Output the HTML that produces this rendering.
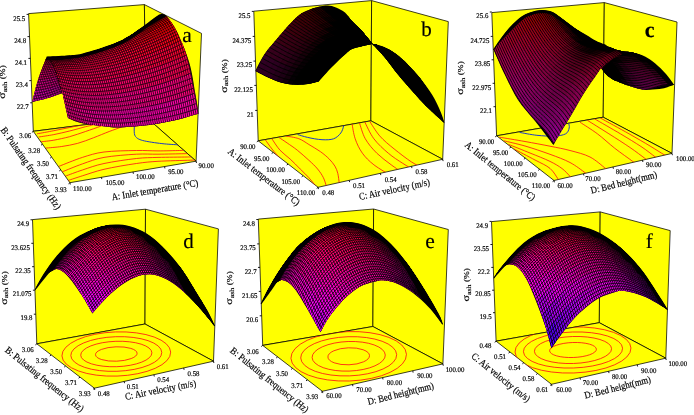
<!DOCTYPE html>
<html><head><meta charset="utf-8"><title>fig</title>
<style>
html,body{margin:0;padding:0;background:#fff}
svg{display:block;will-change:transform}
text{font-family:"Liberation Serif",serif;fill:#000;text-rendering:geometricPrecision;stroke:#000;stroke-width:.18}
.w{fill:#ffff00;stroke:#000;stroke-width:0.75;stroke-linejoin:round}
.t{stroke:#000;stroke-width:0.9}
.c{fill:none;stroke:#ff0a14;stroke-width:0.8}
.cb{fill:none;stroke:#1e3cc0;stroke-width:1}
.k{fill:#000}
</style></head><body>
<svg width="694" height="415" viewBox="0 0 694 415">
<rect width="694" height="415" fill="#fff"/>
<defs><pattern id="h1" patternUnits="userSpaceOnUse" width="2.30" height="8" patternTransform="rotate(-8.0)"><rect x="0" y="0" width="0.42" height="8" fill="#000"/></pattern><pattern id="h2" patternUnits="userSpaceOnUse" width="1.70" height="8" patternTransform="rotate(82.0)"><rect x="0" y="0" width="0.27" height="8" fill="#000"/></pattern></defs>
<polygon points="28.6,13.6 144.4,4.6 146.0,117.0 33.3,131.3" class="w"/>
<polygon points="144.4,4.6 201.5,33.4 196.1,161.2 146.0,117.0" class="w"/>
<polygon points="33.3,131.3 146.0,117.0 196.1,161.2 69.9,182.7" class="w"/>
<clipPath id="fa"><polygon points="33.3,131.3 146.0,117.0 196.1,161.2 69.9,182.7"/></clipPath><g clip-path="url(#fa)">
<path d="M37.1 133.8C39.9 133.3 48.4 131.8 53.8 130.7C59.2 129.6 64.8 128.5 69.6 127.5C74.3 126.5 78.1 125.8 82.3 124.7C86.5 123.6 92.9 121.6 95.0 121.0" class="c"/>
<path d="M38.7 137.0C41.2 136.6 48.6 135.6 53.8 134.6C58.9 133.6 64.3 132.3 69.6 131.0C74.9 129.7 81.5 127.8 85.5 126.7C89.5 125.7 90.2 125.8 93.4 124.7C96.7 123.6 103.1 120.8 105.0 120.0" class="c"/>
<path d="M41.1 141.8C43.2 141.5 49.0 141.0 53.8 140.2C58.5 139.3 64.3 138.1 69.6 136.7C74.9 135.2 80.2 133.3 85.5 131.5C90.8 129.7 96.9 127.7 101.3 125.9C105.7 124.2 110.2 121.8 112.0 121.0" class="c"/>
<path d="M45.8 148.1C48.4 147.8 56.4 147.3 61.7 146.5C67.0 145.7 72.2 144.8 77.5 143.4C82.8 142.0 88.1 139.8 93.4 137.8C98.7 135.8 104.5 133.3 109.2 131.5C114.0 129.7 118.1 128.4 121.9 126.7C125.7 125.0 130.3 122.0 132.0 121.0" class="c"/>
<path d="M59.0 166.3C62.9 164.8 74.9 159.8 82.4 157.4C89.9 155.0 95.0 153.2 104.0 152.0C113.0 150.8 127.4 150.7 136.4 150.5C145.4 150.3 150.8 150.9 158.0 150.9C165.2 150.9 175.4 150.6 179.7 150.5C184.0 150.4 183.3 150.3 184.0 150.3" class="c"/>
<path d="M62.3 171.8C65.7 170.5 75.5 166.3 82.4 163.9C89.4 161.5 95.0 159.0 104.0 157.4C113.0 155.8 127.4 154.7 136.4 154.2C145.4 153.7 150.1 154.3 158.0 154.2C165.9 154.1 179.0 153.8 184.0 153.7C189.0 153.6 187.3 153.5 188.0 153.5" class="c"/>
<path d="M65.5 176.1C68.3 175.1 76.0 172.1 82.4 170.0C88.8 167.9 95.0 165.4 104.0 163.5C113.0 161.6 127.4 159.5 136.4 158.5C145.4 157.5 149.5 157.7 158.0 157.4C166.5 157.2 181.5 157.1 187.2 157.0C192.9 156.9 191.2 156.8 192.0 156.8" class="c"/>
<path d="M68.3 180.4C70.7 179.6 76.5 177.7 82.4 175.8C88.4 174.0 95.0 171.4 104.0 169.3C113.0 167.2 127.4 164.8 136.4 163.5C145.4 162.2 149.0 161.9 158.0 161.3C167.0 160.8 184.2 160.4 190.5 160.2C196.8 160.0 195.1 160.0 196.0 160.0" class="c"/>
<path d="M135.0 122.0C134.9 123.3 134.1 127.6 134.2 130.0C134.3 132.4 134.1 134.8 135.5 136.5C136.9 138.2 138.3 139.3 142.7 140.5C147.1 141.7 156.0 142.9 161.9 143.6C167.8 144.3 175.3 144.6 178.0 144.8" class="cb"/>
</g>
<line x1="33.3" y1="131.3" x2="31.9" y2="132.4" class="t"/>
<line x1="42.5" y1="144.2" x2="41.0" y2="145.2" class="t"/>
<line x1="51.6" y1="157.0" x2="50.2" y2="158.1" class="t"/>
<line x1="60.8" y1="169.8" x2="59.3" y2="170.9" class="t"/>
<line x1="69.9" y1="182.7" x2="68.5" y2="183.8" class="t"/>
<line x1="69.9" y1="182.7" x2="70.3" y2="184.5" class="t"/>
<line x1="101.5" y1="177.3" x2="101.8" y2="179.1" class="t"/>
<line x1="133.0" y1="171.9" x2="133.4" y2="173.8" class="t"/>
<line x1="164.6" y1="166.6" x2="164.9" y2="168.4" class="t"/>
<line x1="196.1" y1="161.2" x2="196.5" y2="163.0" class="t"/>
<line x1="28.6" y1="14.4" x2="26.6" y2="14.4" class="t"/>
<line x1="29.5" y1="36.6" x2="27.5" y2="36.6" class="t"/>
<line x1="30.4" y1="58.4" x2="28.4" y2="58.4" class="t"/>
<line x1="31.3" y1="80.6" x2="29.3" y2="80.6" class="t"/>
<line x1="32.2" y1="102.8" x2="30.2" y2="102.8" class="t"/>
<clipPath id="csa"><path d="M32.3 102.0C33.2 98.3 35.6 87.5 38.0 80.0C40.4 72.5 45.2 60.8 46.6 57.0C50.0 56.8 61.0 56.3 67.0 55.8C73.0 55.3 74.9 55.9 82.7 53.9C90.5 51.9 106.2 46.9 114.0 43.9C121.8 40.9 124.5 39.1 129.7 36.0C134.9 32.9 140.7 28.4 145.4 25.0C150.1 21.6 155.9 17.2 158.0 15.7C158.8 15.5 161.4 14.2 163.0 14.5C164.6 14.8 165.0 14.4 167.3 17.2C169.6 20.0 173.0 23.7 176.7 31.3C180.4 38.9 186.2 52.2 189.3 62.7C192.4 73.2 194.0 86.5 195.4 94.0C196.8 101.5 197.3 104.7 197.8 108.0C198.3 111.3 198.4 112.8 198.5 113.8C197.3 114.1 194.7 114.8 191.3 115.8C188.0 116.8 183.8 118.3 178.4 119.6C173.0 120.9 165.4 122.4 158.9 123.5C152.4 124.6 146.0 125.4 139.5 126.1C133.0 126.8 125.0 127.3 120.0 127.4C115.0 127.5 113.6 127.3 109.2 126.9C104.8 126.5 98.7 125.9 93.4 125.1C88.1 124.3 81.7 123.2 77.5 122.0C73.3 120.8 69.6 118.7 68.0 118.0C67.4 115.2 65.1 105.2 64.2 101.0C63.3 96.8 62.8 94.3 62.5 93.0C60.1 93.8 53.0 96.5 48.0 98.0C43.0 99.5 34.9 101.3 32.3 102.0Z"/></clipPath>
<path d="M32.3 102.0C33.2 98.3 35.6 87.5 38.0 80.0C40.4 72.5 45.2 60.8 46.6 57.0C50.0 56.8 61.0 56.3 67.0 55.8C73.0 55.3 74.9 55.9 82.7 53.9C90.5 51.9 106.2 46.9 114.0 43.9C121.8 40.9 124.5 39.1 129.7 36.0C134.9 32.9 140.7 28.4 145.4 25.0C150.1 21.6 155.9 17.2 158.0 15.7C158.8 15.5 161.4 14.2 163.0 14.5C164.6 14.8 165.0 14.4 167.3 17.2C169.6 20.0 173.0 23.7 176.7 31.3C180.4 38.9 186.2 52.2 189.3 62.7C192.4 73.2 194.0 86.5 195.4 94.0C196.8 101.5 197.3 104.7 197.8 108.0C198.3 111.3 198.4 112.8 198.5 113.8C197.3 114.1 194.7 114.8 191.3 115.8C188.0 116.8 183.8 118.3 178.4 119.6C173.0 120.9 165.4 122.4 158.9 123.5C152.4 124.6 146.0 125.4 139.5 126.1C133.0 126.8 125.0 127.3 120.0 127.4C115.0 127.5 113.6 127.3 109.2 126.9C104.8 126.5 98.7 125.9 93.4 125.1C88.1 124.3 81.7 123.2 77.5 122.0C73.3 120.8 69.6 118.7 68.0 118.0C67.4 115.2 65.1 105.2 64.2 101.0C63.3 96.8 62.8 94.3 62.5 93.0C60.1 93.8 53.0 96.5 48.0 98.0C43.0 99.5 34.9 101.3 32.3 102.0Z" fill="#000"/>
<g clip-path="url(#csa)">
<path d="M137.8 43.8l4.3-8.1 7.3-5.6-4.5 7.9z" fill="#ff0049" stroke="#ff0049" stroke-width=".7"/>
<path d="M130.7 49.3l4.2-8.2 7.2-5.4-4.3 8.1z" fill="#ff0056" stroke="#ff0056" stroke-width=".7"/>
<path d="M123.6 54.7l4.1-8.5 7.2-5.1-4.2 8.2z" fill="#ff0063" stroke="#ff0063" stroke-width=".7"/>
<path d="M116.6 59.8l3.9-8.6 7.2-5-4.1 8.5z" fill="#ff006f" stroke="#ff006f" stroke-width=".7"/>
<path d="M109.5 64.8l3.8-8.9 7.2-4.7-3.9 8.6z" fill="#ff007b" stroke="#ff007b" stroke-width=".7"/>
<path d="M102.5 69.5l3.6-9 7.2-4.6-3.8 8.9z" fill="#ff0086" stroke="#ff0086" stroke-width=".7"/>
<path d="M95.4 74.1l3.6-9.2 7.1-4.4-3.6 9z" fill="#ff0091" stroke="#ff0091" stroke-width=".7"/>
<path d="M88.4 78.5l3.4-9.4 7.2-4.2-3.6 9.2z" fill="#ff009a" stroke="#ff009a" stroke-width=".7"/>
<path d="M81.4 82.7l3.3-9.6 7.1-4-3.4 9.4z" fill="#ff00a4" stroke="#ff00a4" stroke-width=".7"/>
<path d="M74.4 86.6l3.1-9.8 7.2-3.7-3.3 9.6z" fill="#ff00ac" stroke="#ff00ac" stroke-width=".7"/>
<path d="M67.3 90.2l3.1-10 7.1-3.4-3.1 9.8z" fill="#ff00b4" stroke="#ff00b4" stroke-width=".7"/>
<path d="M60.3 93.5l3-10.3 7.1-3-3.1 10z" fill="#ff00bb" stroke="#ff00bb" stroke-width=".7"/>
<path d="M53.3 96.4l2.8-10.5 7.2-2.7-3 10.3z" fill="#ff00c1" stroke="#ff00c1" stroke-width=".7"/>
<path d="M46.3 98.8l2.7-10.8 7.1-2.1-2.8 10.5z" fill="#ff00c5" stroke="#ff00c5" stroke-width=".7"/>
<path d="M142.1 35.7l4.5-7.4 7.4-5.4-4.6 7.2z" fill="#ff002c" stroke="#ff002c" stroke-width=".7"/>
<path d="M134.9 41.1l4.3-7.6 7.4-5.2-4.5 7.4z" fill="#ff0039" stroke="#ff0039" stroke-width=".7"/>
<path d="M39.2 100.6l2.6-11 7.2-1.6-2.7 10.8z" fill="#ff00c9" stroke="#ff00c9" stroke-width=".7"/>
<path d="M127.7 46.2l4.2-7.8 7.3-4.9-4.3 7.6z" fill="#ff0045" stroke="#ff0045" stroke-width=".7"/>
<path d="M120.5 51.2l4-8 7.4-4.8-4.2 7.8z" fill="#ff0051" stroke="#ff0051" stroke-width=".7"/>
<path d="M113.3 55.9l3.9-8.2 7.3-4.5-4 8z" fill="#ff005c" stroke="#ff005c" stroke-width=".7"/>
<path d="M32.1 101.8l2.5-11.3 7.2-.9-2.6 11z" fill="#ff00ca" stroke="#ff00ca" stroke-width=".7"/>
<path d="M106.1 60.5l3.8-8.4 7.3-4.4-3.9 8.2z" fill="#ff0066" stroke="#ff0066" stroke-width=".7"/>
<path d="M99 64.9l3.6-8.7 7.3-4.1-3.8 8.4z" fill="#ff0070" stroke="#ff0070" stroke-width=".7"/>
<path d="M91.8 69.1l3.5-8.9 7.3-4-3.6 8.7z" fill="#ff0079" stroke="#ff0079" stroke-width=".7"/>
<path d="M84.7 73.1l3.4-9.2 7.2-3.7-3.5 8.9z" fill="#ff0082" stroke="#ff0082" stroke-width=".7"/>
<path d="M77.5 76.8l3.3-9.4 7.3-3.5-3.4 9.2z" fill="#ff0089" stroke="#ff0089" stroke-width=".7"/>
<path d="M70.4 80.2l3.1-9.6 7.3-3.2-3.3 9.4z" fill="#ff0091" stroke="#ff0091" stroke-width=".7"/>
<path d="M63.3 83.2l3-9.8 7.2-2.8-3.1 9.6z" fill="#ff0097" stroke="#ff0097" stroke-width=".7"/>
<path d="M56.1 85.9l2.9-10.1 7.3-2.4-3 9.8z" fill="#ff009c" stroke="#ff009c" stroke-width=".7"/>
<path d="M146.6 28.3l4.5-5.7 7.6-5.2-4.7 5.5z" fill="#000000" stroke="#000000" stroke-width=".7"/>
<path d="M139.2 33.5l4.4-5.9 7.5-5-4.5 5.7z" fill="#000000" stroke="#000000" stroke-width=".7"/>
<path d="M49 88l2.7-10.3 7.3-1.9-2.9 10.1z" fill="#ff00a0" stroke="#ff00a0" stroke-width=".7"/>
<path d="M131.9 38.4l4.3-6.1 7.4-4.7-4.4 5.9z" fill="#000000" stroke="#000000" stroke-width=".7"/>
<path d="M124.5 43.2l4.2-6.4 7.5-4.5-4.3 6.1z" fill="#ff0036" stroke="#ff0036" stroke-width=".7"/>
<path d="M117.2 47.7l4-6.5 7.5-4.4-4.2 6.4z" fill="#ff0040" stroke="#ff0040" stroke-width=".7"/>
<path d="M41.8 89.6l2.6-10.6 7.3-1.3-2.7 10.3z" fill="#ff00a2" stroke="#ff00a2" stroke-width=".7"/>
<path d="M109.9 52.1l3.9-6.8 7.4-4.1-4 6.5z" fill="#ff004a" stroke="#ff004a" stroke-width=".7"/>
<path d="M102.6 56.2l3.8-7 7.4-3.9-3.9 6.8z" fill="#ff0053" stroke="#ff0053" stroke-width=".7"/>
<path d="M34.6 90.5l2.5-10.9 7.3-.6-2.6 10.6z" fill="#ff00a3" stroke="#ff00a3" stroke-width=".7"/>
<path d="M95.3 60.2l3.7-7.3 7.4-3.7-3.8 7z" fill="#ff005b" stroke="#ff005b" stroke-width=".7"/>
<path d="M88.1 63.9l3.5-7.5 7.4-3.5-3.7 7.3z" fill="#ff0063" stroke="#ff0063" stroke-width=".7"/>
<path d="M80.8 67.4l3.4-7.8 7.4-3.2-3.5 7.5z" fill="#ff006a" stroke="#ff006a" stroke-width=".7"/>
<path d="M73.5 70.6l3.3-8.1 7.4-2.9-3.4 7.8z" fill="#ff0070" stroke="#ff0070" stroke-width=".7"/>
<path d="M66.3 73.4l3.1-8.3 7.4-2.6-3.3 8.1z" fill="#ff0076" stroke="#ff0076" stroke-width=".7"/>
<path d="M151.1 22.6l4.7-3 7.6-5-4.7 2.8z" fill="#000000" stroke="#000000" stroke-width=".7"/>
<path d="M143.6 27.6l4.5-3.2 7.7-4.8-4.7 3z" fill="#000000" stroke="#000000" stroke-width=".7"/>
<path d="M59 75.8l3-8.6 7.4-2.1-3.1 8.3z" fill="#ff007a" stroke="#ff007a" stroke-width=".7"/>
<path d="M136.2 32.3l4.3-3.5 7.6-4.4-4.5 3.2z" fill="#000000" stroke="#000000" stroke-width=".7"/>
<path d="M128.7 36.8l4.2-3.7 7.6-4.3-4.3 3.5z" fill="#000000" stroke="#000000" stroke-width=".7"/>
<path d="M51.7 77.7l2.9-8.9 7.4-1.6-3 8.6z" fill="#ff007d" stroke="#ff007d" stroke-width=".7"/>
<path d="M121.2 41.2l4.1-4 7.6-4.1-4.2 3.7z" fill="#000000" stroke="#000000" stroke-width=".7"/>
<path d="M113.8 45.3l4-4.3 7.5-3.8-4.1 4z" fill="#000000" stroke="#000000" stroke-width=".7"/>
<path d="M44.4 79l2.8-9.1 7.4-1.1-2.9 8.9z" fill="#ff007f" stroke="#ff007f" stroke-width=".7"/>
<path d="M106.4 49.2l3.8-4.5 7.6-3.7-4 4.3z" fill="#000000" stroke="#000000" stroke-width=".7"/>
<path d="M99 52.9l3.7-4.7 7.5-3.5-3.8 4.5z" fill="#000000" stroke="#000000" stroke-width=".7"/>
<path d="M37.1 79.6l2.6-9.4 7.5-.3-2.8 9.1z" fill="#ff007f" stroke="#ff007f" stroke-width=".7"/>
<path d="M91.6 56.4l3.6-5 7.5-3.2-3.7 4.7z" fill="#ff004a" stroke="#ff004a" stroke-width=".7"/>
<path d="M84.2 59.6l3.4-5.3 7.6-2.9-3.6 5z" fill="#ff0051" stroke="#ff0051" stroke-width=".7"/>
<path d="M155.8 19.6l4.6 .3 7.8-4.7-4.8-.6z" fill="#000000" stroke="#000000" stroke-width=".7"/>
<path d="M76.8 62.5l3.3-5.5 7.5-2.7-3.4 5.3z" fill="#ff0056" stroke="#ff0056" stroke-width=".7"/>
<path d="M148.1 24.4l4.6 0 7.7-4.5-4.6-.3z" fill="#000000" stroke="#000000" stroke-width=".7"/>
<path d="M140.5 28.8l4.4-.2 7.8-4.2-4.6 0z" fill="#000000" stroke="#000000" stroke-width=".7"/>
<path d="M69.4 65.1l3.2-5.9 7.5-2.2-3.3 5.5z" fill="#ff005b" stroke="#ff005b" stroke-width=".7"/>
<path d="M132.9 33.1l4.3-.5 7.7-4-4.4 .2z" fill="#000000" stroke="#000000" stroke-width=".7"/>
<path d="M125.3 37.2l4.2-.8 7.7-3.8-4.3 .5z" fill="#000000" stroke="#000000" stroke-width=".7"/>
<path d="M62 67.2l3.1-6.1 7.5-1.9-3.2 5.9z" fill="#ff005f" stroke="#ff005f" stroke-width=".7"/>
<path d="M117.8 41l4-1 7.7-3.6-4.2 .8z" fill="#000000" stroke="#000000" stroke-width=".7"/>
<path d="M54.6 68.8l2.9-6.4 7.6-1.3-3.1 6.1z" fill="#ff0061" stroke="#ff0061" stroke-width=".7"/>
<path d="M110.2 44.7l3.9-1.3 7.7-3.4-4 1z" fill="#000000" stroke="#000000" stroke-width=".7"/>
<path d="M102.7 48.2l3.8-1.6 7.6-3.2-3.9 1.3z" fill="#000000" stroke="#000000" stroke-width=".7"/>
<path d="M47.2 69.9l2.8-6.8 7.5-.7-2.9 6.4z" fill="#ff0062" stroke="#ff0062" stroke-width=".7"/>
<path d="M160.4 19.9l4.6 4 7.9-4.5-4.7-4.2z" fill="#f10000" stroke="#f10000" stroke-width=".7"/>
<path d="M95.2 51.4l3.6-1.8 7.7-3-3.8 1.6z" fill="#000000" stroke="#000000" stroke-width=".7"/>
<path d="M152.7 24.4l4.5 3.7 7.8-4.2-4.6-4z" fill="#ff0000" stroke="#ff0000" stroke-width=".7"/>
<path d="M87.6 54.3l3.6-2.1 7.6-2.6-3.6 1.8z" fill="#000000" stroke="#000000" stroke-width=".7"/>
<path d="M39.7 70.2l2.7-7 7.6-.1-2.8 6.8z" fill="#ff0061" stroke="#ff0061" stroke-width=".7"/>
<path d="M144.9 28.6l4.4 3.5 7.9-4-4.5-3.7z" fill="#ff0009" stroke="#ff0009" stroke-width=".7"/>
<path d="M137.2 32.6l4.3 3.2 7.8-3.7-4.4-3.5z" fill="#ff0012" stroke="#ff0012" stroke-width=".7"/>
<path d="M80.1 57l3.5-2.4 7.6-2.4-3.6 2.1z" fill="#000000" stroke="#000000" stroke-width=".7"/>
<path d="M129.5 36.4l4.2 2.9 7.8-3.5-4.3-3.2z" fill="#ff0019" stroke="#ff0019" stroke-width=".7"/>
<path d="M72.6 59.2l3.3-2.7 7.7-1.9-3.5 2.4z" fill="#000000" stroke="#000000" stroke-width=".7"/>
<path d="M121.8 40l4.1 2.7 7.8-3.4-4.2-2.9z" fill="#ff0020" stroke="#ff0020" stroke-width=".7"/>
<path d="M114.1 43.4l4 2.4 7.8-3.1-4.1-2.7z" fill="#ff0027" stroke="#ff0027" stroke-width=".7"/>
<path d="M65.1 61.1l3.2-3 7.6-1.6-3.3 2.7z" fill="#000000" stroke="#000000" stroke-width=".7"/>
<path d="M165 23.9l4.6 7.9 8-4.2-4.7-8.2z" fill="#ff0000" stroke="#ff0000" stroke-width=".7"/>
<path d="M106.5 46.6l3.9 2.1 7.7-2.9-4-2.4z" fill="#ff002d" stroke="#ff002d" stroke-width=".7"/>
<path d="M157.2 28.1l4.4 7.6 8-3.9-4.6-7.9z" fill="#ff0009" stroke="#ff0009" stroke-width=".7"/>
<path d="M57.5 62.4l3.1-3.3 7.7-1-3.2 3z" fill="#000000" stroke="#000000" stroke-width=".7"/>
<path d="M149.3 32.1l4.4 7.3 7.9-3.7-4.4-7.6z" fill="#ff0011" stroke="#ff0011" stroke-width=".7"/>
<path d="M98.8 49.6l3.8 1.7 7.8-2.6-3.9-2.1z" fill="#ff0032" stroke="#ff0032" stroke-width=".7"/>
<path d="M141.5 35.8l4.3 7.1 7.9-3.5-4.4-7.3z" fill="#ff0018" stroke="#ff0018" stroke-width=".7"/>
<path d="M50 63.1l3-3.6 7.6-.4-3.1 3.3z" fill="#ff004c" stroke="#ff004c" stroke-width=".7"/>
<path d="M91.2 52.2l3.6 1.5 7.8-2.4-3.8-1.7z" fill="#000000" stroke="#000000" stroke-width=".7"/>
<path d="M133.7 39.3l4.2 6.8 7.9-3.2-4.3-7.1z" fill="#ff001f" stroke="#ff001f" stroke-width=".7"/>
<path d="M169.6 31.8l4.4 11.7 8.1-3.9-4.5-12z" fill="#ff0013" stroke="#ff0013" stroke-width=".7"/>
<path d="M83.6 54.6l3.5 1.1 7.7-2-3.6-1.5z" fill="#000000" stroke="#000000" stroke-width=".7"/>
<path d="M125.9 42.7l4.1 6.4 7.9-3-4.2-6.8z" fill="#ff0025" stroke="#ff0025" stroke-width=".7"/>
<path d="M42.4 63.2l2.9-4 7.7 .3-3 3.6z" fill="#ff004b" stroke="#ff004b" stroke-width=".7"/>
<path d="M161.6 35.7l4.4 11.5 8-3.7-4.4-11.7z" fill="#ff001b" stroke="#ff001b" stroke-width=".7"/>
<path d="M118.1 45.8l4 6.1 7.9-2.8-4.1-6.4z" fill="#ff002b" stroke="#ff002b" stroke-width=".7"/>
<path d="M75.9 56.5l3.5 .9 7.7-1.7-3.5-1.1z" fill="#000000" stroke="#000000" stroke-width=".7"/>
<path d="M153.7 39.4l4.3 11.1 8-3.3-4.4-11.5z" fill="#ff0022" stroke="#ff0022" stroke-width=".7"/>
<path d="M110.4 48.7l3.8 5.8 7.9-2.6-4-6.1z" fill="#ff0030" stroke="#ff0030" stroke-width=".7"/>
<path d="M145.8 42.9l4.2 10.8 8-3.2-4.3-11.1z" fill="#ff0029" stroke="#ff0029" stroke-width=".7"/>
<path d="M68.3 58.1l3.3 .5 7.8-1.2-3.5-.9z" fill="#000000" stroke="#000000" stroke-width=".7"/>
<path d="M174 43.5l4.3 15.2 8.1-3.7-4.3-15.4z" fill="#ff002f" stroke="#ff002f" stroke-width=".7"/>
<path d="M102.6 51.3l3.8 5.5 7.8-2.3-3.8-5.8z" fill="#ff0034" stroke="#ff0034" stroke-width=".7"/>
<path d="M137.9 46.1l4.1 10.5 8-2.9-4.2-10.8z" fill="#ff002e" stroke="#ff002e" stroke-width=".7"/>
<path d="M166 47.2l4.2 14.8 8.1-3.3-4.3-15.2z" fill="#ff0036" stroke="#ff0036" stroke-width=".7"/>
<path d="M60.6 59.1l3.2 .1 7.8-.6-3.3-.5z" fill="#000000" stroke="#000000" stroke-width=".7"/>
<path d="M130 49.1l4 10.2 8-2.7-4.1-10.5z" fill="#ff0034" stroke="#ff0034" stroke-width=".7"/>
<path d="M94.8 53.7l3.8 5.2 7.8-2.1-3.8-5.5z" fill="#ff0038" stroke="#ff0038" stroke-width=".7"/>
<path d="M158 50.5l4.1 14.5 8.1-3-4.2-14.8z" fill="#ff003c" stroke="#ff003c" stroke-width=".7"/>
<path d="M178.3 58.7l4 17.9 8.2-3.3-4.1-18.3z" fill="#ff0053" stroke="#ff0053" stroke-width=".7"/>
<path d="M122.1 51.9l4 9.9 7.9-2.5-4-10.2z" fill="#ff0038" stroke="#ff0038" stroke-width=".7"/>
<path d="M150 53.7l4.1 14.1 8-2.8-4.1-14.5z" fill="#ff0042" stroke="#ff0042" stroke-width=".7"/>
<path d="M87.1 55.7l3.6 4.9 7.9-1.7-3.8-5.2z" fill="#ff003b" stroke="#ff003b" stroke-width=".7"/>
<path d="M53 59.5l3-.2 7.8-.1-3.2-.1z" fill="#000000" stroke="#000000" stroke-width=".7"/>
<path d="M170.2 62l4 17.5 8.1-2.9-4-17.9z" fill="#ff0058" stroke="#ff0058" stroke-width=".7"/>
<path d="M114.2 54.5l3.9 9.5 8-2.2-4-9.9z" fill="#ff003c" stroke="#ff003c" stroke-width=".7"/>
<path d="M182.3 76.6l3.9 19.6 8.2-2.9-3.9-20z" fill="#ff007b" stroke="#ff007b" stroke-width=".7"/>
<path d="M142 56.6l4 13.8 8.1-2.6-4.1-14.1z" fill="#ff0046" stroke="#ff0046" stroke-width=".7"/>
<path d="M162.1 65l4 17.3 8.1-2.8-4-17.5z" fill="#ff005d" stroke="#ff005d" stroke-width=".7"/>
<path d="M79.4 57.4l3.5 4.5 7.8-1.3-3.6-4.9z" fill="#ff003d" stroke="#ff003d" stroke-width=".7"/>
<path d="M45.3 59.2l2.9-.5 7.8 .6-3 .2z" fill="#000000" stroke="#000000" stroke-width=".7"/>
<path d="M174.2 79.5l3.9 19.4 8.1-2.7-3.9-19.6z" fill="#ff0080" stroke="#ff0080" stroke-width=".7"/>
<path d="M134 59.3l4 13.5 8-2.4-4-13.8z" fill="#ff004b" stroke="#ff004b" stroke-width=".7"/>
<path d="M106.4 56.8l3.8 9.2 7.9-2-3.9-9.5z" fill="#ff0040" stroke="#ff0040" stroke-width=".7"/>
<path d="M154.1 67.8l3.9 16.9 8.1-2.4-4-17.3z" fill="#ff0062" stroke="#ff0062" stroke-width=".7"/>
<path d="M186.2 96.2l3.7 20.2 8.2-2.6-3.7-20.5z" fill="#ff00a5" stroke="#ff00a5" stroke-width=".7"/>
<path d="M71.6 58.6l3.4 4.2 7.9-.9-3.5-4.5z" fill="#ff003e" stroke="#ff003e" stroke-width=".7"/>
<path d="M166.1 82.3l3.9 18.9 8.1-2.3-3.9-19.4z" fill="#ff0083" stroke="#ff0083" stroke-width=".7"/>
<path d="M126.1 61.8l3.9 13.2 8-2.2-4-13.5z" fill="#ff004e" stroke="#ff004e" stroke-width=".7"/>
<path d="M98.6 58.9l3.7 8.8 7.9-1.7-3.8-9.2z" fill="#ff0042" stroke="#ff0042" stroke-width=".7"/>
<path d="M146 70.4l4 16.6 8-2.3-3.9-16.9z" fill="#ff0065" stroke="#ff0065" stroke-width=".7"/>
<path d="M178.1 98.9l3.7 19.7 8.1-2.2-3.7-20.2z" fill="#ff00a9" stroke="#ff00a9" stroke-width=".7"/>
<path d="M63.8 59.2l3.3 3.9 7.9-.3-3.4-4.2z" fill="#ff003e" stroke="#ff003e" stroke-width=".7"/>
<path d="M158 84.7l3.9 18.6 8.1-2.1-3.9-18.9z" fill="#ff0087" stroke="#ff0087" stroke-width=".7"/>
<path d="M118.1 64l3.9 12.9 8-1.9-3.9-13.2z" fill="#ff0051" stroke="#ff0051" stroke-width=".7"/>
<path d="M90.7 60.6l3.7 8.5 7.9-1.4-3.7-8.8z" fill="#ff0044" stroke="#ff0044" stroke-width=".7"/>
<path d="M138 72.8l3.9 16.2 8.1-2-4-16.6z" fill="#ff0069" stroke="#ff0069" stroke-width=".7"/>
<path d="M170 101.2l3.7 19.4 8.1-2-3.7-19.7z" fill="#ff00ac" stroke="#ff00ac" stroke-width=".7"/>
<path d="M150 87l3.8 18.2 8.1-1.9-3.9-18.6z" fill="#ff0089" stroke="#ff0089" stroke-width=".7"/>
<path d="M110.2 66l3.8 12.5 8-1.6-3.9-12.9z" fill="#ff0054" stroke="#ff0054" stroke-width=".7"/>
<path d="M56 59.3l3.2 3.5 7.9 .3-3.3-3.9z" fill="#ff003c" stroke="#ff003c" stroke-width=".7"/>
<path d="M130 75l3.9 15.8 8-1.8-3.9-16.2z" fill="#ff006b" stroke="#ff006b" stroke-width=".7"/>
<path d="M82.9 61.9l3.5 8.2 8-1-3.7-8.5z" fill="#ff0045" stroke="#ff0045" stroke-width=".7"/>
<path d="M161.9 103.3l3.7 19 8.1-1.7-3.7-19.4z" fill="#ff00ae" stroke="#ff00ae" stroke-width=".7"/>
<path d="M141.9 89l3.8 17.8 8.1-1.6-3.8-18.2z" fill="#ff008b" stroke="#ff008b" stroke-width=".7"/>
<path d="M102.3 67.7l3.7 12.2 8-1.4-3.8-12.5z" fill="#ff0055" stroke="#ff0055" stroke-width=".7"/>
<path d="M122 76.9l3.8 15.4 8.1-1.5-3.9-15.8z" fill="#ff006d" stroke="#ff006d" stroke-width=".7"/>
<path d="M153.8 105.2l3.7 18.5 8.1-1.4-3.7-19z" fill="#ff00af" stroke="#ff00af" stroke-width=".7"/>
<path d="M75 62.8l3.5 7.8 7.9-.5-3.5-8.2z" fill="#ff0045" stroke="#ff0045" stroke-width=".7"/>
<path d="M48.2 58.7l3.1 3.1 7.9 1-3.2-3.5z" fill="#ff0039" stroke="#ff0039" stroke-width=".7"/>
<path d="M133.9 90.8l3.7 17.4 8.1-1.4-3.8-17.8z" fill="#ff008d" stroke="#ff008d" stroke-width=".7"/>
<path d="M94.4 69.1l3.6 11.8 8-1-3.7-12.2z" fill="#ff0056" stroke="#ff0056" stroke-width=".7"/>
<path d="M114 78.5l3.8 15.1 8-1.3-3.8-15.4z" fill="#ff006e" stroke="#ff006e" stroke-width=".7"/>
<path d="M145.7 106.8l3.7 18.2 8.1-1.3-3.7-18.5z" fill="#ff00b0" stroke="#ff00b0" stroke-width=".7"/>
<path d="M67.1 63.1l3.4 7.5 8 0-3.5-7.8z" fill="#ff0044" stroke="#ff0044" stroke-width=".7"/>
<path d="M125.8 92.3l3.8 17 8-1.1-3.7-17.4z" fill="#ff008e" stroke="#ff008e" stroke-width=".7"/>
<path d="M86.4 70.1l3.6 11.4 8-.6-3.6-11.8z" fill="#ff0056" stroke="#ff0056" stroke-width=".7"/>
<path d="M106 79.9l3.8 14.6 8-.9-3.8-15.1z" fill="#ff006f" stroke="#ff006f" stroke-width=".7"/>
<path d="M137.6 108.2l3.7 17.7 8.1-.9-3.7-18.2z" fill="#ff00b0" stroke="#ff00b0" stroke-width=".7"/>
<path d="M59.2 62.8l3.4 7.1 7.9 .7-3.4-7.5z" fill="#ff0042" stroke="#ff0042" stroke-width=".7"/>
<path d="M117.8 93.6l3.7 16.6 8.1-.9-3.8-17z" fill="#ff008e" stroke="#ff008e" stroke-width=".7"/>
<path d="M78.5 70.6l3.5 11 8-.1-3.6-11.4z" fill="#ff0055" stroke="#ff0055" stroke-width=".7"/>
<path d="M98 80.9l3.7 14.3 8.1-.7-3.8-14.6z" fill="#ff006f" stroke="#ff006f" stroke-width=".7"/>
<path d="M129.6 109.3l3.7 17.4 8-.8-3.7-17.7z" fill="#ff00b0" stroke="#ff00b0" stroke-width=".7"/>
<path d="M109.8 94.5l3.6 16.3 8.1-.6-3.7-16.6z" fill="#ff008d" stroke="#ff008d" stroke-width=".7"/>
<path d="M51.3 61.8l3.2 6.7 8.1 1.4-3.4-7.1z" fill="#ff003d" stroke="#ff003d" stroke-width=".7"/>
<path d="M90 81.5l3.7 13.9 8-.2-3.7-14.3z" fill="#ff006e" stroke="#ff006e" stroke-width=".7"/>
<path d="M70.5 70.6l3.5 10.6 8 .4-3.5-11z" fill="#ff0053" stroke="#ff0053" stroke-width=".7"/>
<path d="M121.5 110.2l3.7 16.9 8.1-.4-3.7-17.4z" fill="#ff00af" stroke="#ff00af" stroke-width=".7"/>
<path d="M101.7 95.2l3.7 15.8 8-.2-3.6-16.3z" fill="#ff008c" stroke="#ff008c" stroke-width=".7"/>
<path d="M82 81.6l3.6 13.5 8.1 .3-3.7-13.9z" fill="#ff006c" stroke="#ff006c" stroke-width=".7"/>
<path d="M62.6 69.9l3.3 10.2 8.1 1.1-3.5-10.6z" fill="#ff004f" stroke="#ff004f" stroke-width=".7"/>
<path d="M113.4 110.8l3.7 16.5 8.1-.2-3.7-16.9z" fill="#ff00ad" stroke="#ff00ad" stroke-width=".7"/>
<path d="M93.7 95.4l3.6 15.4 8.1 .2-3.7-15.8z" fill="#ff008a" stroke="#ff008a" stroke-width=".7"/>
<path d="M74 81.2l3.5 13.1 8.1 .8-3.6-13.5z" fill="#ff0068" stroke="#ff0068" stroke-width=".7"/>
<path d="M105.4 111l3.6 16 8.1 .3-3.7-16.5z" fill="#ff00ab" stroke="#ff00ab" stroke-width=".7"/>
<path d="M54.5 68.5l3.3 9.8 8.1 1.8-3.3-10.2z" fill="#ff004a" stroke="#ff004a" stroke-width=".7"/>
<path d="M85.6 95.1l3.6 15 8.1 .7-3.6-15.4z" fill="#ff0087" stroke="#ff0087" stroke-width=".7"/>
<path d="M65.9 80.1l3.5 12.7 8.1 1.5-3.5-13.1z" fill="#ff0064" stroke="#ff0064" stroke-width=".7"/>
<path d="M97.3 110.8l3.5 15.6 8.2 .6-3.6-16z" fill="#ff00a8" stroke="#ff00a8" stroke-width=".7"/>
<path d="M77.5 94.3l3.5 14.6 8.2 1.2-3.6-15z" fill="#ff0082" stroke="#ff0082" stroke-width=".7"/>
<path d="M89.2 110.1l3.5 15.1 8.1 1.2-3.5-15.6z" fill="#ff00a3" stroke="#ff00a3" stroke-width=".7"/>
<path d="M57.8 78.3l3.4 12.3 8.2 2.2-3.5-12.7z" fill="#ff005d" stroke="#ff005d" stroke-width=".7"/>
<path d="M69.4 92.8l3.4 14.1 8.2 2-3.5-14.6z" fill="#ff007c" stroke="#ff007c" stroke-width=".7"/>
<path d="M81 108.9l3.5 14.6 8.2 1.7-3.5-15.1z" fill="#ff009d" stroke="#ff009d" stroke-width=".7"/>
<path d="M61.2 90.6l3.4 13.7 8.2 2.6-3.4-14.1z" fill="#ff0075" stroke="#ff0075" stroke-width=".7"/>
<path d="M72.8 106.9l3.5 14.2 8.2 2.4-3.5-14.6z" fill="#ff0096" stroke="#ff0096" stroke-width=".7"/>
<path d="M64.6 104.3l3.4 13.7 8.3 3.1-3.5-14.2z" fill="#ff008e" stroke="#ff008e" stroke-width=".7"/>
<path d="M32.1 101.8l1.8-.2 1.8-.3 1.7-.3 1.8-.4 1.8-.4 1.7-.4 1.8-.5 1.8-.5 1.7-.6 1.8-.6 1.7-.6 1.8-.6 1.8-.7 1.7-.7 1.8-.7 1.7-.8 1.8-.8M32.7 99l1.8-.2 1.8-.3 1.8-.3 1.7-.3 1.8-.4 1.8-.4 1.8-.5 1.7-.5 1.8-.5 1.8-.6 1.7-.6 1.8-.6 1.8-.7 1.7-.7 1.8-.7 1.8-.7M33.4 96.2l1.7-.2 1.8-.2 1.8-.3 1.8-.3 1.8-.4 1.8-.4 1.7-.5 1.8-.5 1.8-.5 1.8-.5 1.7-.6 1.8-.6 1.8-.7 1.7-.7 1.8-.7 1.8-.7M34 93.4l1.8-.2 1.8-.2 1.8-.3 1.7-.3 1.8-.4 1.8-.4 1.8-.4 1.8-.5 1.8-.5 1.7-.5 1.8-.6 1.8-.6 1.8-.6 1.8-.7 1.7-.7M34.6 90.5l1.8-.1 1.8-.2 1.8-.3 1.8-.3 1.8-.3 1.8-.4 1.8-.4 1.8-.5 1.8-.4 1.7-.6 1.8-.5 1.8-.6 1.8-.6 1.8-.7M35.2 87.7l1.8-.1 1.8-.2 1.8-.2 1.8-.3 1.8-.3 1.8-.4 1.8-.4 1.8-.4 1.8-.5 1.8-.5 1.8-.5 1.8-.6 1.8-.6M35.8 85l1.9-.1 1.8-.2 1.8-.2 1.8-.3 1.8-.3 1.8-.4 1.8-.3 1.8-.5 1.8-.4 1.8-.5 1.9-.5 1.8-.6 1.8-.6M36.5 82.3l1.8-.1 1.8-.2 1.8-.2 1.9-.2 1.8-.3 1.8-.4 1.8-.3 1.8-.4 1.8-.5 1.9-.4 1.8-.5 1.8-.6M37.1 79.6l1.8 0 1.9-.2 1.8-.2 1.8-.2 1.9-.3 1.8-.3 1.8-.3 1.8-.4 1.8-.4 1.9-.5 1.8-.5M37.8 77.1l1.8-.1 1.8-.1 1.9-.1 1.8-.3 1.8-.2 1.9-.3 1.8-.3 1.8-.4 1.9-.4 1.8-.5M38.4 74.7l1.8-.1 1.9-.1 1.8-.1 1.9-.2 1.8-.2 1.9-.3 1.8-.3 1.8-.4 1.9-.4 1.8-.4M39.1 72.4l1.8-.1 1.9 0 1.8-.2 1.9-.1 1.8-.3 1.9-.2 1.8-.3 1.9-.3 1.8-.4M39.7 70.2l1.9 0 1.8-.1 1.9-.1 1.9-.1 1.8-.2 1.9-.3 1.8-.2 1.9-.4M153 21.4l1.9-1.3 1.9-1.3 1.9-1.4M40.4 68.2l1.9 0 1.8 0 1.9-.1 1.9-.2 1.8-.2 1.9-.2 1.9-.2M139.1 30l1.9-1.1M142.9 27.7l1.9-1.2 1.8-1.2 1.9-1.2 1.9-1.2 1.9-1.3 1.9-1.2 1.9-1.3 1.9-1.3 1.9-1.4M41.1 66.3l1.8 .1 1.9-.1 1.9 0 1.9-.2 1.8-.1 1.9-.2 1.9-.3M125.2 37.8l1.8-1.1 1.9-1 1.9-1.1 1.9-1.1 1.9-1.1 1.8-1.1 1.9-1.1 1.9-1.1 1.9-1.2 1.9-1.1 1.9-1.2 1.9-1.2 1.9-1.2 1.9-1.2 1.8-1.2 1.9-1.3 1.9-1.3 1.9-1.2 1.9-1.4M41.7 64.7l1.9 0 1.9 0 1.9-.1 1.9-.1 1.9-.1 1.8-.2M113 43.7l1.9-.9M116.8 41.8l1.9-.9 1.8-1 1.9-1 1.9-1 1.9-1 1.9-1.1 1.9-1 1.9-1 1.8-1.1 1.9-1.1 1.9-1.1 1.9-1.1 1.9-1.1 1.9-1.1 1.9-1.2 1.9-1.1 1.9-1.2 1.9-1.2 1.9-1.2 1.9-1.2 1.9-1.2 1.9-1.3 1.9-1.3 1.9-1.3M42.4 63.2l1.9 0 1.9 0 1.9 0 1.9-.1 1.9-.1M108.3 45.6l1.9-.9 1.9-.9 1.9-.9 1.9-.9 1.9-1 1.9-.9 1.9-1 1.8-.9 1.9-1 1.9-1 1.9-1 1.9-1.1 1.9-1 1.9-1 1.9-1.1 1.9-1.1 1.9-1.1 1.9-1.1 1.9-1.1 1.9-1.1 1.9-1.1 1.9-1.2 1.9-1.2 2-1.2 1.9-1.2 1.9-1.2 1.9-1.2 1.9-1.3 1.9-1.3M43.1 61.9l1.9 0 1.9 .1 1.9 0 1.9-.1 1.9-.1M90.4 52.8l1.9-.7 1.9-.7 1.9-.8 1.9-.7 1.8-.8 1.9-.8 1.9-.8 1.9-.9 1.9-.8 1.9-.9 1.9-.8 1.9-.9 1.9-.9 1.9-.9 1.9-.9 1.9-1 1.9-.9 1.9-1 1.9-.9 1.9-1 1.9-1 1.9-1 1.9-1 1.9-1.1 1.9-1 1.9-1.1 1.9-1 1.9-1.1 1.9-1.1 1.9-1.1 2-1.2 1.9-1.1 1.9-1.2 1.9-1.1 1.9-1.2 2-1.2 1.9-1.3 1.9-1.2 1.9-1.3M43.8 60.8l1.9 .1 1.9 0 2 0 1.9 0M78 56.5l1.9-.6M83.7 54.8l1.9-.7 1.9-.6 1.9-.6 1.9-.7 1.9-.7 1.9-.7 1.9-.8 1.9-.7 1.9-.8 1.9-.7 1.9-.8 1.9-.8 1.9-.9 1.9-.8 1.9-.9 1.9-.8 1.9-.9 1.9-.9 1.9-.9 1.9-.9 1.9-.9 1.9-1 1.9-.9 1.9-1 1.9-1 1.9-1 2-1 1.9-1 1.9-1 1.9-1.1 1.9-1 1.9-1.1 2-1.1 1.9-1.1 1.9-1.1 1.9-1.1 1.9-1.1 2-1.2 1.9-1.2 1.9-1.2 2-1.2 1.9-1.2 1.9-1.3M44.5 59.9l2 .1 1.9 .1 1.9 0M69.4 58.1l1.9-.4M73.2 57.3l1.9-.4 1.9-.5 1.9-.5 1.9-.5 1.9-.6 1.9-.5 1.9-.6 1.9-.6 1.9-.7 1.9-.6 1.9-.7 1.9-.7 1.9-.7 1.9-.7 1.9-.8 1.9-.7 1.9-.8 1.9-.8 1.9-.8 2-.8 1.9-.9 1.9-.8 1.9-.9 1.9-.9 1.9-.8 1.9-.9 1.9-1 1.9-.9 2-.9 1.9-1 1.9-.9 1.9-1 1.9-1 1.9-1 2-1 1.9-1 1.9-1.1 1.9-1 2-1.1 1.9-1.1 1.9-1.1 2-1.1 1.9-1.1 1.9-1.1 2-1.2 1.9-1.2 1.9-1.2 2-1.2 1.9-1.2M45.3 59.2l1.9 .1 1.9 .1M60.6 59.1l1.9-.2 2-.3 1.9-.2 1.9-.3 1.9-.4 1.9-.4 1.9-.3 1.9-.5 1.9-.4 1.9-.5 2-.5 1.9-.5 1.9-.6 1.9-.6 1.9-.6 1.9-.6 1.9-.6 1.9-.7 1.9-.7 1.9-.6 2-.8 1.9-.7 1.9-.7 1.9-.8 1.9-.8 1.9-.7 1.9-.9 1.9-.8 2-.8 1.9-.8 1.9-.9 1.9-.9 1.9-.9 2-.8 1.9-1 1.9-.9 1.9-.9 1.9-1 2-.9 1.9-1 1.9-1 2-1 1.9-1 1.9-1 2-1 1.9-1.1 1.9-1 2-1.1 1.9-1.1 1.9-1.1 2-1.1 1.9-1.2 2-1.2 1.9-1.1 2-1.2 1.9-1.2M46 58.7l1.9 .2 2 .1M51.8 59.1l1.9 0 1.9 0 2-.1 1.9-.1 1.9-.1 1.9-.2 2-.2 1.9-.3 1.9-.3 1.9-.3 1.9-.3 2-.4 1.9-.4 1.9-.4 1.9-.5 1.9-.5 1.9-.5 2-.5 1.9-.6 1.9-.6 1.9-.6 1.9-.6 1.9-.6 2-.7 1.9-.7 1.9-.6 1.9-.8 1.9-.7 1.9-.7 2-.8 1.9-.7 1.9-.8 1.9-.8 2-.8 1.9-.9 1.9-.8 1.9-.9 2-.8 1.9-.9 1.9-.9 1.9-.9 2-.9 1.9-.9 1.9-1 2-.9 1.9-1 1.9-1 2-1 1.9-1 2-1 1.9-1 1.9-1.1 2-1 1.9-1.1 2-1.1 1.9-1.1 2-1.2 1.9-1.1 2-1.2 1.9-1.1 2-1.2M46.7 58.5l2 .2 1.9 .1 1.9 .1 2 0 1.9 0 2 0 1.9-.1 1.9-.1 1.9-.2 2-.2 1.9-.2 1.9-.3 2-.2 1.9-.4 1.9-.3 1.9-.4 2-.4 1.9-.5 1.9-.4 1.9-.5 1.9-.5 2-.6 1.9-.5 1.9-.6 1.9-.6 2-.6 1.9-.7 1.9-.6 1.9-.7 2-.7 1.9-.7 1.9-.7 1.9-.8 2-.7 1.9-.8 1.9-.8 2-.8 1.9-.8 1.9-.8 2-.8 1.9-.9 1.9-.8 2-.9 1.9-.9 1.9-.9 2-.9 1.9-.9 1.9-1 2-.9 1.9-1 2-.9 1.9-1 2-1 1.9-1 2-1.1 1.9-1 2-1.1 1.9-1.1 2-1.1 1.9-1.1 2-1.1 2-1.1 1.9-1.2 2-1.2M47.5 58.5l1.9 .2 2 .1 1.9 .1 2 .1 1.9 0 1.9 0 2 0 1.9-.1 2-.2 1.9-.2 1.9-.2 2-.2 1.9-.3 1.9-.3 2-.3 1.9-.4 1.9-.4 1.9-.4 2-.5 1.9-.4 1.9-.5 2-.5 1.9-.6 1.9-.5 2-.6 1.9-.6 1.9-.6 2-.7 1.9-.6 1.9-.7 1.9-.7 2-.7 1.9-.7 2-.8 1.9-.7 1.9-.8 2-.7 1.9-.8 1.9-.8 2-.8 1.9-.9 2-.8 1.9-.9 1.9-.8 2-.9 1.9-.9 2-.9 1.9-.9 2-1 1.9-.9 2-1 1.9-.9 2-1 1.9-1 2-1 1.9-1.1 2-1 2-1.1 1.9-1.1 2-1.1 2-1.1 1.9-1.1 2-1.1 2-1.2M48.2 58.7l2 .2 1.9 .2 2 .1 1.9 .1 2 .1 1.9 0 2-.1 1.9-.1 2-.1 1.9-.1 2-.2 1.9-.2 1.9-.3 2-.3 1.9-.3 2-.3 1.9-.4 1.9-.4 2-.4 1.9-.5 1.9-.5 2-.5 1.9-.5 1.9-.5 2-.6 1.9-.6 2-.6 1.9-.6 1.9-.6 2-.7 1.9-.6 2-.7 1.9-.7 1.9-.7 2-.8 1.9-.7 2-.8 1.9-.7 2-.8 1.9-.8 1.9-.8 2-.9 1.9-.8 2-.9 1.9-.8 2-.9 1.9-.9 2-.9 2-.9 1.9-.9 2-1 1.9-.9 2-1 1.9-1 2-1 2-1 1.9-1 2-1 2-1.1 1.9-1.1 2-1.1 2-1.1 2-1.1 1.9-1.2M49 59.1l2 .3 1.9 .2 2 .1 1.9 .1 2 .1 1.9 0 2 0 1.9 0 2-.1 1.9-.2 2-.1 1.9-.2 2-.3 1.9-.2 2-.3 1.9-.4 2-.3 1.9-.4 2-.4 1.9-.4 1.9-.5 2-.5 1.9-.5 2-.5 1.9-.5 2-.6 1.9-.6 1.9-.6 2-.6 1.9-.6 2-.7 1.9-.6 2-.7 1.9-.7 2-.7 1.9-.7 2-.8 1.9-.7 2-.8 1.9-.8 2-.8 1.9-.8 2-.8 1.9-.8 2-.9 1.9-.8 2-.9 2-.9 1.9-.9 2-.9 2-.9 1.9-.9 2-1 2-1 1.9-.9 2-1 2-1 1.9-1.1 2-1 2-1.1 2-1.1 1.9-1.1 2-1.1 2-1.1M49.8 59.8l1.9 .3 2 .2 2 .2 1.9 .1 2 .1 2 0 1.9 .1 2-.1 1.9-.1 2-.1 1.9-.1 2-.2 1.9-.2 2-.2 1.9-.3 2-.3 1.9-.4 2-.3 1.9-.4 2-.4 1.9-.5 2-.4 1.9-.5 2-.5 1.9-.5 2-.6 1.9-.5 2-.6 1.9-.6 2-.6 1.9-.6 2-.7 2-.6 1.9-.7 2-.7 1.9-.7 2-.7 1.9-.8 2-.7 1.9-.8 2-.8 2-.7 1.9-.8 2-.9 1.9-.8 2-.8 2-.9 1.9-.8 2-.9 2-.9 1.9-.9 2-.9 2-1 2-.9 1.9-1 2-1 2-.9 2-1.1 1.9-1 2-1 2-1.1 2-1.1 2-1.1 2-1.1M50.5 60.7l2 .3 2 .2 2 .2 1.9 .2 2 .1 2 .1 1.9 0 2 0 2-.1 1.9 0 2-.2 1.9-.1 2-.2 2-.2 1.9-.3 2-.3 1.9-.3 2-.3 1.9-.4 2-.4 2-.4 1.9-.4 2-.5 1.9-.5 2-.5 1.9-.5 2-.5 1.9-.6 2-.6 2-.6 1.9-.6 2-.6 1.9-.6 2-.7 1.9-.7 2-.7 2-.7 1.9-.7 2-.7 2-.7 1.9-.8 2-.8 2-.8 1.9-.7 2-.9 2-.8 1.9-.8 2-.9 2-.8 1.9-.9 2-.9 2-.9 2-.9 2-.9 1.9-1 2-.9 2-1 2-1 2-1 2-1 2-1.1 1.9-1 2-1.1 2-1.1M51.3 61.8l2 .3 2 .3 2 .2 1.9 .2 2 .2 2 .1 2 0 1.9 0 2 0 2-.1 1.9-.1 2-.1 2-.2 1.9-.2 2-.2 2-.3 1.9-.3 2-.3 1.9-.3 2-.4 2-.4 1.9-.4 2-.5 2-.4 1.9-.5 2-.5 1.9-.5 2-.6 2-.5 1.9-.6 2-.6 1.9-.6 2-.6 2-.6 1.9-.7 2-.7 2-.7 1.9-.6 2-.8 2-.7 1.9-.7 2-.8 2-.7 2-.8 1.9-.8 2-.8 2-.8 2-.8 1.9-.9 2-.8 2-.9 2-.9 2-.9 2-.9 1.9-.9 2-1 2-.9 2-1 2-1 2-1 2-1 2-1.1 2-1 2-1.1M52.1 63.2l2 .3 2 .3 2 .3 2 .2 1.9 .1 2 .1 2 .1 2 .1 2-.1 1.9 0 2-.1 2-.1 1.9-.1 2-.2 2-.2 1.9-.3 2-.2 2-.3 2-.4 1.9-.3 2-.4 2-.4 1.9-.4 2-.4 1.9-.5 2-.5 2-.5 2-.5 1.9-.5 2-.6 2-.6 1.9-.5 2-.6 2-.7 1.9-.6 2-.6 2-.7 1.9-.7 2-.7 2-.7 2-.7 1.9-.7 2-.8 2-.7 2-.8 2-.8 1.9-.8 2-.8 2-.8 2-.8 2-.9 2-.8 2-.9 1.9-.9 2-.9 2-.9 2-1 2-.9 2-1 2-1 2-1 2-1 2-1.1 2-1.1M52.9 64.7l2 .4 2 .3 2 .3 2 .2 2 .2 2 .2 1.9 .1 2 0 2 0 2 0 2-.1 1.9 0 2-.2 2-.1 2-.2 1.9-.2 2-.3 2-.3 2-.3 1.9-.3 2-.3 2-.4 1.9-.4 2-.4 2-.5 2-.4 1.9-.5 2-.5 2-.5 2-.6 1.9-.5 2-.6 2-.5 1.9-.6 2-.7 2-.6 2-.6 2-.7 1.9-.7 2-.6 2-.7 2-.7 2-.8 1.9-.7 2-.8 2-.7 2-.8 2-.8 2-.8 2-.8 1.9-.8 2-.9 2-.8 2-.9 2-.9 2-.9 2-.9 2-1 2-.9 2-1 2-1 2-1 2-1 2-1.1M53.7 66.5l2 .4 2 .4 2 .3 2 .2 2 .2 2 .2 2 .1 2 .1 2 0 1.9 0 2 0 2-.1 2-.1 2-.1 2-.2 1.9-.2 2-.2 2-.3 2-.2 1.9-.3 2-.4 2-.3 2-.4 2-.4 1.9-.4 2-.5 2-.4 2-.5 1.9-.5 2-.5 2-.5 2-.6 2-.5 1.9-.6 2-.6 2-.6 2-.6 2-.7 1.9-.6 2-.7 2-.7 2-.6 2-.7 2-.8 2-.7 1.9-.7 2-.8 2-.8 2-.7 2-.8 2-.9 2-.8 2-.8 2-.9 2-.8 2-.9 2-.9 2-1 2-.9 2-.9 2-1 2-1 2.1-1 2-1M54.5 68.5l2 .4 2 .4 2.1 .3 2 .3 2 .2 1.9 .2 2 .2 2 .1 2 0 2 0 2 0 2 0 2-.1 2-.1 1.9-.1 2-.2 2-.2 2-.3 2-.2 2-.3 1.9-.3 2-.3 2-.4 2-.4 2-.4 2-.4 1.9-.4 2-.5 2-.4 2-.5 2-.5 1.9-.6 2-.5 2-.6 2-.5 2-.6 2-.6 2-.6 1.9-.7 2-.6 2-.7 2-.6 2-.7 2-.7 2-.7 2-.7 2-.8 2-.7 2-.8 2-.8 2-.8 2-.8 2-.8 2-.8 2-.9 2-.8 2-.9 2-.9 2-.9 2-1 2-.9 2-1 2.1-1 2-1M55.4 70.7l2 .4 2 .4 2 .4 2 .3 2 .2 2 .3 2 .1 2 .1 2 .1 2 .1 2 0 2 0 2-.1 2-.1 1.9-.1 2-.2 2-.1 2-.2 2-.3 2-.2 2-.3 2-.3 1.9-.4 2-.3 2-.4 2-.4 2-.4 2-.4 2-.5 1.9-.5 2-.4 2-.5 2-.6 2-.5 2-.5 2-.6 2-.6 1.9-.6 2-.6 2-.6 2-.7 2-.6 2-.7 2-.6 2-.7 2-.7 2-.7 2-.8 2-.7 2-.8 2-.8 2-.7 2-.8 2-.9 2-.8 2-.8 2-.9 2.1-.9 2-.9 2-.9 2-.9 2-1 2-1 2.1-.9M56.2 73.1l2 .4 2 .5 2 .3 2 .4 2 .2 2.1 .3 2 .2 2 .1 2 .1 2 .1 2 0 2 0 2 0 1.9-.1 2-.1 2-.1 2-.1 2-.2 2-.2 2-.3 2-.2 2-.3 2-.3 2-.4 2-.3 1.9-.4 2-.4 2-.4 2-.4 2-.5 2-.4 2-.5 2-.5 2-.5 2-.6 2-.5 1.9-.6 2-.5 2-.6 2-.6 2-.6 2-.7 2-.6 2-.7 2-.6 2-.7 2-.7 2-.7 2-.8 2-.7 2-.7 2-.8 2.1-.8 2-.8 2-.8 2-.8 2-.9 2-.8 2-.9 2.1-.9 2-.9 2-.9 2-1 2-1M57 75.6l2 .5 2.1 .5 2 .4 2 .3 2 .3 2 .3 2 .2 2 .2 2 .1 2 .1 2 .1 2 0 2 0 2-.1 2 0 2-.1 2-.2 2-.1 2-.2 2-.2 2-.3 2-.2 2-.3 2-.3 2-.4 2-.3 2-.4 2-.4 2-.4 2-.4 2-.5 1.9-.4 2-.5 2-.5 2-.5 2-.5 2-.6 2-.5 2-.6 2-.6 2-.5 2-.7 2-.6 2-.6 2-.7 2-.6 2-.7 2-.7 2.1-.7 2-.7 2-.7 2-.8 2-.7 2-.8 2-.8 2-.8 2.1-.8 2-.9 2-.8 2-.9 2-.9 2.1-.9 2-1 2-.9M57.8 78.3l2.1 .6 2 .4 2 .5 2 .3 2.1 .4 2 .3 2 .2 2 .2 2 .2 2 .1 2 .1 2 0 2 0 2 0 2 0 2-.1 2-.1 2-.2 2-.1 2-.2 2-.2 2-.3 2-.3 2-.2 2-.3 2-.4 2-.3 2-.4 2-.4 2-.4 2-.4 2-.4 2-.5 2-.5 2-.4 2-.5 2-.6 2-.5 2-.5 2-.6 2-.6 2-.6 2-.6 2-.6 2-.6 2-.6 2.1-.7 2-.7 2-.6 2-.7 2-.7 2-.8 2-.7 2-.8 2.1-.7 2-.8 2-.8 2-.8 2-.9 2.1-.8 2-.9 2-.9 2-.9 2.1-1M58.7 81.2l2 .6 2 .5 2.1 .4 2 .4 2 .4 2 .3 2.1 .2 2 .3 2 .2 2 .1 2 .1 2 .1 2 0 2 0 2 0 2-.1 2.1 0 2-.2 2-.1 2-.2 2-.2 2-.2 2-.2 2-.3 2-.3 2-.3 2-.3 2-.3 2-.4 2-.4 2-.4 2-.4 2-.4 2-.5 2-.4 2-.5 2-.5 2-.5 2-.5 2-.6 2-.5 2-.6 2-.6 2-.6 2-.6 2-.6 2.1-.6 2-.7 2-.6 2-.7 2-.7 2-.7 2-.7 2.1-.7 2-.8 2-.8 2-.7 2-.8 2.1-.9 2-.8 2-.8 2.1-.9 2-.9 2-.9M59.5 84.2l2.1 .6 2 .5 2 .5 2.1 .4 2 .4 2 .3 2 .3 2 .3 2.1 .2 2 .2 2 .1 2 .1 2 .1 2 0 2 0 2.1 0 2-.1 2-.1 2-.1 2-.1 2-.2 2-.2 2-.2 2-.3 2-.2 2-.3 2-.3 2-.3 2-.4 2-.3 2-.4 2-.4 2-.4 2-.4 2-.5 2-.4 2.1-.5 2-.5 2-.5 2-.5 2-.5 2-.6 2-.5 2-.6 2-.6 2-.6 2-.6 2.1-.6 2-.6 2-.7 2-.7 2-.6 2-.7 2.1-.8 2-.7 2-.7 2-.8 2.1-.8 2-.8 2-.8 2-.8 2.1-.9 2-.8 2.1-.9M60.4 87.4l2 .6 2 .5 2.1 .5 2 .5 2 .4 2.1 .3 2 .4 2 .2 2 .3 2.1 .2 2 .1 2 .2 2 0 2 .1 2 0 2.1 0 2 0 2-.1 2-.1 2-.1 2-.1 2-.2 2-.2 2-.2 2-.3 2-.2 2-.3 2.1-.3 2-.3 2-.3 2-.4 2-.4 2-.3 2-.4 2-.5 2-.4 2-.4 2-.5 2-.5 2-.5 2.1-.5 2-.5 2-.5 2-.6 2-.5 2-.6 2-.6 2.1-.6 2-.6 2-.7 2-.6 2-.7 2-.6 2.1-.7 2-.7 2-.8 2-.7 2.1-.8 2-.7 2-.8 2.1-.8 2-.9 2-.8 2.1-.9M61.2 90.6l2.1 .6 2 .6 2 .5 2.1 .5 2 .5 2 .3 2.1 .4 2 .3 2 .3 2.1 .2 2 .2 2 .1 2 .1 2 .1 2 .1 2.1 0 2 0 2-.1 2 0 2-.1 2-.2 2-.1 2-.2 2.1-.2 2-.2 2-.2 2-.3 2-.2 2-.3 2-.3 2-.4 2-.3 2-.4 2-.3 2.1-.4 2-.4 2-.5 2-.4 2-.5 2-.4 2-.5 2-.5 2.1-.5 2-.5 2-.6 2-.5 2-.6 2-.6 2-.6 2.1-.6 2-.6 2-.6 2-.7 2.1-.7 2-.7 2-.7 2-.7 2.1-.7 2-.8 2-.7 2.1-.8 2-.8 2-.9 2.1-.8M62.1 93.9l2 .7 2.1 .6 2 .6 2 .5 2.1 .4 2 .4 2.1 .4 2 .3 2 .3 2 .3 2.1 .2 2 .2 2 .1 2 .1 2 .1 2.1 0 2 .1 2-.1 2 0 2-.1 2-.1 2.1-.1 2-.1 2-.2 2-.2 2-.2 2-.2 2-.3 2-.2 2.1-.3 2-.3 2-.3 2-.4 2-.3 2-.4 2-.4 2-.4 2-.4 2.1-.4 2-.5 2-.4 2-.5 2-.5 2-.5 2-.5 2.1-.5 2-.6 2-.5 2-.6 2-.6 2.1-.6 2-.6 2-.7 2-.6 2.1-.7 2-.6 2-.7 2.1-.8 2-.7 2-.7 2.1-.8 2-.8 2-.8 2.1-.8M62.9 97.3l2.1 .7 2 .7 2.1 .6 2 .5 2.1 .5 2 .4 2 .4 2.1 .4 2 .3 2 .3 2.1 .2 2 .2 2 .2 2 .1 2 .1 2.1 .1 2 0 2 0 2 0 2 0 2.1-.1 2-.1 2-.1 2-.2 2-.1 2-.2 2-.2 2.1-.2 2-.3 2-.2 2-.3 2-.3 2-.3 2-.3 2.1-.4 2-.4 2-.3 2-.4 2-.4 2-.5 2-.4 2.1-.4 2-.5 2-.5 2-.5 2-.5 2-.5 2.1-.5 2-.6 2-.5 2-.6 2.1-.6 2-.6 2-.6 2-.7 2.1-.6 2-.7 2-.7 2.1-.7 2-.8 2-.7 2.1-.8 2-.8 2-.8M63.8 100.8l2 .7 2.1 .7 2 .6 2.1 .6 2 .5 2.1 .4 2 .5 2 .3 2.1 .4 2 .3 2 .3 2.1 .2 2 .2 2 .1 2 .2 2.1 .1 2 0 2 .1 2 0 2.1 0 2-.1 2 0 2-.1 2-.2 2-.1 2.1-.1 2-.2 2-.2 2-.2 2-.3 2-.2 2-.3 2.1-.3 2-.3 2-.3 2-.4 2-.3 2-.4 2.1-.4 2-.4 2-.4 2-.4 2-.4 2-.5 2.1-.4 2-.5 2-.5 2-.5 2-.6 2.1-.5 2-.6 2-.5 2-.6 2.1-.6 2-.6 2-.7 2.1-.6 2-.7 2-.7 2.1-.7 2-.7 2-.8 2.1-.7 2-.8M64.6 104.3l2.1 .7 2 .7 2.1 .7 2 .5 2.1 .6 2 .5 2.1 .4 2 .5 2.1 .3 2 .4 2 .3 2.1 .2 2 .2 2 .2 2 .2 2.1 .1 2 .1 2 .1 2 0 2.1 0 2 0 2-.1 2 0 2-.1 2.1-.1 2-.2 2-.1 2-.2 2-.2 2-.2 2.1-.2 2-.3 2-.2 2-.3 2-.3 2-.3 2.1-.3 2-.4 2-.3 2-.4 2-.4 2.1-.4 2-.4 2-.4 2-.5 2-.4 2.1-.5 2-.5 2-.5 2-.5 2-.5 2.1-.6 2-.6 2-.5 2.1-.6 2-.6 2-.7 2-.6 2.1-.7 2-.7 2-.7 2.1-.7 2-.7 2.1-.8M65.5 107.8l2 .7 2.1 .8 2 .6 2.1 .6 2.1 .6 2 .5 2 .5 2.1 .5 2 .4 2.1 .3 2 .4 2 .2 2.1 .3 2 .2 2 .2 2.1 .1 2 .2 2 0 2 .1 2.1 0 2 .1 2-.1 2 0 2.1-.1 2 0 2-.1 2-.2 2-.1 2.1-.2 2-.2 2-.2 2-.2 2-.2 2-.3 2.1-.3 2-.2 2-.3 2-.4 2-.3 2.1-.3 2-.4 2-.4 2-.4 2-.4 2-.4 2.1-.4 2-.5 2-.4 2-.5 2.1-.5 2-.5 2-.5 2-.6 2.1-.5 2-.6 2-.6 2.1-.6 2-.6 2-.6 2.1-.7 2-.7 2-.7 2.1-.7 2-.8M66.3 111.2l2.1 .8 2 .8 2.1 .7 2.1 .6 2 .6 2.1 .6 2 .5 2.1 .5 2 .4 2.1 .4 2 .3 2 .4 2.1 .2 2 .3 2 .2 2.1 .2 2 .1 2 .1 2 .1 2.1 .1 2 0 2 0 2 0 2.1 0 2-.1 2 0 2-.1 2-.2 2.1-.1 2-.2 2-.1 2-.2 2-.2 2.1-.3 2-.2 2-.3 2-.3 2-.2 2.1-.4 2-.3 2-.3 2-.4 2-.3 2.1-.4 2-.4 2-.4 2-.4 2.1-.5 2-.4 2-.5 2-.5 2.1-.5 2-.5 2-.5 2-.6 2.1-.5 2-.6 2-.6 2.1-.6 2-.6 2-.7 2.1-.7 2-.7 2.1-.7M67.2 114.6l2 .9 2.1 .8 2.1 .7 2 .7 2.1 .6 2 .6 2.1 .5 2 .5 2.1 .5 2 .4 2.1 .4 2 .3 2 .3 2.1 .3 2 .2 2.1 .3 2 .1 2 .2 2 .1 2.1 .1 2 .1 2 0 2 0 2.1 0 2 0 2-.1 2-.1 2.1 0 2-.2 2-.1 2-.1 2-.2 2.1-.2 2-.2 2-.2 2-.2 2-.3 2.1-.3 2-.2 2-.3 2-.3 2-.4 2.1-.3 2-.4 2-.3 2-.4 2.1-.4 2-.4 2-.4 2-.5 2.1-.4 2-.5 2-.5 2-.5 2.1-.5 2-.6 2-.5 2.1-.6 2-.6 2-.6 2.1-.6 2-.7 2-.7 2.1-.7M68 118l2.1 .9 2 .8 2.1 .7 2.1 .7 2 .7 2.1 .6 2.1 .6 2 .5 2.1 .5 2 .5 2 .4 2.1 .3 2 .4 2.1 .3 2 .2 2 .3 2.1 .2 2 .2 2 .1 2.1 .1 2 .1 2 .1 2 0 2.1 .1 2 0 2-.1 2 0 2.1-.1 2-.1 2-.1 2-.1 2.1-.1 2-.2 2-.2 2-.2 2-.2 2.1-.2 2-.2 2-.3 2-.2 2-.3 2.1-.3 2-.3 2-.4 2-.3 2.1-.4 2-.3 2-.4 2-.4 2.1-.4 2-.5 2-.4 2-.5 2.1-.5 2-.5 2-.5 2-.5 2.1-.5 2-.6 2-.6 2.1-.6 2-.6 2.1-.7 2-.7M32.1 101.8l.6-2.8 .7-2.8 .6-2.8 .6-2.9 .6-2.8 .6-2.7 .7-2.7 .6-2.7 .7-2.5 .6-2.4 .7-2.3 .6-2.2 .7-2 .7-1.9 .6-1.6 .7-1.5 .7-1.3 .7-1.1 .7-.9 .8-.7 .7-.5 .7-.2 .8 0 .7 .2 .8 .4 .8 .7 .7 .9 .8 1.1 .8 1.4 .8 1.5 .8 1.8 .8 2 .9 2.2 .8 2.4 .8 2.5 .8 2.7 .9 2.9 .8 3 .9 3.2 .8 3.2 .9 3.3 .8 3.4 .9 3.5 .8 3.5 .9 3.5 .8 3.4 .9 3.4 .8 3.4M33.9 101.6l.6-2.8 .6-2.8 .7-2.8 .6-2.8 .6-2.8 .7-2.7 .6-2.7 .6-2.6 .7-2.6 .6-2.4 .7-2.3 .7-2.1 .7-2 .6-1.8 .7-1.7 .7-1.5 .7-1.3 .7-1 .8-.9 .7-.7 .7-.4 .8-.2 .7 0 .8 .2 .8 .5 .7 .7 .8 .9 .8 1.1 .8 1.4 .8 1.6 .8 1.8 .8 2 .9 2.2 .8 2.4 .8 2.6 .9 2.8 .8 2.9 .9 3 .8 3.2 .9 3.2 .8 3.4 .9 3.4 .8 3.5 .9 3.5 .8 3.5 .9 3.5 .8 3.5 .9 3.4M35.7 101.3l.6-2.8 .6-2.7 .7-2.8 .6-2.8 .6-2.8 .7-2.7 .6-2.7 .7-2.6 .6-2.5 .7-2.4 .7-2.2 .6-2.2 .7-1.9 .7-1.9 .7-1.6 .7-1.5 .7-1.2 .7-1.1 .8-.8 .7-.7 .8-.4 .7-.2 .8 0 .7 .3 .8 .5 .8 .7 .8 .9 .8 1.2 .8 1.4 .8 1.6 .8 1.9 .8 2 .9 2.2 .8 2.5 .9 2.6 .8 2.7 .8 3 .9 3 .8 3.2 .9 3.3 .9 3.4 .8 3.5 .9 3.5 .8 3.5 .9 3.6 .8 3.5 .9 3.5 .8 3.4M37.4 101l.7-2.8 .6-2.7 .7-2.8 .6-2.8 .6-2.7 .7-2.7 .6-2.7 .7-2.6 .7-2.4 .6-2.4 .7-2.3 .7-2.1 .7-1.9 .7-1.8 .7-1.7 .7-1.4 .7-1.2 .8-1.1 .7-.8M51.8 59.1l.7-.2 .8 0 .8 .3 .8 .5 .8 .8 .8 .9 .8 1.2 .8 1.5 .8 1.6 .8 1.9 .9 2 .8 2.3 .8 2.4 .9 2.7 .8 2.8 .9 2.9 .8 3.1 .9 3.2 .8 3.3 .9 3.5 .9 3.5 .8 3.5 .9 3.6 .8 3.5 .9 3.6 .9 3.5 .8 3.4M39.2 100.6l.6-2.7 .7-2.7 .6-2.8 .7-2.8 .6-2.7 .7-2.7 .7-2.6 .6-2.6 .7-2.5 .7-2.3 .7-2.2 .7-2.1 .7-2 .7-1.8 .7-1.6 .7-1.4 .7-1.2 .8-1M53.7 59.1l.8-.2 .8 .1 .7 .3 .8 .5 .8 .8 .8 1 .8 1.2 .9 1.5 .8 1.6 .8 1.9 .9 2.1 .8 2.3 .8 2.5 .9 2.6 .8 2.8 .9 3 .9 3.1 .8 3.3 .9 3.3 .8 3.5 .9 3.5 .9 3.6 .8 3.5 .9 3.6 .9 3.6 .8 3.6 .9 3.4M41 100.2l.6-2.7 .7-2.7 .6-2.8 .7-2.7 .6-2.7 .7-2.7 .7-2.6 .7-2.6 .6-2.4 .7-2.3 .7-2.3 .7-2 .7-2 .7-1.7 .8-1.6 .7-1.4M54.9 59.4l.7-.3 .8-.2 .8 .1 .8 .4 .8 .5 .8 .8 .8 1 .8 1.3 .8 1.4 .9 1.7 .8 1.9 .9 2.1 .8 2.3 .8 2.5 .9 2.7 .9 2.9 .8 3 .9 3.1 .8 3.3 .9 3.4 .9 3.4 .9 3.6 .8 3.6 .9 3.6 .9 3.6 .8 3.6 .9 3.6 .8 3.5M42.7 99.8l.7-2.7 .7-2.7 .6-2.8 .7-2.7 .6-2.7 .7-2.7 .7-2.6 .7-2.5 .7-2.4 .7-2.3 .7-2.2 .7-2.1 .7-1.9 .7-1.7 .7-1.6M56.8 59.3l.8-.3 .8-.1 .7 .1 .8 .4 .8 .5 .9 .8 .8 1.1 .8 1.3 .8 1.4 .9 1.8 .8 1.9 .8 2.1 .9 2.4 .9 2.5 .8 2.7 .9 2.9 .8 3 .9 3.1 .9 3.3 .8 3.4 .9 3.5 .9 3.6 .9 3.6 .8 3.7 .9 3.6 .9 3.7 .8 3.6 .9 3.5M44.5 99.3l.7-2.7 .6-2.7 .7-2.7 .7-2.7 .6-2.7 .7-2.6 .7-2.6 .7-2.5 .7-2.4 .7-2.3 .7-2.2 .7-2 .8-1.9 .7-1.8M59.5 58.9l.8-.1 .8 .2 .8 .3 .8 .6 .8 .9 .8 1 .9 1.3 .8 1.5 .8 1.8 .9 1.9 .8 2.2 .9 2.3 .9 2.6 .8 2.7 .9 2.9 .9 3 .8 3.2 .9 3.4 .9 3.4 .9 3.5 .8 3.6 .9 3.7 .9 3.6 .8 3.7 .9 3.7 .9 3.6 .9 3.6M46.3 98.8l.6-2.7 .7-2.7 .7-2.7 .7-2.7 .6-2.6 .7-2.7 .7-2.5 .7-2.5 .7-2.4 .7-2.3 .8-2.1 .7-2.1M60.6 59.1l.8-.3 .8-.1 .8 .2 .8 .3 .8 .7 .9 .8 .8 1.1 .8 1.3 .9 1.6 .8 1.7 .9 2 .8 2.2 .9 2.3 .9 2.6 .8 2.8 .9 2.9 .9 3.1 .8 3.2 .9 3.3 .9 3.5 .9 3.5 .9 3.7 .8 3.6 .9 3.8 .9 3.7 .9 3.7 .8 3.6 .9 3.6M48 98.2l.7-2.6 .7-2.7 .7-2.7 .7-2.6 .6-2.7 .7-2.6 .7-2.6 .7-2.4 .8-2.4 .7-2.3 .7-2.1M62.5 58.9l.8-.3 .8-.1 .9 .2 .8 .4 .8 .7 .8 .8 .9 1.1 .8 1.4 .9 1.5 .8 1.8 .9 2 .8 2.2 .9 2.4 .9 2.6 .8 2.8 .9 3 .9 3.1 .9 3.2 .8 3.4 .9 3.5 .9 3.5 .9 3.7 .9 3.7 .9 3.7 .8 3.8 .9 3.7 .9 3.7 .9 3.6M49.8 97.6l.7-2.6 .7-2.6 .6-2.7 .7-2.7 .7-2.6 .7-2.6 .8-2.5 .7-2.5 .7-2.4 .7-2.2M64.5 58.6l.8-.2 .8-.1 .8 .2 .8 .5 .8 .6 .9 .9 .8 1.2 .9 1.3 .8 1.6 .9 1.8 .8 2 .9 2.2 .9 2.5 .9 2.6 .8 2.8 .9 3 .9 3.1 .9 3.3 .9 3.4 .9 3.5 .8 3.6 .9 3.7 .9 3.7 .9 3.8 .9 3.7 .9 3.8 .8 3.7 .9 3.7M51.5 97l.7-2.6 .7-2.6 .7-2.7 .7-2.6 .7-2.6 .8-2.6 .7-2.5 .7-2.5M66.4 58.4l.8-.3 .8 0 .8 .2 .9 .5 .8 .7 .8 .9 .9 1.1 .8 1.4 .9 1.6 .9 1.8 .8 2.1 .9 2.2 .9 2.5 .9 2.6 .8 2.9 .9 3 .9 3.1 .9 3.3 .9 3.4 .9 3.6 .9 3.6 .9 3.7 .8 3.8 .9 3.8 .9 3.8 .9 3.7 .9 3.8 .8 3.7M53.3 96.4l.7-2.6 .7-2.6 .7-2.7 .7-2.6 .7-2.6 .8-2.6 .7-2.5M68.3 58.1l.8-.3 .8 0 .9 .3 .8 .5 .8 .7 .9 .9 .8 1.2 .9 1.4 .9 1.6 .8 1.9 .9 2 .9 2.3 .9 2.5 .9 2.6 .8 2.9 .9 3 .9 3.2 .9 3.3 .9 3.5 .9 3.5 .9 3.7 .9 3.7 .9 3.8 .9 3.8 .8 3.8 .9 3.9 .9 3.7 .9 3.7M55.1 95.7l.7-2.6 .7-2.6 .7-2.6 .7-2.6 .7-2.6 .8-2.6M69.4 58.1l.8-.4 .8-.2 .9 .1 .8 .2 .8 .5 .9 .7 .8 1 .9 1.2 .9 1.4 .8 1.7 .9 1.8 .9 2.1 .9 2.3 .9 2.5 .9 2.7 .8 2.9 .9 3 .9 3.2 .9 3.4 .9 3.4 .9 3.6 .9 3.7 .9 3.8 .9 3.8 .9 3.8 .9 3.9 .9 3.8 .8 3.8 .9 3.8M56.8 95l.7-2.6 .7-2.6 .8-2.6 .7-2.6M71.3 57.7l.8-.4 .8-.1 .9 0 .8 .3 .9 .5 .8 .8 .9 1 .9 1.2 .8 1.4 .9 1.7 .9 1.9 .9 2.1 .9 2.3 .9 2.5 .8 2.7 .9 2.9 .9 3.1 .9 3.2 .9 3.4 .9 3.5 .9 3.6 .9 3.7 .9 3.8 .9 3.8 .9 3.9 .9 3.9 .9 3.9 .9 3.8 .9 3.8M58.6 94.3l.7-2.6 .7-2.6 .7-2.6M73.2 57.3l.8-.3 .9-.2 .8 .1 .9 .3 .8 .5 .9 .8 .8 1 .9 1.2 .9 1.5 .9 1.7 .9 1.9 .9 2.1 .8 2.4 .9 2.5 .9 2.7 .9 3 .9 3.1 .9 3.2 .9 3.4 .9 3.5 .9 3.7 .9 3.7 .9 3.8 .9 3.9 .9 3.9 .9 3.9 .9 3.9 .9 3.8 .9 3.8M60.3 93.5l.8-2.5M75.1 56.9l.8-.4 .9-.1 .8 .1 .9 .3 .9 .6 .8 .7 .9 1.1 .9 1.2 .9 1.5 .8 1.7 .9 2 .9 2.1 .9 2.4 .9 2.5 .9 2.8 .9 3 .9 3.1 .9 3.2 1 3.5 .9 3.5 .9 3.7 .9 3.7 .9 3.9 .9 3.9 .9 3.9 .9 3.9 .9 4 .9 3.9 .8 3.8M76.1 57l.9-.6 .8-.3 .9-.1 .9 .1 .8 .3 .9 .6 .9 .8 .8 1 .9 1.3 .9 1.5 .9 1.8 .9 1.9 .9 2.2 .9 2.4 .9 2.6 .9 2.8 .9 2.9 .9 3.2 1 3.3 .9 3.4 .9 3.6 .9 3.7 .9 3.8 .9 3.8 .9 3.9 .9 4 .9 4 .9 3.9 .9 3.9 .9 3.9M78 56.5l.9-.6 .8-.3 .9-.1 .9 .1 .8 .4 .9 .6 .9 .8 .9 1.1 .9 1.3 .9 1.5 .9 1.8 .9 1.9 .9 2.2 .9 2.4 .9 2.7 .9 2.8 .9 3 .9 3.1 1 3.3 .9 3.5 .9 3.6 .9 3.7 .9 3.8 .9 3.9 .9 4 .9 4 .9 3.9 .9 4 .9 4 .9 3.9M79.9 55.9l.9-.5 .9-.3 .8-.1 .9 .2 .9 .3 .9 .7 .9 .8 .8 1.1 .9 1.3 .9 1.6 1 1.7 .9 2 .9 2.3 .9 2.4 .9 2.6 .9 2.9 .9 3 .9 3.2 1 3.3 .9 3.5 .9 3.6 .9 3.8 .9 3.8 .9 3.9 .9 4 .9 4 .9 4 .9 4 .9 4 .9 3.9M81.8 55.3l.9-.5 .9-.2 .8-.1 .9 .2 .9 .4 .9 .6 .9 .9 .9 1.1 .9 1.3 .9 1.6 .9 1.8 .9 2 .9 2.3 1 2.4 .9 2.7 .9 2.8 .9 3.1 .9 3.2 1 3.3 .9 3.6 .9 3.6 .9 3.8 .9 3.8 .9 4 1 4 .9 4 .9 4 .9 4.1 .9 4 .9 3.9M83.7 54.8l.9-.5 .9-.3 .9 0 .8 .2 .9 .4 .9 .6 .9 .9 .9 1.1 1 1.4 .9 1.6 .9 1.8 .9 2.1 .9 2.2 .9 2.5 1 2.7 .9 2.9 .9 3 .9 3.3 1 3.3 .9 3.6 .9 3.7 .9 3.7 .9 3.9 1 4 .9 4 .9 4.1 .9 4.1 .9 4 .9 4.1 .9 3.9M84.7 54.8l.9-.7 .9-.4 .9-.3 .9 0 .9 .2 .9 .5 .9 .6 .9 .9 .9 1.2 .9 1.4 .9 1.6 1 1.8 .9 2.1 .9 2.3 .9 2.5 1 2.7 .9 2.9 .9 3.1 .9 3.2 1 3.4 .9 3.6 .9 3.7 .9 3.8 1 3.9 .9 4 .9 4.1 .9 4 .9 4.1 .9 4.1 .9 4.1 .9 4M87.5 53.5l.9-.4 .9-.3 .9 0 .9 .3 .9 .4 .9 .7 .9 .9 .9 1.2 1 1.4 .9 1.6 .9 1.9 .9 2.1 1 2.3 .9 2.5 .9 2.7 1 3 .9 3.1 .9 3.2 1 3.5 .9 3.6 .9 3.7 .9 3.8 1 4 .9 4 .9 4.1 .9 4.1 .9 4.1 .9 4.1 .9 4.1 .9 4M88.5 53.5l.9-.6 .9-.5 .9-.2 .9 0 .9 .3 .9 .5 .9 .7 1 .9 .9 1.2 .9 1.4 1 1.7 .9 1.9 .9 2.1 1 2.3 .9 2.5 .9 2.8 1 2.9 .9 3.2 .9 3.3 1 3.4 .9 3.6 .9 3.8 1 3.8 .9 4 .9 4 .9 4.1 .9 4.2 1 4.1 .9 4.2 .9 4.1 .9 4.1M90.4 52.8l.9-.6 .9-.4 .9-.2 .9 0 .9 .3 1 .5 .9 .7 .9 1 .9 1.2 1 1.4 .9 1.7 .9 1.9 1 2.1 .9 2.4 1 2.5 .9 2.8 1 3 .9 3.1 .9 3.4 1 3.4 .9 3.7 .9 3.7 1 3.9 .9 4 .9 4.1 .9 4.1 1 4.2 .9 4.2 .9 4.1 .9 4.2 .9 4.1M92.3 52.1l.9-.6 .9-.4 .9-.2 .9 .1 1 .3 .9 .5 .9 .7 1 1 .9 1.2 .9 1.5 1 1.7 .9 1.9 1 2.2 .9 2.3 1 2.6 .9 2.8 .9 3 1 3.2 .9 3.3 1 3.5 .9 3.7 .9 3.8 1 3.9 .9 4 .9 4.1 1 4.2 .9 4.1 .9 4.3 .9 4.2 .9 4.1 .9 4.1M94.2 51.4l.9-.6 .9-.4 .9-.2 1 .1 .9 .3 .9 .6 1 .7 .9 1 .9 1.3 1 1.5 .9 1.7 1 1.9 .9 2.2 1 2.4 .9 2.6 1 2.8 .9 3 1 3.2 .9 3.4 1 3.5 .9 3.7 .9 3.8 1 3.9 .9 4.1 .9 4.1 1 4.2 .9 4.2 .9 4.2 .9 4.3 .9 4.1 .9 4.2M96.1 50.6l.9-.6 .9-.3 .9-.1 1 0 .9 .4 1 .5 .9 .8 .9 1 1 1.3 .9 1.5 1 1.7 1 2 .9 2.2 1 2.4 .9 2.6 1 2.9 .9 3 1 3.2 .9 3.4 1 3.6 .9 3.7 1 3.8 .9 4 .9 4 1 4.2 .9 4.2 .9 4.2 .9 4.3 .9 4.2 1 4.3 .9 4.1M97 50.6l1-.7 .9-.6 .9-.3 1-.2 .9 .2 .9 .3 1 .6 .9 .8 1 1 .9 1.3 1 1.5 1 1.8 .9 2 1 2.2 .9 2.4 1 2.7 1 2.8 .9 3.1 1 3.2 .9 3.4 1 3.6 .9 3.7 1 3.9 .9 4 .9 4.1 1 4.1 .9 4.3 .9 4.2 1 4.3 .9 4.3 .9 4.2 .9 4.2M98.9 49.8l.9-.7 1-.6 .9-.3 1-.1 .9 .1 1 .4 .9 .6 1 .8 .9 1.1 1 1.3 1 1.5 .9 1.8 1 2 1 2.2 .9 2.5 1 2.7 .9 2.8 1 3.1 1 3.3 .9 3.4 1 3.6 .9 3.8 1 3.9 .9 4 1 4.1 .9 4.2 .9 4.2 .9 4.3 1 4.3 .9 4.3 .9 4.3 .9 4.2M100.8 49l.9-.7 1-.5 .9-.3 1-.1 .9 .1 1 .4 .9 .6 1 .9 1 1 .9 1.4 1 1.5 1 1.8 1 2 .9 2.3 1 2.5 1 2.7 .9 2.9 1 3.1 1 3.2 .9 3.5 1 3.6 .9 3.8 1 3.9 .9 4 1 4.2 .9 4.2 .9 4.3 1 4.3 .9 4.3 .9 4.4 .9 4.3 .9 4.2M102.7 48.2l.9-.7 1-.5 .9-.3 1-.1 .9 .2 1 .4 1 .6 1 .9 .9 1.1 1 1.3 1 1.6 .9 1.8 1 2.1 1 2.2 1 2.5 .9 2.7 1 3 1 3.1 .9 3.3 1 3.5 1 3.6 .9 3.8 1 3.9 .9 4.1 1 4.2 .9 4.2 .9 4.3 1 4.3 .9 4.4 .9 4.4 .9 4.3 1 4.3M104.6 47.3l.9-.7 1-.4 .9-.3 1-.1 1 .2 .9 .4 1 .7 1 .9 1 1.1 1 1.4 .9 1.6 1 1.8 1 2.1 1 2.3 1 2.5 .9 2.7 1 2.9 1 3.2 .9 3.3 1 3.5 1 3.7 .9 3.8 1 4 .9 4 1 4.2 .9 4.3 1 4.3 .9 4.4 .9 4.4 .9 4.4 1 4.3 .9 4.3M106.5 46.5l.9-.7 1-.5 .9-.2 1 0 1 .2 1 .4 1 .6 .9 1 1 1.1 1 1.4 1 1.6 1 1.9 1 2 .9 2.4 1 2.5 1 2.7 1 3 1 3.2 .9 3.3 1 3.5 1 3.7 .9 3.9 1 4 .9 4.1 1 4.2 .9 4.3 1 4.3 .9 4.4 .9 4.4 1 4.4 .9 4.4 .9 4.3M108.3 45.6l1-.7 1-.4 1-.2 .9-.1 1 .3 1 .4 1 .7 1 .9 1 1.2 1 1.4 .9 1.6 1 1.9 1 2.1 1 2.3 1 2.6 1 2.8 1 3 1 3.1 .9 3.4 1 3.6 1 3.7 .9 3.8 1 4 1 4.2 .9 4.2 1 4.3 .9 4.4 .9 4.4 1 4.4 .9 4.5 .9 4.4 .9 4.3M109.3 45.6l.9-.9 1-.6 1-.5 1-.2 .9 0 1 .3 1 .4 1 .7 1 1 1 1.2 1 1.4 1 1.6 1 1.9 1 2.2 1 2.3 1 2.6 1 2.8 1 3 1 3.2 .9 3.4 1 3.6 1 3.7 .9 3.9 1 4 1 4.2 .9 4.2 1 4.3 .9 4.4 .9 4.5 1 4.5 .9 4.4 .9 4.5 .9 4.3M111.1 44.6l1-.8 1-.6 1-.4 1-.2 1 0 1 .3 1 .4 1 .8 1 .9 1 1.2 1 1.5 1 1.6 1 1.9 1 2.2 1 2.4 1 2.6 1 2.8 1 3 .9 3.2 1 3.4 1 3.6 1 3.8 1 3.9 .9 4.1 1 4.1 .9 4.3 1 4.4 .9 4.4 1 4.5 .9 4.5 .9 4.4 .9 4.5 1 4.4M114 42.9l1-.6 1-.4 1-.2 1 .1 1 .2 1 .5 1 .8 1 1 1 1.2 1 1.4 1 1.7 1 2 1 2.1 1.1 2.4 1 2.6 1 2.9 .9 3 1 3.3 1 3.4 1 3.6 1 3.8 1 3.9 .9 4.1 1 4.2 .9 4.3 1 4.4 .9 4.4 1 4.5 .9 4.5 .9 4.6 1 4.4 .9 4.5M114.9 42.8l1-.8 1-.6 1-.4 1-.2 1 .1 1 .3 1 .5 1 .8 1.1 1 1 1.2 1 1.5 1 1.7 1 1.9 1 2.2 1 2.4 1 2.7 1 2.8 1 3.1 1 3.3 1 3.4 1 3.7 1 3.8 1 3.9 .9 4.1 1 4.2 1 4.4 .9 4.4 1 4.4 .9 4.6 .9 4.5 1 4.5 .9 4.6 .9 4.4M116.8 41.8l1-.8 1-.5 1-.4 1-.1 1 0 1 .3 1.1 .6 1 .8 1 1 1 1.2 1 1.5 1.1 1.8 1 1.9 1 2.2 1 2.5 1 2.6 1 2.9 1 3.1 1 3.3 1 3.4 1 3.7 1 3.8 1 4 .9 4.1 1 4.3 1 4.3 .9 4.4 1 4.5 .9 4.6 1 4.6 .9 4.5 .9 4.6 .9 4.5M118.7 40.9l1-.8 1-.6 1-.3 1-.1 1 0 1.1 .4 1 .5 1 .8 1 1.1 1.1 1.2 1 1.5 1 1.8 1 2 1.1 2.2 1 2.5 1 2.6 1 2.9 1 3.1 1 3.4 1 3.5 1 3.6 1 3.9 1 4 1 4.1 .9 4.3 1 4.4 .9 4.4 1 4.5 .9 4.6 1 4.6 .9 4.6 .9 4.6 .9 4.5M120.5 39.9l1.1-.8 1-.5 1-.3 1-.2 1.1 .2 1 .3 1 .6 1.1 .8 1 1 1 1.3 1.1 1.6 1 1.7 1 2 1 2.3 1.1 2.5 1 2.7 1 2.9 1 3.1 1 3.3 1 3.5 1 3.7 1 3.9 1 4 1 4.2 .9 4.3 1 4.4 1 4.5 .9 4.5 1 4.6 .9 4.6 .9 4.6 .9 4.6 1 4.6M122.4 38.9l1-.7 1.1-.6 1-.3 1-.1 1.1 .1 1 .4 1.1 .6 1 .8 1 1.1 1.1 1.3 1 1.6 1.1 1.7 1 2.1 1 2.2 1.1 2.5 1 2.8 1 2.9 1 3.1 1 3.4 1 3.5 1 3.7 1 3.9 1 4.1 1 4.2 1 4.3 .9 4.4 1 4.5 .9 4.6 1 4.6 .9 4.6 .9 4.7 1 4.6 .9 4.6M124.3 37.9l1-.7 1.1-.5 1-.3 1.1-.1 1 .1 1 .4 1.1 .6 1 .9 1.1 1 1 1.4 1.1 1.5 1 1.9 1.1 2 1 2.3 1 2.5 1.1 2.7 1 3 1 3.2 1 3.3 1 3.6 1 3.7 1 3.9 1 4.1 1 4.2 1 4.4 .9 4.4 1 4.5 .9 4.6 1 4.7 .9 4.6 1 4.7 .9 4.6 .9 4.6M125.2 37.8l1-.9 1-.7 1.1-.5 1-.3 1.1-.1 1 .2 1.1 .4 1 .6 1.1 .9 1 1.1 1.1 1.3 1 1.6 1.1 1.8 1 2.1 1.1 2.3 1 2.5 1.1 2.8 1 3 1 3.2 1 3.4 1 3.5 1 3.8 1 3.9 1 4.1 1 4.3 1 4.3 .9 4.5 1 4.5 1 4.7 .9 4.6 .9 4.7 1 4.7 .9 4.7 .9 4.6M128.1 35.8l1-.6 1.1-.5 1-.3 1.1 0 1 .1 1.1 .5 1.1 .6 1 .9 1.1 1.1 1 1.4 1.1 1.6 1.1 1.8 1 2.1 1.1 2.3 1 2.6 1 2.8 1.1 3 1 3.2 1 3.4 1 3.6 1 3.8 1 3.9 1 4.1 1 4.3 1 4.4 1 4.5 .9 4.5 1 4.7 .9 4.7 1 4.7 .9 4.7 .9 4.7 1 4.6M128.9 35.7l1.1-.9 1-.7 1.1-.4 1-.3 1.1 0 1.1 .2 1 .4 1.1 .7 1.1 .9 1 1.1 1.1 1.4 1.1 1.6 1 1.9 1.1 2.1 1 2.3 1.1 2.6 1 2.8 1.1 3 1 3.3 1 3.4 1 3.6 1.1 3.8 1 4 .9 4.1 1 4.3 1 4.4 1 4.5 .9 4.6 1 4.7 1 4.7 .9 4.7 .9 4.8 1 4.7 .9 4.7M130.8 34.6l1.1-.8 1-.7 1.1-.4 1.1-.3 1 0 1.1 .2 1.1 .5 1 .6 1.1 1 1.1 1.1 1.1 1.4 1 1.7 1.1 1.8 1.1 2.2 1 2.3 1.1 2.6 1 2.8 1.1 3.1 1 3.2 1 3.5 1 3.6 1.1 3.8 1 4 1 4.2 1 4.3 .9 4.4 1 4.6 1 4.6 .9 4.7 1 4.7 .9 4.8 1 4.7 .9 4.8 .9 4.7M132.7 33.5l1-.8 1.1-.6 1.1-.5 1.1-.2 1 0 1.1 .2 1.1 .5 1.1 .7 1.1 .9 1.1 1.2 1 1.4 1.1 1.7 1.1 1.9 1 2.1 1.1 2.4 1.1 2.6 1 2.9 1.1 3 1 3.3 1 3.4 1.1 3.7 1 3.9 1 4 1 4.2 1 4.3 .9 4.4 1 4.6 1 4.6 .9 4.7 1 4.8 .9 4.8 1 4.8 .9 4.8 .9 4.7M134.6 32.4l1-.8 1.1-.6 1.1-.4 1.1-.2 1.1 0 1.1 .2 1 .5 1.1 .7 1.1 1 1.1 1.2 1.1 1.4 1.1 1.7 1 1.9 1.1 2.2 1.1 2.4 1.1 2.6 1 2.9 1.1 3 1 3.3 1 3.5 1.1 3.7 1 3.9 1 4 1 4.2 1 4.3 1 4.5 .9 4.6 1 4.7 1 4.7 .9 4.8 1 4.8 .9 4.8 .9 4.8 1 4.8M136.4 31.3l1.1-.8 1.1-.6 1.1-.4 1.1-.2 1.1 .1 1.1 .2 1.1 .5 1.1 .8 1.1 .9 1.1 1.2 1.1 1.5 1 1.7 1.1 1.9 1.1 2.2 1.1 2.4 1 2.7 1.1 2.8 1.1 3.1 1 3.3 1 3.6 1.1 3.7 1 3.9 1 4 1 4.2 1 4.4 1 4.5 1 4.6 .9 4.7 1 4.7 .9 4.9 1 4.8 .9 4.8 1 4.9 .9 4.7M137.2 31.2l1.1-1 1.1-.8 1.1-.6 1.1-.3 1.1-.2 1.1 0 1.1 .3 1.1 .5 1.1 .8 1.1 1 1.1 1.2 1.1 1.5 1.1 1.7 1.1 1.9 1.1 2.2 1.1 2.5 1 2.6 1.1 2.9 1.1 3.1 1 3.4 1 3.5 1.1 3.7 1 3.9 1 4.1 1 4.3 1 4.3 1 4.6 1 4.6 1 4.7 .9 4.8 1 4.8 .9 4.9 1 4.8 .9 4.9 .9 4.8M139.1 30l1.1-.9 1.1-.8 1.1-.6 1.1-.3 1.1-.2 1.1 .1 1.2 .3 1.1 .5 1.1 .8 1.1 1 1.1 1.2 1.1 1.5 1.1 1.7 1.1 2 1.1 2.2 1.1 2.5 1 2.7 1.1 2.9 1.1 3.1 1 3.4 1.1 3.5 1 3.8 1 3.9 1 4.1 1 4.3 1 4.4 1 4.5 1 4.6 1 4.8 .9 4.8 1 4.8 .9 4.9 1 4.9 .9 4.9 .9 4.8M141 28.9l1.1-1 1.1-.7 1.1-.6 1.1-.3 1.2-.2 1.1 .1 1.1 .3 1.1 .6 1.1 .8 1.1 1 1.1 1.2 1.2 1.5 1.1 1.8 1.1 2 1.1 2.2 1 2.5 1.1 2.7 1.1 2.9 1.1 3.2 1 3.3 1.1 3.6 1 3.8 1 3.9 1.1 4.2 1 4.2 1 4.5 1 4.5 .9 4.7 1 4.8 1 4.8 .9 4.9 1 4.9 .9 4.9 .9 4.9 1 4.8M142.9 27.7l1.1-.9 1.1-.8 1.1-.5 1.1-.3 1.2-.2 1.1 .1 1.1 .4 1.1 .5 1.2 .8 1.1 1.1 1.1 1.2 1.1 1.6 1.1 1.7 1.1 2 1.1 2.3 1.1 2.5 1.1 2.7 1.1 3 1.1 3.1 1 3.4 1.1 3.6 1 3.8 1.1 4 1 4.1 1 4.3 1 4.5 1 4.5 1 4.7 .9 4.8 1 4.9 1 4.9 .9 4.9 .9 4.9 1 5 .9 4.8M144.8 26.5l1.1-.9 1.1-.7 1.1-.5 1.2-.4 1.1-.1 1.1 .1 1.2 .4 1.1 .6 1.1 .8 1.1 1 1.2 1.3 1.1 1.6 1.1 1.7 1.1 2.1 1.1 2.2 1.1 2.6 1.1 2.7 1.1 3 1.1 3.2 1 3.4 1.1 3.6 1 3.8 1.1 4 1 4.1 1 4.4 1 4.4 1 4.6 1 4.8 1 4.8 .9 4.8 1 5 .9 4.9 1 5 .9 4.9 .9 4.9M146.6 25.3l1.2-.9 1.1-.7 1.1-.5 1.2-.3 1.1-.1 1.2 .1 1.1 .4 1.1 .6 1.2 .8 1.1 1.1 1.1 1.3 1.2 1.6 1.1 1.8 1.1 2 1.1 2.3 1.1 2.5 1.1 2.8 1.1 3 1.1 3.2 1 3.4 1.1 3.6 1.1 3.9 1 4 1 4.2 1 4.3 1 4.5 1 4.6 1 4.8 1 4.8 1 4.9 .9 4.9 1 5 .9 5 .9 5 .9 4.9M147.4 25.2l1.1-1.1 1.2-.9 1.1-.7 1.1-.5 1.2-.3 1.1 0 1.2 .1 1.1 .4 1.2 .6 1.1 .8 1.2 1.1 1.1 1.4 1.1 1.5 1.2 1.8 1.1 2.1 1.1 2.3 1.1 2.6 1.1 2.7 1.1 3 1.1 3.3 1.1 3.4 1 3.7 1.1 3.8 1 4.1 1 4.2 1.1 4.3 1 4.5 1 4.7 1 4.7 .9 4.9 1 4.9 .9 5 1 5 .9 5 1 5 .9 5M149.3 23.9l1.1-1 1.2-.9 1.1-.7 1.2-.5 1.1-.2 1.2-.1 1.1 .2 1.2 .4 1.1 .6 1.2 .8 1.1 1.1 1.2 1.4 1.1 1.6 1.1 1.8 1.2 2.1 1.1 2.3 1.1 2.6 1.1 2.8 1.1 3 1.1 3.3 1.1 3.4 1 3.7 1.1 3.9 1 4 1.1 4.2 1 4.4 1 4.6 1 4.6 1 4.8 1 4.9 .9 4.9 1 5 .9 5.1 1 5 .9 5 .9 5M151.1 22.6l1.2-1 1.1-.8 1.2-.7 1.2-.5 1.1-.2 1.2-.1 1.2 .2 1.1 .4 1.2 .6 1.1 .9 1.2 1.1 1.1 1.4 1.2 1.6 1.1 1.9 1.2 2.1 1.1 2.3 1.1 2.6 1.1 2.8 1.1 3.1 1.1 3.2 1.1 3.5 1.1 3.7 1 3.9 1.1 4.1 1 4.2 1 4.4 1 4.6 1 4.7 1 4.8 1 4.8 1 5 .9 5 1 5.1 .9 5.1 .9 5 .9 5M153 21.4l1.2-1 1.1-.9 1.2-.6 1.2-.5 1.2-.2 1.1-.1 1.2 .2 1.2 .4 1.1 .7 1.2 .9 1.2 1.1 1.1 1.4 1.2 1.6 1.1 1.9 1.2 2.1 1.1 2.4 1.1 2.6 1.1 2.8 1.1 3.1 1.1 3.3 1.1 3.5 1.1 3.7 1 3.9 1.1 4.1 1 4.3 1 4.4 1.1 4.6 1 4.7 1 4.8 .9 4.9 1 5 .9 5 1 5.1 .9 5.1 1 5.1 .9 5M154.9 20.1l1.2-1 1.1-.9 1.2-.6 1.2-.4 1.2-.3 1.2 0 1.1 .2 1.2 .5 1.2 .6 1.2 1 1.1 1.1 1.2 1.4 1.1 1.6 1.2 1.9 1.1 2.2 1.2 2.3 1.1 2.7 1.1 2.8 1.1 3.1 1.1 3.3 1.1 3.5 1.1 3.8 1.1 3.9 1 4.1 1.1 4.3 1 4.4 1 4.6 1 4.8 1 4.8 1 4.9 .9 5 1 5.1 .9 5.1 1 5.1 .9 5.1 .9 5.1M155.6 19.9l1.2-1.1 1.2-1 1.1-.8 1.2-.7 1.2-.4 1.2-.2 1.2 0 1.2 .2 1.2 .5 1.1 .7 1.2 .9 1.2 1.2 1.2 1.4 1.1 1.6 1.2 1.9 1.1 2.2 1.2 2.4 1.1 2.6 1.1 2.9 1.2 3.1 1.1 3.3 1 3.5 1.1 3.8 1.1 3.9 1 4.2 1.1 4.3 1 4.5 1 4.6 1 4.7 1 4.9 1 4.9 1 5.1 .9 5.1 1 5.1 .9 5.1 .9 5.1 1 5.1M157.5 18.6l1.2-1.2 1.2-1 1.1-.8 1.2-.6 1.2-.4 1.2-.2 1.2 0 1.2 .3 1.2 .5 1.2 .7 1.2 .9 1.2 1.2 1.1 1.4 1.2 1.7 1.2 1.9 1.1 2.2 1.2 2.4 1.1 2.6 1.1 2.9 1.2 3.2 1.1 3.3 1.1 3.6 1 3.7 1.1 4 1.1 4.1 1 4.4 1.1 4.5 1 4.6 1 4.8 1 4.9 .9 4.9 1 5.1 1 5.1 .9 5.1 1 5.2 .9 5.1 .9 5.1" fill="none" stroke="#000" stroke-width="0.72" stroke-linejoin="round"/>
</g>
<path d="M46.6 56.6C50.0 56.4 61.0 55.9 67.0 55.4C73.0 54.9 74.8 55.5 82.6 53.5C90.4 51.5 106.0 46.5 113.9 43.5C121.7 40.6 124.3 38.8 129.5 35.7C134.7 32.5 140.4 28.1 145.2 24.7C149.9 21.3 154.8 17.1 157.8 15.4C160.8 13.6 162.1 14.3 162.9 14.1L163.2 15.3C162.5 15.7 161.8 15.6 159.1 17.6C156.5 19.6 151.8 23.9 147.1 27.4C142.5 31.0 136.7 35.5 131.4 38.7C126.0 42.0 123.1 43.9 115.1 46.9C107.1 49.9 91.4 54.8 83.4 56.6C75.4 58.5 73.3 57.8 67.2 58.0C61.1 58.2 50.1 57.7 46.6 57.6Z" fill="#000"/>
<text transform="translate(25.2 20.6) rotate(0.0) scale(0.96 1)" font-size="7.1" text-anchor="end">25.5</text>
<text transform="translate(26.1 42.8) rotate(0.0) scale(0.96 1)" font-size="7.1" text-anchor="end">24.8</text>
<text transform="translate(27.0 64.6) rotate(0.0) scale(0.96 1)" font-size="7.1" text-anchor="end">24.1</text>
<text transform="translate(27.8 86.8) rotate(0.0) scale(0.96 1)" font-size="7.1" text-anchor="end">23.4</text>
<text transform="translate(28.7 109.0) rotate(0.0) scale(0.96 1)" font-size="7.1" text-anchor="end">22.7</text>
<text transform="translate(5.3 82.0) rotate(-90) scale(1 .8)" font-size="9.4" text-anchor="middle"><tspan font-size="12">σ</tspan><tspan font-size="8" dy="2.2">ash</tspan><tspan dy="-2.2"> (%)</tspan></text>
<text transform="translate(25.3 138.0) rotate(0.0) scale(0.96 1)" font-size="7.1" text-anchor="middle">3.06</text>
<text transform="translate(34.2 152.5) rotate(0.0) scale(0.96 1)" font-size="7.1" text-anchor="middle">3.28</text>
<text transform="translate(43.0 165.5) rotate(0.0) scale(0.96 1)" font-size="7.1" text-anchor="middle">3.50</text>
<text transform="translate(51.9 178.7) rotate(0.0) scale(0.96 1)" font-size="7.1" text-anchor="middle">3.71</text>
<text transform="translate(60.8 191.5) rotate(0.0) scale(0.96 1)" font-size="7.1" text-anchor="middle">3.93</text>
<text transform="translate(82.3 190.8) rotate(0.0) scale(0.96 1)" font-size="7.1" text-anchor="middle">110.00</text>
<text transform="translate(115.0 185.0) rotate(0.0) scale(0.96 1)" font-size="7.1" text-anchor="middle">105.00</text>
<text transform="translate(145.4 178.9) rotate(0.0) scale(0.96 1)" font-size="7.1" text-anchor="middle">100.00</text>
<text transform="translate(175.8 173.9) rotate(0.0) scale(0.96 1)" font-size="7.1" text-anchor="middle">95.00</text>
<text transform="translate(206.2 168.1) rotate(0.0) scale(0.96 1)" font-size="7.1" text-anchor="middle">90.00</text>
<text transform="translate(28.3 170.0) rotate(55.0) scale(0.88 1)" font-size="9.9" text-anchor="middle">B: Pulsating frequency (Hz)</text>
<text transform="translate(155.4 193.1) rotate(-9.4) scale(0.88 1)" font-size="9.9" text-anchor="middle">A: Inlet temperature (°C)</text>
<text transform="translate(187.0 41.8) rotate(0.0) scale(1.00 1)" font-size="21.5" text-anchor="middle">a</text>
<polygon points="253.8,11.2 371.6,0.6 370.9,120.8 258.2,140.8" class="w"/>
<polygon points="371.6,0.6 448.3,21.6 442.7,159.3 370.9,120.8" class="w"/>
<polygon points="258.2,140.8 370.9,120.8 442.7,159.3 318.1,187.3" class="w"/>
<clipPath id="fb"><polygon points="258.2,140.8 370.9,120.8 442.7,159.3 318.1,187.3"/></clipPath><g clip-path="url(#fb)">
<path d="M265.3 139.8C266.4 141.3 269.6 146.0 272.0 149.0C274.4 152.0 276.2 154.2 280.0 158.0C283.8 161.8 290.7 168.7 294.5 171.9C298.3 175.2 301.6 176.6 303.0 177.5" class="c"/>
<path d="M271.8 138.7C273.2 140.6 276.9 146.8 280.0 150.2C283.1 153.6 286.7 155.9 290.1 159.0C293.5 162.1 297.1 165.9 300.2 169.0C303.3 172.1 306.4 174.9 308.9 177.7C311.4 180.5 314.0 183.9 315.4 185.6C316.8 187.3 316.7 187.6 317.0 188.0" class="c"/>
<path d="M279.1 137.6C280.5 138.5 284.2 140.9 287.2 143.0C290.2 145.1 293.7 147.3 297.3 150.2C300.9 153.1 305.5 157.2 308.9 160.3C312.3 163.4 315.2 166.1 317.6 169.0C320.0 171.9 322.0 174.9 323.4 177.7C324.8 180.5 325.7 184.0 326.2 185.6C326.7 187.2 326.4 186.8 326.5 187.0" class="c"/>
<path d="M285.8 136.0C288.0 136.4 295.0 137.3 298.8 138.7C302.6 140.1 305.3 142.3 308.9 144.5C312.5 146.7 317.1 149.3 320.5 151.7C323.9 154.1 326.7 156.5 329.1 158.9C331.5 161.3 333.4 163.7 334.9 166.1C336.3 168.5 337.1 170.6 337.8 173.4C338.5 176.2 338.9 180.9 339.2 182.7C339.5 184.5 339.4 183.8 339.4 184.0" class="c"/>
<path d="M297.6 134.5C299.3 135.0 303.5 136.5 307.6 137.4C311.7 138.3 317.7 139.5 322.0 139.7C326.3 139.9 330.5 139.9 333.6 138.8C336.7 137.7 339.1 135.2 340.8 133.0C342.5 130.8 343.2 127.6 343.7 125.9C344.2 124.2 343.9 123.5 344.0 123.0" class="cb"/>
<path d="M352.0 123.5C352.5 126.0 353.5 133.9 355.2 138.8C356.9 143.8 359.3 148.9 362.4 153.2C365.5 157.5 368.9 160.9 373.9 164.8C378.9 168.7 389.4 174.6 392.5 176.5" class="c"/>
<path d="M359.3 122.4C360.3 125.1 362.4 133.7 365.3 138.8C368.2 143.9 372.5 148.9 376.8 153.2C381.1 157.5 386.7 161.4 391.2 164.8C395.7 168.2 401.9 172.1 404.0 173.5" class="c"/>
<path d="M364.5 121.5C366.1 124.4 369.9 133.5 373.9 138.8C377.9 144.1 383.5 149.1 388.3 153.2C393.1 157.3 398.2 160.4 402.7 163.3C407.1 166.2 412.9 169.3 415.0 170.5" class="c"/>
<path d="M369.3 120.7C371.0 123.2 375.6 131.2 379.7 135.9C383.8 140.6 388.8 144.6 394.1 148.9C399.4 153.2 406.6 158.7 411.4 161.9C416.2 165.1 421.1 167.0 423.0 168.0" class="c"/>
</g>
<line x1="258.2" y1="140.8" x2="256.8" y2="141.9" class="t"/>
<line x1="273.2" y1="152.4" x2="271.7" y2="153.5" class="t"/>
<line x1="288.1" y1="164.1" x2="286.7" y2="165.1" class="t"/>
<line x1="303.1" y1="175.7" x2="301.7" y2="176.8" class="t"/>
<line x1="318.1" y1="187.3" x2="316.7" y2="188.4" class="t"/>
<line x1="318.1" y1="187.3" x2="318.5" y2="189.1" class="t"/>
<line x1="349.2" y1="180.3" x2="349.6" y2="182.1" class="t"/>
<line x1="380.4" y1="173.3" x2="380.8" y2="175.1" class="t"/>
<line x1="411.6" y1="166.3" x2="411.9" y2="168.1" class="t"/>
<line x1="442.7" y1="159.3" x2="443.1" y2="161.1" class="t"/>
<line x1="253.8" y1="11.4" x2="251.8" y2="11.4" class="t"/>
<line x1="254.7" y1="36.4" x2="252.7" y2="36.4" class="t"/>
<line x1="255.5" y1="61.1" x2="253.5" y2="61.1" class="t"/>
<line x1="256.3" y1="85.4" x2="254.3" y2="85.4" class="t"/>
<line x1="257.2" y1="110.4" x2="255.2" y2="110.4" class="t"/>
<clipPath id="csb"><path d="M255.4 70.9C256.8 68.2 260.6 60.1 264.0 55.0C267.4 49.9 270.3 46.7 275.6 40.5C280.9 34.3 290.3 22.9 296.0 17.7C301.7 12.5 305.8 11.4 310.0 9.5C314.2 7.6 318.0 7.0 321.0 6.3C324.0 5.6 325.5 5.4 328.0 5.6C330.5 5.8 333.2 6.3 336.0 7.5C338.8 8.7 342.5 10.5 345.0 12.6C347.5 14.7 348.5 17.2 351.2 20.2C353.9 23.1 357.8 26.4 361.3 30.3C364.8 34.2 370.5 41.5 372.3 43.8C374.3 44.3 380.1 45.2 384.1 46.9C388.1 48.6 392.1 51.1 396.1 54.1C400.1 57.1 404.2 60.9 408.2 64.9C412.2 68.9 416.2 73.2 420.2 78.2C424.2 83.2 428.9 89.5 432.3 95.1C435.7 100.7 438.7 107.2 440.7 111.9C442.7 116.6 443.9 121.2 444.5 123.0C442.5 121.2 436.4 115.8 432.3 111.9C428.2 108.1 424.2 104.1 420.2 99.9C416.2 95.7 412.2 91.2 408.2 86.6C404.2 82.0 400.1 77.2 396.1 72.2C392.1 67.2 388.1 61.2 384.1 56.5C380.1 51.8 374.3 45.9 372.3 43.8C370.5 44.2 364.7 45.6 361.3 46.5C357.9 47.4 354.7 47.7 352.0 49.0C349.3 50.3 348.3 51.4 345.0 54.4C341.7 57.4 336.4 62.5 332.0 67.0C327.6 71.5 320.9 79.1 318.7 81.5C316.9 81.9 311.8 83.5 308.0 84.0C304.2 84.5 300.2 85.0 296.0 84.8C291.8 84.6 287.2 84.0 283.0 83.0C278.8 82.0 275.2 80.5 270.6 78.5C266.0 76.5 257.9 72.2 255.4 70.9Z"/></clipPath>
<path d="M255.4 70.9C256.8 68.2 260.6 60.1 264.0 55.0C267.4 49.9 270.3 46.7 275.6 40.5C280.9 34.3 290.3 22.9 296.0 17.7C301.7 12.5 305.8 11.4 310.0 9.5C314.2 7.6 318.0 7.0 321.0 6.3C324.0 5.6 325.5 5.4 328.0 5.6C330.5 5.8 333.2 6.3 336.0 7.5C338.8 8.7 342.5 10.5 345.0 12.6C347.5 14.7 348.5 17.2 351.2 20.2C353.9 23.1 357.8 26.4 361.3 30.3C364.8 34.2 370.5 41.5 372.3 43.8C374.3 44.3 380.1 45.2 384.1 46.9C388.1 48.6 392.1 51.1 396.1 54.1C400.1 57.1 404.2 60.9 408.2 64.9C412.2 68.9 416.2 73.2 420.2 78.2C424.2 83.2 428.9 89.5 432.3 95.1C435.7 100.7 438.7 107.2 440.7 111.9C442.7 116.6 443.9 121.2 444.5 123.0C442.5 121.2 436.4 115.8 432.3 111.9C428.2 108.1 424.2 104.1 420.2 99.9C416.2 95.7 412.2 91.2 408.2 86.6C404.2 82.0 400.1 77.2 396.1 72.2C392.1 67.2 388.1 61.2 384.1 56.5C380.1 51.8 374.3 45.9 372.3 43.8C370.5 44.2 364.7 45.6 361.3 46.5C357.9 47.4 354.7 47.7 352.0 49.0C349.3 50.3 348.3 51.4 345.0 54.4C341.7 57.4 336.4 62.5 332.0 67.0C327.6 71.5 320.9 79.1 318.7 81.5C316.9 81.9 311.8 83.5 308.0 84.0C304.2 84.5 300.2 85.0 296.0 84.8C291.8 84.6 287.2 84.0 283.0 83.0C278.8 82.0 275.2 80.5 270.6 78.5C266.0 76.5 257.9 72.2 255.4 70.9Z" fill="#000"/>
<g clip-path="url(#csb)">
<path d="M366.7 36l6.2 7.2 4.7 7.1-6.2-7.6z" fill="#000000" stroke="#000000" stroke-width=".7"/>
<path d="M372.9 43.2l6.2 7.4 4.6 7.3-6.1-7.6z" fill="#000000" stroke="#000000" stroke-width=".7"/>
<path d="M357.4 24.7l6.2 6.8 9.3 11.7-6.2-7.2z" fill="#000000" stroke="#000000" stroke-width=".7"/>
<path d="M379.1 50.6l6.1 7.3 4.7 7.6-6.2-7.6z" fill="#000000" stroke="#000000" stroke-width=".7"/>
<path d="M363.6 31.5l6.2 6.8 9.3 12.3-6.2-7.4z" fill="#000000" stroke="#000000" stroke-width=".7"/>
<path d="M348.1 16.4l6.1 6.2 9.4 8.9-6.2-6.8z" fill="#000000" stroke="#000000" stroke-width=".7"/>
<path d="M385.2 57.9l6.1 7.1 4.7 7.9-6.1-7.4z" fill="#000000" stroke="#000000" stroke-width=".7"/>
<path d="M369.8 38.3l6.1 6.7 9.3 12.9-6.1-7.3z" fill="#000000" stroke="#000000" stroke-width=".7"/>
<path d="M354.2 22.6l6.1 6.3 9.5 9.4-6.2-6.8z" fill="#000000" stroke="#000000" stroke-width=".7"/>
<path d="M338.7 10.7l6.1 5.8 9.4 6.1-6.1-6.2z" fill="#000000" stroke="#000000" stroke-width=".7"/>
<path d="M391.3 65l6.1 6.9 4.6 8.3-6-7.3z" fill="#000000" stroke="#000000" stroke-width=".7"/>
<path d="M375.9 45l6.1 6.6 9.3 13.4-6.1-7.1z" fill="#000000" stroke="#000000" stroke-width=".7"/>
<path d="M360.3 28.9l6.1 6.2 9.5 9.9-6.1-6.7z" fill="#000000" stroke="#000000" stroke-width=".7"/>
<path d="M329.2 7.7l6.1 5.3 9.5 3.5-6.1-5.8z" fill="#000000" stroke="#000000" stroke-width=".7"/>
<path d="M344.8 16.5l6 5.8 9.5 6.6-6.1-6.3z" fill="#000000" stroke="#000000" stroke-width=".7"/>
<path d="M397.4 71.9l6.1 6.7 4.6 8.5-6.1-6.9z" fill="#000000" stroke="#000000" stroke-width=".7"/>
<path d="M382 51.6l6.1 6.3 9.3 14-6.1-6.9z" fill="#000000" stroke="#000000" stroke-width=".7"/>
<path d="M319.8 7.1l6 4.9 9.5 1-6.1-5.3z" fill="#000000" stroke="#000000" stroke-width=".7"/>
<path d="M366.4 35.1l6.1 6 9.5 10.5-6.1-6.6z" fill="#000000" stroke="#000000" stroke-width=".7"/>
<path d="M335.3 13l6 5.4 9.5 3.9-6-5.8z" fill="#000000" stroke="#000000" stroke-width=".7"/>
<path d="M350.8 22.3l6.1 5.7 9.5 7.1-6.1-6.2z" fill="#000000" stroke="#000000" stroke-width=".7"/>
<path d="M310.4 8.9l5.9 4.6 9.5-1.5-6-4.9z" fill="#220000" stroke="#220000" stroke-width=".7"/>
<path d="M403.5 78.6l6 6.3 4.6 8.9-6-6.7z" fill="#000000" stroke="#000000" stroke-width=".7"/>
<path d="M388.1 57.9l6 6 9.4 14.7-6.1-6.7z" fill="#000000" stroke="#000000" stroke-width=".7"/>
<path d="M325.8 12l5.9 4.9 9.6 1.5-6-5.4z" fill="#000000" stroke="#000000" stroke-width=".7"/>
<path d="M372.5 41.1l6.1 5.8 9.5 11-6.1-6.3z" fill="#000000" stroke="#000000" stroke-width=".7"/>
<path d="M301 13.2l5.9 4.1 9.4-3.8-5.9-4.6z" fill="#370002" stroke="#370002" stroke-width=".7"/>
<path d="M341.3 18.4l6 5.2 9.6 4.4-6.1-5.7z" fill="#000000" stroke="#000000" stroke-width=".7"/>
<path d="M356.9 28l6 5.5 9.6 7.6-6.1-6z" fill="#000000" stroke="#000000" stroke-width=".7"/>
<path d="M291.8 19.8l5.7 3.8 9.4-6.3-5.9-4.1z" fill="#3f0006" stroke="#3f0006" stroke-width=".7"/>
<path d="M316.3 13.5l5.9 4.5 9.5-1.1-5.9-4.9z" fill="#190001" stroke="#190001" stroke-width=".7"/>
<path d="M409.5 84.9l6.1 6.1 4.6 9.1-6.1-6.3z" fill="#000000" stroke="#000000" stroke-width=".7"/>
<path d="M394.1 63.9l6.1 5.8 9.3 15.2-6-6.3z" fill="#000000" stroke="#000000" stroke-width=".7"/>
<path d="M282.6 28.8l5.6 3.5 9.3-8.7-5.7-3.8z" fill="#40000d" stroke="#40000d" stroke-width=".7"/>
<path d="M331.7 16.9l6 4.8 9.6 1.9-6-5.2z" fill="#000000" stroke="#000000" stroke-width=".7"/>
<path d="M273.5 40.3l5.5 3.2 9.2-11.2-5.6-3.5z" fill="#3d0014" stroke="#3d0014" stroke-width=".7"/>
<path d="M255.8 71.2l5.3 2.7 8.8-16.6-5.3-3z" fill="#300023" stroke="#300023" stroke-width=".7"/>
<path d="M378.6 46.9l6 5.5 9.5 11.5-6-6z" fill="#000000" stroke="#000000" stroke-width=".7"/>
<path d="M264.6 54.3l5.3 3 9.1-13.8-5.5-3.2z" fill="#38001c" stroke="#38001c" stroke-width=".7"/>
<path d="M306.9 17.3l5.8 4.2 9.5-3.5-5.9-4.5z" fill="#320003" stroke="#320003" stroke-width=".7"/>
<path d="M347.3 23.6l6 5 9.6 4.9-6-5.5z" fill="#000000" stroke="#000000" stroke-width=".7"/>
<path d="M362.9 33.5l6.1 5.3 9.6 8.1-6.1-5.8z" fill="#000000" stroke="#000000" stroke-width=".7"/>
<path d="M297.5 23.6l5.7 3.8 9.5-5.9-5.8-4.2z" fill="#3c0007" stroke="#3c0007" stroke-width=".7"/>
<path d="M322.2 18l5.9 4.4 9.6-.7-6-4.8z" fill="#0b0001" stroke="#0b0001" stroke-width=".7"/>
<path d="M415.6 91l6 5.7 4.6 9.5-6-6.1z" fill="#000000" stroke="#000000" stroke-width=".7"/>
<path d="M400.2 69.7l6 5.3 9.4 16-6.1-6.1z" fill="#000000" stroke="#000000" stroke-width=".7"/>
<path d="M288.2 32.3l5.6 3.4 9.4-8.3-5.7-3.8z" fill="#3e000d" stroke="#3e000d" stroke-width=".7"/>
<path d="M337.7 21.7l5.9 4.6 9.7 2.3-6-5z" fill="#000000" stroke="#000000" stroke-width=".7"/>
<path d="M384.6 52.4l6 5.1 9.6 12.2-6.1-5.8z" fill="#000000" stroke="#000000" stroke-width=".7"/>
<path d="M279 43.5l5.5 3.1 9.3-10.9-5.6-3.4z" fill="#3b0014" stroke="#3b0014" stroke-width=".7"/>
<path d="M353.3 28.6l6 4.8 9.7 5.4-6.1-5.3z" fill="#000000" stroke="#000000" stroke-width=".7"/>
<path d="M369 38.8l6 4.9 9.6 8.7-6-5.5z" fill="#000000" stroke="#000000" stroke-width=".7"/>
<path d="M261.1 73.9l5.2 2.6 9-16.3-5.4-2.9z" fill="#2f0022" stroke="#2f0022" stroke-width=".7"/>
<path d="M312.7 21.5l5.8 4 9.6-3.1-5.9-4.4z" fill="#290004" stroke="#290004" stroke-width=".7"/>
<path d="M269.9 57.3l5.4 2.9 9.2-13.6-5.5-3.1z" fill="#36001c" stroke="#36001c" stroke-width=".7"/>
<path d="M303.2 27.4l5.7 3.6 9.6-5.5-5.8-4z" fill="#350008" stroke="#350008" stroke-width=".7"/>
<path d="M328.1 22.4l5.8 4.1 9.7-.2-5.9-4.6z" fill="#000000" stroke="#000000" stroke-width=".7"/>
<path d="M421.6 96.7l6 5.4 4.6 9.9-6-5.8z" fill="#000000" stroke="#000000" stroke-width=".7"/>
<path d="M406.2 75l6 5.1 9.4 16.6-6-5.7z" fill="#000000" stroke="#000000" stroke-width=".7"/>
<path d="M293.8 35.7l5.6 3.3 9.5-8-5.7-3.6z" fill="#39000d" stroke="#39000d" stroke-width=".7"/>
<path d="M343.6 26.3l5.9 4.3 9.8 2.8-6-4.8z" fill="#000000" stroke="#000000" stroke-width=".7"/>
<path d="M390.6 57.5l6 4.8 9.6 12.7-6-5.3z" fill="#000000" stroke="#000000" stroke-width=".7"/>
<path d="M359.3 33.4l5.9 4.4 9.8 5.9-6-4.9z" fill="#000000" stroke="#000000" stroke-width=".7"/>
<path d="M375 43.7l6 4.6 9.6 9.2-6-5.1z" fill="#000000" stroke="#000000" stroke-width=".7"/>
<path d="M284.5 46.6l5.5 3 9.4-10.6-5.6-3.3z" fill="#370013" stroke="#370013" stroke-width=".7"/>
<path d="M318.5 25.5l5.7 3.7 9.7-2.7-5.8-4.1z" fill="#1a0003" stroke="#1a0003" stroke-width=".7"/>
<path d="M275.3 60.2l5.4 2.7 9.3-13.3-5.5-3z" fill="#32001a" stroke="#32001a" stroke-width=".7"/>
<path d="M266.3 76.5l5.2 2.4 9.2-16-5.4-2.7z" fill="#2b001f" stroke="#2b001f" stroke-width=".7"/>
<path d="M427.6 102.1l6 5.2 4.6 10.3-6-5.6z" fill="#000000" stroke="#000000" stroke-width=".7"/>
<path d="M333.9 26.5l5.9 3.9 9.7 .2-5.9-4.3z" fill="#000000" stroke="#000000" stroke-width=".7"/>
<path d="M308.9 31l5.7 3.4 9.6-5.2-5.7-3.7z" fill="#2b0007" stroke="#2b0007" stroke-width=".7"/>
<path d="M412.2 80.1l6 4.8 9.4 17.2-6-5.4z" fill="#000000" stroke="#000000" stroke-width=".7"/>
<path d="M349.5 30.6l5.9 3.9 9.8 3.3-5.9-4.4z" fill="#000000" stroke="#000000" stroke-width=".7"/>
<path d="M299.4 39l5.6 3 9.6-7.6-5.7-3.4z" fill="#30000c" stroke="#30000c" stroke-width=".7"/>
<path d="M396.6 62.3l6 4.4 9.6 13.4-6-5.1z" fill="#000000" stroke="#000000" stroke-width=".7"/>
<path d="M365.2 37.8l6 4 9.8 6.5-6-4.6z" fill="#000000" stroke="#000000" stroke-width=".7"/>
<path d="M381 48.3l5.9 4.2 9.7 9.8-6-4.8z" fill="#000000" stroke="#000000" stroke-width=".7"/>
<path d="M324.2 29.2l5.8 3.4 9.8-2.2-5.9-3.9z" fill="#050001" stroke="#050001" stroke-width=".7"/>
<path d="M290 49.6l5.4 2.7 9.6-10.3-5.6-3z" fill="#300011" stroke="#300011" stroke-width=".7"/>
<path d="M280.7 62.9l5.3 2.3 9.4-12.9-5.4-2.7z" fill="#2c0016" stroke="#2c0016" stroke-width=".7"/>
<path d="M271.5 78.9l5.2 2.1 9.3-15.8-5.3-2.3z" fill="#25001a" stroke="#25001a" stroke-width=".7"/>
<path d="M433.6 107.3l6 5.1 4.6 10.6-6-5.4z" fill="#000000" stroke="#000000" stroke-width=".7"/>
<path d="M339.8 30.4l5.8 3.4 9.8 .7-5.9-3.9z" fill="#000000" stroke="#000000" stroke-width=".7"/>
<path d="M314.6 34.4l5.7 3 9.7-4.8-5.8-3.4z" fill="#1c0005" stroke="#1c0005" stroke-width=".7"/>
<path d="M418.2 84.9l6 4.5 9.4 17.9-6-5.2z" fill="#000000" stroke="#000000" stroke-width=".7"/>
<path d="M355.4 34.5l5.9 3.6 9.9 3.7-6-4z" fill="#000000" stroke="#000000" stroke-width=".7"/>
<path d="M402.6 66.7l6.1 4.2 9.5 14-6-4.8z" fill="#000000" stroke="#000000" stroke-width=".7"/>
<path d="M305 42l5.6 2.7 9.7-7.3-5.7-3z" fill="#250009" stroke="#250009" stroke-width=".7"/>
<path d="M371.2 41.8l5.9 3.7 9.8 7-5.9-4.2z" fill="#000000" stroke="#000000" stroke-width=".7"/>
<path d="M386.9 52.5l6 3.8 9.7 10.4-6-4.4z" fill="#000000" stroke="#000000" stroke-width=".7"/>
<path d="M330 32.6l5.8 3.1 9.8-1.9-5.8-3.4z" fill="#000000" stroke="#000000" stroke-width=".7"/>
<path d="M295.4 52.3l5.5 2.3 9.7-9.9-5.6-2.7z" fill="#26000e" stroke="#26000e" stroke-width=".7"/>
<path d="M286 65.2l5.4 2 9.5-12.6-5.5-2.3z" fill="#230012" stroke="#230012" stroke-width=".7"/>
<path d="M276.7 81l5.2 1.7 9.5-15.5-5.4-2z" fill="#1d0014" stroke="#1d0014" stroke-width=".7"/>
<path d="M345.6 33.8l5.9 3.1 9.8 1.2-5.9-3.6z" fill="#000000" stroke="#000000" stroke-width=".7"/>
<path d="M424.2 89.4l6 4.4 9.4 18.6-6-5.1z" fill="#000000" stroke="#000000" stroke-width=".7"/>
<path d="M320.3 37.4l5.6 2.6 9.9-4.3-5.8-3.1z" fill="#070001" stroke="#070001" stroke-width=".7"/>
<path d="M361.3 38.1l5.9 3.1 9.9 4.3-5.9-3.7z" fill="#000000" stroke="#000000" stroke-width=".7"/>
<path d="M408.7 70.9l6 3.9 9.5 14.6-6-4.5z" fill="#000000" stroke="#000000" stroke-width=".7"/>
<path d="M310.6 44.7l5.5 2.2 9.8-6.9-5.6-2.6z" fill="#140005" stroke="#140005" stroke-width=".7"/>
<path d="M377.1 45.5l6 3.3 9.8 7.5-6-3.8z" fill="#000000" stroke="#000000" stroke-width=".7"/>
<path d="M392.9 56.3l6 3.6 9.8 11-6.1-4.2z" fill="#000000" stroke="#000000" stroke-width=".7"/>
<path d="M335.8 35.7l5.7 2.6 10-1.4-5.9-3.1z" fill="#000000" stroke="#000000" stroke-width=".7"/>
<path d="M300.9 54.6l5.5 1.9 9.7-9.6-5.5-2.2z" fill="#180009" stroke="#180009" stroke-width=".7"/>
<path d="M291.4 67.2l5.3 1.6 9.7-12.3-5.5-1.9z" fill="#17000b" stroke="#17000b" stroke-width=".7"/>
<path d="M281.9 82.7l5.2 1.3 9.6-15.2-5.3-1.6z" fill="#13000c" stroke="#13000c" stroke-width=".7"/>
<path d="M351.5 36.9l5.8 2.7 9.9 1.6-5.9-3.1z" fill="#000000" stroke="#000000" stroke-width=".7"/>
<path d="M325.9 40l5.7 2.2 9.9-3.9-5.7-2.6z" fill="#000000" stroke="#000000" stroke-width=".7"/>
<path d="M367.2 41.2l5.9 2.8 10 4.8-6-3.3z" fill="#000000" stroke="#000000" stroke-width=".7"/>
<path d="M414.7 74.8l6 3.7 9.5 15.3-6-4.4z" fill="#000000" stroke="#000000" stroke-width=".7"/>
<path d="M383.1 48.8l5.9 3 9.9 8.1-6-3.6z" fill="#000000" stroke="#000000" stroke-width=".7"/>
<path d="M398.9 59.9l6 3.2 9.8 11.7-6-3.9z" fill="#000000" stroke="#000000" stroke-width=".7"/>
<path d="M316.1 46.9l5.6 1.8 9.9-6.5-5.7-2.2z" fill="#000000" stroke="#000000" stroke-width=".7"/>
<path d="M341.5 38.3l5.8 2.2 10-.9-5.8-2.7z" fill="#000000" stroke="#000000" stroke-width=".7"/>
<path d="M306.4 56.5l5.5 1.4 9.8-9.2-5.6-1.8z" fill="#070002" stroke="#070002" stroke-width=".7"/>
<path d="M296.7 68.8l5.4 1.1 9.8-12-5.5-1.4z" fill="#080004" stroke="#080004" stroke-width=".7"/>
<path d="M357.3 39.6l5.8 2.2 10 2.2-5.9-2.8z" fill="#000000" stroke="#000000" stroke-width=".7"/>
<path d="M287.1 84l5.2 .7 9.8-14.8-5.4-1.1z" fill="#050004" stroke="#050004" stroke-width=".7"/>
<path d="M331.6 42.2l5.7 1.8 10-3.5-5.8-2.2z" fill="#000000" stroke="#000000" stroke-width=".7"/>
<path d="M373.1 44l5.9 2.4 10 5.4-5.9-3z" fill="#000000" stroke="#000000" stroke-width=".7"/>
<path d="M404.9 63.1l6 3.2 9.8 12.2-6-3.7z" fill="#000000" stroke="#000000" stroke-width=".7"/>
<path d="M389 51.8l6 2.6 9.9 8.7-6-3.2z" fill="#000000" stroke="#000000" stroke-width=".7"/>
<path d="M321.7 48.7l5.6 1.4 10-6.1-5.7-1.8z" fill="#000000" stroke="#000000" stroke-width=".7"/>
<path d="M347.3 40.5l5.8 1.8 10-.5-5.8-2.2z" fill="#000000" stroke="#000000" stroke-width=".7"/>
<path d="M311.9 57.9l5.4 1 10-8.8-5.6-1.4z" fill="#000000" stroke="#000000" stroke-width=".7"/>
<path d="M363.1 41.8l5.9 1.9 10 2.7-5.9-2.4z" fill="#000000" stroke="#000000" stroke-width=".7"/>
<path d="M302.1 69.9l5.3 .5 9.9-11.5-5.4-1z" fill="#000000" stroke="#000000" stroke-width=".7"/>
<path d="M292.3 84.7l5.3 .3 9.8-14.6-5.3-.5z" fill="#000000" stroke="#000000" stroke-width=".7"/>
<path d="M337.3 44l5.7 1.3 10.1-3-5.8-1.8z" fill="#000000" stroke="#000000" stroke-width=".7"/>
<path d="M379 46.4l6 2.1 10 5.9-6-2.6z" fill="#000000" stroke="#000000" stroke-width=".7"/>
<path d="M395 54.4l5.9 2.5 10 9.4-6-3.2z" fill="#000000" stroke="#000000" stroke-width=".7"/>
<path d="M327.3 50.1l5.6 .9 10.1-5.7-5.7-1.3z" fill="#000000" stroke="#000000" stroke-width=".7"/>
<path d="M353.1 42.3l5.7 1.3 10.2 .1-5.9-1.9z" fill="#000000" stroke="#000000" stroke-width=".7"/>
<path d="M317.3 58.9l5.5 .4 10.1-8.3-5.6-.9z" fill="#000000" stroke="#000000" stroke-width=".7"/>
<path d="M369 43.7l5.8 1.6 10.2 3.2-6-2.1z" fill="#000000" stroke="#000000" stroke-width=".7"/>
<path d="M307.4 70.4l5.4 .1 10-11.2-5.5-.4z" fill="#000000" stroke="#000000" stroke-width=".7"/>
<path d="M343 45.3l5.7 .9 10.1-2.6-5.7-1.3z" fill="#000000" stroke="#000000" stroke-width=".7"/>
<path d="M297.6 85l5.2-.3 10-14.2-5.4-.1z" fill="#000000" stroke="#000000" stroke-width=".7"/>
<path d="M385 48.5l5.9 1.9 10 6.5-5.9-2.5z" fill="#000000" stroke="#000000" stroke-width=".7"/>
<path d="M332.9 51l5.6 .4 10.2-5.2-5.7-.9z" fill="#000000" stroke="#000000" stroke-width=".7"/>
<path d="M358.8 43.6l5.8 1.1 10.2 .6-5.8-1.6z" fill="#000000" stroke="#000000" stroke-width=".7"/>
<path d="M322.8 59.3l5.5 .1 10.2-8-5.6-.4z" fill="#000000" stroke="#000000" stroke-width=".7"/>
<path d="M374.8 45.3l5.9 1.4 10.2 3.7-5.9-1.9z" fill="#000000" stroke="#000000" stroke-width=".7"/>
<path d="M312.8 70.5l5.4-.3 10.1-10.8-5.5-.1z" fill="#000000" stroke="#000000" stroke-width=".7"/>
<path d="M348.7 46.2l5.7 .6 10.2-2.1-5.8-1.1z" fill="#000000" stroke="#000000" stroke-width=".7"/>
<path d="M302.8 84.7l5.3-.7 10.1-13.8-5.4 .3z" fill="#000000" stroke="#000000" stroke-width=".7"/>
<path d="M338.5 51.4l5.6 .2 10.3-4.8-5.7-.6z" fill="#000000" stroke="#000000" stroke-width=".7"/>
<path d="M364.6 44.7l5.8 .9 10.3 1.1-5.9-1.4z" fill="#000000" stroke="#000000" stroke-width=".7"/>
<path d="M328.3 59.4l5.6-.3 10.2-7.5-5.6-.2z" fill="#000000" stroke="#000000" stroke-width=".7"/>
<path d="M354.4 46.8l5.7 .3 10.3-1.5-5.8-.9z" fill="#000000" stroke="#000000" stroke-width=".7"/>
<path d="M318.2 70.2l5.4-.7 10.3-10.4-5.6 .3z" fill="#000000" stroke="#000000" stroke-width=".7"/>
<path d="M308.1 84l5.3-1.1 10.2-13.4-5.4 .7z" fill="#000000" stroke="#000000" stroke-width=".7"/>
<path d="M344.1 51.6l5.7-.2 10.3-4.3-5.7-.3z" fill="#000000" stroke="#000000" stroke-width=".7"/>
<path d="M333.9 59.1l5.5-.6 10.4-7.1-5.7 .2z" fill="#000000" stroke="#000000" stroke-width=".7"/>
<path d="M323.6 69.5l5.4-1 10.4-10-5.5 .6z" fill="#000000" stroke="#000000" stroke-width=".7"/>
<path d="M313.4 82.9l5.3-1.4 10.3-13-5.4 1z" fill="#000000" stroke="#000000" stroke-width=".7"/>
<path d="M255.8 71.2l1.3 .6 1.3 .7 1.3 .7 1.4 .7 1.3 .7 1.3 .6 1.3 .7 1.3 .6 1.3 .7 1.3 .6 1.3 .6 1.3 .5 1.3 .6 1.3 .5 1.3 .5 1.3 .5 1.3 .5 1.3 .4 1.3 .5 1.3 .3 1.3 .4 1.3 .3 1.3 .3 1.3 .3 1.3 .2 1.3 .2 1.3 .2 1.3 .1 1.3 .1 1.4 .1 1.3 .1 1.3 0 1.3 0 1.3-.1 1.3-.1 1.3-.1 1.3-.1 1.4-.2 1.3-.2 1.3-.2 1.3-.2 1.3-.3 1.4-.3 1.3-.3 1.3-.3 1.3-.4 1.4-.3 1.3-.4M258 66.7l1.3 .7 1.3 .7 1.3 .7 1.4 .7 1.3 .7 1.3 .6 1.3 .7 1.3 .7 1.3 .6 1.3 .6 1.3 .7 1.4 .5 1.3 .6 1.3 .6 1.3 .5 1.3 .5 1.3 .5 1.3 .4 1.3 .5 1.4 .4 1.3 .4 1.3 .3 1.3 .3 1.3 .3 1.3 .3 1.3 .2 1.3 .2 1.4 .1 1.3 .2 1.3 .1 1.3 0 1.3 0 1.3 .1 1.4-.1 1.3 0 1.3-.1 1.3-.1 1.4-.2 1.3-.1 1.3-.2 1.3-.3 1.4-.2 1.3-.3 1.3-.2 1.4-.4 1.3-.3 1.3-.3 1.4-.4M260.2 62.4l1.3 .7 1.3 .7 1.4 .7 1.3 .7 1.3 .7 1.3 .7 1.3 .7 1.4 .7 1.3 .7 1.3 .6 1.3 .6 1.3 .6 1.4 .6 1.3 .6 1.3 .5 1.3 .6 1.4 .5 1.3 .4 1.3 .5 1.3 .4 1.3 .4 1.4 .4 1.3 .3 1.3 .3 1.3 .3 1.3 .2 1.4 .2 1.3 .2 1.3 .2 1.3 .1 1.4 .1 1.3 0 1.3 0 1.3 0 1.4 0 1.3-.1 1.3-.1 1.4-.1 1.3-.1 1.3-.2 1.4-.2 1.3-.2 1.3-.2 1.4-.3 1.3-.3 1.4-.3 1.3-.3 1.4-.3M262.4 58.3l1.3 .7 1.3 .7 1.4 .8 1.3 .7 1.3 .7 1.4 .7 1.3 .7 1.3 .7 1.4 .7 1.3 .6 1.3 .7 1.3 .6 1.4 .6 1.3 .6 1.3 .6 1.4 .5 1.3 .5 1.3 .5 1.3 .5 1.4 .4 1.3 .4 1.3 .4 1.4 .4 1.3 .3 1.3 .3 1.4 .3 1.3 .2 1.3 .2 1.3 .2 1.4 .1 1.3 .1 1.3 .1 1.4 0 1.3 0 1.4 0 1.3 0 1.3-.1 1.4-.1 1.3-.1 1.4-.1 1.3-.2 1.3-.2 1.4-.2 1.3-.3 1.4-.2 1.3-.3 1.4-.3 1.3-.3M264.6 54.3l1.3 .8 1.4 .7 1.3 .8 1.3 .7 1.4 .7 1.3 .8 1.4 .7 1.3 .7 1.3 .7 1.4 .7 1.3 .6 1.4 .7 1.3 .6 1.3 .6 1.4 .6 1.3 .5 1.3 .6 1.4 .5 1.3 .5 1.4 .4 1.3 .5 1.3 .4 1.4 .3 1.3 .4 1.3 .3 1.4 .3 1.3 .2 1.4 .3 1.3 .1 1.3 .2 1.4 .1 1.3 .1 1.4 .1 1.3 0 1.3 .1 1.4-.1 1.3 0 1.4-.1 1.3-.1 1.4-.1 1.3-.2 1.4-.1 1.3-.2 1.4-.2 1.4-.3 1.3-.2 1.4-.3 1.3-.2M266.8 50.6l1.4 .7 1.3 .8 1.3 .7 1.4 .8 1.3 .7 1.4 .8 1.3 .7 1.4 .7 1.3 .8 1.4 .6 1.3 .7 1.4 .7 1.3 .6 1.4 .7 1.3 .6 1.4 .5 1.3 .6 1.3 .5 1.4 .5 1.3 .5 1.4 .5 1.3 .4 1.4 .4 1.3 .3 1.4 .4 1.3 .3 1.3 .3 1.4 .2 1.3 .2 1.4 .2 1.3 .1 1.4 .2 1.3 .1 1.4 0 1.3 .1 1.4 0 1.3-.1 1.4 0 1.4-.1 1.3-.1 1.4-.1 1.3-.2 1.4-.1 1.4-.2 1.3-.2 1.4-.2 1.4-.3 1.3-.2M269 47l1.4 .7 1.3 .8 1.4 .8 1.4 .8 1.3 .7 1.4 .8 1.3 .7 1.4 .8 1.3 .7 1.4 .7 1.3 .7 1.4 .7 1.4 .7 1.3 .6 1.4 .6 1.3 .6 1.4 .6 1.3 .5 1.4 .6 1.3 .5 1.4 .4 1.3 .5 1.4 .4 1.3 .4 1.4 .3 1.3 .4 1.4 .3 1.3 .2 1.4 .3 1.4 .2 1.3 .1 1.4 .2 1.3 .1 1.4 .1 1.3 0 1.4 .1 1.4 0 1.3-.1 1.4 0 1.4-.1 1.3-.1 1.4-.1 1.4-.1 1.3-.2 1.4-.2 1.4-.2 1.3-.2 1.4-.2M271.3 43.5l1.3 .8 1.4 .8 1.4 .8 1.3 .8 1.4 .8 1.4 .7 1.3 .8 1.4 .8 1.3 .7 1.4 .8 1.4 .7 1.3 .7 1.4 .6 1.4 .7 1.3 .6 1.4 .7 1.3 .6 1.4 .5 1.4 .6 1.3 .5 1.4 .5 1.3 .5 1.4 .4 1.4 .4 1.3 .4 1.4 .3 1.3 .3 1.4 .3 1.4 .3 1.3 .2 1.4 .2 1.3 .2 1.4 .1 1.4 .1 1.3 .1 1.4 .1 1.4 0 1.3 0 1.4 0 1.4-.1 1.4-.1 1.3-.1 1.4-.1 1.4-.1 1.4-.2 1.3-.1 1.4-.2 1.4-.2M273.5 40.3l1.4 .8 1.4 .8 1.3 .8 1.4 .8 1.4 .8 1.3 .8 1.4 .8 1.4 .7 1.4 .8 1.3 .8 1.4 .7 1.4 .7 1.3 .7 1.4 .7 1.4 .7 1.3 .6 1.4 .6 1.4 .6 1.3 .6 1.4 .5 1.4 .5 1.3 .5 1.4 .5 1.4 .4 1.3 .4 1.4 .4 1.4 .3 1.4 .3 1.3 .3 1.4 .2 1.4 .3 1.3 .2 1.4 .1 1.4 .1 1.4 .2 1.3 0 1.4 .1 1.4 0 1.4 0 1.3 0 1.4-.1 1.4 0 1.4-.1 1.4-.1 1.3-.1 1.4-.2 1.4-.1 1.4-.2M275.8 37.1l1.3 .9 1.4 .8 1.4 .8 1.4 .8 1.4 .9 1.3 .8 1.4 .8 1.4 .8 1.4 .8 1.4 .7 1.3 .8 1.4 .7 1.4 .7 1.4 .7 1.3 .7 1.4 .7 1.4 .6 1.4 .6 1.3 .6 1.4 .6 1.4 .5 1.4 .5 1.3 .5 1.4 .4 1.4 .5 1.4 .4 1.3 .3 1.4 .4 1.4 .3 1.4 .2 1.3 .3 1.4 .2 1.4 .2 1.4 .1 1.4 .2 1.3 .1 1.4 .1 1.4 0 1.4 0 1.4 0 1.4 0 1.3 0 1.4-.1 1.4-.1 1.4-.1 1.4-.1 1.4-.1 1.4-.1M278 34.2l1.4 .8 1.4 .9 1.4 .8 1.4 .9 1.4 .8 1.4 .8 1.3 .9 1.4 .8 1.4 .8 1.4 .8 1.4 .7 1.4 .8 1.3 .7 1.4 .8 1.4 .7 1.4 .6 1.4 .7 1.4 .6 1.3 .6 1.4 .6 1.4 .6 1.4 .5 1.4 .5 1.4 .5 1.3 .4 1.4 .4 1.4 .4 1.4 .4 1.4 .3 1.3 .3 1.4 .3 1.4 .2 1.4 .2 1.4 .2 1.4 .2 1.4 .1 1.3 .1 1.4 .1 1.4 0 1.4 .1 1.4 0 1.4-.1 1.4 0 1.4 0 1.4-.1 1.4-.1 1.4-.1 1.4-.1M280.3 31.4l1.4 .9 1.4 .8 1.4 .9 1.4 .8 1.4 .9 1.4 .8 1.4 .9 1.4 .8 1.3 .8 1.4 .9 1.4 .7 1.4 .8 1.4 .8 1.4 .7 1.4 .8 1.4 .7 1.4 .6 1.4 .7 1.4 .6 1.3 .6 1.4 .6 1.4 .6 1.4 .5 1.4 .5 1.4 .4 1.4 .5 1.4 .4 1.3 .4 1.4 .3 1.4 .4 1.4 .2 1.4 .3 1.4 .2 1.4 .3 1.4 .1 1.4 .2 1.4 .1 1.4 .1 1.4 .1 1.4 .1 1.4 0 1.4 0 1.4 0 1.4 0 1.4-.1 1.4 0 1.4-.1 1.4-.1M282.6 28.8l1.4 .8 1.4 .9 1.4 .9 1.4 .9 1.4 .9 1.4 .8 1.4 .9 1.4 .8 1.4 .9 1.4 .8 1.4 .8 1.4 .8 1.4 .8 1.4 .8 1.4 .7 1.4 .7 1.4 .7 1.4 .7 1.4 .7 1.4 .6 1.4 .6 1.3 .6 1.4 .5 1.4 .5 1.4 .5 1.4 .5 1.4 .4 1.4 .4 1.4 .4 1.4 .4 1.4 .3 1.4 .3 1.4 .2 1.4 .3 1.4 .2 1.4 .2 1.4 .1 1.4 .1 1.4 .1 1.4 .1 1.4 .1 1.4 0 1.4 .1 1.4 0 1.4-.1 1.4 0 1.5 0 1.4-.1M284.9 26.3l1.4 .9 1.4 .9 1.4 .9 1.4 .9 1.4 .9 1.4 .9 1.4 .8 1.4 .9 1.4 .9 1.4 .8 1.5 .9 1.4 .8 1.4 .8 1.4 .8 1.4 .7 1.4 .8 1.4 .7 1.4 .7 1.4 .7 1.4 .6 1.4 .7 1.4 .6 1.4 .5 1.4 .6 1.4 .5 1.4 .5 1.4 .4 1.4 .5 1.4 .4 1.4 .3 1.4 .4 1.4 .3 1.4 .3 1.4 .2 1.4 .3 1.4 .2 1.4 .2 1.4 .1 1.4 .2 1.4 .1 1.5 .1 1.4 0 1.4 .1 1.4 0 1.4 0 1.4 0 1.4 0 1.5 0M287.2 24l1.4 .9 1.4 .9 1.4 .9 1.4 .9 1.4 .9 1.5 1 1.4 .9 1.4 .8 1.4 .9 1.4 .9 1.4 .9 1.4 .8 1.4 .8 1.5 .8 1.4 .8 1.4 .8 1.4 .7 1.4 .8 1.4 .6 1.4 .7 1.4 .7 1.4 .6 1.4 .6 1.4 .6 1.4 .5 1.4 .5 1.5 .5 1.4 .5 1.4 .4 1.4 .4 1.4 .3 1.4 .4 1.4 .3 1.4 .3 1.4 .3 1.4 .2 1.5 .2 1.4 .2 1.4 .1 1.4 .2 1.4 .1 1.4 .1 1.4 .1 1.5 0 1.4 .1 1.4 0 1.4 0 1.4 0M289.5 21.8l1.4 .9 1.4 1 1.4 .9 1.4 .9 1.5 1 1.4 .9 1.4 .9 1.4 .9 1.5 .9 1.4 .9 1.4 .9 1.4 .9 1.4 .8 1.4 .8 1.5 .9 1.4 .7 1.4 .8 1.4 .8 1.4 .7 1.4 .7 1.4 .7 1.5 .6 1.4 .6 1.4 .6 1.4 .6 1.4 .5 1.4 .5 1.4 .5 1.5 .5 1.4 .4 1.4 .4 1.4 .3 1.4 .4 1.4 .3 1.4 .3 1.5 .3 1.4 .2 1.4 .2 1.4 .2 1.4 .2 1.5 .1 1.4 .1 1.4 .1 1.4 .1 1.5 .1 1.4 .1 1.4 0 1.4 .1M291.8 19.8l1.4 .9 1.4 1 1.5 .9 1.4 1 1.4 .9 1.4 1 1.5 .9 1.4 1 1.4 .9 1.4 .9 1.5 .9 1.4 .9 1.4 .9 1.4 .8 1.5 .9 1.4 .8 1.4 .8 1.4 .7 1.4 .8 1.5 .7 1.4 .7 1.4 .7 1.4 .6 1.4 .6 1.5 .6 1.4 .6 1.4 .5 1.4 .5 1.4 .5 1.5 .5 1.4 .4 1.4 .4 1.4 .3 1.4 .4 1.5 .3 1.4 .3 1.4 .3 1.4 .2 1.5 .2 1.4 .2 1.4 .2 1.4 .1 1.5 .2 1.4 .1 1.4 .1 1.5 .1 1.4 .1 1.4 0M294.1 17.9l1.4 1 1.4 .9 1.5 1 1.4 1 1.5 1 1.4 .9 1.4 1 1.5 1 1.4 .9 1.4 1 1.4 .9 1.5 .9 1.4 .9 1.4 .9 1.5 .8 1.4 .8 1.4 .9 1.4 .8 1.5 .7 1.4 .8 1.4 .7 1.4 .7 1.5 .7 1.4 .6 1.4 .6 1.4 .6 1.5 .6 1.4 .5 1.4 .5 1.4 .5 1.5 .4 1.4 .5 1.4 .4 1.5 .3 1.4 .4 1.4 .3 1.4 .3 1.5 .2 1.4 .3 1.4 .2 1.5 .2 1.4 .2 1.4 .2 1.5 .1 1.4 .2 1.4 .1 1.5 .1 1.4 .1M296.4 16.2l1.4 1 1.5 1 1.4 1 1.5 1 1.4 1 1.4 1 1.5 .9 1.4 1 1.5 1 1.4 .9 1.4 1 1.5 .9 1.4 .9 1.4 .9 1.5 .9 1.4 .9 1.4 .8 1.5 .8 1.4 .8 1.4 .8 1.5 .7 1.4 .8 1.4 .7 1.5 .6 1.4 .7 1.4 .6 1.4 .6 1.5 .5 1.4 .6 1.4 .5 1.5 .5 1.4 .4 1.4 .4 1.5 .4 1.4 .4 1.4 .3 1.5 .4 1.4 .3 1.4 .2 1.5 .3 1.4 .2 1.4 .2 1.5 .2 1.4 .2 1.5 .2 1.4 .1 1.4 .2 1.5 .1M298.7 14.6l1.5 1 1.4 1 1.5 1 1.4 1.1 1.5 1 1.4 1 1.4 1 1.5 1 1.4 1 1.5 1 1.4 1 1.5 .9 1.4 1 1.4 .9 1.5 .9 1.4 .9 1.5 .8 1.4 .9 1.4 .8 1.5 .8 1.4 .8 1.4 .7 1.5 .7 1.4 .7 1.5 .7 1.4 .6 1.4 .6 1.5 .6 1.4 .6 1.4 .5 1.5 .5 1.4 .5 1.4 .5 1.5 .4 1.4 .4 1.5 .4 1.4 .3 1.4 .3 1.5 .4 1.4 .2 1.5 .3 1.4 .2 1.4 .3 1.5 .2 1.4 .2 1.5 .2 1.4 .1 1.5 .2M301 13.2l1.5 1 1.4 1 1.5 1.1 1.5 1 1.4 1.1 1.5 1 1.4 1 1.5 1.1 1.4 1 1.5 1 1.4 1 1.5 1 1.4 .9 1.5 1 1.4 .9 1.4 .9 1.5 .9 1.4 .9 1.5 .8 1.4 .8 1.5 .8 1.4 .8 1.4 .7 1.5 .8 1.4 .7 1.5 .6 1.4 .7 1.4 .6 1.5 .6 1.4 .5 1.5 .6 1.4 .5 1.4 .5 1.5 .4 1.4 .4 1.5 .5 1.4 .3 1.5 .4 1.4 .3 1.4 .3 1.5 .3 1.4 .3 1.5 .3 1.4 .2 1.5 .2 1.4 .3 1.5 .2 1.4 .2M303.4 11.9l1.4 1 1.5 1.1 1.5 1.1 1.4 1 1.5 1.1 1.4 1.1 1.5 1 1.4 1.1 1.5 1 1.5 1 1.4 1.1 1.5 1 1.4 .9 1.5 1 1.4 1 1.5 .9 1.4 .9 1.5 .9 1.4 .9 1.5 .8 1.4 .9 1.4 .8 1.5 .7 1.4 .8 1.5 .7 1.4 .7 1.5 .7 1.4 .6 1.5 .6 1.4 .6 1.5 .6 1.4 .5 1.4 .5 1.5 .5 1.4 .5 1.5 .4 1.4 .4 1.5 .4 1.4 .4 1.5 .3 1.4 .3 1.5 .3 1.4 .3 1.5 .3 1.4 .3 1.5 .2 1.5 .3 1.4 .2M305.7 10.8l1.5 1 1.4 1.1 1.5 1.1 1.5 1.1 1.4 1.1 1.5 1.1 1.5 1.1 1.4 1 1.5 1.1 1.4 1 1.5 1.1 1.5 1 1.4 1 1.5 1 1.4 1 1.5 1 1.4 .9 1.5 .9 1.4 .9 1.5 .9 1.4 .8 1.5 .9 1.4 .8 1.5 .7 1.5 .8 1.4 .7 1.5 .7 1.4 .7 1.5 .6 1.4 .6 1.5 .6 1.4 .6 1.5 .5 1.4 .6 1.5 .4 1.4 .5 1.5 .5 1.4 .4 1.5 .4 1.4 .3 1.5 .4 1.4 .3 1.5 .4 1.4 .3 1.5 .3 1.5 .2 1.4 .3 1.5 .3M308 9.8l1.5 1.1 1.5 1.1 1.5 1.1 1.4 1.1 1.5 1.1 1.5 1.1 1.4 1.1 1.5 1.1 1.5 1.1 1.4 1.1 1.5 1.1 1.5 1 1.4 1.1 1.5 1 1.4 1 1.5 1 1.5 .9 1.4 1 1.5 .9 1.4 .9 1.5 .9 1.4 .8 1.5 .9 1.5 .8 1.4 .7 1.5 .8 1.4 .7 1.5 .7 1.4 .7 1.5 .6 1.4 .7 1.5 .6 1.5 .5 1.4 .6 1.5 .5 1.4 .5 1.5 .5 1.4 .4 1.5 .4 1.5 .4 1.4 .4 1.5 .4 1.4 .4 1.5 .3 1.4 .3 1.5 .3 1.5 .3 1.4 .3M310.4 8.9l1.5 1.2 1.4 1.1 1.5 1.1 1.5 1.2 1.5 1.1 1.4 1.1 1.5 1.2 1.5 1.1 1.5 1.1 1.4 1.1 1.5 1.1 1.5 1.1 1.4 1 1.5 1.1 1.5 1 1.4 1 1.5 1 1.5 1 1.4 .9 1.5 1 1.4 .9 1.5 .8 1.5 .9 1.4 .8 1.5 .8 1.4 .8 1.5 .8 1.5 .7 1.4 .7 1.5 .7 1.4 .6 1.5 .7 1.5 .6 1.4 .5 1.5 .6 1.4 .5 1.5 .5 1.5 .5 1.4 .5 1.5 .4 1.4 .4 1.5 .4 1.5 .4 1.4 .4 1.5 .3 1.5 .4 1.4 .3 1.5 .4M312.7 8.3l1.5 1.1 1.5 1.2 1.5 1.1 1.5 1.2 1.4 1.2 1.5 1.1 1.5 1.2 1.5 1.1 1.5 1.1 1.4 1.2 1.5 1.1 1.5 1.1 1.4 1.1 1.5 1 1.5 1.1 1.5 1 1.4 1.1 1.5 1 1.5 .9 1.4 1 1.5 .9 1.5 .9 1.4 .9 1.5 .9 1.4 .8 1.5 .8 1.5 .8 1.4 .8 1.5 .7 1.5 .7 1.4 .7 1.5 .6 1.4 .7 1.5 .6 1.5 .6 1.4 .5 1.5 .6 1.5 .5 1.4 .5 1.5 .4 1.5 .5 1.4 .4 1.5 .4 1.5 .4 1.4 .4 1.5 .4 1.5 .4 1.4 .4M315.1 7.7l1.5 1.2 1.5 1.2 1.4 1.2 1.5 1.2 1.5 1.1 1.5 1.2 1.5 1.2 1.5 1.2 1.4 1.1 1.5 1.2 1.5 1.1 1.5 1.1 1.5 1.2 1.4 1.1 1.5 1 1.5 1.1 1.5 1.1 1.4 1 1.5 1 1.5 1 1.4 .9 1.5 1 1.5 .9 1.4 .9 1.5 .8 1.5 .9 1.4 .8 1.5 .8 1.5 .7 1.4 .8 1.5 .7 1.5 .7 1.4 .6 1.5 .7 1.5 .6 1.4 .6 1.5 .5 1.5 .6 1.5 .5 1.4 .5 1.5 .5 1.5 .5 1.4 .4 1.5 .5 1.5 .4 1.4 .4 1.5 .4 1.5 .4M317.4 7.3l1.5 1.2 1.5 1.2 1.5 1.3 1.5 1.2 1.5 1.2 1.5 1.2 1.5 1.2 1.5 1.2 1.4 1.2 1.5 1.1 1.5 1.2 1.5 1.2 1.5 1.1 1.4 1.1 1.5 1.1 1.5 1.1 1.5 1.1 1.5 1.1 1.4 1 1.5 1 1.5 1 1.4 1 1.5 .9 1.5 .9 1.5 .9 1.4 .9 1.5 .8 1.5 .8 1.5 .8 1.4 .8 1.5 .8 1.5 .7 1.4 .7 1.5 .6 1.5 .7 1.4 .6 1.5 .6 1.5 .6 1.5 .5 1.4 .6 1.5 .5 1.5 .5 1.5 .5 1.4 .5 1.5 .4 1.5 .5 1.5 .4 1.4 .4M319.8 7.1l1.5 1.2 1.5 1.3 1.5 1.2 1.5 1.2 1.5 1.3 1.5 1.2 1.5 1.2 1.4 1.2 1.5 1.3 1.5 1.2 1.5 1.2 1.5 1.1 1.5 1.2 1.5 1.2 1.4 1.1 1.5 1.1 1.5 1.1 1.5 1.1 1.5 1.1 1.4 1 1.5 1 1.5 1 1.5 1 1.4 .9 1.5 1 1.5 .9 1.5 .8 1.4 .9 1.5 .8 1.5 .8 1.5 .8 1.4 .7 1.5 .8 1.5 .7 1.5 .6 1.4 .7 1.5 .6 1.5 .6 1.5 .6 1.4 .6 1.5 .5 1.5 .6 1.5 .5 1.5 .5 1.4 .5 1.5 .5 1.5 .5 1.5 .4M322.1 7l1.5 1.3 1.6 1.2 1.5 1.3 1.5 1.2 1.4 1.3 1.5 1.3 1.5 1.2 1.5 1.3 1.5 1.2 1.5 1.2 1.5 1.3 1.5 1.2 1.5 1.2 1.5 1.1 1.5 1.2 1.4 1.2 1.5 1.1 1.5 1.1 1.5 1.1 1.5 1.1 1.5 1 1.4 1 1.5 1 1.5 1 1.5 1 1.5 .9 1.4 .9 1.5 .9 1.5 .8 1.5 .9 1.4 .8 1.5 .7 1.5 .8 1.5 .7 1.5 .8 1.4 .6 1.5 .7 1.5 .7 1.5 .6 1.5 .6 1.4 .6 1.5 .5 1.5 .6 1.5 .5 1.5 .6 1.4 .5 1.5 .5 1.5 .5M324.5 7.1l1.5 1.3 1.5 1.2 1.5 1.3 1.5 1.3 1.5 1.3 1.5 1.3 1.5 1.3 1.5 1.2 1.5 1.3 1.5 1.3 1.5 1.2 1.5 1.2 1.5 1.3 1.5 1.2 1.5 1.2 1.5 1.2 1.5 1.1 1.4 1.1 1.5 1.2 1.5 1.1 1.5 1 1.5 1.1 1.5 1 1.4 1 1.5 1 1.5 1 1.5 .9 1.5 .9 1.5 .9 1.4 .9 1.5 .8 1.5 .8 1.5 .8 1.5 .8 1.4 .7 1.5 .8 1.5 .7 1.5 .6 1.5 .7 1.5 .6 1.4 .7 1.5 .6 1.5 .6 1.5 .5 1.5 .6 1.5 .6 1.4 .5 1.5 .5M326.9 7.3l1.5 1.3 1.5 1.3 1.5 1.3 1.5 1.3 1.5 1.4 1.5 1.3 1.5 1.3 1.5 1.3 1.5 1.3 1.5 1.3 1.5 1.2 1.5 1.3 1.5 1.2 1.5 1.3 1.5 1.2 1.5 1.2 1.5 1.2 1.5 1.2 1.5 1.1 1.4 1.1 1.5 1.2 1.5 1 1.5 1.1 1.5 1 1.5 1.1 1.5 .9 1.5 1 1.4 1 1.5 .9 1.5 .9 1.5 .8 1.5 .9 1.5 .8 1.4 .8 1.5 .8 1.5 .7 1.5 .8 1.5 .7 1.5 .7 1.4 .7 1.5 .6 1.5 .7 1.5 .6 1.5 .6 1.5 .6 1.5 .6 1.4 .6 1.5 .6M329.2 7.7l1.5 1.3 1.6 1.3 1.5 1.4 1.5 1.3 1.5 1.4 1.5 1.3 1.5 1.3 1.5 1.4 1.5 1.3 1.5 1.3 1.5 1.3 1.5 1.3 1.5 1.3 1.5 1.2 1.5 1.3 1.5 1.2 1.5 1.2 1.5 1.2 1.5 1.2 1.5 1.2 1.5 1.1 1.5 1.1 1.4 1.1 1.5 1.1 1.5 1 1.5 1.1 1.5 1 1.5 .9 1.5 1 1.5 .9 1.5 .9 1.4 .9 1.5 .9 1.5 .8 1.5 .8 1.5 .8 1.5 .8 1.5 .7 1.4 .7 1.5 .8 1.5 .6 1.5 .7 1.5 .7 1.5 .6 1.5 .7 1.5 .6 1.5 .6 1.4 .6M331.6 8.2l1.5 1.4 1.5 1.3 1.5 1.4 1.5 1.4 1.6 1.3 1.5 1.4 1.5 1.3 1.5 1.4 1.5 1.4 1.5 1.3 1.5 1.3 1.5 1.4 1.5 1.3 1.5 1.3 1.5 1.2 1.5 1.3 1.5 1.3 1.5 1.2 1.5 1.2 1.5 1.2 1.5 1.1 1.5 1.2 1.5 1.1 1.5 1.1 1.5 1.1 1.5 1.1 1.4 1 1.5 1 1.5 1 1.5 .9 1.5 1 1.5 .9 1.5 .9 1.5 .9 1.5 .8 1.5 .8 1.4 .8 1.5 .8 1.5 .8 1.5 .7 1.5 .8 1.5 .7 1.5 .7 1.5 .7 1.5 .6 1.5 .7 1.4 .7 1.5 .6M333.9 8.9l1.6 1.4 1.5 1.4 1.5 1.4 1.5 1.3 1.5 1.4 1.6 1.4 1.5 1.4 1.5 1.4 1.5 1.4 1.5 1.4 1.5 1.3 1.5 1.4 1.5 1.3 1.5 1.3 1.5 1.4 1.5 1.2 1.5 1.3 1.5 1.3 1.5 1.2 1.5 1.2 1.5 1.2 1.5 1.2 1.5 1.2 1.5 1.1 1.5 1.1 1.5 1.1 1.5 1.1 1.5 1 1.5 1 1.5 1 1.5 1 1.5 1 1.4 .9 1.5 .9 1.5 .9 1.5 .8 1.5 .9 1.5 .8 1.5 .8 1.5 .8 1.5 .7 1.5 .8 1.5 .7 1.5 .7 1.4 .8 1.5 .7 1.5 .6 1.5 .7M336.3 9.7l1.5 1.4 1.6 1.5 1.5 1.4 1.5 1.4 1.5 1.4 1.5 1.4 1.5 1.5 1.6 1.4 1.5 1.4 1.5 1.4 1.5 1.4 1.5 1.4 1.5 1.3 1.5 1.4 1.5 1.3 1.5 1.4 1.5 1.3 1.5 1.3 1.5 1.2 1.5 1.3 1.5 1.2 1.5 1.2 1.5 1.2 1.5 1.2 1.5 1.1 1.5 1.1 1.5 1.1 1.5 1.1 1.5 1.1 1.5 1 1.5 1 1.5 1 1.5 .9 1.5 1 1.5 .9 1.5 .9 1.5 .9 1.5 .8 1.5 .9 1.5 .8 1.4 .8 1.5 .8 1.5 .7 1.5 .8 1.5 .8 1.5 .7 1.5 .7 1.5 .8M338.7 10.7l1.5 1.5 1.5 1.4 1.5 1.5 1.6 1.4 1.5 1.5 1.5 1.4 1.5 1.5 1.5 1.4 1.6 1.4 1.5 1.5 1.5 1.4 1.5 1.4 1.5 1.4 1.5 1.4 1.5 1.4 1.5 1.3 1.5 1.4 1.6 1.3 1.5 1.3 1.5 1.3 1.5 1.2 1.5 1.3 1.5 1.2 1.5 1.2 1.5 1.2 1.5 1.1 1.5 1.2 1.5 1.1 1.5 1.1 1.5 1 1.4 1.1 1.5 1 1.5 1 1.5 1 1.5 .9 1.5 .9 1.5 1 1.5 .8 1.5 .9 1.5 .9 1.5 .8 1.5 .8 1.5 .8 1.5 .8 1.5 .8 1.5 .8 1.5 .8 1.5 .8M341 11.9l1.5 1.5 1.6 1.4 1.5 1.5 1.5 1.5 1.6 1.5 1.5 1.5 1.5 1.4 1.5 1.5 1.5 1.5 1.6 1.4 1.5 1.5 1.5 1.4 1.5 1.5 1.5 1.4 1.5 1.4 1.5 1.4 1.6 1.3 1.5 1.4 1.5 1.3 1.5 1.3 1.5 1.3 1.5 1.3 1.5 1.3 1.5 1.2 1.5 1.2 1.5 1.2 1.5 1.2 1.5 1.1 1.5 1.1 1.5 1.1 1.5 1.1 1.5 1.1 1.5 1 1.5 1 1.5 1 1.5 1 1.5 .9 1.5 .9 1.5 1 1.5 .8 1.5 .9 1.5 .9 1.5 .8 1.5 .9 1.4 .8 1.5 .8 1.5 .8 1.5 .8M343.4 13.2l1.5 1.5 1.5 1.5 1.6 1.5 1.5 1.5 1.5 1.5 1.6 1.6 1.5 1.5 1.5 1.5 1.5 1.5 1.5 1.5 1.6 1.4 1.5 1.5 1.5 1.5 1.5 1.4 1.5 1.5 1.5 1.4 1.5 1.4 1.6 1.4 1.5 1.3 1.5 1.4 1.5 1.3 1.5 1.3 1.5 1.3 1.5 1.3 1.5 1.2 1.5 1.3 1.5 1.2 1.5 1.1 1.5 1.2 1.5 1.1 1.5 1.1 1.5 1.1 1.5 1.1 1.5 1 1.5 1.1 1.5 1 1.5 1 1.5 .9 1.5 1 1.5 .9 1.5 .9 1.5 .9 1.5 .9 1.5 .9 1.5 .8 1.5 .9 1.5 .9 1.5 .8M345.7 14.7l1.6 1.5 1.5 1.6 1.5 1.5 1.6 1.5 1.5 1.6 1.5 1.5 1.6 1.6 1.5 1.5 1.5 1.5 1.5 1.6 1.5 1.5 1.6 1.5 1.5 1.5 1.5 1.4 1.5 1.5 1.5 1.5 1.5 1.4 1.6 1.4 1.5 1.4 1.5 1.4 1.5 1.4 1.5 1.3 1.5 1.3 1.5 1.3 1.5 1.3 1.5 1.3 1.5 1.2 1.5 1.2 1.5 1.2 1.5 1.2 1.5 1.1 1.5 1.2 1.5 1.1 1.5 1.1 1.5 1 1.5 1.1 1.5 1 1.5 1 1.5 1 1.5 .9 1.5 1 1.5 .9 1.5 1 1.5 .9 1.5 .9 1.5 .9 1.5 .9 1.5 .9M348.1 16.4l1.5 1.5 1.6 1.6 1.5 1.6 1.5 1.5 1.6 1.6 1.5 1.6 1.5 1.5 1.5 1.6 1.6 1.6 1.5 1.5 1.5 1.6 1.5 1.5 1.6 1.5 1.5 1.5 1.5 1.5 1.5 1.5 1.5 1.5 1.5 1.4 1.6 1.5 1.5 1.4 1.5 1.4 1.5 1.4 1.5 1.3 1.5 1.4 1.5 1.3 1.5 1.3 1.5 1.3 1.5 1.2 1.5 1.2 1.5 1.2 1.5 1.2 1.5 1.2 1.5 1.1 1.5 1.1 1.5 1.1 1.5 1.1 1.5 1.1 1.5 1 1.5 1.1 1.6 1 1.5 1 1.5 .9 1.5 1 1.5 1 1.5 .9 1.5 .9 1.5 1 1.5 .9M350.4 18.2l1.6 1.6 1.5 1.6 1.5 1.6 1.6 1.6 1.5 1.6 1.6 1.6 1.5 1.6 1.5 1.6 1.5 1.6 1.6 1.6 1.5 1.5 1.5 1.6 1.5 1.6 1.6 1.5 1.5 1.5 1.5 1.6 1.5 1.5 1.5 1.5 1.5 1.4 1.5 1.5 1.6 1.4 1.5 1.4 1.5 1.4 1.5 1.4 1.5 1.3 1.5 1.4 1.5 1.3 1.5 1.3 1.5 1.2 1.5 1.3 1.5 1.2 1.5 1.2 1.5 1.2 1.5 1.1 1.5 1.2 1.6 1.1 1.5 1.1 1.5 1.1 1.5 1 1.5 1.1 1.5 1 1.5 1 1.5 1 1.5 1 1.5 1 1.5 1 1.5 1 1.5 .9M352.8 20.2l1.5 1.6 1.6 1.6 1.5 1.7 1.5 1.6 1.6 1.6 1.5 1.7 1.5 1.6 1.6 1.6 1.5 1.7 1.5 1.6 1.6 1.6 1.5 1.6 1.5 1.6 1.5 1.6 1.5 1.5 1.6 1.6 1.5 1.5 1.5 1.5 1.5 1.5 1.5 1.5 1.5 1.5 1.6 1.4 1.5 1.5 1.5 1.4 1.5 1.4 1.5 1.3 1.5 1.4 1.5 1.3 1.5 1.3 1.5 1.3 1.5 1.2 1.5 1.3 1.5 1.2 1.5 1.2 1.5 1.2 1.5 1.1 1.6 1.2 1.5 1.1 1.5 1.1 1.5 1.1 1.5 1 1.5 1.1 1.5 1.1 1.5 1 1.5 1 1.5 1 1.5 1.1 1.5 1M355.1 22.4l1.6 1.6 1.5 1.7 1.5 1.6 1.6 1.7 1.5 1.7 1.6 1.6 1.5 1.7 1.5 1.7 1.6 1.6 1.5 1.7 1.5 1.6 1.5 1.6 1.6 1.7 1.5 1.6 1.5 1.6 1.5 1.6 1.6 1.6 1.5 1.5 1.5 1.5 1.5 1.6 1.5 1.5 1.5 1.5 1.5 1.4 1.5 1.5 1.6 1.4 1.5 1.4 1.5 1.4 1.5 1.3 1.5 1.4 1.5 1.3 1.5 1.3 1.5 1.3 1.5 1.2 1.5 1.3 1.5 1.2 1.5 1.2 1.5 1.1 1.5 1.2 1.5 1.1 1.5 1.2 1.6 1.1 1.5 1.1 1.5 1.1 1.5 1.1 1.5 1 1.5 1.1 1.5 1 1.5 1.1M357.4 24.7l1.6 1.7 1.5 1.7 1.6 1.7 1.5 1.7 1.6 1.7 1.5 1.7 1.5 1.7 1.6 1.7 1.5 1.7 1.5 1.6 1.6 1.7 1.5 1.7 1.5 1.7 1.5 1.6 1.6 1.6 1.5 1.7 1.5 1.6 1.5 1.6 1.5 1.5 1.6 1.6 1.5 1.5 1.5 1.6 1.5 1.5 1.5 1.4 1.5 1.5 1.5 1.4 1.5 1.5 1.6 1.4 1.5 1.3 1.5 1.4 1.5 1.3 1.5 1.3 1.5 1.3 1.5 1.3 1.5 1.3 1.5 1.2 1.5 1.2 1.5 1.2 1.5 1.2 1.5 1.2 1.5 1.1 1.5 1.2 1.5 1.1 1.5 1.1 1.5 1.1 1.5 1.1 1.5 1.1 1.5 1.1M359.8 27.3l1.5 1.7 1.6 1.7 1.5 1.7 1.6 1.7 1.5 1.8 1.5 1.7 1.6 1.7 1.5 1.8 1.6 1.7M376.7 46.2l1.5 1.7 1.6 1.7 1.5 1.7 1.5 1.7 1.5 1.6 1.6 1.7 1.5 1.6 1.5 1.6 1.5 1.6 1.5 1.6 1.5 1.5 1.6 1.6 1.5 1.5 1.5 1.5 1.5 1.5 1.5 1.4 1.5 1.5 1.5 1.4 1.5 1.4 1.5 1.4 1.5 1.3 1.6 1.4 1.5 1.3 1.5 1.3 1.5 1.2 1.5 1.3 1.5 1.2 1.5 1.3 1.5 1.2 1.5 1.2 1.5 1.1 1.5 1.2 1.5 1.2 1.5 1.1 1.5 1.2 1.5 1.1 1.5 1.2M362.1 30l1.6 1.7 1.5 1.8 1.6 1.7 1.5 1.8 1.5 1.8M376 45.8l1.5 1.8 1.6 1.7 1.5 1.7 1.5 1.8 1.5 1.7 1.6 1.7 1.5 1.7 1.5 1.7 1.5 1.6 1.5 1.7 1.6 1.6 1.5 1.6 1.5 1.6 1.5 1.6 1.5 1.6 1.5 1.5 1.5 1.5 1.6 1.5 1.5 1.5 1.5 1.4 1.5 1.5 1.5 1.4 1.5 1.4 1.5 1.4 1.5 1.3 1.5 1.4 1.5 1.3 1.5 1.3 1.5 1.3 1.5 1.2 1.5 1.3 1.5 1.2 1.5 1.2 1.5 1.2 1.5 1.3 1.5 1.1 1.5 1.2 1.5 1.2 1.5 1.2M375.2 45.4l1.6 1.8 1.5 1.8 1.6 1.8 1.5 1.8 1.5 1.8 1.5 1.7 1.6 1.8 1.5 1.7 1.5 1.8 1.5 1.7 1.6 1.7 1.5 1.7 1.5 1.6 1.5 1.7 1.5 1.6 1.5 1.6 1.6 1.6 1.5 1.6 1.5 1.6 1.5 1.5 1.5 1.5 1.5 1.5 1.5 1.5 1.5 1.4 1.5 1.5 1.5 1.4 1.5 1.4 1.5 1.4 1.6 1.3 1.5 1.4 1.5 1.3 1.5 1.3 1.5 1.3 1.5 1.3 1.5 1.2 1.5 1.3 1.5 1.2 1.5 1.3 1.5 1.2 1.5 1.2 1.5 1.3M374.5 45.1l1.5 1.8 1.6 1.8 1.5 1.9 1.5 1.8 1.6 1.8 1.5 1.9 1.5 1.8 1.6 1.8 1.5 1.8 1.5 1.7 1.5 1.8 1.6 1.8 1.5 1.7 1.5 1.7 1.5 1.7 1.5 1.7 1.6 1.7 1.5 1.7 1.5 1.6 1.5 1.6 1.5 1.6 1.5 1.6 1.5 1.5 1.5 1.6 1.5 1.5 1.5 1.5 1.6 1.5 1.5 1.4 1.5 1.4 1.5 1.5 1.5 1.4 1.5 1.3 1.5 1.4 1.5 1.4 1.5 1.3 1.5 1.3 1.5 1.3 1.5 1.3 1.5 1.3 1.5 1.3 1.5 1.3 1.5 1.3 1.5 1.2M373.7 44.8l1.6 1.9 1.5 1.8 1.5 1.9 1.6 1.9 1.5 1.8 1.6 1.9 1.5 1.9 1.5 1.8 1.5 1.9 1.6 1.8 1.5 1.8 1.5 1.9 1.6 1.8 1.5 1.8 1.5 1.7 1.5 1.8 1.5 1.7 1.5 1.8 1.6 1.7 1.5 1.7 1.5 1.7 1.5 1.6 1.5 1.6 1.5 1.7 1.5 1.6 1.5 1.5 1.6 1.6 1.5 1.5 1.5 1.5 1.5 1.5 1.5 1.5 1.5 1.5 1.5 1.4 1.5 1.4 1.5 1.5 1.5 1.4 1.5 1.3 1.5 1.4 1.5 1.4 1.5 1.3 1.5 1.3 1.5 1.4 1.5 1.3 1.5 1.3 1.5 1.3M372.9 44.6l1.6 1.9 1.5 1.9 1.6 1.9 1.5 1.9 1.5 1.9 1.6 1.9 1.5 1.9 1.6 1.9 1.5 1.9 1.5 1.9 1.6 1.9 1.5 1.9 1.5 1.8 1.5 1.9 1.6 1.8 1.5 1.9 1.5 1.8 1.5 1.8 1.5 1.8 1.6 1.7 1.5 1.8 1.5 1.7 1.5 1.7 1.5 1.7 1.5 1.7 1.5 1.7 1.5 1.6 1.5 1.6 1.5 1.6 1.6 1.6 1.5 1.5 1.5 1.6 1.5 1.5 1.5 1.5 1.5 1.5 1.5 1.5 1.5 1.4 1.5 1.5 1.5 1.4 1.5 1.4 1.5 1.4 1.5 1.4 1.5 1.4 1.5 1.3 1.5 1.4 1.5 1.4 1.5 1.3" fill="none" stroke="#000" stroke-width="0.9" stroke-linejoin="round"/>
</g>
<text transform="translate(250.4 17.6) rotate(0.0) scale(0.96 1)" font-size="7.1" text-anchor="end">25.5</text>
<text transform="translate(251.2 42.6) rotate(0.0) scale(0.96 1)" font-size="7.1" text-anchor="end">24.375</text>
<text transform="translate(252.1 67.3) rotate(0.0) scale(0.96 1)" font-size="7.1" text-anchor="end">23.25</text>
<text transform="translate(252.9 91.6) rotate(0.0) scale(0.96 1)" font-size="7.1" text-anchor="end">22.125</text>
<text transform="translate(253.7 116.6) rotate(0.0) scale(0.96 1)" font-size="7.1" text-anchor="end">21</text>
<text transform="translate(226.7 76.0) rotate(-90) scale(1 .8)" font-size="9.4" text-anchor="middle"><tspan font-size="12">σ</tspan><tspan font-size="8" dy="2.2">ash</tspan><tspan dy="-2.2"> (%)</tspan></text>
<text transform="translate(247.8 149.1) rotate(0.0) scale(0.96 1)" font-size="7.1" text-anchor="middle">90.00</text>
<text transform="translate(261.7 160.5) rotate(0.0) scale(0.96 1)" font-size="7.1" text-anchor="middle">95.00</text>
<text transform="translate(275.6 171.9) rotate(0.0) scale(0.96 1)" font-size="7.1" text-anchor="middle">100.00</text>
<text transform="translate(290.8 184.0) rotate(0.0) scale(0.96 1)" font-size="7.1" text-anchor="middle">105.00</text>
<text transform="translate(306.0 195.1) rotate(0.0) scale(0.96 1)" font-size="7.1" text-anchor="middle">110.00</text>
<text transform="translate(328.3 194.6) rotate(0.0) scale(0.96 1)" font-size="7.1" text-anchor="middle">0.48</text>
<text transform="translate(359.0 188.3) rotate(0.0) scale(0.96 1)" font-size="7.1" text-anchor="middle">0.51</text>
<text transform="translate(390.6 181.5) rotate(0.0) scale(0.96 1)" font-size="7.1" text-anchor="middle">0.54</text>
<text transform="translate(421.5 174.4) rotate(0.0) scale(0.96 1)" font-size="7.1" text-anchor="middle">0.58</text>
<text transform="translate(452.7 167.3) rotate(0.0) scale(0.96 1)" font-size="7.1" text-anchor="middle">0.61</text>
<text transform="translate(262.0 179.3) rotate(37.4) scale(0.88 1)" font-size="9.9" text-anchor="middle">A: Inlet temperature (°C)</text>
<text transform="translate(395.0 192.5) rotate(-12.0) scale(0.88 1)" font-size="9.9" text-anchor="middle">C: Air velocity (m/s)</text>
<text transform="translate(426.5 36.1) rotate(0.0) scale(1.00 1)" font-size="21" text-anchor="middle">b</text>
<polygon points="491.8,12.6 604.3,2.6 603.2,117.2 496.6,135.8" class="w"/>
<polygon points="604.3,2.6 677.0,22.0 672.0,153.4 603.2,117.2" class="w"/>
<polygon points="496.6,135.8 603.2,117.2 672.0,153.4 554.0,180.5" class="w"/>
<clipPath id="fc"><polygon points="496.6,135.8 603.2,117.2 672.0,153.4 554.0,180.5"/></clipPath><g clip-path="url(#fc)">
<path d="M600.3 118.0C605.1 120.6 620.7 129.1 629.0 133.8C637.3 138.5 644.2 142.5 650.0 146.0C655.8 149.5 661.0 152.9 664.0 154.7C667.0 156.5 667.3 156.6 668.0 157.0" class="c"/>
<path d="M594.5 118.8C598.8 121.3 612.6 129.2 620.4 133.8C628.1 138.4 635.2 142.7 641.0 146.5C646.8 150.3 652.1 154.6 654.9 156.7C657.7 158.8 657.5 158.6 658.0 159.0" class="c"/>
<path d="M587.3 120.3C590.9 122.5 601.8 129.3 608.9 133.8C616.0 138.3 624.0 143.4 630.0 147.5C636.0 151.6 641.8 156.1 644.8 158.3C647.8 160.6 647.5 160.6 648.0 161.0" class="c"/>
<path d="M580.1 122.3C583.0 124.2 591.6 129.5 597.4 133.8C603.2 138.1 608.8 143.6 614.7 148.2C620.6 152.8 629.2 158.8 632.7 161.4C636.2 164.0 635.5 163.6 636.0 164.0" class="c"/>
<path d="M499.4 137.2C503.7 137.9 516.6 140.0 525.0 141.5C533.4 143.0 542.5 144.7 550.0 146.2C557.5 147.7 563.3 148.7 570.0 150.5C576.7 152.3 584.1 154.0 590.0 157.0C595.9 160.0 602.5 166.2 605.5 168.4C608.5 170.7 607.6 170.2 608.0 170.5" class="c"/>
<path d="M503.9 140.8C507.4 141.7 517.3 143.8 525.0 146.0C532.7 148.2 542.5 151.6 550.0 154.3C557.5 157.1 564.1 159.4 570.0 162.5C575.9 165.6 582.4 170.8 585.3 172.9C588.2 175.0 587.1 174.7 587.5 175.0" class="c"/>
<path d="M508.5 144.4C512.1 145.8 523.1 150.2 530.0 153.0C536.9 155.8 544.7 158.8 550.0 161.4C555.3 164.0 558.6 166.0 562.0 168.5C565.4 171.0 568.5 174.8 570.2 176.5C571.9 178.2 571.7 178.2 572.0 178.5" class="c"/>
<path d="M513.9 148.9C517.4 150.8 529.0 156.8 535.0 160.0C541.0 163.2 546.2 165.2 550.0 168.4C553.8 171.6 556.5 176.9 558.0 178.9C559.5 180.9 558.8 180.2 559.0 180.5" class="c"/>
<path d="M519.6 132.4C522.5 132.9 531.1 134.7 536.9 135.3C542.7 135.9 549.4 136.3 554.2 136.1C559.0 135.8 563.2 135.2 565.7 133.8C568.2 132.5 568.7 129.8 569.2 128.0C569.7 126.2 568.7 123.8 568.6 123.0" class="cb"/>
</g>
<line x1="496.6" y1="135.8" x2="495.2" y2="136.9" class="t"/>
<line x1="511.0" y1="147.0" x2="509.5" y2="148.1" class="t"/>
<line x1="525.3" y1="158.2" x2="523.9" y2="159.2" class="t"/>
<line x1="539.6" y1="169.3" x2="538.2" y2="170.4" class="t"/>
<line x1="554.0" y1="180.5" x2="552.6" y2="181.6" class="t"/>
<line x1="554.0" y1="180.5" x2="554.4" y2="182.3" class="t"/>
<line x1="583.5" y1="173.7" x2="583.9" y2="175.5" class="t"/>
<line x1="613.0" y1="166.9" x2="613.4" y2="168.8" class="t"/>
<line x1="642.5" y1="160.2" x2="642.9" y2="162.0" class="t"/>
<line x1="672.0" y1="153.4" x2="672.4" y2="155.2" class="t"/>
<line x1="491.8" y1="12.0" x2="489.8" y2="12.0" class="t"/>
<line x1="492.7" y1="36.4" x2="490.7" y2="36.4" class="t"/>
<line x1="493.6" y1="59.8" x2="491.6" y2="59.8" class="t"/>
<line x1="494.6" y1="83.3" x2="492.6" y2="83.3" class="t"/>
<line x1="495.5" y1="106.7" x2="493.5" y2="106.7" class="t"/>
<clipPath id="csc"><path d="M493.5 49.6C494.8 47.7 498.6 41.9 501.2 38.4C503.8 34.9 506.6 31.3 509.3 28.3C512.0 25.3 514.7 22.5 517.4 20.2C520.1 17.9 522.5 16.1 525.5 14.6C528.5 13.1 532.6 11.8 535.6 11.1C538.6 10.4 541.0 10.3 543.7 10.5C546.4 10.7 549.1 11.0 551.8 12.1C554.5 13.2 557.2 15.3 559.9 17.2C562.6 19.1 565.2 21.3 567.9 23.3C570.6 25.3 573.0 27.3 576.0 29.3C579.0 31.3 582.8 33.4 586.2 35.4C589.6 37.4 592.9 39.8 596.3 41.5C599.7 43.2 604.7 44.8 606.4 45.5C608.5 46.4 614.4 49.4 618.9 50.6C623.4 51.8 629.0 51.7 633.4 52.7C637.8 53.7 641.4 54.7 645.0 56.5C648.6 58.3 651.5 60.4 655.0 63.3C658.5 66.2 662.8 70.4 666.0 74.0C669.2 77.6 672.7 83.0 674.0 84.8C672.1 85.4 666.6 87.8 662.6 88.6C658.6 89.4 653.8 89.7 650.0 89.8C646.2 89.9 645.1 90.2 640.0 89.0C634.9 87.8 624.8 84.4 619.6 82.4C614.4 80.4 612.1 79.5 609.0 77.1C605.9 74.7 602.2 69.4 600.9 67.9C599.6 69.9 596.1 75.2 593.0 79.8C589.9 84.4 585.9 90.0 582.4 95.7C578.9 101.5 575.3 108.3 571.8 114.3C568.3 120.3 564.2 126.4 561.2 131.5C558.2 136.6 554.8 142.8 553.5 145.0C550.4 141.0 540.9 128.5 535.0 121.0C529.1 113.5 523.0 107.7 518.0 100.0C513.0 92.3 509.1 83.4 505.0 75.0C500.9 66.6 495.4 53.7 493.5 49.4Z"/></clipPath>
<path d="M493.5 49.6C494.8 47.7 498.6 41.9 501.2 38.4C503.8 34.9 506.6 31.3 509.3 28.3C512.0 25.3 514.7 22.5 517.4 20.2C520.1 17.9 522.5 16.1 525.5 14.6C528.5 13.1 532.6 11.8 535.6 11.1C538.6 10.4 541.0 10.3 543.7 10.5C546.4 10.7 549.1 11.0 551.8 12.1C554.5 13.2 557.2 15.3 559.9 17.2C562.6 19.1 565.2 21.3 567.9 23.3C570.6 25.3 573.0 27.3 576.0 29.3C579.0 31.3 582.8 33.4 586.2 35.4C589.6 37.4 592.9 39.8 596.3 41.5C599.7 43.2 604.7 44.8 606.4 45.5C608.5 46.4 614.4 49.4 618.9 50.6C623.4 51.8 629.0 51.7 633.4 52.7C637.8 53.7 641.4 54.7 645.0 56.5C648.6 58.3 651.5 60.4 655.0 63.3C658.5 66.2 662.8 70.4 666.0 74.0C669.2 77.6 672.7 83.0 674.0 84.8C672.1 85.4 666.6 87.8 662.6 88.6C658.6 89.4 653.8 89.7 650.0 89.8C646.2 89.9 645.1 90.2 640.0 89.0C634.9 87.8 624.8 84.4 619.6 82.4C614.4 80.4 612.1 79.5 609.0 77.1C605.9 74.7 602.2 69.4 600.9 67.9C599.6 69.9 596.1 75.2 593.0 79.8C589.9 84.4 585.9 90.0 582.4 95.7C578.9 101.5 575.3 108.3 571.8 114.3C568.3 120.3 564.2 126.4 561.2 131.5C558.2 136.6 554.8 142.8 553.5 145.0C550.4 141.0 540.9 128.5 535.0 121.0C529.1 113.5 523.0 107.7 518.0 100.0C513.0 92.3 509.1 83.4 505.0 75.0C500.9 66.6 495.4 53.7 493.5 49.4Z" fill="#000"/>
<g clip-path="url(#csc)">
<path d="M596.9 60.2l5.8 5.5 6.8 11.3-5.9-5.2z" fill="#000000" stroke="#000000" stroke-width=".7"/>
<path d="M602.7 65.7l5.8 5 6.8 11-5.8-4.7z" fill="#000000" stroke="#000000" stroke-width=".7"/>
<path d="M590.1 48.7l5.8 5.8 6.8 11.2-5.8-5.5z" fill="#000000" stroke="#000000" stroke-width=".7"/>
<path d="M608.5 70.7l5.8 4.1 6.8 10.7-5.8-3.8z" fill="#000000" stroke="#000000" stroke-width=".7"/>
<path d="M595.9 54.5l5.8 5.3 6.8 10.9-5.8-5z" fill="#000000" stroke="#000000" stroke-width=".7"/>
<path d="M583.2 38l5.8 6.1 6.9 10.4-5.8-5.8z" fill="#000000" stroke="#000000" stroke-width=".7"/>
<path d="M601.7 59.8l5.7 4.5 6.9 10.5-5.8-4.1z" fill="#000000" stroke="#000000" stroke-width=".7"/>
<path d="M614.3 74.8l5.8 3.2 6.9 10.3-5.9-2.8z" fill="#000000" stroke="#000000" stroke-width=".7"/>
<path d="M589 44.1l5.7 5.6 7 10.1-5.8-5.3z" fill="#000000" stroke="#000000" stroke-width=".7"/>
<path d="M576.2 28.4l5.8 6.5 7 9.2-5.8-6.1z" fill="#000000" stroke="#000000" stroke-width=".7"/>
<path d="M594.7 49.7l5.8 4.9 6.9 9.7-5.7-4.5z" fill="#000000" stroke="#000000" stroke-width=".7"/>
<path d="M582 34.9l5.7 6 7 8.8-5.7-5.6z" fill="#000000" stroke="#000000" stroke-width=".7"/>
<path d="M569.2 20.6l5.8 6.8 7 7.5-5.8-6.5z" fill="#000000" stroke="#000000" stroke-width=".7"/>
<path d="M607.4 64.3l5.8 3.5 6.9 10.2-5.8-3.2z" fill="#000000" stroke="#000000" stroke-width=".7"/>
<path d="M620.1 78l5.8 1.9 6.9 10-5.8-1.6z" fill="#140011" stroke="#140011" stroke-width=".7"/>
<path d="M562.2 14.6l5.7 7.2 7.1 5.6-5.8-6.8z" fill="#000000" stroke="#000000" stroke-width=".7"/>
<path d="M575 27.4l5.6 6.3 7.1 7.2-5.7-6z" fill="#000000" stroke="#000000" stroke-width=".7"/>
<path d="M587.7 40.9l5.7 5.2 7.1 8.5-5.8-4.9z" fill="#000000" stroke="#000000" stroke-width=".7"/>
<path d="M600.5 54.6l5.7 3.7 7 9.5-5.8-3.5z" fill="#000000" stroke="#000000" stroke-width=".7"/>
<path d="M613.2 67.8l5.8 2.2 6.9 9.9-5.8-1.9z" fill="#050003" stroke="#050003" stroke-width=".7"/>
<path d="M625.9 79.9l5.9 .8 6.9 9.7-5.9-.5z" fill="#310028" stroke="#310028" stroke-width=".7"/>
<path d="M555.1 10.7l5.7 7.7 7.1 3.4-5.7-7.2z" fill="#000000" stroke="#000000" stroke-width=".7"/>
<path d="M567.9 21.8l5.6 6.7 7.1 5.2-5.6-6.3z" fill="#000000" stroke="#000000" stroke-width=".7"/>
<path d="M580.6 33.7l5.7 5.6 7.1 6.8-5.7-5.2z" fill="#000000" stroke="#000000" stroke-width=".7"/>
<path d="M593.4 46.1l5.7 4.1 7.1 8.1-5.7-3.7z" fill="#000000" stroke="#000000" stroke-width=".7"/>
<path d="M606.2 58.3l5.7 2.6 7.1 9.1-5.8-2.2z" fill="#000000" stroke="#000000" stroke-width=".7"/>
<path d="M548.1 9.1l5.6 8 7.1 1.3-5.7-7.7z" fill="#410000" stroke="#410000" stroke-width=".7"/>
<path d="M619 70l5.8 1.1 7 9.6-5.9-.8z" fill="#250019" stroke="#250019" stroke-width=".7"/>
<path d="M560.8 18.4l5.6 7.1 7.1 3-5.6-6.7z" fill="#000000" stroke="#000000" stroke-width=".7"/>
<path d="M631.8 80.7l5.9-.3 6.9 9.4-5.9 .6z" fill="#460037" stroke="#460037" stroke-width=".7"/>
<path d="M573.5 28.5l5.7 5.9 7.1 4.9-5.7-5.6z" fill="#000000" stroke="#000000" stroke-width=".7"/>
<path d="M541 9.6l5.6 8.5 7.1-1-5.6-8z" fill="#740000" stroke="#740000" stroke-width=".7"/>
<path d="M586.3 39.3l5.7 4.4 7.1 6.5-5.7-4.1z" fill="#000000" stroke="#000000" stroke-width=".7"/>
<path d="M599.1 50.2l5.7 2.9 7.1 7.8-5.7-2.6z" fill="#000000" stroke="#000000" stroke-width=".7"/>
<path d="M553.7 17.1l5.6 7.6 7.1 .8-5.6-7.1z" fill="#460004" stroke="#460004" stroke-width=".7"/>
<path d="M534.1 12.2l5.5 9 7-3.1-5.6-8.5z" fill="#8c0000" stroke="#8c0000" stroke-width=".7"/>
<path d="M611.9 60.9l5.8 1.4 7.1 8.8-5.8-1.1z" fill="#0e0008" stroke="#0e0008" stroke-width=".7"/>
<path d="M566.4 25.5l5.6 6.3 7.2 2.6-5.7-5.9z" fill="#000000" stroke="#000000" stroke-width=".7"/>
<path d="M527.1 16.5l5.5 9.5 7-4.8-5.5-9z" fill="#960005" stroke="#960005" stroke-width=".7"/>
<path d="M624.8 71.1l5.8 .1 7.1 9.2-5.9 .3z" fill="#3c0028" stroke="#3c0028" stroke-width=".7"/>
<path d="M546.6 18.1l5.6 8 7.1-1.4-5.6-7.6z" fill="#780007" stroke="#780007" stroke-width=".7"/>
<path d="M579.2 34.4l5.6 4.9 7.2 4.4-5.7-4.4z" fill="#000000" stroke="#000000" stroke-width=".7"/>
<path d="M520.3 22.3l5.4 9.9 6.9-6.2-5.5-9.5z" fill="#9a000e" stroke="#9a000e" stroke-width=".7"/>
<path d="M637.7 80.4l5.9-1 7 9.1-6 1.3z" fill="#53003f" stroke="#53003f" stroke-width=".7"/>
<path d="M592 43.7l5.6 3.3 7.2 6.1-5.7-2.9z" fill="#000000" stroke="#000000" stroke-width=".7"/>
<path d="M513.4 28.9l5.4 10.5 6.9-7.2-5.4-9.9z" fill="#9c0019" stroke="#9c0019" stroke-width=".7"/>
<path d="M559.3 24.7l5.5 6.7 7.2 .4-5.6-6.3z" fill="#400008" stroke="#400008" stroke-width=".7"/>
<path d="M539.6 21.2l5.5 8.4 7.1-3.5-5.6-8z" fill="#8c000a" stroke="#8c000a" stroke-width=".7"/>
<path d="M506.7 35.9l5.3 11 6.8-7.5-5.4-10.5z" fill="#9e0025" stroke="#9e0025" stroke-width=".7"/>
<path d="M604.8 53.1l5.7 1.8 7.2 7.4-5.8-1.4z" fill="#000000" stroke="#000000" stroke-width=".7"/>
<path d="M532.6 26l5.5 9 7-5.4-5.5-8.4z" fill="#940011" stroke="#940011" stroke-width=".7"/>
<path d="M499.9 42.4l5.4 11.5 6.7-7-5.3-11z" fill="#9f0032" stroke="#9f0032" stroke-width=".7"/>
<path d="M572 31.8l5.6 5.2 7.2 2.3-5.6-4.9z" fill="#000000" stroke="#000000" stroke-width=".7"/>
<path d="M617.7 62.3l5.8 .4 7.1 8.5-5.8-.1z" fill="#2b0017" stroke="#2b0017" stroke-width=".7"/>
<path d="M552.2 26.1l5.5 7.2 7.1-1.9-5.5-6.7z" fill="#74000e" stroke="#74000e" stroke-width=".7"/>
<path d="M493.2 47.6l5.3 12 6.8-5.7-5.4-11.5z" fill="#a1003d" stroke="#a1003d" stroke-width=".7"/>
<path d="M525.7 32.2l5.4 9.5 7-6.7-5.5-9z" fill="#98001b" stroke="#98001b" stroke-width=".7"/>
<path d="M584.8 39.3l5.6 3.6 7.2 4.1-5.6-3.3z" fill="#000000" stroke="#000000" stroke-width=".7"/>
<path d="M518.8 39.4l5.4 10 6.9-7.7-5.4-9.5z" fill="#9a0027" stroke="#9a0027" stroke-width=".7"/>
<path d="M630.6 71.2l5.9-.7 7.1 8.9-5.9 1z" fill="#4b002f" stroke="#4b002f" stroke-width=".7"/>
<path d="M545.1 29.6l5.4 7.7 7.2-4-5.5-7.2z" fill="#880013" stroke="#880013" stroke-width=".7"/>
<path d="M512 46.9l5.3 10.5 6.9-8-5.4-10z" fill="#9b0034" stroke="#9b0034" stroke-width=".7"/>
<path d="M564.8 31.4l5.5 5.7 7.3-.1-5.6-5.2z" fill="#320008" stroke="#320008" stroke-width=".7"/>
<path d="M597.6 47l5.7 2.1 7.2 5.8-5.7-1.8z" fill="#000000" stroke="#000000" stroke-width=".7"/>
<path d="M505.3 53.9l5.2 11 6.8-7.5-5.3-10.5z" fill="#9d0041" stroke="#9d0041" stroke-width=".7"/>
<path d="M643.6 79.4l5.9-1.4 7.1 8.8-6 1.7z" fill="#58003f" stroke="#58003f" stroke-width=".7"/>
<path d="M538.1 35l5.4 8.1 7-5.8-5.4-7.7z" fill="#90001b" stroke="#90001b" stroke-width=".7"/>
<path d="M498.5 59.6l5.2 11.4 6.8-6.1-5.2-11z" fill="#9f004d" stroke="#9f004d" stroke-width=".7"/>
<path d="M577.6 37l5.5 4.1 7.3 1.8-5.6-3.6z" fill="#000000" stroke="#000000" stroke-width=".7"/>
<path d="M531.1 41.7l5.4 8.7 7-7.3-5.4-8.1z" fill="#930025" stroke="#930025" stroke-width=".7"/>
<path d="M610.5 54.9l5.7 .7 7.3 7.1-5.8-.4z" fill="#0b0005" stroke="#0b0005" stroke-width=".7"/>
<path d="M557.7 33.3l5.4 6.1 7.2-2.3-5.5-5.7z" fill="#6a0012" stroke="#6a0012" stroke-width=".7"/>
<path d="M524.2 49.4l5.3 9.1 7-8.1-5.4-8.7z" fill="#950032" stroke="#950032" stroke-width=".7"/>
<path d="M517.3 57.4l5.3 9.6 6.9-8.5-5.3-9.1z" fill="#970040" stroke="#970040" stroke-width=".7"/>
<path d="M623.5 62.7l5.8-.3 7.2 8.1-5.9 .7z" fill="#3c001f" stroke="#3c001f" stroke-width=".7"/>
<path d="M550.5 37.3l5.4 6.6 7.2-4.5-5.4-6.1z" fill="#800019" stroke="#800019" stroke-width=".7"/>
<path d="M590.4 42.9l5.6 2.6 7.3 3.6-5.7-2.1z" fill="#000000" stroke="#000000" stroke-width=".7"/>
<path d="M510.5 64.9l5.2 10.1 6.9-8-5.3-9.6z" fill="#99004d" stroke="#99004d" stroke-width=".7"/>
<path d="M570.3 37.1l5.5 4.5 7.3-.5-5.5-4.1z" fill="#1a0005" stroke="#1a0005" stroke-width=".7"/>
<path d="M503.7 71l5.2 10.7 6.8-6.7-5.2-10.1z" fill="#9c005a" stroke="#9c005a" stroke-width=".7"/>
<path d="M543.5 43.1l5.3 7.1 7.1-6.3-5.4-6.6z" fill="#890022" stroke="#890022" stroke-width=".7"/>
<path d="M636.5 70.5l5.8-1.1 7.2 8.6-5.9 1.4z" fill="#50002f" stroke="#50002f" stroke-width=".7"/>
<path d="M603.3 49.1l5.6 1.1 7.3 5.4-5.7-.7z" fill="#000000" stroke="#000000" stroke-width=".7"/>
<path d="M536.5 50.4l5.3 7.5 7-7.7-5.3-7.1z" fill="#8d002d" stroke="#8d002d" stroke-width=".7"/>
<path d="M563.1 39.4l5.5 5 7.2-2.8-5.5-4.5z" fill="#5b0013" stroke="#5b0013" stroke-width=".7"/>
<path d="M529.5 58.5l5.2 8.1 7.1-8.7-5.3-7.5z" fill="#8f003a" stroke="#8f003a" stroke-width=".7"/>
<path d="M649.5 78l6-1.2 7.1 8.4-6 1.6z" fill="#540038" stroke="#540038" stroke-width=".7"/>
<path d="M583.1 41.1l5.6 2.9 7.3 1.5-5.6-2.6z" fill="#000000" stroke="#000000" stroke-width=".7"/>
<path d="M522.6 67l5.2 8.6 6.9-9-5.2-8.1z" fill="#910048" stroke="#910048" stroke-width=".7"/>
<path d="M616.2 55.6l5.8 0 7.3 6.8-5.8 .3z" fill="#21000d" stroke="#21000d" stroke-width=".7"/>
<path d="M515.7 75l5.2 9.1 6.9-8.5-5.2-8.6z" fill="#940056" stroke="#940056" stroke-width=".7"/>
<path d="M555.9 43.9l5.4 5.4 7.3-4.9-5.5-5z" fill="#74001c" stroke="#74001c" stroke-width=".7"/>
<path d="M508.9 81.7l5.1 9.6 6.9-7.2-5.2-9.1z" fill="#970063" stroke="#970063" stroke-width=".7"/>
<path d="M596 45.5l5.6 1.4 7.3 3.3-5.6-1.1z" fill="#000000" stroke="#000000" stroke-width=".7"/>
<path d="M629.3 62.4l5.8-.8 7.2 7.8-5.8 1.1z" fill="#42001f" stroke="#42001f" stroke-width=".7"/>
<path d="M575.8 41.6l5.5 3.4 7.4-1-5.6-2.9z" fill="#010000" stroke="#010000" stroke-width=".7"/>
<path d="M548.8 50.2l5.3 5.9 7.2-6.8-5.4-5.4z" fill="#7f0025" stroke="#7f0025" stroke-width=".7"/>
<path d="M541.8 57.9l5.2 6.5 7.1-8.3-5.3-5.9z" fill="#840031" stroke="#840031" stroke-width=".7"/>
<path d="M534.7 66.6l5.2 7 7.1-9.2-5.2-6.5z" fill="#87003e" stroke="#87003e" stroke-width=".7"/>
<path d="M642.3 69.4l5.9-.9 7.3 8.3-6 1.2z" fill="#4b0029" stroke="#4b0029" stroke-width=".7"/>
<path d="M608.9 50.2l5.7 .4 7.4 5-5.8 0z" fill="#000000" stroke="#000000" stroke-width=".7"/>
<path d="M527.8 75.6l5.1 7.5 7-9.5-5.2-7z" fill="#8a004c" stroke="#8a004c" stroke-width=".7"/>
<path d="M568.6 44.4l5.4 3.8 7.3-3.2-5.5-3.4z" fill="#470010" stroke="#470010" stroke-width=".7"/>
<path d="M520.9 84.1l5.1 8 6.9-9-5.1-7.5z" fill="#8c005b" stroke="#8c005b" stroke-width=".7"/>
<path d="M588.7 44l5.5 1.9 7.4 1-5.6-1.4z" fill="#000000" stroke="#000000" stroke-width=".7"/>
<path d="M514 91.3l5 8.4 7-7.6-5.1-8z" fill="#900068" stroke="#900068" stroke-width=".7"/>
<path d="M655.5 76.8l5.9-.4 7.2 8.1-6 .7z" fill="#3f0027" stroke="#3f0027" stroke-width=".7"/>
<path d="M561.3 49.3l5.4 4.3 7.3-5.4-5.4-3.8z" fill="#66001b" stroke="#66001b" stroke-width=".7"/>
<path d="M622 55.6l5.7-.4 7.4 6.4-5.8 .8z" fill="#28000f" stroke="#28000f" stroke-width=".7"/>
<path d="M554.1 56.1l5.3 4.7 7.3-7.2-5.4-4.3z" fill="#730025" stroke="#730025" stroke-width=".7"/>
<path d="M581.3 45l5.5 2.3 7.4-1.4-5.5-1.9z" fill="#000000" stroke="#000000" stroke-width=".7"/>
<path d="M601.6 46.9l5.6 .8 7.4 2.9-5.7-.4z" fill="#000000" stroke="#000000" stroke-width=".7"/>
<path d="M547 64.4l5.2 5.2 7.2-8.8-5.3-4.7z" fill="#790031" stroke="#790031" stroke-width=".7"/>
<path d="M635.1 61.6l5.8-.5 7.3 7.4-5.9 .9z" fill="#3b001a" stroke="#3b001a" stroke-width=".7"/>
<path d="M539.9 73.6l5.2 5.7 7.1-9.7-5.2-5.2z" fill="#7d003e" stroke="#7d003e" stroke-width=".7"/>
<path d="M532.9 83.1l5.1 6.2 7.1-10-5.2-5.7z" fill="#81004d" stroke="#81004d" stroke-width=".7"/>
<path d="M526 92.1l5 6.7 7-9.5-5.1-6.2z" fill="#84005b" stroke="#84005b" stroke-width=".7"/>
<path d="M574 48.2l5.4 2.7 7.4-3.6-5.5-2.3z" fill="#30000b" stroke="#30000b" stroke-width=".7"/>
<path d="M519 99.7l5 7.2 7-8.1-5-6.7z" fill="#870069" stroke="#870069" stroke-width=".7"/>
<path d="M648.2 68.5l5.9 0 7.3 7.9-5.9 .4z" fill="#33001a" stroke="#33001a" stroke-width=".7"/>
<path d="M614.6 50.6l5.7-.1 7.4 4.7-5.7 .4z" fill="#000000" stroke="#000000" stroke-width=".7"/>
<path d="M594.2 45.9l5.6 1.1 7.4 .7-5.6-.8z" fill="#000000" stroke="#000000" stroke-width=".7"/>
<path d="M566.7 53.6l5.3 3.2 7.4-5.9-5.4-2.7z" fill="#550018" stroke="#550018" stroke-width=".7"/>
<path d="M661.4 76.4l5.9 1.4 7.3 7.7-6-1z" fill="#040002" stroke="#040002" stroke-width=".7"/>
<path d="M559.4 60.8l5.3 3.7 7.3-7.7-5.3-3.2z" fill="#660023" stroke="#660023" stroke-width=".7"/>
<path d="M627.7 55.2l5.8-.2 7.4 6.1-5.8 .5z" fill="#1c000a" stroke="#1c000a" stroke-width=".7"/>
<path d="M552.2 69.6l5.2 4.2 7.3-9.3-5.3-3.7z" fill="#6e002f" stroke="#6e002f" stroke-width=".7"/>
<path d="M586.8 47.3l5.5 1.5 7.5-1.8-5.6-1.1z" fill="#000000" stroke="#000000" stroke-width=".7"/>
<path d="M545.1 79.3l5.1 4.7 7.2-10.2-5.2-4.2z" fill="#73003c" stroke="#73003c" stroke-width=".7"/>
<path d="M607.2 47.7l5.6 .3 7.5 2.5-5.7 .1z" fill="#000000" stroke="#000000" stroke-width=".7"/>
<path d="M538 89.3l5.1 5.2 7.1-10.5-5.1-4.7z" fill="#77004b" stroke="#77004b" stroke-width=".7"/>
<path d="M531 98.8l5 5.7 7.1-10-5.1-5.2z" fill="#7b0059" stroke="#7b0059" stroke-width=".7"/>
<path d="M640.9 61.1l5.8 .3 7.4 7.1-5.9 0z" fill="#1b000b" stroke="#1b000b" stroke-width=".7"/>
<path d="M524 106.9l4.9 6.2 7.1-8.6-5-5.7z" fill="#7f0067" stroke="#7f0067" stroke-width=".7"/>
<path d="M579.4 50.9l5.4 2 7.5-4.1-5.5-1.5z" fill="#1c0007" stroke="#1c0007" stroke-width=".7"/>
<path d="M654.1 68.5l5.8 1.7 7.4 7.6-5.9-1.4z" fill="#000000" stroke="#000000" stroke-width=".7"/>
<path d="M620.3 50.5l5.7 .2 7.5 4.3-5.8 .2z" fill="#000000" stroke="#000000" stroke-width=".7"/>
<path d="M599.8 47l5.5 .8 7.5 .2-5.6-.3z" fill="#000000" stroke="#000000" stroke-width=".7"/>
<path d="M572 56.8l5.4 2.4 7.4-6.3-5.4-2z" fill="#470014" stroke="#470014" stroke-width=".7"/>
<path d="M564.7 64.5l5.3 3 7.4-8.3-5.4-2.4z" fill="#5b0020" stroke="#5b0020" stroke-width=".7"/>
<path d="M557.4 73.8l5.2 3.4 7.4-9.7-5.3-3z" fill="#65002c" stroke="#65002c" stroke-width=".7"/>
<path d="M633.5 55l5.8 .7 7.4 5.7-5.8-.3z" fill="#000000" stroke="#000000" stroke-width=".7"/>
<path d="M550.2 84l5.2 3.9 7.2-10.7-5.2-3.4z" fill="#6b0039" stroke="#6b0039" stroke-width=".7"/>
<path d="M592.3 48.8l5.5 1.2 7.5-2.2-5.5-.8z" fill="#000000" stroke="#000000" stroke-width=".7"/>
<path d="M543.1 94.5l5 4.4 7.3-11-5.2-3.9z" fill="#6f0048" stroke="#6f0048" stroke-width=".7"/>
<path d="M536 104.5l5 4.9 7.1-10.5-5-4.4z" fill="#730056" stroke="#730056" stroke-width=".7"/>
<path d="M612.8 48l5.7 .6 7.5 2.1-5.7-.2z" fill="#000000" stroke="#000000" stroke-width=".7"/>
<path d="M528.9 113.1l4.9 5.4 7.2-9.1-5-4.9z" fill="#770065" stroke="#770065" stroke-width=".7"/>
<path d="M646.7 61.4l5.8 2 7.4 6.8-5.8-1.7z" fill="#000000" stroke="#000000" stroke-width=".7"/>
<path d="M584.8 52.9l5.4 1.7 7.6-4.6-5.5-1.2z" fill="#160005" stroke="#160005" stroke-width=".7"/>
<path d="M626 50.7l5.7 1 7.6 4-5.8-.7z" fill="#000000" stroke="#000000" stroke-width=".7"/>
<path d="M577.4 59.2l5.3 2.2 7.5-6.8-5.4-1.7z" fill="#420012" stroke="#420012" stroke-width=".7"/>
<path d="M605.3 47.8l5.6 .9 7.6-.1-5.7-.6z" fill="#000000" stroke="#000000" stroke-width=".7"/>
<path d="M570 67.5l5.2 2.6 7.5-8.7-5.3-2.2z" fill="#56001e" stroke="#56001e" stroke-width=".7"/>
<path d="M562.6 77.2l5.2 3.1 7.4-10.2-5.2-2.6z" fill="#60002b" stroke="#60002b" stroke-width=".7"/>
<path d="M555.4 87.9l5.1 3.6 7.3-11.2-5.2-3.1z" fill="#670038" stroke="#670038" stroke-width=".7"/>
<path d="M639.3 55.7l5.7 2.4 7.5 5.3-5.8-2z" fill="#000000" stroke="#000000" stroke-width=".7"/>
<path d="M548.1 98.9l5.1 4.1 7.3-11.5-5.1-3.6z" fill="#6b0047" stroke="#6b0047" stroke-width=".7"/>
<path d="M541 109.4l4.9 4.6 7.3-11-5.1-4.1z" fill="#700055" stroke="#700055" stroke-width=".7"/>
<path d="M597.8 50l5.5 1.4 7.6-2.7-5.6-.9z" fill="#000000" stroke="#000000" stroke-width=".7"/>
<path d="M533.8 118.5l4.9 5 7.2-9.5-4.9-4.6z" fill="#740064" stroke="#740064" stroke-width=".7"/>
<path d="M618.5 48.6l5.6 1.4 7.6 1.7-5.7-1z" fill="#000000" stroke="#000000" stroke-width=".7"/>
<path d="M590.2 54.6l5.4 1.8 7.7-5-5.5-1.4z" fill="#260008" stroke="#260008" stroke-width=".7"/>
<path d="M631.7 51.7l5.7 2.8 7.6 3.6-5.7-2.4z" fill="#000000" stroke="#000000" stroke-width=".7"/>
<path d="M582.7 61.4l5.3 2.3 7.6-7.3-5.4-1.8z" fill="#4a0014" stroke="#4a0014" stroke-width=".7"/>
<path d="M610.9 48.7l5.5 1.9 7.7-.6-5.6-1.4z" fill="#000000" stroke="#000000" stroke-width=".7"/>
<path d="M575.2 70.1l5.3 2.8 7.5-9.2-5.3-2.3z" fill="#5b0020" stroke="#5b0020" stroke-width=".7"/>
<path d="M567.8 80.3l5.2 3.3 7.5-10.7-5.3-2.8z" fill="#64002c" stroke="#64002c" stroke-width=".7"/>
<path d="M560.5 91.5l5.1 3.8 7.4-11.7-5.2-3.3z" fill="#6a003a" stroke="#6a003a" stroke-width=".7"/>
<path d="M553.2 103l5 4.3 7.4-12-5.1-3.8z" fill="#6e0049" stroke="#6e0049" stroke-width=".7"/>
<path d="M545.9 114l5 4.8 7.3-11.5-5-4.3z" fill="#720059" stroke="#720059" stroke-width=".7"/>
<path d="M538.7 123.5l4.9 5.3 7.3-10-5-4.8z" fill="#760068" stroke="#760068" stroke-width=".7"/>
<path d="M603.3 51.4l5.5 2.3 7.6-3.1-5.5-1.9z" fill="#100003" stroke="#100003" stroke-width=".7"/>
<path d="M624.1 50l5.6 3.2 7.7 1.3-5.7-2.8z" fill="#000000" stroke="#000000" stroke-width=".7"/>
<path d="M595.6 56.4l5.5 2.7 7.7-5.4-5.5-2.3z" fill="#47000f" stroke="#47000f" stroke-width=".7"/>
<path d="M588 63.7l5.4 3.2 7.7-7.8-5.5-2.7z" fill="#5f001a" stroke="#5f001a" stroke-width=".7"/>
<path d="M616.4 50.6l5.6 3.6 7.7-1-5.6-3.2z" fill="#0f0003" stroke="#0f0003" stroke-width=".7"/>
<path d="M580.5 72.9l5.3 3.7 7.6-9.7-5.4-3.2z" fill="#6a0025" stroke="#6a0025" stroke-width=".7"/>
<path d="M573 83.6l5.2 4.2 7.6-11.2-5.3-3.7z" fill="#700033" stroke="#700033" stroke-width=".7"/>
<path d="M565.6 95.3l5.1 4.8 7.5-12.3-5.2-4.2z" fill="#740042" stroke="#740042" stroke-width=".7"/>
<path d="M558.2 107.3l5.1 5.3 7.4-12.5-5.1-4.8z" fill="#770052" stroke="#770052" stroke-width=".7"/>
<path d="M550.9 118.8l5 5.8 7.4-12-5.1-5.3z" fill="#7a0062" stroke="#7a0062" stroke-width=".7"/>
<path d="M543.6 128.8l5 6.2 7.3-10.4-5-5.8z" fill="#7f0073" stroke="#7f0073" stroke-width=".7"/>
<path d="M608.8 53.7l5.4 4 7.8-3.5-5.6-3.6z" fill="#520010" stroke="#520010" stroke-width=".7"/>
<path d="M601.1 59.1l5.4 4.6 7.7-6-5.4-4z" fill="#6d0019" stroke="#6d0019" stroke-width=".7"/>
<path d="M593.4 66.9l5.3 5 7.8-8.2-5.4-4.6z" fill="#780023" stroke="#780023" stroke-width=".7"/>
<path d="M585.8 76.6l5.2 5.5 7.7-10.2-5.3-5z" fill="#7e002f" stroke="#7e002f" stroke-width=".7"/>
<path d="M578.2 87.8l5.2 6.1 7.6-11.8-5.2-5.5z" fill="#80003d" stroke="#80003d" stroke-width=".7"/>
<path d="M563.3 112.6l5 7.1 7.5-13.1-5.1-6.5z" fill="#85005f" stroke="#85005f" stroke-width=".7"/>
<path d="M570.7 100.1l5.1 6.5 7.6-12.7-5.2-6.1z" fill="#83004e" stroke="#83004e" stroke-width=".7"/>
<path d="M555.9 124.6l5 7.6 7.4-12.5-5-7.1z" fill="#880072" stroke="#880072" stroke-width=".7"/>
<path d="M548.6 135l4.9 8.1 7.4-10.9-5-7.6z" fill="#8c0084" stroke="#8c0084" stroke-width=".7"/>
<path d="M493.2 47.6l1.3 3 1.3 3 1.3 3 1.4 3 1.3 2.9 1.3 2.9 1.3 2.8 1.3 2.8 1.3 2.8 1.3 2.7 1.3 2.6 1.3 2.6 1.2 2.5 1.3 2.4 1.3 2.4 1.3 2.3 1.2 2.2 1.3 2.1 1.2 2.1 1.3 2 1.2 1.9 1.3 1.8 1.2 1.8 1.3 1.7 1.2 1.6 1.3 1.6 1.2 1.5 1.2 1.5 1.3 1.4 1.2 1.3 1.2 1.4 1.2 1.3 1.3 1.2 1.2 1.3 1.2 1.3 1.2 1.2 1.3 1.3 1.2 1.3 1.2 1.3 1.2 1.4 1.3 1.4 1.2 1.5 1.2 1.6 1.3 1.7 1.2 1.8 1.2 2 1.2 2.1 1.3 2.2M494.9 46.5l1.3 2.9 1.3 3 1.3 3 1.4 2.9 1.3 2.9 1.3 2.9 1.3 2.8 1.3 2.8 1.3 2.7 1.3 2.7 1.3 2.6 1.3 2.5 1.3 2.5 1.2 2.4 1.3 2.3 1.3 2.3 1.3 2.2 1.2 2.1 1.3 2 1.2 2 1.3 1.8 1.2 1.8 1.3 1.8 1.2 1.7 1.3 1.6 1.2 1.5 1.3 1.5 1.2 1.4 1.2 1.4 1.3 1.3 1.2 1.3 1.2 1.3 1.3 1.2 1.2 1.3 1.2 1.2 1.2 1.2 1.3 1.3 1.2 1.3 1.2 1.3 1.3 1.3 1.2 1.4 1.2 1.5 1.3 1.6 1.2 1.6 1.2 1.8 1.2 1.9 1.3 2.1 1.2 2.2M496.6 45.2l1.3 3 1.3 2.9 1.3 2.9 1.4 2.9 1.3 2.9 1.3 2.8 1.3 2.8 1.3 2.8 1.3 2.7 1.3 2.6 1.3 2.6 1.3 2.5 1.3 2.4 1.3 2.4 1.2 2.3 1.3 2.2 1.3 2.2 1.3 2.1 1.2 2 1.3 1.9 1.2 1.9 1.3 1.7 1.2 1.7 1.3 1.7 1.2 1.6 1.3 1.5 1.2 1.4 1.3 1.4 1.2 1.4 1.2 1.3 1.3 1.3 1.2 1.2 1.2 1.2 1.3 1.2 1.2 1.2 1.2 1.2 1.3 1.2 1.2 1.3 1.2 1.2 1.3 1.4 1.2 1.3 1.2 1.5 1.3 1.5 1.2 1.7 1.2 1.7 1.3 1.9 1.2 2 1.3 2.2M498.2 43.8l1.4 3 1.3 2.9 1.3 2.9 1.4 2.9 1.3 2.8 1.3 2.8 1.3 2.8 1.3 2.7 1.3 2.6 1.3 2.6 1.3 2.6 1.3 2.5 1.3 2.4 1.3 2.3 1.3 2.3 1.2 2.2 1.3 2.1 1.3 2.1 1.3 1.9 1.2 1.9 1.3 1.9 1.2 1.7 1.3 1.7 1.2 1.6 1.3 1.5 1.2 1.5 1.3 1.4 1.2 1.4 1.3 1.3 1.2 1.3 1.3 1.3 1.2 1.2 1.2 1.2 1.3 1.1 1.2 1.2 1.2 1.2 1.3 1.2 1.2 1.2 1.3 1.2 1.2 1.3 1.2 1.3 1.3 1.5 1.2 1.5 1.2 1.6 1.3 1.7 1.2 1.8 1.3 2 1.2 2.2M499.9 42.4l1.4 2.9 1.3 2.9 1.3 2.8 1.4 2.9 1.3 2.8 1.3 2.8 1.3 2.7 1.3 2.7 1.3 2.6 1.3 2.6 1.3 2.5 1.3 2.4 1.3 2.4 1.3 2.3 1.3 2.3 1.3 2.1 1.2 2.1 1.3 2.1 1.3 1.9 1.3 1.9 1.2 1.8 1.3 1.7 1.2 1.6 1.3 1.6 1.3 1.5 1.2 1.5 1.3 1.4 1.2 1.3 1.3 1.3 1.2 1.2 1.2 1.3 1.3 1.1 1.2 1.2 1.3 1.1 1.2 1.2 1.2 1.1 1.3 1.2 1.2 1.2 1.3 1.2 1.2 1.2 1.3 1.3 1.2 1.4 1.2 1.5 1.3 1.6 1.2 1.7 1.3 1.8 1.2 1.9 1.3 2.2M501.6 40.8l1.4 2.9 1.3 2.9 1.3 2.8 1.3 2.8 1.4 2.8 1.3 2.7 1.3 2.7 1.3 2.7 1.3 2.6 1.3 2.5 1.3 2.5 1.3 2.4 1.3 2.4 1.3 2.3 1.3 2.2 1.3 2.1 1.3 2.1 1.3 2 1.2 1.9 1.3 1.8 1.3 1.8 1.2 1.7 1.3 1.6 1.3 1.5 1.2 1.5 1.3 1.4 1.2 1.4 1.3 1.3 1.2 1.3 1.3 1.2 1.2 1.2 1.3 1.1 1.2 1.1 1.3 1.2 1.2 1.1 1.3 1.1 1.2 1.1 1.2 1.1 1.3 1.2 1.2 1.3 1.3 1.2 1.2 1.4 1.3 1.4 1.2 1.6 1.3 1.6 1.2 1.8 1.3 2 1.2 2.1M503.3 39.2l1.3 2.9 1.4 2.8 1.3 2.8 1.3 2.8 1.4 2.7 1.3 2.7 1.3 2.7 1.3 2.6 1.3 2.6 1.4 2.5 1.3 2.5 1.3 2.3 1.3 2.4 1.3 2.2 1.2 2.2 1.3 2.1 1.3 2 1.3 2 1.3 1.9 1.2 1.8 1.3 1.7 1.3 1.7 1.2 1.5 1.3 1.6 1.3 1.4 1.2 1.4 1.3 1.3 1.2 1.3 1.3 1.3 1.3 1.1 1.2 1.2 1.3 1.1 1.2 1.1 1.3 1.1 1.2 1.1 1.3 1.1 1.2 1 1.3 1.2 1.2 1.1 1.3 1.2 1.2 1.3 1.3 1.3 1.2 1.4 1.3 1.5 1.2 1.6 1.3 1.8 1.2 1.9 1.3 2.1M505 37.6l1.3 2.8 1.4 2.8 1.3 2.7 1.3 2.8 1.4 2.7 1.3 2.7 1.3 2.6 1.3 2.6 1.4 2.5 1.3 2.5 1.3 2.4 1.3 2.4 1.3 2.3 1.3 2.2 1.3 2.2 1.3 2 1.2 2 1.3 2 1.3 1.8 1.3 1.8 1.3 1.7 1.2 1.6 1.3 1.6 1.3 1.5 1.2 1.4 1.3 1.3 1.3 1.3 1.2 1.3 1.3 1.2 1.2 1.1 1.3 1.2 1.3 1.1 1.2 1 1.3 1.1 1.2 1 1.3 1.1 1.2 1 1.3 1.1 1.2 1.1 1.3 1.2 1.2 1.2 1.3 1.3 1.2 1.4 1.3 1.5 1.3 1.6 1.2 1.7 1.3 1.9 1.2 2M506.7 35.9l1.3 2.7 1.4 2.8 1.3 2.7 1.3 2.8 1.4 2.6 1.3 2.7 1.3 2.6 1.3 2.6 1.4 2.5 1.3 2.4 1.3 2.4 1.3 2.3 1.3 2.3 1.3 2.2 1.3 2.1 1.3 2 1.3 2 1.3 1.9 1.3 1.8 1.2 1.8 1.3 1.6 1.3 1.6 1.3 1.5 1.2 1.5 1.3 1.4 1.3 1.3 1.2 1.3 1.3 1.2 1.3 1.2 1.2 1.1 1.3 1.1 1.2 1 1.3 1.1 1.3 1 1.2 1 1.3 1 1.2 1.1 1.3 1 1.3 1.1 1.2 1.1 1.3 1.2 1.2 1.3 1.3 1.4 1.3 1.4 1.2 1.6 1.3 1.7 1.2 1.8 1.3 2M508.4 34.1l1.3 2.8 1.4 2.7 1.3 2.7 1.3 2.7 1.4 2.7 1.3 2.6 1.3 2.5 1.4 2.6 1.3 2.4 1.3 2.5 1.3 2.3 1.3 2.3 1.3 2.2 1.3 2.2 1.3 2.1 1.3 2 1.3 1.9 1.3 1.9 1.3 1.8 1.3 1.7 1.3 1.6 1.2 1.6 1.3 1.5 1.3 1.4 1.3 1.4 1.2 1.3 1.3 1.2 1.3 1.2 1.2 1.1 1.3 1.1 1.3 1.1 1.2 1 1.3 1 1.3 1 1.2 1 1.3 1 1.3 1 1.2 1 1.3 1.1 1.2 1.1 1.3 1.1 1.3 1.3 1.2 1.3 1.3 1.4 1.3 1.5 1.2 1.7 1.3 1.8 1.3 1.9M510.1 32.4l1.3 2.7 1.4 2.7 1.3 2.7 1.3 2.6 1.4 2.7 1.3 2.5 1.3 2.6 1.4 2.5 1.3 2.4 1.3 2.4 1.3 2.3 1.3 2.3 1.4 2.2 1.3 2.1 1.3 2.1 1.3 1.9 1.3 1.9 1.3 1.9 1.2 1.7 1.3 1.7 1.3 1.6 1.3 1.6 1.3 1.4 1.3 1.4 1.2 1.3 1.3 1.3 1.3 1.2 1.3 1.2 1.2 1.1 1.3 1 1.3 1.1 1.2 1 1.3 .9 1.3 1 1.2 .9 1.3 1 1.3 1 1.3 1 1.2 1 1.3 1.1 1.3 1.1 1.2 1.2 1.3 1.3 1.3 1.4 1.2 1.5 1.3 1.6 1.3 1.7 1.2 2M511.8 30.7l1.3 2.6 1.4 2.7 1.3 2.6 1.3 2.7 1.4 2.5 1.3 2.6 1.4 2.5 1.3 2.5 1.3 2.4 1.3 2.3 1.4 2.3 1.3 2.3 1.3 2.1 1.3 2.1 1.3 2 1.3 2 1.3 1.9 1.3 1.8 1.3 1.7 1.3 1.6 1.3 1.6 1.3 1.5 1.2 1.4 1.3 1.4 1.3 1.3 1.3 1.2 1.3 1.2 1.2 1.1 1.3 1.1 1.3 1 1.3 1 1.2 1 1.3 .9 1.3 1 1.3 .9 1.2 .9 1.3 .9 1.3 1 1.3 1 1.2 1 1.3 1.1 1.3 1.2 1.2 1.3 1.3 1.3 1.3 1.5 1.3 1.6 1.2 1.7 1.3 1.9M513.4 28.9l1.4 2.7 1.4 2.6 1.3 2.6 1.3 2.6 1.4 2.5 1.3 2.6 1.4 2.4 1.3 2.5 1.3 2.4 1.4 2.3 1.3 2.2 1.3 2.2 1.3 2.2 1.3 2 1.3 2 1.3 1.9 1.3 1.9 1.3 1.7 1.3 1.7 1.3 1.7 1.3 1.5 1.3 1.5 1.3 1.4 1.3 1.3 1.3 1.3 1.3 1.2 1.3 1.1 1.2 1.1 1.3 1 1.3 1 1.3 1 1.3 .9 1.2 1 1.3 .8 1.3 .9 1.3 .9 1.2 .9 1.3 1 1.3 .9 1.3 1 1.3 1.1 1.2 1.1 1.3 1.3 1.3 1.3 1.3 1.4 1.2 1.6 1.3 1.7 1.3 1.8M515.1 27.2l1.4 2.6 1.4 2.6 1.3 2.6 1.4 2.5 1.3 2.6 1.3 2.5 1.4 2.4 1.3 2.4 1.4 2.4 1.3 2.2 1.3 2.3 1.3 2.1 1.4 2.1 1.3 2.1 1.3 1.9 1.3 1.9 1.3 1.8 1.3 1.8 1.3 1.6 1.3 1.6 1.3 1.5 1.3 1.4 1.3 1.4 1.3 1.3 1.3 1.2 1.3 1.2 1.2 1.1 1.3 1.1 1.3 1 1.3 1 1.3 .9 1.3 .9 1.3 .9 1.2 .9 1.3 .8 1.3 .9 1.3 .8 1.3 .9 1.2 1 1.3 .9 1.3 1.1 1.3 1.1 1.3 1.2 1.3 1.3 1.2 1.4 1.3 1.5 1.3 1.7 1.3 1.8M516.8 25.5l1.4 2.6 1.4 2.6 1.3 2.5 1.4 2.5 1.3 2.5 1.4 2.5 1.3 2.4 1.3 2.4 1.4 2.3 1.3 2.2 1.3 2.2 1.4 2.2 1.3 2 1.3 2 1.3 2 1.3 1.8 1.4 1.8 1.3 1.7 1.3 1.6 1.3 1.6 1.3 1.5 1.3 1.4 1.3 1.3 1.3 1.3 1.3 1.2 1.3 1.1 1.2 1.1 1.3 1 1.3 1 1.3 .9 1.3 .9 1.3 .9 1.3 .9 1.3 .8 1.2 .8 1.3 .8 1.3 .9 1.3 .8 1.3 .9 1.3 1 1.3 1 1.3 1.1 1.2 1.1 1.3 1.3 1.3 1.3 1.3 1.5 1.3 1.7 1.3 1.8M518.6 23.9l1.3 2.5 1.4 2.5 1.3 2.6 1.4 2.5 1.3 2.4 1.4 2.4 1.3 2.4 1.4 2.4 1.3 2.2 1.3 2.3 1.4 2.1 1.3 2.1 1.3 2.1 1.4 1.9 1.3 1.9 1.3 1.8 1.3 1.8 1.3 1.7 1.3 1.6 1.3 1.5 1.3 1.4 1.3 1.4 1.3 1.3 1.3 1.3 1.3 1.1 1.3 1.1 1.3 1.1 1.3 1 1.3 .9 1.3 .9 1.3 .9 1.3 .8 1.3 .9 1.3 .8 1.3 .8 1.3 .8 1.3 .8 1.3 .8 1.2 .9 1.3 .9 1.3 .9 1.3 1.1 1.3 1.1 1.3 1.2 1.3 1.4 1.3 1.4 1.3 1.6 1.3 1.8M520.3 22.3l1.3 2.5 1.4 2.5 1.3 2.5 1.4 2.4 1.4 2.5 1.3 2.3 1.4 2.4 1.3 2.3 1.3 2.3 1.4 2.1 1.3 2.2 1.4 2.1 1.3 2 1.3 1.9 1.3 1.9 1.4 1.7 1.3 1.8 1.3 1.6 1.3 1.6 1.3 1.5 1.3 1.4 1.3 1.3 1.3 1.3 1.3 1.2 1.3 1.1 1.3 1.1 1.3 1 1.3 1 1.3 .9 1.3 .9 1.3 .8 1.3 .8 1.3 .8 1.3 .8 1.3 .8 1.3 .7 1.3 .8 1.3 .8 1.3 .8 1.3 .9 1.3 1 1.3 1 1.3 1.1 1.3 1.1 1.3 1.4 1.3 1.4 1.3 1.6 1.3 1.7M522 20.7l1.3 2.5 1.4 2.5 1.4 2.4 1.3 2.5 1.4 2.4 1.3 2.3 1.4 2.3 1.3 2.3 1.4 2.2 1.3 2.2 1.4 2.1 1.3 2 1.3 2 1.4 1.9 1.3 1.8 1.3 1.8 1.3 1.7 1.4 1.6 1.3 1.5 1.3 1.5 1.3 1.4 1.3 1.3 1.3 1.2 1.3 1.2 1.3 1.1 1.3 1 1.3 1 1.4 1 1.3 .9 1.3 .8 1.3 .8 1.3 .8 1.3 .7 1.3 .8 1.3 .7 1.3 .7 1.3 .8 1.3 .8 1.3 .8 1.3 .8 1.3 .9 1.3 1 1.3 1.1 1.3 1.1 1.3 1.3 1.3 1.4 1.3 1.5 1.3 1.7M523.7 19.2l1.4 2.5 1.3 2.4 1.4 2.5 1.4 2.4 1.3 2.3 1.4 2.4 1.3 2.2 1.4 2.3 1.3 2.2 1.4 2.1 1.3 2.1 1.3 2 1.4 1.9 1.3 1.9 1.3 1.8 1.4 1.7 1.3 1.7 1.3 1.5 1.3 1.5 1.4 1.5 1.3 1.3 1.3 1.3 1.3 1.2 1.3 1.2 1.3 1 1.3 1.1 1.4 .9 1.3 .9 1.3 .9 1.3 .8 1.3 .8 1.3 .7 1.3 .7 1.3 .7 1.3 .7 1.3 .7 1.3 .8 1.3 .7 1.3 .8 1.3 .8 1.3 .9 1.4 .9 1.3 1 1.3 1.2 1.3 1.2 1.3 1.4 1.3 1.5 1.3 1.6M525.4 17.8l1.4 2.5 1.4 2.4 1.3 2.4 1.4 2.3 1.3 2.4 1.4 2.3 1.4 2.2 1.3 2.2 1.4 2.2 1.3 2.1 1.4 2 1.3 2 1.3 1.9 1.4 1.8 1.3 1.8 1.3 1.7 1.4 1.6 1.3 1.6 1.3 1.4 1.4 1.4 1.3 1.4 1.3 1.2 1.3 1.2 1.3 1.1 1.3 1.1 1.4 .9 1.3 1 1.3 .8 1.3 .9 1.3 .7 1.3 .8 1.3 .7 1.3 .7 1.4 .7 1.3 .6 1.3 .7 1.3 .7 1.3 .7 1.3 .7 1.3 .8 1.3 .9 1.3 .9 1.3 1 1.4 1.1 1.3 1.2 1.3 1.3 1.3 1.5 1.3 1.6M527.1 16.5l1.4 2.4 1.4 2.4 1.3 2.3 1.4 2.4 1.4 2.3 1.3 2.3 1.4 2.2 1.4 2.2 1.3 2.1 1.4 2 1.3 2.1 1.4 1.9 1.3 1.9 1.3 1.8 1.4 1.7 1.3 1.7 1.4 1.6 1.3 1.5 1.3 1.4 1.3 1.4 1.4 1.3 1.3 1.2 1.3 1.2 1.3 1 1.4 1.1 1.3 .9 1.3 .9 1.3 .8 1.3 .8 1.3 .8 1.4 .7 1.3 .7 1.3 .6 1.3 .7 1.3 .6 1.3 .7 1.3 .6 1.4 .7 1.3 .7 1.3 .8 1.3 .8 1.3 .9 1.3 .9 1.4 1.1 1.3 1.2 1.3 1.3 1.3 1.4 1.3 1.6M528.9 15.3l1.3 2.3 1.4 2.4 1.4 2.3 1.4 2.3 1.3 2.3 1.4 2.2 1.4 2.2 1.3 2.2 1.4 2.1 1.3 2 1.4 2 1.3 1.9 1.4 1.8 1.3 1.8 1.4 1.7 1.3 1.7 1.3 1.5 1.4 1.5 1.3 1.4 1.3 1.3 1.4 1.3 1.3 1.2 1.3 1.1 1.3 1.1 1.4 .9 1.3 1 1.3 .8 1.3 .8 1.4 .8 1.3 .7 1.3 .7 1.3 .7 1.3 .6 1.4 .6 1.3 .6 1.3 .6 1.3 .7 1.3 .6 1.4 .7 1.3 .7 1.3 .8 1.3 .8 1.3 1 1.4 1 1.3 1.2 1.3 1.2 1.3 1.4 1.3 1.6M530.6 14.1l1.4 2.4 1.3 2.3 1.4 2.3 1.4 2.3 1.4 2.2 1.3 2.2 1.4 2.2 1.4 2.1 1.3 2.1 1.4 2 1.3 1.9 1.4 1.9 1.3 1.8 1.4 1.7 1.3 1.7 1.4 1.6 1.3 1.6 1.4 1.4 1.3 1.4 1.3 1.3 1.4 1.2 1.3 1.2 1.3 1.1 1.4 1 1.3 .9 1.3 .9 1.3 .9 1.4 .8 1.3 .7 1.3 .7 1.3 .6 1.4 .7 1.3 .6 1.3 .5 1.3 .6 1.4 .6 1.3 .6 1.3 .6 1.3 .7 1.4 .6 1.3 .8 1.3 .8 1.3 .9 1.4 1 1.3 1.1 1.3 1.3 1.3 1.4 1.4 1.5M532.3 13.1l1.4 2.3 1.4 2.3 1.4 2.3 1.3 2.2 1.4 2.2 1.4 2.2 1.4 2.1 1.3 2.1 1.4 2 1.3 2 1.4 1.9 1.4 1.9 1.3 1.8 1.4 1.7 1.3 1.6 1.4 1.6 1.3 1.5 1.3 1.4 1.4 1.4 1.3 1.2 1.4 1.2 1.3 1.2 1.3 1 1.4 1 1.3 .9 1.3 .9 1.4 .8 1.3 .8 1.3 .7 1.4 .6 1.3 .6 1.3 .6 1.3 .6 1.4 .6 1.3 .5 1.3 .6 1.4 .5 1.3 .6 1.3 .6 1.4 .7 1.3 .7 1.3 .8 1.3 .9 1.4 .9 1.3 1.1 1.3 1.2 1.4 1.4 1.3 1.5M534.1 12.2l1.3 2.2 1.4 2.3 1.4 2.2 1.4 2.3 1.4 2.1 1.3 2.2 1.4 2.1 1.4 2 1.3 2 1.4 2 1.4 1.9 1.3 1.8 1.4 1.7 1.3 1.7 1.4 1.6 1.3 1.6 1.4 1.5 1.3 1.3 1.4 1.4 1.3 1.2 1.4 1.2 1.3 1.1 1.3 1 1.4 1 1.3 .9 1.4 .8 1.3 .8 1.3 .7 1.4 .7 1.3 .6 1.3 .6 1.4 .5 1.3 .6 1.3 .5 1.4 .5 1.3 .6 1.3 .5 1.4 .5 1.3 .6 1.3 .7 1.4 .7 1.3 .7 1.4 .9 1.3 .9 1.3 1 1.4 1.2 1.3 1.3 1.3 1.5M535.8 11.4l1.4 2.2 1.4 2.2 1.4 2.2 1.3 2.2 1.4 2.2 1.4 2.1 1.4 2.1 1.3 2 1.4 2 1.4 1.9 1.3 1.8 1.4 1.8 1.4 1.7 1.3 1.7 1.4 1.6 1.3 1.5 1.4 1.4 1.3 1.4 1.4 1.3 1.3 1.2 1.4 1.1 1.3 1.1 1.4 1 1.3 .9 1.3 .9 1.4 .8 1.3 .7 1.4 .7 1.3 .7 1.3 .6 1.4 .5 1.3 .6 1.4 .5 1.3 .5 1.3 .5 1.4 .5 1.3 .5 1.4 .5 1.3 .5 1.3 .6 1.4 .7 1.3 .7 1.4 .8 1.3 1 1.3 1 1.4 1.1 1.3 1.3 1.3 1.5M537.5 10.7l1.4 2.2 1.4 2.2 1.4 2.1 1.4 2.2 1.4 2.1 1.4 2.1 1.3 2 1.4 2 1.4 2 1.4 1.9 1.3 1.8 1.4 1.8 1.4 1.7 1.3 1.6 1.4 1.5 1.3 1.5 1.4 1.4 1.3 1.4 1.4 1.2 1.3 1.2 1.4 1.1 1.3 1.1 1.4 .9 1.3 .9 1.4 .9 1.3 .7 1.4 .7 1.3 .7 1.4 .6 1.3 .6 1.3 .5 1.4 .5 1.3 .5 1.4 .5 1.3 .4 1.4 .5 1.3 .5 1.4 .5 1.3 .5 1.3 .6 1.4 .6 1.3 .7 1.4 .8 1.3 .9 1.4 .9 1.3 1.2 1.3 1.2 1.4 1.4M539.3 10.1l1.4 2.2 1.4 2.1 1.4 2.2 1.4 2.1 1.3 2.1 1.4 2 1.4 2.1 1.4 1.9 1.4 1.9 1.3 1.9 1.4 1.8 1.4 1.7 1.3 1.7 1.4 1.6 1.4 1.5 1.3 1.5 1.4 1.3 1.3 1.3 1.4 1.3 1.3 1.1 1.4 1.1 1.4 1 1.3 1 1.4 .8 1.3 .8 1.4 .8 1.3 .7 1.4 .6 1.3 .6 1.4 .5 1.3 .5 1.3 .5 1.4 .5 1.3 .4 1.4 .4 1.3 .5 1.4 .4 1.3 .5 1.4 .5 1.3 .5 1.4 .6 1.3 .7 1.4 .7 1.3 .9 1.4 .9 1.3 1.1 1.4 1.3 1.3 1.3M541 9.6l1.4 2.2 1.4 2.1 1.4 2.1 1.4 2.1 1.4 2.1 1.4 2 1.4 2 1.4 1.9 1.3 1.9 1.4 1.8 1.4 1.8 1.4 1.7 1.3 1.7 1.4 1.5 1.4 1.5 1.3 1.4 1.4 1.4 1.3 1.3 1.4 1.2 1.4 1.1 1.3 1 1.4 1 1.3 .9 1.4 .9 1.3 .8 1.4 .7 1.3 .6 1.4 .6 1.4 .6 1.3 .5 1.4 .5 1.3 .4 1.4 .5 1.3 .4 1.4 .4 1.3 .4 1.4 .4 1.3 .4 1.4 .5 1.3 .5 1.4 .6 1.4 .6 1.3 .7 1.4 .8 1.3 1 1.4 1 1.3 1.2 1.4 1.4M542.8 9.3l1.4 2.1 1.4 2.1 1.4 2.1 1.4 2.1 1.4 2 1.4 2 1.3 2 1.4 1.9 1.4 1.8 1.4 1.8 1.4 1.8 1.3 1.6 1.4 1.6 1.4 1.6 1.4 1.5 1.3 1.4 1.4 1.3 1.4 1.2 1.3 1.2 1.4 1.1 1.3 1 1.4 1 1.4 .9 1.3 .8 1.4 .7 1.3 .7 1.4 .6 1.3 .6 1.4 .5 1.4 .5 1.3 .5 1.4 .4 1.3 .4 1.4 .4 1.4 .3 1.3 .4 1.4 .4 1.3 .4 1.4 .4 1.3 .5 1.4 .6 1.4 .6 1.3 .7 1.4 .8 1.3 .9 1.4 1 1.3 1.2 1.4 1.3M544.6 9.1l1.4 2.1 1.4 2.1 1.4 2 1.3 2.1 1.4 2 1.4 1.9 1.4 2 1.4 1.8 1.4 1.9 1.4 1.7 1.4 1.8 1.3 1.6 1.4 1.6 1.4 1.5 1.4 1.4 1.3 1.4 1.4 1.3 1.4 1.2 1.3 1.2 1.4 1 1.4 1 1.3 .9 1.4 .9 1.3 .8 1.4 .7 1.4 .7 1.3 .6 1.4 .5 1.4 .5 1.3 .5 1.4 .4 1.3 .4 1.4 .3 1.4 .4 1.3 .3 1.4 .4 1.4 .3 1.3 .4 1.4 .4 1.4 .5 1.3 .5 1.4 .6 1.3 .7 1.4 .7 1.4 .9 1.3 1 1.4 1.1 1.3 1.3M546.3 9l1.4 2.1 1.4 2 1.4 2.1 1.4 2 1.4 2 1.4 1.9 1.4 1.9 1.4 1.9 1.4 1.8 1.4 1.7 1.3 1.7 1.4 1.6 1.4 1.6 1.4 1.4 1.4 1.4 1.3 1.4 1.4 1.2 1.4 1.2 1.3 1.2 1.4 1 1.4 1 1.3 .9 1.4 .8 1.4 .7 1.3 .7 1.4 .7 1.4 .5 1.3 .6 1.4 .4 1.4 .5 1.3 .4 1.4 .3 1.4 .4 1.3 .3 1.4 .3 1.4 .3 1.4 .3 1.3 .4 1.4 .4 1.4 .4 1.3 .5 1.4 .5 1.4 .7 1.3 .7 1.4 .9 1.4 .9 1.3 1.1 1.4 1.3M548.1 9.1l1.4 2 1.4 2.1 1.4 2 1.4 1.9 1.4 2 1.4 1.9 1.4 1.9 1.4 1.8 1.4 1.8 1.3 1.7 1.4 1.6 1.4 1.6 1.4 1.6 1.4 1.4 1.4 1.4 1.3 1.3 1.4 1.2 1.4 1.2 1.4 1.1 1.3 1 1.4 1 1.4 .8 1.3 .8 1.4 .8 1.4 .6 1.4 .6 1.3 .6 1.4 .5 1.4 .4 1.3 .4 1.4 .4 1.4 .3 1.4 .3 1.3 .3 1.4 .3 1.4 .3 1.3 .3 1.4 .3 1.4 .4 1.4 .4 1.3 .4 1.4 .6 1.4 .6 1.4 .7 1.3 .8 1.4 .9 1.4 1.1 1.3 1.2M549.8 9.3l1.4 2 1.5 2 1.4 2 1.4 1.9 1.4 2 1.4 1.9 1.4 1.8 1.3 1.8 1.4 1.7 1.4 1.7 1.4 1.6 1.4 1.6 1.4 1.5 1.4 1.4 1.4 1.4 1.3 1.3 1.4 1.2 1.4 1.1 1.4 1.1 1.3 1 1.4 .9 1.4 .8 1.4 .8 1.4 .7 1.3 .6 1.4 .6 1.4 .5 1.3 .5 1.4 .4 1.4 .4 1.4 .3 1.4 .3 1.3 .3 1.4 .3 1.4 .3 1.4 .2 1.3 .3 1.4 .3 1.4 .3 1.4 .4 1.3 .4 1.4 .5 1.4 .6 1.4 .7 1.3 .8 1.4 .9 1.4 1 1.4 1.2M551.6 9.6l1.4 2 1.4 2 1.4 2 1.4 1.9 1.4 1.9 1.4 1.8 1.4 1.9 1.4 1.7 1.4 1.7 1.4 1.7 1.4 1.6 1.4 1.5 1.4 1.5 1.4 1.4 1.4 1.3 1.3 1.3 1.4 1.2 1.4 1.1 1.4 1 1.4 1 1.3 .9 1.4 .8 1.4 .7 1.4 .7 1.4 .6 1.3 .6 1.4 .5 1.4 .4 1.4 .4 1.4 .3 1.3 .3 1.4 .3 1.4 .3 1.4 .2 1.4 .3 1.3 .2 1.4 .2 1.4 .3 1.4 .3 1.4 .4 1.4 .4 1.3 .4 1.4 .6 1.4 .6 1.4 .8 1.4 .9 1.3 1 1.4 1.2M553.4 10.1l1.4 2 1.4 1.9 1.4 2 1.4 1.9 1.4 1.8 1.4 1.9 1.4 1.7 1.4 1.8 1.4 1.7 1.4 1.6 1.4 1.6 1.4 1.5 1.4 1.4 1.4 1.4 1.4 1.3 1.4 1.2 1.3 1.2 1.4 1.1 1.4 1 1.4 .9 1.4 .9 1.4 .8 1.3 .7 1.4 .6 1.4 .6 1.4 .6 1.4 .4 1.4 .4 1.3 .4 1.4 .3 1.4 .3 1.4 .3 1.4 .2 1.4 .2 1.3 .2 1.4 .2 1.4 .2 1.4 .3 1.4 .3 1.4 .3 1.4 .4 1.4 .4 1.3 .5 1.4 .6 1.4 .8 1.4 .8 1.4 1 1.3 1.2M555.1 10.7l1.4 2 1.5 1.9 1.4 1.9 1.4 1.9 1.4 1.8 1.4 1.8 1.4 1.8 1.4 1.7 1.4 1.7 1.4 1.6 1.4 1.5 1.4 1.5 1.4 1.4 1.4 1.4 1.4 1.2 1.4 1.2 1.3 1.2 1.4 1 1.4 1 1.4 .9 1.4 .9 1.4 .7 1.4 .7 1.4 .6 1.3 .6 1.4 .5 1.4 .4 1.4 .4 1.4 .4 1.4 .3 1.4 .2 1.4 .2 1.3 .2 1.4 .2 1.4 .2 1.4 .2 1.4 .2 1.4 .2 1.4 .3 1.4 .2 1.4 .4 1.4 .4 1.4 .5 1.3 .6 1.4 .7 1.4 .8 1.4 1 1.4 1.1M556.9 11.5l1.4 1.9 1.4 1.9 1.4 1.9 1.5 1.8 1.4 1.8 1.4 1.8 1.4 1.8 1.4 1.6 1.4 1.7 1.4 1.6 1.4 1.5 1.4 1.4 1.4 1.4 1.4 1.4 1.4 1.2 1.4 1.2 1.4 1.1 1.3 1 1.4 1 1.4 .9 1.4 .8 1.4 .7 1.4 .7 1.4 .6 1.4 .5 1.4 .5 1.4 .4 1.4 .4 1.3 .3 1.4 .2 1.4 .3 1.4 .2 1.4 .1 1.4 .2 1.4 .2 1.4 .1 1.4 .2 1.4 .2 1.4 .2 1.4 .3 1.4 .3 1.4 .4 1.4 .5 1.4 .5 1.4 .7 1.3 .8 1.4 .9 1.4 1.1M558.7 12.4l1.4 1.9 1.4 1.8 1.4 1.9 1.4 1.8 1.4 1.8 1.5 1.8 1.4 1.7 1.4 1.6 1.4 1.7 1.4 1.5 1.4 1.5 1.4 1.4 1.4 1.4 1.4 1.3 1.4 1.2 1.4 1.2 1.4 1.1 1.4 1 1.4 .9 1.3 .8 1.4 .8 1.4 .7 1.4 .7 1.4 .6 1.4 .5 1.4 .4 1.4 .4 1.4 .3 1.4 .3 1.4 .3 1.4 .2 1.4 .2 1.4 .1 1.4 .1 1.4 .2 1.4 .1 1.4 .1 1.4 .2 1.4 .2 1.4 .2 1.4 .3 1.4 .4 1.4 .5 1.4 .5 1.4 .6 1.4 .8 1.4 .9 1.3 1.1M560.4 13.4l1.4 1.9 1.5 1.8 1.4 1.8 1.4 1.8 1.4 1.8 1.4 1.7 1.4 1.7 1.4 1.7 1.5 1.6 1.4 1.5 1.4 1.5 1.4 1.4 1.4 1.3 1.4 1.3 1.4 1.2 1.4 1.1 1.4 1.1 1.4 .9 1.4 .9 1.4 .9 1.4 .7 1.4 .7 1.4 .6 1.4 .6 1.4 .5 1.4 .4 1.3 .4 1.4 .3 1.4 .2 1.4 .2 1.5 .2 1.4 .2 1.4 .1 1.4 .1 1.4 .1 1.4 .1 1.4 .2 1.4 .1 1.4 .2 1.4 .2 1.4 .2 1.4 .4 1.4 .4 1.4 .5 1.4 .6 1.4 .8 1.4 .9 1.4 1M562.2 14.6l1.4 1.8 1.4 1.8 1.5 1.8 1.4 1.8 1.4 1.8 1.4 1.7 1.4 1.6 1.4 1.6 1.4 1.6 1.4 1.5 1.5 1.4 1.4 1.4 1.4 1.3 1.4 1.3 1.4 1.2 1.4 1.1 1.4 1 1.4 1 1.4 .8 1.4 .8 1.4 .8 1.4 .6 1.4 .6 1.4 .6 1.4 .4 1.4 .4 1.4 .4 1.4 .2 1.4 .3M604.4 47.4l1.4 .1 1.4 .2 1.4 .1 1.4 0 1.4 .1 1.4 .1 1.5 .1 1.4 .1 1.4 .2 1.4 .2 1.4 .2 1.4 .3 1.4 .4 1.4 .5 1.4 .6 1.4 .7 1.4 .9 1.4 1M564 15.9l1.4 1.8 1.4 1.8 1.4 1.8 1.4 1.7 1.5 1.7 1.4 1.7 1.4 1.7 1.4 1.5 1.4 1.6 1.4 1.5 1.4 1.4 1.5 1.3 1.4 1.3 1.4 1.3 1.4 1.1 1.4 1.1 1.4 1 1.4 .9 1.4 .9 1.4 .8 1.4 .7 1.4 .6 1.4 .6 1.4 .5 1.4 .4M614.7 48.4l1.4 .1M617.5 48.6l1.5 .1 1.4 .2 1.4 .2 1.4 .3 1.4 .4 1.4 .4 1.4 .6 1.4 .7 1.4 .8 1.4 1M565.7 17.3l1.4 1.8 1.5 1.8 1.4 1.7 1.4 1.7 1.4 1.7 1.5 1.7 1.4 1.6 1.4 1.6 1.4 1.5 1.4 1.4 1.4 1.4 1.4 1.4 1.5 1.2 1.4 1.2 1.4 1.2 1.4 1 1.4 1 1.4 .9 1.4 .8 1.4 .8 1.4 .7 1.4 .6M622.3 49.3l1.4 .2 1.4 .3 1.4 .3 1.4 .5 1.4 .5 1.4 .7 1.4 .8 1.5 1M567.5 18.9l1.4 1.7 1.4 1.8 1.5 1.7 1.4 1.7 1.4 1.7 1.4 1.6 1.4 1.6 1.5 1.5 1.4 1.5 1.4 1.5 1.4 1.3 1.4 1.4 1.4 1.2 1.5 1.2 1.4 1.1 1.4 1 1.4 1 1.4 .8 1.4 .9 1.4 .7M625.6 50.1l1.4 .3 1.4 .3 1.4 .4 1.4 .5 1.5 .7 1.4 .7 1.4 1M569.2 20.6l1.5 1.7 1.4 1.7 1.4 1.7 1.5 1.7 1.4 1.6 1.4 1.7 1.4 1.5 1.4 1.5 1.5 1.5 1.4 1.4 1.4 1.4 1.4 1.3 1.4 1.2 1.4 1.1 1.5 1.1 1.4 1 1.4 .9M627.5 50.9l1.4 .2 1.4 .3 1.4 .3 1.4 .5 1.5 .7 1.4 .7 1.4 .9M571 22.4l1.4 1.7 1.5 1.7 1.4 1.7 1.4 1.6 1.4 1.6 1.5 1.6 1.4 1.6 1.4 1.5 1.4 1.4 1.5 1.4 1.4 1.3 1.4 1.3 1.4 1.2 1.4 1.1 1.4 1.1M632.2 52.2l1.4 .3 1.4 .5 1.5 .6 1.4 .7 1.4 .9M572.7 24.3l1.5 1.7 1.4 1.6 1.4 1.7 1.5 1.6 1.4 1.6 1.4 1.6 1.5 1.5 1.4 1.5 1.4 1.4 1.4 1.4 1.4 1.3 1.5 1.2 1.4 1.2M635.5 53.5l1.4 .4 1.5 .6 1.4 .7 1.4 .8M574.5 26.3l1.4 1.7 1.5 1.6 1.4 1.7 1.4 1.6 1.5 1.6 1.4 1.5 1.4 1.5 1.4 1.4 1.5 1.4 1.4 1.4 1.4 1.3M621.6 54.1l1.4-.1 1.5-.1 1.4 0 1.4-.1 1.5-.1 1.4 0 1.4 0 1.5 .1 1.4 .2 1.5 .2 1.4 .3 1.4 .4 1.4 .6 1.5 .7 1.4 .8M576.2 28.4l1.5 1.7 1.4 1.6 1.5 1.6 1.4 1.6 1.4 1.6 1.5 1.5 1.4 1.5 1.4 1.4M617.7 55.7l1.4 0 1.4-.1 1.5 0 1.4-.1 1.5-.1 1.4-.1 1.4-.1 1.5-.1 1.4-.1 1.5 0 1.4 0 1.5 0 1.4 .2 1.4 .2 1.5 .3 1.4 .4 1.4 .5 1.5 .6 1.4 .9M579.4 32.3l1.5 1.6 1.4 1.6 1.4 1.6M615.2 57l1.4 .2 1.5 0 1.4 .1 1.4 0 1.5-.1 1.4-.1 1.5-.1 1.4-.1 1.4-.1 1.5-.1 1.4-.2 1.5-.1 1.4 0 1.5 0 1.4 0 1.5 .1 1.4 .2 1.4 .2 1.5 .4 1.4 .5 1.5 .7 1.4 .7M612.7 58.1l1.4 .3 1.4 .2 1.5 .2 1.4 .1 1.5 .1 1.4 0 1.4 0 1.5-.1 1.4-.1 1.5-.1 1.4-.2 1.5-.1 1.4-.2 1.5-.1 1.4-.1 1.5-.1 1.4-.1 1.5 0 1.4 .1 1.5 .2 1.4 .2 1.5 .4 1.4 .5 1.4 .6 1.5 .7M611.6 59.3l1.4 .4 1.5 .4 1.4 .2 1.4 .2 1.5 .2 1.4 .1 1.5 0 1.4 0 1.5-.1 1.4 0 1.5-.2 1.4-.1 1.5-.2 1.4-.1 1.5-.2 1.4-.2 1.5-.1 1.4-.1 1.5-.1 1.4 0 1.5 .1 1.4 .1 1.5 .2 1.4 .3 1.5 .5 1.4 .6 1.4 .7M610.5 60.4l1.4 .5 1.5 .5 1.4 .4 1.4 .3 1.5 .2 1.4 .2 1.5 .2 1.4 0 1.5 0 1.4 0 1.5-.1 1.4-.1 1.5-.1 1.4-.2 1.5-.2 1.4-.2 1.5-.2 1.4-.1 1.5-.2 1.5-.1 1.4-.1 1.5-.1 1.4 .1 1.5 .1 1.4 .2 1.5 .3 1.4 .4 1.5 .6 1.4 .7M609.4 61.3l1.4 .7 1.5 .6 1.4 .5 1.4 .4 1.5 .4 1.4 .3 1.5 .2 1.4 .2 1.5 .1 1.4 .1 1.5-.1 1.4 0 1.5-.1 1.4-.1 1.5-.2 1.4-.2 1.5-.2 1.4-.2 1.5-.2 1.5-.2 1.4-.2 1.5-.2 1.5-.1 1.4 0 1.5 0 1.4 .1 1.5 .2 1.4 .2 1.5 .5 1.4 .5 1.5 .7M608.3 62.1l1.4 .8 1.4 .7 1.5 .7 1.4 .5 1.5 .5 1.4 .4 1.4 .4 1.5 .3 1.4 .2 1.5 .1 1.4 .1 1.5 .1 1.4-.1 1.5 0 1.5-.2 1.4-.1 1.5-.2 1.4-.2 1.5-.2 1.5-.3 1.4-.2 1.5-.2 1.5-.2 1.4-.2 1.5-.1 1.5-.1 1.4 0 1.5 0 1.4 .2 1.5 .3 1.4 .4 1.5 .5 1.4 .7M607.1 62.8l1.5 .9 1.4 .8 1.4 .8 1.5 .7 1.4 .6 1.5 .6 1.4 .4 1.5 .4 1.4 .4 1.5 .2 1.4 .2 1.5 .2 1.4 0 1.5 0 1.4 0 1.5-.1 1.4-.2 1.5-.1 1.5-.2 1.4-.3 1.5-.2 1.5-.3 1.4-.2 1.5-.3 1.5-.2 1.4-.2 1.5-.1 1.5-.1 1.4-.1 1.5 .1 1.5 .1 1.4 .3 1.5 .3 1.4 .5 1.5 .7M606 63.3l1.4 1 1.5 1 1.4 .9 1.4 .8 1.5 .8 1.4 .6 1.5 .6 1.4 .6 1.5 .4 1.4 .4 1.5 .3 1.4 .2 1.5 .2 1.4 .1 1.5 .1 1.4 0 1.5-.1 1.5-.1 1.4-.2 1.5-.2 1.5-.2 1.4-.3 1.5-.2 1.5-.3 1.4-.3 1.5-.2 1.5-.3 1.5-.2 1.4-.2 1.5-.1 1.5 0 1.4 0 1.5 .1 1.5 .2 1.4 .4 1.5 .5 1.4 .6M604.8 63.7l1.5 1.1 1.4 1.1 1.4 1 1.5 .9 1.4 .9 1.5 .8 1.4 .8 1.5 .6 1.4 .6 1.5 .5 1.4 .4 1.5 .4 1.4 .3 1.5 .2 1.4 .2 1.5 0 1.5 .1 1.4-.1 1.5 0 1.4-.2 1.5-.2 1.5-.2 1.5-.2 1.4-.3 1.5-.3 1.5-.3 1.4-.3 1.5-.3 1.5-.2 1.5-.3 1.5-.2 1.4-.1 1.5-.1 1.5 0 1.4 .1 1.5 .2 1.5 .4 1.4 .4 1.5 .6M605.1 65.2l1.4 1.2 1.5 1.1 1.4 1 1.5 1 1.4 1 1.5 .8 1.4 .8 1.5 .7 1.4 .6 1.5 .6 1.4 .5 1.5 .4 1.4 .3 1.5 .3 1.4 .2 1.5 .1 1.5 .1 1.4 0 1.5 0 1.4-.1 1.5-.2 1.5-.2 1.5-.2 1.4-.3 1.5-.3 1.5-.3 1.5-.3 1.4-.3 1.5-.3 1.5-.3 1.5-.3 1.5-.2 1.4-.2 1.5-.1 1.5 0 1.5 .1 1.4 .2 1.5 .3 1.5 .4 1.4 .6M603.9 65.5l1.5 1.2 1.4 1.2 1.5 1.2 1.4 1.1 1.4 1 1.5 1 1.4 .9 1.5 .8 1.4 .8 1.5 .7 1.4 .6 1.5 .5 1.4 .5 1.5 .4 1.5 .3 1.4 .3 1.5 .1 1.4 .1 1.5 .1 1.5 0 1.4-.1 1.5-.1 1.5-.2 1.5-.2 1.4-.3 1.5-.3 1.5-.3 1.5-.3 1.5-.3 1.4-.4 1.5-.3 1.5-.3 1.5-.3 1.5-.2 1.5-.2 1.4-.1 1.5 0 1.5 0 1.5 .2 1.4 .2 1.5 .5 1.5 .5M602.7 65.7l1.5 1.3 1.4 1.3 1.5 1.2 1.4 1.2 1.5 1.1 1.4 1.1 1.5 1 1.4 .9 1.5 .9 1.4 .8 1.5 .8 1.4 .7 1.5 .6 1.4 .5 1.5 .4 1.4 .4 1.5 .3 1.5 .2 1.4 .2 1.5 .1 1.4 0 1.5 0 1.5-.1 1.5-.2 1.4-.2 1.5-.2 1.5-.3 1.5-.3 1.5-.3 1.4-.4 1.5-.3 1.5-.4 1.5-.3 1.5-.3 1.5-.3 1.5-.3 1.5-.2 1.4-.1 1.5-.1 1.5 0 1.5 .2 1.5 .2 1.4 .4 1.5 .6M603 67.2l1.4 1.3 1.5 1.3 1.4 1.3 1.5 1.2 1.4 1.1 1.5 1.2 1.4 1 1.5 1 1.4 .9 1.5 .9 1.4 .8 1.5 .7 1.4 .7 1.5 .5 1.4 .5 1.5 .5 1.5 .3 1.4 .3 1.5 .2 1.5 .1 1.4 .1 1.5 0 1.5 0 1.4-.1 1.5-.2 1.5-.2 1.5-.3 1.5-.3 1.4-.3 1.5-.4 1.5-.3 1.5-.4 1.5-.4 1.5-.3 1.5-.4 1.5-.3 1.5-.3 1.5-.2 1.4-.2 1.5-.1 1.5 .1 1.5 .1 1.5 .2 1.5 .4 1.4 .5M601.7 67.4l1.5 1.3 1.4 1.4 1.5 1.3 1.5 1.2 1.4 1.3 1.5 1.2 1.4 1.1 1.5 1.1 1.4 1 1.5 1 1.4 .9 1.5 .8 1.4 .8 1.5 .7 1.4 .7 1.5 .5 1.5 .5 1.4 .4 1.5 .3 1.4 .3 1.5 .2 1.5 .1 1.5 .1 1.4-.1 1.5 0 1.5-.2 1.5-.1 1.4-.3 1.5-.3 1.5-.3 1.5-.3 1.5-.4 1.5-.4 1.5-.4 1.5-.4 1.5-.4 1.5-.3 1.5-.4 1.5-.3 1.5-.2 1.4-.2 1.5-.1 1.5 0 1.5 .1 1.5 .2 1.5 .3 1.4 .5M602 68.9l1.4 1.4 1.5 1.3 1.4 1.3 1.5 1.3 1.4 1.3 1.5 1.2 1.4 1.1 1.5 1.2 1.5 1 1.4 1 1.5 1 1.4 .9 1.5 .8 1.4 .7 1.5 .7 1.4 .6 1.5 .6 1.5 .4 1.4 .4 1.5 .3 1.5 .3 1.4 .2 1.5 .1 1.5 0 1.5 0 1.4-.1 1.5-.2 1.5-.2 1.5-.3 1.5-.3 1.5-.3 1.5-.4 1.5-.4 1.5-.4 1.5-.4 1.5-.4 1.5-.4 1.5-.4 1.5-.4 1.5-.3 1.4-.2 1.5-.2 1.5-.2 1.5 0 1.5 .1 1.5 .2 1.5 .3 1.5 .5M603.6 71.8l1.5 1.3 1.5 1.4 1.4 1.2 1.5 1.3 1.4 1.2 1.5 1.2 1.4 1.2 1.5 1.1 1.4 1 1.5 1 1.5 .9 1.4 .9 1.5 .8 1.4 .7 1.5 .7 1.5 .6 1.4 .5 1.5 .5 1.4 .3 1.5 .3 1.5 .2 1.5 .2 1.4 .1 1.5 0 1.5-.1 1.5-.1 1.5-.2 1.4-.2 1.5-.3 1.5-.3 1.5-.3 1.5-.4 1.5-.4 1.5-.5 1.5-.4 1.5-.4 1.5-.5 1.5-.4 1.5-.4 1.5-.3 1.5-.3 1.5-.2 1.5-.2 1.5 0 1.5 0 1.5 .2 1.5 .3 1.5 .5" fill="none" stroke="#000" stroke-width="0.9" stroke-linejoin="round"/>
</g>
<path d="M493.2 49.4C494.5 47.5 498.2 41.7 500.9 38.2C503.5 34.6 506.3 31.1 509.0 28.0C511.7 25.0 514.4 22.2 517.1 19.9C519.9 17.6 522.3 15.8 525.3 14.2C528.4 12.7 532.4 11.4 535.5 10.7C538.6 10.0 541.0 9.9 543.7 10.1C546.5 10.3 549.2 10.6 552.0 11.7C554.7 12.9 557.4 15.0 560.1 16.9C562.8 18.7 565.5 21.0 568.1 23.0C570.8 25.0 573.2 27.0 576.2 29.0C579.3 31.0 583.0 33.0 586.4 35.1C589.8 37.1 593.1 39.5 596.5 41.1C599.8 42.8 604.9 44.5 606.5 45.1L604.9 49.2C603.2 48.5 598.1 46.6 594.7 44.7C591.3 42.9 587.9 40.3 584.6 38.1C581.2 36.0 577.4 33.9 574.3 31.8C571.3 29.7 568.9 27.6 566.2 25.5C563.5 23.5 560.9 21.3 558.3 19.5C555.7 17.7 553.2 15.7 550.7 14.7C548.3 13.7 545.9 13.4 543.5 13.3C541.1 13.2 539.0 13.2 536.2 13.8C533.4 14.5 529.6 15.7 526.8 17.1C523.9 18.5 521.7 20.1 519.1 22.2C516.4 24.3 513.7 26.9 510.9 29.8C508.2 32.6 505.2 35.9 502.4 39.3C499.6 42.6 495.3 48.1 493.9 49.9Z" fill="#000"/>
<text transform="translate(488.3 18.2) rotate(0.0) scale(0.96 1)" font-size="7.1" text-anchor="end">25.6</text>
<text transform="translate(489.3 42.6) rotate(0.0) scale(0.96 1)" font-size="7.1" text-anchor="end">24.725</text>
<text transform="translate(490.2 66.0) rotate(0.0) scale(0.96 1)" font-size="7.1" text-anchor="end">23.85</text>
<text transform="translate(491.1 89.5) rotate(0.0) scale(0.96 1)" font-size="7.1" text-anchor="end">22.975</text>
<text transform="translate(492.0 112.9) rotate(0.0) scale(0.96 1)" font-size="7.1" text-anchor="end">22.1</text>
<text transform="translate(463.0 78.0) rotate(-90) scale(1 .8)" font-size="9.4" text-anchor="middle"><tspan font-size="12">σ</tspan><tspan font-size="8" dy="2.2">ash</tspan><tspan dy="-2.2"> (%)</tspan></text>
<text transform="translate(486.6 144.0) rotate(0.0) scale(0.96 1)" font-size="7.1" text-anchor="middle">90.00</text>
<text transform="translate(500.6 155.4) rotate(0.0) scale(0.96 1)" font-size="7.1" text-anchor="middle">95.00</text>
<text transform="translate(513.2 166.3) rotate(0.0) scale(0.96 1)" font-size="7.1" text-anchor="middle">100.00</text>
<text transform="translate(527.2 176.9) rotate(0.0) scale(0.96 1)" font-size="7.1" text-anchor="middle">105.00</text>
<text transform="translate(541.0 188.3) rotate(0.0) scale(0.96 1)" font-size="7.1" text-anchor="middle">110.00</text>
<text transform="translate(565.1 187.8) rotate(0.0) scale(0.96 1)" font-size="7.1" text-anchor="middle">60.00</text>
<text transform="translate(593.0 180.7) rotate(0.0) scale(0.96 1)" font-size="7.1" text-anchor="middle">70.00</text>
<text transform="translate(623.4 173.9) rotate(0.0) scale(0.96 1)" font-size="7.1" text-anchor="middle">80.00</text>
<text transform="translate(653.7 167.3) rotate(0.0) scale(0.96 1)" font-size="7.1" text-anchor="middle">90.00</text>
<text transform="translate(685.4 161.2) rotate(0.0) scale(0.96 1)" font-size="7.1" text-anchor="middle">100.00</text>
<text transform="translate(498.3 173.6) rotate(39.0) scale(0.88 1)" font-size="9.9" text-anchor="middle">A: Inlet temperature (°C)</text>
<text transform="translate(624.6 185.6) rotate(-14.0) scale(0.88 1)" font-size="9.9" text-anchor="middle">D: Bed height(mm)</text>
<text transform="translate(649.6 36.8) rotate(0.0) scale(1.00 1)" font-size="22" text-anchor="middle" font-weight="bold">c</text>
<polygon points="32.5,219.6 145.5,209.2 145.0,324.0 36.8,343.8" class="w"/>
<polygon points="145.5,209.2 218.4,228.9 213.5,361.2 145.0,324.0" class="w"/>
<polygon points="36.8,343.8 145.0,324.0 213.5,361.2 94.4,388.2" class="w"/>
<clipPath id="fd"><polygon points="36.8,343.8 145.0,324.0 213.5,361.2 94.4,388.2"/></clipPath><g clip-path="url(#fd)">
<ellipse cx="116.3" cy="354.0" rx="54.4" ry="22.1" class="c" transform="rotate(-2.0 116.3 354.0)"/>
<ellipse cx="116.3" cy="354.0" rx="45.5" ry="17.3" class="c" transform="rotate(-2.0 116.3 354.0)"/>
<ellipse cx="116.3" cy="354.0" rx="35.6" ry="12.7" class="c" transform="rotate(-2.0 116.3 354.0)"/>
<ellipse cx="116.3" cy="354.0" rx="20.8" ry="7.2" class="c" transform="rotate(-2.0 116.3 354.0)"/>
</g>
<line x1="36.8" y1="343.8" x2="35.4" y2="344.9" class="t"/>
<line x1="51.2" y1="354.9" x2="49.8" y2="356.0" class="t"/>
<line x1="65.6" y1="366.0" x2="64.2" y2="367.1" class="t"/>
<line x1="80.0" y1="377.1" x2="78.6" y2="378.2" class="t"/>
<line x1="94.4" y1="388.2" x2="93.0" y2="389.3" class="t"/>
<line x1="94.4" y1="388.2" x2="94.8" y2="390.0" class="t"/>
<line x1="124.2" y1="381.4" x2="124.5" y2="383.2" class="t"/>
<line x1="153.9" y1="374.7" x2="154.3" y2="376.5" class="t"/>
<line x1="183.7" y1="367.9" x2="184.1" y2="369.8" class="t"/>
<line x1="213.5" y1="361.2" x2="213.9" y2="363.0" class="t"/>
<line x1="32.5" y1="219.8" x2="30.5" y2="219.8" class="t"/>
<line x1="33.3" y1="243.3" x2="31.3" y2="243.3" class="t"/>
<line x1="34.1" y1="266.7" x2="32.1" y2="266.7" class="t"/>
<line x1="34.9" y1="290.2" x2="32.9" y2="290.2" class="t"/>
<line x1="35.8" y1="314.2" x2="33.8" y2="314.2" class="t"/>
<clipPath id="csd"><path d="M35.0 290.0C36.5 287.4 40.2 279.8 43.8 274.3C47.3 268.8 51.6 262.5 56.3 257.0C61.0 251.5 66.8 245.5 72.0 241.3C77.2 237.1 82.5 234.5 87.7 232.0C92.9 229.5 98.2 227.5 103.4 226.3C108.6 225.1 113.8 224.7 119.0 225.0C124.2 225.3 129.5 226.3 134.7 228.2C139.9 230.1 145.2 232.8 150.4 236.6C155.6 240.4 160.8 245.3 166.0 250.8C171.2 256.3 176.5 262.3 181.7 269.6C186.9 276.9 193.2 287.8 197.4 294.6C201.6 301.4 203.9 305.1 206.8 310.3C209.7 315.5 213.4 323.4 214.7 326.0C211.8 322.6 202.9 311.6 197.4 305.6C191.9 299.6 186.9 294.4 181.7 290.0C176.5 285.6 171.2 281.6 166.0 279.0C160.8 276.4 155.6 274.6 150.4 274.3C145.2 274.0 139.9 275.3 134.7 277.4C129.5 279.5 124.2 282.9 119.0 286.8C113.8 290.7 107.8 296.5 103.4 300.9C99.0 305.3 94.2 311.3 92.4 313.4C90.6 310.3 85.3 300.6 81.4 294.6C77.5 288.6 72.6 281.6 68.9 277.4C65.2 273.2 62.1 270.8 59.5 269.6C56.9 268.4 55.8 268.9 53.2 270.2C50.6 271.5 46.8 274.1 43.8 277.4C40.8 280.7 36.5 287.9 35.0 290.0Z"/></clipPath>
<path d="M35.0 290.0C36.5 287.4 40.2 279.8 43.8 274.3C47.3 268.8 51.6 262.5 56.3 257.0C61.0 251.5 66.8 245.5 72.0 241.3C77.2 237.1 82.5 234.5 87.7 232.0C92.9 229.5 98.2 227.5 103.4 226.3C108.6 225.1 113.8 224.7 119.0 225.0C124.2 225.3 129.5 226.3 134.7 228.2C139.9 230.1 145.2 232.8 150.4 236.6C155.6 240.4 160.8 245.3 166.0 250.8C171.2 256.3 176.5 262.3 181.7 269.6C186.9 276.9 193.2 287.8 197.4 294.6C201.6 301.4 203.9 305.1 206.8 310.3C209.7 315.5 213.4 323.4 214.7 326.0C211.8 322.6 202.9 311.6 197.4 305.6C191.9 299.6 186.9 294.4 181.7 290.0C176.5 285.6 171.2 281.6 166.0 279.0C160.8 276.4 155.6 274.6 150.4 274.3C145.2 274.0 139.9 275.3 134.7 277.4C129.5 279.5 124.2 282.9 119.0 286.8C113.8 290.7 107.8 296.5 103.4 300.9C99.0 305.3 94.2 311.3 92.4 313.4C90.6 310.3 85.3 300.6 81.4 294.6C77.5 288.6 72.6 281.6 68.9 277.4C65.2 273.2 62.1 270.8 59.5 269.6C56.9 268.4 55.8 268.9 53.2 270.2C50.6 271.5 46.8 274.1 43.8 277.4C40.8 280.7 36.5 287.9 35.0 290.0Z" fill="#000"/>
<g clip-path="url(#csd)">
<path d="M138.3 262.8l5.9-4.2 7 5.8-6 3.9z" fill="#da00ff" stroke="#da00ff" stroke-width=".7"/>
<path d="M131.4 257.3l5.8-4.6 7 5.9-5.9 4.2z" fill="#fa00ff" stroke="#fa00ff" stroke-width=".7"/>
<path d="M144.2 258.6l5.9-3.1 7 6.1-5.9 2.8z" fill="#f700ff" stroke="#f700ff" stroke-width=".7"/>
<path d="M124.5 252l5.7-4.8 7 5.5-5.8 4.6z" fill="#ff00e4" stroke="#ff00e4" stroke-width=".7"/>
<path d="M137.2 252.7l5.9-3.3 7 6.1-5.9 3.1z" fill="#ff00e6" stroke="#ff00e6" stroke-width=".7"/>
<path d="M117.5 247.3l5.6-5.1 7.1 5-5.7 4.8z" fill="#ff00c8" stroke="#ff00c8" stroke-width=".7"/>
<path d="M150.1 255.5l5.9-1.5 7.1 6.3-6 1.3z" fill="#ff00f2" stroke="#ff00f2" stroke-width=".7"/>
<path d="M130.2 247.2l5.7-3.6 7.2 5.8-5.9 3.3z" fill="#ff00c6" stroke="#ff00c6" stroke-width=".7"/>
<path d="M110.5 243.5l5.5-5.3 7.1 4-5.6 5.1z" fill="#ff00af" stroke="#ff00af" stroke-width=".7"/>
<path d="M143.1 249.4l5.8-1.8 7.1 6.4-5.9 1.5z" fill="#ff00d1" stroke="#ff00d1" stroke-width=".7"/>
<path d="M103.4 240.9l5.5-5.5 7.1 2.8-5.5 5.3z" fill="#ff009b" stroke="#ff009b" stroke-width=".7"/>
<path d="M123.1 242.2l5.7-3.8 7.1 5.2-5.7 3.6z" fill="#ff00a9" stroke="#ff00a9" stroke-width=".7"/>
<path d="M156 254l5.9 .3 7.2 6.6-6-.6z" fill="#ff00e6" stroke="#ff00e6" stroke-width=".7"/>
<path d="M96.4 239.6l5.4-5.8 7.1 1.6-5.5 5.5z" fill="#ff008e" stroke="#ff008e" stroke-width=".7"/>
<path d="M135.9 243.6l5.8-2 7.2 6-5.8 1.8z" fill="#ff00af" stroke="#ff00af" stroke-width=".7"/>
<path d="M116 238.2l5.6-4.1 7.2 4.3-5.7 3.8z" fill="#ff008f" stroke="#ff008f" stroke-width=".7"/>
<path d="M148.9 247.6l5.9 .1 7.1 6.6-5.9-.3z" fill="#ff00c3" stroke="#ff00c3" stroke-width=".7"/>
<path d="M89.4 239.7l5.3-5.9 7.1 0-5.4 5.8z" fill="#ff0087" stroke="#ff0087" stroke-width=".7"/>
<path d="M161.9 254.3l5.9 2.3 7.2 6.9-5.9-2.6z" fill="#000000" stroke="#000000" stroke-width=".7"/>
<path d="M128.8 238.4l5.7-2.3 7.2 5.5-5.8 2z" fill="#ff0091" stroke="#ff0091" stroke-width=".7"/>
<path d="M108.9 235.4l5.5-4.4 7.2 3.1-5.6 4.1z" fill="#ff007a" stroke="#ff007a" stroke-width=".7"/>
<path d="M82.4 241.4l5.2-6.2 7.1-1.4-5.3 5.9z" fill="#ff0087" stroke="#ff0087" stroke-width=".7"/>
<path d="M141.7 241.6l5.8-.2 7.3 6.3-5.9-.1z" fill="#ff00a1" stroke="#ff00a1" stroke-width=".7"/>
<path d="M75.5 244.6l5.1-6.4 7-3-5.2 6.2z" fill="#830049" stroke="#830049" stroke-width=".7"/>
<path d="M101.8 233.8l5.4-4.5 7.2 1.7-5.5 4.4z" fill="#ff006c" stroke="#ff006c" stroke-width=".7"/>
<path d="M121.6 234.1l5.7-2.5 7.2 4.5-5.7 2.3z" fill="#ff0076" stroke="#ff0076" stroke-width=".7"/>
<path d="M154.8 247.7l5.8 2 7.2 6.9-5.9-2.3z" fill="#000000" stroke="#000000" stroke-width=".7"/>
<path d="M68.6 249.3l5-6.5 7-4.6-5.1 6.4z" fill="#000000" stroke="#000000" stroke-width=".7"/>
<path d="M167.8 256.6l5.9 4.4 7.2 7-5.9-4.5z" fill="#000000" stroke="#000000" stroke-width=".7"/>
<path d="M61.7 255.4l4.9-6.7 7-5.9-5 6.5z" fill="#000000" stroke="#000000" stroke-width=".7"/>
<path d="M94.7 233.8l5.3-4.8 7.2 .3-5.4 4.5z" fill="#ff0064" stroke="#ff0064" stroke-width=".7"/>
<path d="M134.5 236.1l5.8-.4 7.2 5.7-5.8 .2z" fill="#ff0082" stroke="#ff0082" stroke-width=".7"/>
<path d="M54.9 262.7l4.8-6.7 6.9-7.3-4.9 6.7z" fill="#000000" stroke="#000000" stroke-width=".7"/>
<path d="M114.4 231l5.6-2.7 7.3 3.3-5.7 2.5z" fill="#ff0061" stroke="#ff0061" stroke-width=".7"/>
<path d="M48.2 271.1l4.7-6.8 6.8-8.3-4.8 6.7z" fill="#000000" stroke="#000000" stroke-width=".7"/>
<path d="M41.5 280.3l4.6-7 6.8-9-4.7 6.8z" fill="#000000" stroke="#000000" stroke-width=".7"/>
<path d="M34.9 290l4.5-7.1 6.7-9.6-4.6 7z" fill="#000000" stroke="#000000" stroke-width=".7"/>
<path d="M147.5 241.4l5.8 1.7 7.3 6.6-5.8-2z" fill="#000000" stroke="#000000" stroke-width=".7"/>
<path d="M87.6 235.2l5.3-4.9 7.1-1.3-5.3 4.8z" fill="#ff0063" stroke="#ff0063" stroke-width=".7"/>
<path d="M160.6 249.7l5.8 4.1 7.3 7.2-5.9-4.4z" fill="#000000" stroke="#000000" stroke-width=".7"/>
<path d="M173.7 261l5.8 6.3 7.2 7.3-5.8-6.6z" fill="#000000" stroke="#000000" stroke-width=".7"/>
<path d="M127.3 231.6l5.6-.7 7.4 4.8-5.8 .4z" fill="#ff0066" stroke="#ff0066" stroke-width=".7"/>
<path d="M107.2 229.3l5.5-3 7.3 2-5.6 2.7z" fill="#ff0051" stroke="#ff0051" stroke-width=".7"/>
<path d="M80.6 238.2l5.1-5.1 7.2-2.8-5.3 4.9z" fill="#000000" stroke="#000000" stroke-width=".7"/>
<path d="M73.6 242.8l5-5.3 7.1-4.4-5.1 5.1z" fill="#000000" stroke="#000000" stroke-width=".7"/>
<path d="M140.3 235.7l5.7 1.5 7.3 5.9-5.8-1.7z" fill="#000000" stroke="#000000" stroke-width=".7"/>
<path d="M100 229l5.4-3.2 7.3 .5-5.5 3z" fill="#000000" stroke="#000000" stroke-width=".7"/>
<path d="M66.6 248.7l5-5.4 7-5.8-5 5.3z" fill="#000000" stroke="#000000" stroke-width=".7"/>
<path d="M120 228.3l5.6-.9 7.3 3.5-5.6 .7z" fill="#000000" stroke="#000000" stroke-width=".7"/>
<path d="M153.3 243.1l5.8 3.9 7.3 6.8-5.8-4.1z" fill="#000000" stroke="#000000" stroke-width=".7"/>
<path d="M166.4 253.8l5.8 6.1 7.3 7.4-5.8-6.3z" fill="#000000" stroke="#000000" stroke-width=".7"/>
<path d="M59.7 256l4.9-5.6 7-7.1-5 5.4z" fill="#000000" stroke="#000000" stroke-width=".7"/>
<path d="M179.5 267.3l5.7 8 7.3 7.6-5.8-8.3z" fill="#000000" stroke="#000000" stroke-width=".7"/>
<path d="M52.9 264.3l4.7-5.7 7-8.2-4.9 5.6z" fill="#000000" stroke="#000000" stroke-width=".7"/>
<path d="M92.9 230.3l5.3-3.4 7.2-1.1-5.4 3.2z" fill="#000000" stroke="#000000" stroke-width=".7"/>
<path d="M46.1 273.3l4.7-5.7 6.8-9-4.7 5.7z" fill="#000000" stroke="#000000" stroke-width=".7"/>
<path d="M39.4 282.9l4.5-5.9 6.9-9.4-4.7 5.7z" fill="#000000" stroke="#000000" stroke-width=".7"/>
<path d="M132.9 230.9l5.7 1.3 7.4 5-5.7-1.5z" fill="#000000" stroke="#000000" stroke-width=".7"/>
<path d="M112.7 226.3l5.5-1.1 7.4 2.2-5.6 .9z" fill="#000000" stroke="#000000" stroke-width=".7"/>
<path d="M85.7 233.1l5.2-3.5 7.3-2.7-5.3 3.4z" fill="#000000" stroke="#000000" stroke-width=".7"/>
<path d="M146 237.2l5.7 3.6 7.4 6.2-5.8-3.9z" fill="#000000" stroke="#000000" stroke-width=".7"/>
<path d="M185.2 275.3l5.7 9.6 7.2 7.8-5.6-9.8z" fill="#000000" stroke="#000000" stroke-width=".7"/>
<path d="M159.1 247l5.7 5.8 7.4 7.1-5.8-6.1z" fill="#000000" stroke="#000000" stroke-width=".7"/>
<path d="M172.2 259.9l5.7 7.8 7.3 7.6-5.7-8z" fill="#000000" stroke="#000000" stroke-width=".7"/>
<path d="M78.6 237.5l5.1-3.7 7.2-4.2-5.2 3.5z" fill="#000000" stroke="#000000" stroke-width=".7"/>
<path d="M125.6 227.4l5.6 1 7.4 3.8-5.7-1.3z" fill="#000000" stroke="#000000" stroke-width=".7"/>
<path d="M105.4 225.8l5.5-1.3 7.3 .7-5.5 1.1z" fill="#000000" stroke="#000000" stroke-width=".7"/>
<path d="M71.6 243.3l5-3.8 7.1-5.7-5.1 3.7z" fill="#000000" stroke="#000000" stroke-width=".7"/>
<path d="M138.6 232.2l5.7 3.4 7.4 5.2-5.7-3.6z" fill="#000000" stroke="#000000" stroke-width=".7"/>
<path d="M64.6 250.4l4.9-3.9 7.1-7-5 3.8z" fill="#000000" stroke="#000000" stroke-width=".7"/>
<path d="M98.2 226.9l5.3-1.5 7.4-.9-5.5 1.3z" fill="#000000" stroke="#000000" stroke-width=".7"/>
<path d="M190.9 284.9l5.6 10.6 7.2 8.1-5.6-10.9z" fill="#000000" stroke="#000000" stroke-width=".7"/>
<path d="M57.6 258.6l4.8-4.1 7.1-8-4.9 3.9z" fill="#000000" stroke="#000000" stroke-width=".7"/>
<path d="M151.7 240.8l5.7 5.6 7.4 6.4-5.7-5.8z" fill="#000000" stroke="#000000" stroke-width=".7"/>
<path d="M118.2 225.2l5.6 .8 7.4 2.4-5.6-1z" fill="#000000" stroke="#000000" stroke-width=".7"/>
<path d="M177.9 267.7l5.6 9.3 7.4 7.9-5.7-9.6z" fill="#000000" stroke="#000000" stroke-width=".7"/>
<path d="M50.8 267.6l4.6-4.2 7-8.9-4.8 4.1z" fill="#000000" stroke="#000000" stroke-width=".7"/>
<path d="M164.8 252.8l5.7 7.6 7.4 7.3-5.7-7.8z" fill="#000000" stroke="#000000" stroke-width=".7"/>
<path d="M43.9 277l4.6-4.3 6.9-9.3-4.6 4.2z" fill="#000000" stroke="#000000" stroke-width=".7"/>
<path d="M90.9 229.6l5.3-1.7 7.3-2.5-5.3 1.5z" fill="#000000" stroke="#000000" stroke-width=".7"/>
<path d="M131.2 228.4l5.6 3.2 7.5 4-5.7-3.4z" fill="#000000" stroke="#000000" stroke-width=".7"/>
<path d="M110.9 224.5l5.4 .7 7.5 .8-5.6-.8z" fill="#000000" stroke="#000000" stroke-width=".7"/>
<path d="M83.7 233.8l5.2-1.8 7.3-4.1-5.3 1.7z" fill="#000000" stroke="#000000" stroke-width=".7"/>
<path d="M196.5 295.5l5.5 11.1 7.3 8.3-5.6-11.3z" fill="#000000" stroke="#000000" stroke-width=".7"/>
<path d="M144.3 235.6l5.6 5.3 7.5 5.5-5.7-5.6z" fill="#000000" stroke="#000000" stroke-width=".7"/>
<path d="M183.5 277l5.6 10.4 7.4 8.1-5.6-10.6z" fill="#000000" stroke="#000000" stroke-width=".7"/>
<path d="M170.5 260.4l5.6 9.1 7.4 7.5-5.6-9.3z" fill="#000000" stroke="#000000" stroke-width=".7"/>
<path d="M157.4 246.4l5.6 7.3 7.5 6.7-5.7-7.6z" fill="#000000" stroke="#000000" stroke-width=".7"/>
<path d="M76.6 239.5l5-2 7.3-5.5-5.2 1.8z" fill="#000000" stroke="#000000" stroke-width=".7"/>
<path d="M103.5 225.4l5.4 .5 7.4-.7-5.4-.7z" fill="#000000" stroke="#000000" stroke-width=".7"/>
<path d="M69.5 246.5l4.9-2.1 7.2-6.9-5 2z" fill="#000000" stroke="#000000" stroke-width=".7"/>
<path d="M123.8 226l5.5 3 7.5 2.6-5.6-3.2z" fill="#000000" stroke="#000000" stroke-width=".7"/>
<path d="M62.4 254.5l4.9-2.1 7.1-8-4.9 2.1z" fill="#000000" stroke="#000000" stroke-width=".7"/>
<path d="M202 306.6l5.5 10.8 7.3 8.6-5.5-11.1z" fill="#000000" stroke="#000000" stroke-width=".7"/>
<path d="M55.4 263.4l4.8-2.3 7.1-8.7-4.9 2.1z" fill="#000000" stroke="#000000" stroke-width=".7"/>
<path d="M136.8 231.6l5.6 5.1 7.5 4.2-5.6-5.3z" fill="#000000" stroke="#000000" stroke-width=".7"/>
<path d="M48.5 272.7l4.7-2.4 7-9.2-4.8 2.3z" fill="#000000" stroke="#000000" stroke-width=".7"/>
<path d="M96.2 227.9l5.2 .4 7.5-2.4-5.4-.5z" fill="#000000" stroke="#000000" stroke-width=".7"/>
<path d="M189.1 287.4l5.6 10.8 7.3 8.4-5.5-11.1z" fill="#000000" stroke="#000000" stroke-width=".7"/>
<path d="M176.1 269.5l5.6 10.1 7.4 7.8-5.6-10.4z" fill="#000000" stroke="#000000" stroke-width=".7"/>
<path d="M149.9 240.9l5.6 7.2 7.5 5.6-5.6-7.3z" fill="#000000" stroke="#000000" stroke-width=".7"/>
<path d="M116.3 225.2l5.5 2.7 7.5 1.1-5.5-3z" fill="#000000" stroke="#000000" stroke-width=".7"/>
<path d="M163 253.7l5.7 8.9 7.4 6.9-5.6-9.1z" fill="#000000" stroke="#000000" stroke-width=".7"/>
<path d="M88.9 232l5.1 .2 7.4-3.9-5.2-.4z" fill="#000000" stroke="#000000" stroke-width=".7"/>
<path d="M129.3 229l5.5 4.9 7.6 2.8-5.6-5.1z" fill="#000000" stroke="#000000" stroke-width=".7"/>
<path d="M81.6 237.5l5.1 .1 7.3-5.4-5.1-.2z" fill="#000000" stroke="#000000" stroke-width=".7"/>
<path d="M108.9 225.9l5.3 2.6 7.6-.6-5.5-2.7z" fill="#000000" stroke="#000000" stroke-width=".7"/>
<path d="M194.7 298.2l5.5 10.6 7.3 8.6-5.5-10.8z" fill="#000000" stroke="#000000" stroke-width=".7"/>
<path d="M74.4 244.4l5 0 7.3-6.8-5.1-.1z" fill="#ff005e" stroke="#ff005e" stroke-width=".7"/>
<path d="M142.4 236.7l5.5 6.9 7.6 4.5-5.6-7.2z" fill="#000000" stroke="#000000" stroke-width=".7"/>
<path d="M181.7 279.6l5.6 10.6 7.4 8-5.6-10.8z" fill="#000000" stroke="#000000" stroke-width=".7"/>
<path d="M168.7 262.6l5.5 9.9 7.5 7.1-5.6-10.1z" fill="#000000" stroke="#000000" stroke-width=".7"/>
<path d="M155.5 248.1l5.6 8.6 7.6 5.9-5.7-8.9z" fill="#000000" stroke="#000000" stroke-width=".7"/>
<path d="M67.3 252.4l4.9-.2 7.2-7.8-5 0z" fill="#ff007b" stroke="#ff007b" stroke-width=".7"/>
<path d="M101.4 228.3l5.3 2.4 7.5-2.2-5.3-2.6z" fill="#ff0029" stroke="#ff0029" stroke-width=".7"/>
<path d="M60.2 261.1l4.8-.2 7.2-8.7-4.9 .2z" fill="#ff009b" stroke="#ff009b" stroke-width=".7"/>
<path d="M121.8 227.9l5.4 4.8 7.6 1.2-5.5-4.9z" fill="#ff0033" stroke="#ff0033" stroke-width=".7"/>
<path d="M53.2 270.3l4.7-.3 7.1-9.1-4.8 .2z" fill="#ff00bd" stroke="#ff00bd" stroke-width=".7"/>
<path d="M94 232.2l5.3 2.3 7.4-3.8-5.3-2.4z" fill="#ff0033" stroke="#ff0033" stroke-width=".7"/>
<path d="M134.8 233.9l5.5 6.7 7.6 3-5.5-6.9z" fill="#ff0051" stroke="#ff0051" stroke-width=".7"/>
<path d="M187.3 290.2l5.5 10.3 7.4 8.3-5.5-10.6z" fill="#000000" stroke="#000000" stroke-width=".7"/>
<path d="M114.2 228.5l5.4 4.6 7.6-.4-5.4-4.8z" fill="#ff002e" stroke="#ff002e" stroke-width=".7"/>
<path d="M147.9 243.6l5.6 8.4 7.6 4.7-5.6-8.6z" fill="#ff007e" stroke="#ff007e" stroke-width=".7"/>
<path d="M174.2 272.5l5.5 10.3 7.6 7.4-5.6-10.6z" fill="#000000" stroke="#000000" stroke-width=".7"/>
<path d="M161.1 256.7l5.5 9.7 7.6 6.1-5.5-9.9z" fill="#ff00b8" stroke="#ff00b8" stroke-width=".7"/>
<path d="M86.7 237.6l5.1 2.2 7.5-5.3-5.3-2.3z" fill="#ff0043" stroke="#ff0043" stroke-width=".7"/>
<path d="M79.4 244.4l5.1 2 7.3-6.6-5.1-2.2z" fill="#ff0059" stroke="#ff0059" stroke-width=".7"/>
<path d="M127.2 232.7l5.5 6.5 7.6 1.4-5.5-6.7z" fill="#ff0044" stroke="#ff0044" stroke-width=".7"/>
<path d="M106.7 230.7l5.4 4.4 7.5-2-5.4-4.6z" fill="#ff002f" stroke="#ff002f" stroke-width=".7"/>
<path d="M72.2 252.2l5 2 7.3-7.8-5.1-2z" fill="#ff0075" stroke="#ff0075" stroke-width=".7"/>
<path d="M65 260.9l4.9 1.9 7.3-8.6-5-2z" fill="#ff0094" stroke="#ff0094" stroke-width=".7"/>
<path d="M140.3 240.6l5.5 8.3 7.7 3.1-5.6-8.4z" fill="#ff0069" stroke="#ff0069" stroke-width=".7"/>
<path d="M57.9 270l4.8 1.8 7.2-9-4.9-1.9z" fill="#ff00b5" stroke="#ff00b5" stroke-width=".7"/>
<path d="M179.7 282.8l5.5 10.1 7.6 7.6-5.5-10.3z" fill="#000000" stroke="#000000" stroke-width=".7"/>
<path d="M153.5 252l5.5 9.5 7.6 4.9-5.5-9.7z" fill="#ff009c" stroke="#ff009c" stroke-width=".7"/>
<path d="M99.3 234.5l5.2 4.3 7.6-3.7-5.4-4.4z" fill="#ff0038" stroke="#ff0038" stroke-width=".7"/>
<path d="M166.6 266.4l5.5 10.1 7.6 6.3-5.5-10.3z" fill="#ff00d9" stroke="#ff00d9" stroke-width=".7"/>
<path d="M119.6 233.1l5.4 6.3 7.7-.2-5.5-6.5z" fill="#ff003d" stroke="#ff003d" stroke-width=".7"/>
<path d="M91.8 239.8l5.2 4.2 7.5-5.2-5.2-4.3z" fill="#ff0048" stroke="#ff0048" stroke-width=".7"/>
<path d="M132.7 239.2l5.4 8.1 7.7 1.6-5.5-8.3z" fill="#ff005b" stroke="#ff005b" stroke-width=".7"/>
<path d="M84.5 246.4l5.1 4.1 7.4-6.5-5.2-4.2z" fill="#ff005d" stroke="#ff005d" stroke-width=".7"/>
<path d="M112.1 235.1l5.3 6.3 7.6-2-5.4-6.3z" fill="#ff003e" stroke="#ff003e" stroke-width=".7"/>
<path d="M145.8 248.9l5.5 9.2 7.7 3.4-5.5-9.5z" fill="#ff0086" stroke="#ff0086" stroke-width=".7"/>
<path d="M77.2 254.2l5 4 7.4-7.7-5.1-4.1z" fill="#ff0077" stroke="#ff0077" stroke-width=".7"/>
<path d="M159 261.5l5.5 9.9 7.6 5.1-5.5-10.1z" fill="#ff00bc" stroke="#ff00bc" stroke-width=".7"/>
<path d="M172.1 276.5l5.5 9.8 7.6 6.6-5.5-10.1z" fill="#ff00fa" stroke="#ff00fa" stroke-width=".7"/>
<path d="M69.9 262.8l5 3.8 7.3-8.4-5-4z" fill="#ff0096" stroke="#ff0096" stroke-width=".7"/>
<path d="M104.5 238.8l5.3 6.1 7.6-3.5-5.3-6.3z" fill="#ff0046" stroke="#ff0046" stroke-width=".7"/>
<path d="M125 239.4l5.4 7.9 7.7 0-5.4-8.1z" fill="#ff0053" stroke="#ff0053" stroke-width=".7"/>
<path d="M62.7 271.8l4.9 3.8 7.3-9-5-3.8z" fill="#ff00b6" stroke="#ff00b6" stroke-width=".7"/>
<path d="M97 244l5.2 6 7.6-5.1-5.3-6.1z" fill="#ff0054" stroke="#ff0054" stroke-width=".7"/>
<path d="M138.1 247.3l5.5 9.1 7.7 1.7-5.5-9.2z" fill="#ff0077" stroke="#ff0077" stroke-width=".7"/>
<path d="M151.3 258.1l5.4 9.7 7.8 3.6-5.5-9.9z" fill="#ff00a5" stroke="#ff00a5" stroke-width=".7"/>
<path d="M117.4 241.4l5.3 7.7 7.7-1.8-5.4-7.9z" fill="#ff0053" stroke="#ff0053" stroke-width=".7"/>
<path d="M89.6 250.5l5.1 5.9 7.5-6.4-5.2-6z" fill="#ff0069" stroke="#ff0069" stroke-width=".7"/>
<path d="M164.5 271.4l5.4 9.6 7.7 5.3-5.5-9.8z" fill="#ff00dc" stroke="#ff00dc" stroke-width=".7"/>
<path d="M82.2 258.2l5 5.8 7.5-7.6-5.1-5.9z" fill="#ff0082" stroke="#ff0082" stroke-width=".7"/>
<path d="M130.4 247.3l5.4 9 7.8 .1-5.5-9.1z" fill="#ff006e" stroke="#ff006e" stroke-width=".7"/>
<path d="M109.8 244.9l5.3 7.6 7.6-3.4-5.3-7.7z" fill="#ff005a" stroke="#ff005a" stroke-width=".7"/>
<path d="M74.9 266.6l4.9 5.8 7.4-8.4-5-5.8z" fill="#ff00a0" stroke="#ff00a0" stroke-width=".7"/>
<path d="M67.6 275.6l4.9 5.6 7.3-8.8-4.9-5.8z" fill="#ff00c0" stroke="#ff00c0" stroke-width=".7"/>
<path d="M143.6 256.4l5.4 9.5 7.7 1.9-5.4-9.7z" fill="#ff0095" stroke="#ff0095" stroke-width=".7"/>
<path d="M102.2 250l5.2 7.5 7.7-5-5.3-7.6z" fill="#ff0068" stroke="#ff0068" stroke-width=".7"/>
<path d="M156.7 267.8l5.5 9.5 7.7 3.7-5.4-9.6z" fill="#ff00c4" stroke="#ff00c4" stroke-width=".7"/>
<path d="M122.7 249.1l5.4 8.8 7.7-1.6-5.4-9z" fill="#ff006d" stroke="#ff006d" stroke-width=".7"/>
<path d="M94.7 256.4l5.1 7.4 7.6-6.3-5.2-7.5z" fill="#ff007b" stroke="#ff007b" stroke-width=".7"/>
<path d="M135.8 256.3l5.4 9.3 7.8 .3-5.4-9.5z" fill="#ff008c" stroke="#ff008c" stroke-width=".7"/>
<path d="M87.2 264l5.1 7.3 7.5-7.5-5.1-7.4z" fill="#ff0094" stroke="#ff0094" stroke-width=".7"/>
<path d="M115.1 252.5l5.2 8.7 7.8-3.3-5.4-8.8z" fill="#ff0073" stroke="#ff0073" stroke-width=".7"/>
<path d="M79.8 272.4l5.1 7.2 7.4-8.3-5.1-7.3z" fill="#ff00b0" stroke="#ff00b0" stroke-width=".7"/>
<path d="M149 265.9l5.4 9.2 7.8 2.2-5.5-9.5z" fill="#ff00b3" stroke="#ff00b3" stroke-width=".7"/>
<path d="M72.5 281.2l5 7.2 7.4-8.8-5.1-7.2z" fill="#ff00cf" stroke="#ff00cf" stroke-width=".7"/>
<path d="M107.4 257.5l5.2 8.5 7.7-4.8-5.2-8.7z" fill="#ff0080" stroke="#ff0080" stroke-width=".7"/>
<path d="M128.1 257.9l5.3 9.2 7.8-1.5-5.4-9.3z" fill="#ff008a" stroke="#ff008a" stroke-width=".7"/>
<path d="M99.8 263.8l5.2 8.4 7.6-6.2-5.2-8.5z" fill="#ff0093" stroke="#ff0093" stroke-width=".7"/>
<path d="M141.2 265.6l5.3 9.1 7.9 .4-5.4-9.2z" fill="#ff00a9" stroke="#ff00a9" stroke-width=".7"/>
<path d="M92.3 271.3l5.1 8.3 7.6-7.4-5.2-8.4z" fill="#ff00aa" stroke="#ff00aa" stroke-width=".7"/>
<path d="M120.3 261.2l5.3 9 7.8-3.1-5.3-9.2z" fill="#ff008f" stroke="#ff008f" stroke-width=".7"/>
<path d="M84.9 279.6l5 8.3 7.5-8.3-5.1-8.3z" fill="#ff00c6" stroke="#ff00c6" stroke-width=".7"/>
<path d="M77.5 288.4l4.9 8.2 7.5-8.7-5-8.3z" fill="#ff00e4" stroke="#ff00e4" stroke-width=".7"/>
<path d="M112.6 266l5.2 9 7.8-4.8-5.3-9z" fill="#ff009b" stroke="#ff009b" stroke-width=".7"/>
<path d="M133.4 267.1l5.3 8.9 7.8-1.3-5.3-9.1z" fill="#ff00a6" stroke="#ff00a6" stroke-width=".7"/>
<path d="M105 272.2l5.2 8.9 7.6-6.1-5.2-9z" fill="#ff00ad" stroke="#ff00ad" stroke-width=".7"/>
<path d="M125.6 270.2l5.2 8.8 7.9-3-5.3-8.9z" fill="#ff00ab" stroke="#ff00ab" stroke-width=".7"/>
<path d="M97.4 279.6l5.1 8.8 7.7-7.3-5.2-8.9z" fill="#ff00c3" stroke="#ff00c3" stroke-width=".7"/>
<path d="M89.9 287.9l5 8.6 7.6-8.1-5.1-8.8z" fill="#ff00de" stroke="#ff00de" stroke-width=".7"/>
<path d="M117.8 275l5.2 8.6 7.8-4.6-5.2-8.8z" fill="#ff00b5" stroke="#ff00b5" stroke-width=".7"/>
<path d="M82.4 296.6l5 8.6 7.5-8.7-5-8.6z" fill="#ff00fb" stroke="#ff00fb" stroke-width=".7"/>
<path d="M110.2 281.1l5.1 8.5 7.7-6-5.2-8.6z" fill="#ff00c6" stroke="#ff00c6" stroke-width=".7"/>
<path d="M102.5 288.4l5.1 8.4 7.7-7.2-5.1-8.5z" fill="#ff00dc" stroke="#ff00dc" stroke-width=".7"/>
<path d="M94.9 296.5l5.1 8.4 7.6-8.1-5.1-8.4z" fill="#ff00f6" stroke="#ff00f6" stroke-width=".7"/>
<path d="M87.4 305.2l5 8.2 7.6-8.5-5.1-8.4z" fill="#ec00ff" stroke="#ec00ff" stroke-width=".7"/>
<path d="M34.9 290l1.7-2.5 1.6-2.4 1.7-2.4 1.6-2.4 1.7-2.3 1.7-2.3 1.6-2.3M36.1 288.1l1.6-2.4 1.7-2.4 1.6-2.4 1.7-2.4 1.7-2.4 1.6-2.3 1.7-2.2 1.7-2.3 1.7-2.2 1.6-2.1M37.2 286.3l1.6-2.4 1.7-2.4 1.7-2.4 1.6-2.4 1.7-2.3 1.7-2.3 1.7-2.3 1.6-2.2 1.7-2.2 1.7-2.1 1.7-2.1 1.7-2 1.7-1.9M38.3 284.5l1.7-2.4 1.6-2.4 1.7-2.4 1.7-2.3 1.7-2.3 1.6-2.3 1.7-2.3 1.7-2.2 1.7-2.2 1.7-2.1 1.7-2.1 1.7-1.9 1.7-2 1.7-1.8M39.4 282.9l1.7-2.4 1.7-2.4 1.6-2.4 1.7-2.4 1.7-2.3 1.7-2.3 1.7-2.2 1.7-2.2 1.7-2.2 1.7-2.1 1.7-2.1 1.7-1.9 1.7-2 1.8-1.8M66.6 248.7l1.7-1.6M40.5 281.3l1.7-2.4 1.7-2.4 1.7-2.4 1.7-2.3 1.7-2.4 1.7-2.2 1.7-2.3 1.7-2.2 1.7-2.1 1.7-2.1 1.7-2.1 1.7-2 1.8-1.9 1.7-1.8 1.7-1.8 1.7-1.7 1.8-1.6 1.7-1.5M41.7 279.7l1.7-2.3 1.6-2.4 1.7-2.4 1.7-2.3 1.7-2.3 1.7-2.3 1.7-2.3 1.8-2.2 1.7-2.1 1.7-2.1 1.7-2 1.7-2 1.8-1.9 1.7-1.8 1.7-1.8 1.8-1.7 1.7-1.6 1.8-1.5 1.7-1.4M42.8 278.3l1.7-2.4 1.7-2.3 1.7-2.4 1.7-2.3 1.7-2.3 1.7-2.3 1.7-2.2 1.7-2.2 1.8-2.2 1.7-2 1.7-2.1 1.7-1.9 1.8-1.9 1.7-1.8 1.8-1.8 1.7-1.7 1.8-1.6 1.7-1.5 1.8-1.4 1.7-1.3 1.8-1.3M43.9 277l1.7-2.4 1.7-2.4 1.7-2.3 1.8-2.3 1.7-2.3 1.7-2.3 1.7-2.2 1.7-2.2 1.8-2.1 1.7-2.1 1.7-2 1.8-2 1.7-1.9 1.8-1.8 1.7-1.7 1.8-1.7 1.7-1.6 1.8-1.5 1.7-1.4 1.8-1.3 1.8-1.2 1.8-1.2M45.1 275.8l1.7-2.4 1.7-2.4 1.7-2.3 1.7-2.3 1.7-2.3 1.8-2.3 1.7-2.2 1.7-2.2 1.8-2.1 1.7-2.1 1.7-2 1.8-1.9 1.7-1.9 1.8-1.8 1.7-1.7 1.8-1.7 1.8-1.6 1.7-1.5 1.8-1.4 1.8-1.3 1.8-1.2 1.7-1.1 1.8-1.1M46.2 274.6l1.7-2.3 1.8-2.4 1.7-2.3 1.7-2.3 1.7-2.3 1.7-2.3 1.8-2.2 1.7-2.1 1.8-2.2 1.7-2 1.7-2 1.8-2 1.8-1.8 1.7-1.8 1.8-1.8 1.7-1.6 1.8-1.6 1.8-1.5 1.8-1.4 1.8-1.3 1.7-1.2 1.8-1.1 1.8-1 1.8-1 1.8-.8M47.4 273.6l1.7-2.3 1.7-2.4 1.7-2.3 1.8-2.3 1.7-2.3 1.7-2.2 1.8-2.2 1.7-2.2 1.8-2.1 1.7-2.1 1.8-2 1.7-1.9 1.8-1.9 1.8-1.8 1.7-1.7 1.8-1.6 1.8-1.6 1.8-1.4 1.7-1.4 1.8-1.3 1.8-1.2 1.8-1.2 1.8-1 1.8-.9 1.8-.8 1.8-.8 1.8-.6M48.5 272.7l1.8-2.3 1.7-2.4 1.7-2.3 1.7-2.3 1.8-2.3 1.7-2.2 1.8-2.2 1.7-2.2 1.8-2.1 1.7-2 1.8-2 1.8-1.9 1.7-1.9 1.8-1.8 1.8-1.7 1.8-1.6 1.7-1.6 1.8-1.4 1.8-1.4 1.8-1.3 1.8-1.2 1.8-1.1 1.8-1 1.8-.9 1.8-.8 1.8-.7 1.8-.7 1.9-.5 1.8-.4M49.7 271.9l1.7-2.3 1.8-2.3 1.7-2.4 1.7-2.2 1.8-2.3 1.7-2.2 1.8-2.2 1.7-2.2 1.8-2.1 1.8-2 1.7-2 1.8-1.9 1.8-1.9 1.7-1.7 1.8-1.8 1.8-1.6 1.8-1.5 1.8-1.5 1.8-1.3 1.8-1.3 1.8-1.2 1.8-1.1 1.8-1 1.8-.9 1.8-.8 1.9-.7 1.8-.6 1.8-.5 1.8-.5 1.8-.3M50.9 271.3l1.7-2.3 1.7-2.4 1.8-2.3 1.7-2.3 1.8-2.2 1.7-2.3 1.8-2.2 1.7-2.1 1.8-2.1 1.8-2 1.7-2 1.8-1.9 1.8-1.8 1.8-1.8 1.8-1.7 1.8-1.6 1.8-1.6 1.8-1.4 1.8-1.4 1.8-1.2 1.8-1.2 1.8-1.1 1.8-1 1.8-.9 1.8-.8 1.9-.7 1.8-.6 1.8-.5 1.9-.4 1.8-.3 1.8-.2 1.8-.1M52 270.8l1.8-2.4 1.7-2.3 1.8-2.3 1.7-2.3 1.8-2.2 1.7-2.3 1.8-2.1 1.8-2.2 1.7-2.1 1.8-2 1.8-2 1.8-1.9 1.8-1.8 1.7-1.8 1.8-1.6 1.8-1.7 1.8-1.5 1.8-1.4 1.9-1.4 1.8-1.2 1.8-1.2 1.8-1.1 1.8-1 1.8-.9 1.9-.7 1.8-.7 1.8-.6 1.9-.5 1.8-.4 1.8-.3 1.9-.2 1.8-.1 1.8 .1 1.9 .1M53.2 270.3l1.7-2.3 1.8-2.3 1.7-2.3 1.8-2.3 1.8-2.2 1.7-2.2 1.8-2.2 1.8-2.1 1.8-2.1 1.7-2 1.8-2 1.8-1.9 1.8-1.8 1.8-1.8 1.8-1.7 1.8-1.6 1.8-1.5 1.8-1.4 1.8-1.4 1.9-1.2 1.8-1.2 1.8-1 1.8-1 1.9-.9 1.8-.8 1.8-.6 1.9-.6 1.8-.5 1.8-.4 1.9-.3 1.8-.1 1.9-.1 1.8 0 1.8 .1 1.9 .3M54.4 270.1l1.7-2.4 1.8-2.3 1.7-2.3 1.8-2.2 1.8-2.3 1.7-2.2 1.8-2.1 1.8-2.2 1.8-2 1.8-2.1 1.8-1.9 1.8-1.9 1.8-1.8 1.8-1.8 1.8-1.6 1.8-1.6 1.8-1.5 1.8-1.5 1.8-1.3 1.8-1.2 1.9-1.2 1.8-1.1 1.8-.9 1.9-.9 1.8-.8 1.8-.6 1.9-.6 1.8-.5 1.9-.3 1.8-.3 1.9-.2 1.8 0 1.9 0 1.8 .1 1.9 .3 1.8 .3 1.9 .4 1.8 .5 1.8 .6M55.6 269.9l1.7-2.3 1.8-2.3 1.7-2.3 1.8-2.3 1.8-2.2 1.8-2.2 1.7-2.2 1.8-2.1 1.8-2 1.8-2 1.8-2 1.8-1.9 1.8-1.8 1.8-1.7 1.8-1.7 1.8-1.6 1.9-1.5 1.8-1.4 1.8-1.3 1.8-1.3 1.9-1.1 1.8-1.1 1.8-.9 1.9-.9 1.8-.7 1.9-.7 1.8-.5 1.9-.5 1.8-.4 1.9-.2 1.8-.2 1.9 0 1.8 0 1.9 .2 1.8 .2 1.9 .4 1.8 .4 1.9 .5 1.8 .6M56.7 269.9l1.8-2.3 1.8-2.3 1.7-2.3 1.8-2.2 1.8-2.3 1.8-2.2 1.8-2.1 1.8-2.1 1.8-2.1 1.7-2 1.9-1.9 1.8-1.9 1.8-1.8 1.8-1.8 1.8-1.6 1.8-1.6 1.8-1.5 1.9-1.4 1.8-1.3 1.8-1.2 1.9-1.2 1.8-1 1.9-1 1.8-.8 1.9-.8 1.8-.6 1.9-.6 1.8-.4 1.9-.4 1.8-.2 1.9-.1 1.8-.1 1.9 .1 1.9 .1 1.8 .3 1.9 .3 1.8 .5 1.9 .5 1.8 .7 1.9 .7 1.8 .8 1.9 .9 1.8 1 1.9 1M57.9 270l1.8-2.3 1.8-2.3 1.8-2.3 1.7-2.2 1.8-2.2 1.8-2.2 1.8-2.2 1.8-2.1 1.8-2 1.8-2 1.8-2 1.8-1.8 1.8-1.8 1.8-1.8 1.9-1.6 1.8-1.6 1.8-1.5 1.9-1.4 1.8-1.3 1.8-1.2 1.9-1.1 1.8-1.1 1.9-.9 1.8-.8 1.9-.8 1.8-.6 1.9-.6 1.9-.4 1.8-.3 1.9-.3 1.8-.1 1.9 0 1.9 0 1.8 .2 1.9 .3 1.9 .3 1.8 .5 1.9 .6 1.8 .6 1.9 .7 1.8 .9 1.9 .9 1.9 1 1.8 1 1.9 1.2 1.8 1.2M59.1 270.3l1.8-2.3 1.8-2.3 1.8-2.3 1.7-2.2 1.8-2.3 1.8-2.1 1.8-2.2 1.8-2.1 1.8-2 1.8-2 1.9-1.9 1.8-1.9 1.8-1.8 1.8-1.7 1.8-1.7 1.9-1.5 1.8-1.5 1.9-1.4 1.8-1.3 1.8-1.2 1.9-1.1 1.8-1.1 1.9-.9 1.9-.8 1.8-.8 1.9-.6 1.8-.5 1.9-.4 1.9-.4 1.8-.2 1.9-.1 1.9 0 1.8 0 1.9 .2 1.9 .3 1.8 .4 1.9 .5 1.9 .5 1.8 .7 1.9 .7 1.9 .9 1.8 .9 1.9 1 1.8 1.1 1.9 1.1 1.8 1.3 1.9 1.2 1.8 1.4 1.9 1.4M60.3 270.6l1.8-2.3 1.8-2.2 1.8-2.3 1.8-2.2 1.8-2.3 1.8-2.1 1.8-2.2 1.8-2.1 1.8-2 1.8-2 1.8-1.9 1.8-1.9 1.9-1.7 1.8-1.8 1.8-1.6 1.9-1.6 1.8-1.4 1.9-1.4 1.8-1.3 1.8-1.2 1.9-1.1 1.9-1 1.8-1 1.9-.8 1.8-.7 1.9-.6 1.9-.5 1.8-.5 1.9-.3 1.9-.2 1.9-.1 1.8 0 1.9 .1 1.9 .2 1.8 .3 1.9 .4 1.9 .4 1.9 .6 1.8 .7 1.9 .8 1.9 .8 1.8 .9 1.9 1 1.8 1.1 1.9 1.2 1.9 1.3 1.8 1.3 1.8 1.3 1.9 1.5 1.8 1.5 1.9 1.5 1.8 1.6 1.8 1.6M159.9 248.1l1.8 1.7 1.8 1.7M167.1 255l1.8 1.8M174.4 262.1l1.8 1.7 1.7 1.7M61.5 271.1l1.8-2.2 1.8-2.3 1.8-2.3 1.8-2.2 1.8-2.2 1.8-2.2 1.8-2.1 1.8-2.1 1.8-2 1.8-2 1.9-1.9 1.8-1.9 1.8-1.8 1.9-1.7 1.8-1.6 1.9-1.6 1.8-1.4 1.8-1.4 1.9-1.3 1.9-1.2 1.8-1.1 1.9-1 1.8-.9 1.9-.8 1.9-.7 1.8-.6 1.9-.6 1.9-.4 1.9-.3 1.8-.2 1.9-.1 1.9 0 1.9 .1 1.8 .2 1.9 .3 1.9 .5 1.9 .4 1.8 .6 1.9 .7 1.9 .8 1.9 .9 1.8 .9 1.9 1 1.9 1.1 1.8 1.2 1.9 1.3 1.8 1.3 1.9 1.4 1.8 1.5 1.9 1.5 1.8 1.5 1.8 1.6 1.9 1.7 1.8 1.6 1.8 1.8 1.9 1.7 1.8 1.8 1.8 1.7 1.8 1.8 1.8 1.8 1.8 1.8 1.8 1.7 1.8 1.8 1.8 1.7M62.7 271.8l1.8-2.3 1.8-2.3 1.8-2.2 1.8-2.2 1.8-2.3 1.8-2.1 1.8-2.1 1.9-2.1 1.8-2.1 1.8-1.9 1.8-1.9 1.9-1.9 1.8-1.8 1.8-1.7 1.9-1.6 1.8-1.5 1.9-1.5 1.8-1.3 1.9-1.3 1.9-1.2 1.8-1.1 1.9-1 1.9-.9 1.8-.8 1.9-.7 1.9-.6 1.9-.5 1.8-.4 1.9-.3 1.9-.2 1.9-.1 1.9 0 1.8 .1 1.9 .2 1.9 .4 1.9 .4 1.9 .5 1.8 .6 1.9 .7 1.9 .8 1.9 .8 1.8 1 1.9 1.1 1.9 1.1 1.8 1.2 1.9 1.2 1.9 1.4 1.8 1.4 1.9 1.5 1.8 1.5 1.8 1.5 1.9 1.7 1.8 1.6 1.9 1.7 1.8 1.8 1.8 1.7 1.8 1.8 1.8 1.8 1.9 1.8 1.8 1.8 1.8 1.8 1.8 1.7 1.8 1.8 1.8 1.7M63.9 272.6l1.8-2.3 1.8-2.3 1.8-2.2 1.8-2.3 1.9-2.2 1.8-2.1 1.8-2.1 1.8-2.1 1.8-2 1.9-2 1.8-1.9 1.8-1.8 1.9-1.8 1.8-1.7 1.9-1.6 1.8-1.6 1.9-1.4 1.8-1.4 1.9-1.2 1.9-1.2 1.8-1.1 1.9-1 1.9-.9 1.9-.8 1.8-.7 1.9-.6 1.9-.5 1.9-.4 1.9-.2 1.9-.2 1.8-.1 1.9 0 1.9 .1 1.9 .3 1.9 .3 1.9 .4 1.9 .5 1.8 .7 1.9 .7 1.9 .8 1.9 .9 1.8 .9 1.9 1.1 1.9 1.1 1.8 1.2 1.9 1.3 1.9 1.4 1.8 1.4 1.9 1.5 1.8 1.5 1.9 1.6 1.8 1.6 1.9 1.7 1.8 1.7 1.8 1.8 1.9 1.7 1.8 1.8 1.8 1.8 1.8 1.8 1.8 1.9 1.8 1.8 1.8 1.8 1.8 1.7 1.8 1.8M65.2 273.4l1.8-2.2 1.8-2.3 1.8-2.2 1.8-2.2 1.8-2.2 1.8-2.2 1.8-2.1 1.9-2.1 1.8-2 1.8-2 1.9-1.9 1.8-1.8 1.9-1.7 1.8-1.7 1.9-1.6 1.8-1.6 1.9-1.4 1.8-1.4 1.9-1.2 1.9-1.2 1.9-1.1 1.8-1 1.9-.9 1.9-.7 1.9-.7 1.9-.6 1.9-.5 1.8-.4 1.9-.2 1.9-.2 1.9-.1 1.9 0 1.9 .2 1.9 .2 1.9 .4 1.9 .4 1.8 .5 1.9 .7 1.9 .7 1.9 .8 1.9 .9 1.8 1 1.9 1.1 1.9 1.1 1.9 1.2 1.8 1.3 1.9 1.4 1.9 1.4 1.8 1.5 1.9 1.6 1.8 1.6 1.9 1.6 1.8 1.7 1.8 1.7 1.9 1.8 1.8 1.8 1.8 1.8 1.8 1.8 1.9 1.8 1.8 1.9 1.8 1.8 1.8 1.8 1.8 1.8 1.8 1.8M66.4 274.5l1.8-2.3 1.8-2.3 1.8-2.2 1.8-2.2 1.8-2.2 1.9-2.1 1.8-2.2 1.8-2 1.9-2 1.8-2 1.8-1.9 1.9-1.8 1.8-1.8 1.9-1.6 1.9-1.6 1.8-1.6 1.9-1.4 1.9-1.4 1.8-1.2 1.9-1.2 1.9-1.1 1.9-.9 1.8-.9 1.9-.8 1.9-.7 1.9-.5 1.9-.5 1.9-.4 1.9-.2 1.9-.2 1.9-.1 1.9 .1 1.9 .1 1.8 .3 1.9 .3 1.9 .5 1.9 .5 1.9 .7 1.9 .7 1.9 .8 1.9 1 1.8 1 1.9 1 1.9 1.2 1.9 1.2 1.8 1.4 1.9 1.3 1.9 1.5 1.8 1.5 1.9 1.6 1.8 1.6 1.9 1.6 1.8 1.7 1.9 1.8 1.8 1.8 1.8 1.8 1.9 1.8 1.8 1.8 1.8 1.9 1.8 1.8 1.8 1.9 1.8 1.8 1.9 1.8 1.8 1.8M67.6 275.6l1.8-2.3 1.8-2.2 1.8-2.2 1.9-2.3 1.8-2.1 1.8-2.2 1.8-2.1 1.9-2 1.8-2 1.9-2 1.8-1.9 1.9-1.8 1.8-1.8 1.9-1.6 1.8-1.6 1.9-1.5 1.9-1.5 1.9-1.3 1.8-1.3 1.9-1.1 1.9-1.1 1.9-1 1.9-.8 1.9-.8 1.9-.7 1.8-.5 1.9-.5 1.9-.3 1.9-.3 1.9-.2 1.9 0 1.9 .1 1.9 .1 1.9 .3 1.9 .3 1.9 .5 1.9 .6 1.9 .6 1.9 .8 1.9 .8 1.9 .9 1.9 1 1.8 1.1 1.9 1.2 1.9 1.3 1.9 1.3 1.8 1.4 1.9 1.5 1.9 1.5 1.8 1.6 1.9 1.6 1.8 1.7 1.9 1.7 1.8 1.7 1.8 1.8 1.9 1.9 1.8 1.8 1.8 1.8 1.9 1.9 1.8 1.9 1.8 1.8 1.8 1.9 1.8 1.8 1.8 1.8M68.8 276.8l1.8-2.2 1.9-2.3 1.8-2.2 1.8-2.2 1.8-2.2 1.9-2.1 1.8-2.1 1.8-2.1 1.9-2 1.8-1.9 1.9-1.9 1.8-1.8 1.9-1.7 1.9-1.7 1.8-1.6 1.9-1.5 1.9-1.4 1.9-1.4 1.8-1.2 1.9-1.2 1.9-1 1.9-1 1.9-.8 1.9-.8 1.9-.7 1.9-.5 1.9-.5 1.9-.3 1.9-.3 1.9-.1 1.9 0 1.9 0 1.9 .2 1.9 .3 1.9 .4 1.9 .4 1.9 .6 1.9 .7 1.9 .7 1.9 .9 1.9 .9 1.9 1 1.8 1.1 1.9 1.2 1.9 1.3 1.9 1.3 1.8 1.5 1.9 1.4 1.9 1.6 1.8 1.6 1.9 1.6 1.8 1.7 1.9 1.7 1.8 1.8 1.9 1.8 1.8 1.9 1.8 1.8 1.9 1.9 1.8 1.8 1.8 1.9 1.8 1.9 1.8 1.9 1.8 1.8 1.8 1.8M70.1 278.2l1.8-2.2 1.8-2.3 1.8-2.2 1.8-2.2 1.9-2.2 1.8-2.1 1.9-2.1 1.8-2.1 1.9-1.9 1.8-2 1.9-1.9 1.8-1.8 1.9-1.7 1.9-1.7 1.8-1.5 1.9-1.5 1.9-1.5 1.9-1.3 1.9-1.2 1.8-1.2 1.9-1 1.9-1 1.9-.8 1.9-.8 1.9-.6 1.9-.6 1.9-.4 1.9-.4 1.9-.2 1.9-.1 2-.1 1.9 .1 1.9 .2 1.9 .3 1.9 .4 1.9 .5 1.9 .5 1.9 .7 1.9 .8 1.9 .9 1.9 .9 1.9 1 1.8 1.2 1.9 1.2 1.9 1.3 1.9 1.3 1.9 1.4 1.8 1.5 1.9 1.6 1.9 1.6 1.8 1.6 1.9 1.8 1.8 1.7 1.9 1.8 1.8 1.8 1.8 1.9 1.9 1.8 1.8 1.9 1.8 1.9 1.8 1.9 1.9 1.9 1.8 1.9 1.8 1.8 1.8 1.8M71.3 279.7l1.8-2.3 1.8-2.2 1.9-2.2 1.8-2.2 1.8-2.2 1.9-2.1 1.8-2.1 1.9-2 1.8-2 1.9-2 1.8-1.8 1.9-1.8 1.9-1.8 1.9-1.6 1.8-1.6 1.9-1.5 1.9-1.4 1.9-1.3 1.9-1.3 1.9-1.1 1.9-1 1.9-1 1.9-.8 1.9-.8 1.9-.6 1.9-.5 1.9-.5 1.9-.3 1.9-.2 1.9-.2 1.9 0 1.9 .1 1.9 .2 1.9 .3 1.9 .4 2 .5 1.9 .6 1.9 .7 1.9 .8 1.9 .8 1.9 1 1.8 1.1 1.9 1.1 1.9 1.2 1.9 1.3 1.9 1.4 1.9 1.4 1.8 1.5 1.9 1.6 1.9 1.6 1.8 1.7 1.9 1.7 1.8 1.8 1.9 1.8 1.8 1.8 1.9 1.9 1.8 1.9 1.8 1.9 1.9 1.9 1.8 1.9 1.8 1.9 1.8 1.9 1.8 1.8 1.8 1.9M72.5 281.2l1.8-2.2 1.9-2.2 1.8-2.2 1.8-2.2 1.9-2.2 1.8-2.1 1.9-2.1 1.8-2 1.9-2 1.9-1.9 1.8-1.9 1.9-1.8 1.9-1.7 1.8-1.7 1.9-1.5 1.9-1.5 1.9-1.4 1.9-1.4 1.9-1.2 1.9-1.1 1.9-1 1.9-1 1.9-.8 1.9-.7 1.9-.7 1.9-.5 1.9-.4 1.9-.4 2-.2 1.9-.1 1.9 0 1.9 .1 1.9 .2 1.9 .3 1.9 .4 1.9 .5 1.9 .6 1.9 .7 1.9 .8 1.9 .9 1.9 1 1.9 1.1 1.9 1.1 1.9 1.3 1.9 1.3 1.9 1.3 1.9 1.5 1.8 1.5 1.9 1.6 1.9 1.6 1.8 1.7 1.9 1.8 1.9 1.7 1.8 1.9 1.8 1.8 1.9 1.9 1.8 1.9 1.9 1.9 1.8 1.9 1.8 1.9 1.8 2 1.8 1.9 1.8 1.8 1.9 1.9M73.8 282.9l1.8-2.2 1.8-2.3 1.9-2.2 1.8-2.2 1.8-2.1 1.9-2.1 1.8-2.1 1.9-2 1.9-2 1.8-1.9 1.9-1.9 1.9-1.8 1.9-1.7 1.8-1.6 1.9-1.6 1.9-1.5 1.9-1.4 1.9-1.3 1.9-1.2 1.9-1.1 1.9-1.1 1.9-.9 1.9-.8 1.9-.7 1.9-.7 2-.5 1.9-.4 1.9-.3 1.9-.2 1.9-.1 1.9 0 2 .1 1.9 .2 1.9 .3 1.9 .4 1.9 .6 1.9 .6 1.9 .7 1.9 .8 1.9 .9 1.9 1 1.9 1.1 1.9 1.1 1.9 1.3 1.9 1.3 1.9 1.4 1.9 1.5 1.9 1.5 1.8 1.6 1.9 1.7 1.9 1.7 1.8 1.7 1.9 1.8 1.8 1.8 1.9 1.9 1.8 1.9 1.8 1.9 1.9 1.9 1.8 2 1.8 1.9 1.8 1.9 1.9 2 1.8 1.9 1.8 1.8M75 284.6l1.8-2.2 1.9-2.2 1.8-2.2 1.9-2.2 1.8-2.1 1.9-2.1 1.8-2.1 1.9-2 1.8-2 1.9-1.9 1.9-1.9 1.9-1.8 1.8-1.7 1.9-1.6 1.9-1.6 1.9-1.4 1.9-1.4 1.9-1.3 1.9-1.2 1.9-1.2 1.9-1 1.9-.9 2-.8 1.9-.7 1.9-.7 1.9-.5 1.9-.4 1.9-.3 2-.2 1.9-.1 1.9 .1 1.9 .1 1.9 .2 2 .3 1.9 .5 1.9 .5 1.9 .6 1.9 .7 1.9 .9 1.9 .9 1.9 1 1.9 1.1 1.9 1.1 1.9 1.3 1.9 1.3 1.9 1.5 1.9 1.4 1.9 1.6 1.8 1.6 1.9 1.7 1.9 1.7 1.8 1.7 1.9 1.9 1.8 1.8 1.9 1.9 1.8 1.9 1.9 1.9 1.8 2 1.8 1.9 1.8 2 1.9 1.9 1.8 1.9 1.8 2 1.8 1.9M76.2 286.5l1.9-2.2 1.8-2.3 1.9-2.2 1.8-2.1 1.9-2.2 1.8-2.1 1.9-2.1 1.8-2 1.9-1.9 1.9-1.9 1.9-1.9 1.9-1.8 1.8-1.7 1.9-1.6 1.9-1.6 1.9-1.4 1.9-1.4 1.9-1.3 1.9-1.2 1.9-1.1 2-1 1.9-.9 1.9-.8 1.9-.8 1.9-.6 1.9-.5 2-.4 1.9-.3 1.9-.1 1.9-.1 2 0 1.9 .1 1.9 .3 1.9 .3 1.9 .4 2 .6 1.9 .6 1.9 .8 1.9 .8 1.9 .9 1.9 1 1.9 1.1 1.9 1.2 1.9 1.3 1.9 1.4 1.9 1.4 1.9 1.5 1.9 1.5 1.8 1.7 1.9 1.6 1.9 1.8 1.8 1.8 1.9 1.8 1.8 1.9 1.9 1.9 1.8 1.9 1.9 1.9 1.8 2 1.8 1.9 1.9 2 1.8 2 1.8 1.9 1.8 1.9 1.8 1.9M77.5 288.4l1.8-2.2 1.9-2.2 1.8-2.2 1.9-2.2 1.8-2.1 1.9-2.1 1.9-2.1 1.8-2 1.9-2 1.9-1.9 1.9-1.8 1.8-1.8 1.9-1.7 1.9-1.6 1.9-1.6 1.9-1.4 1.9-1.4 1.9-1.3 1.9-1.2 2-1.1 1.9-1 1.9-.9 1.9-.8 1.9-.7 2-.6 1.9-.5 1.9-.4 1.9-.3 2-.1 1.9-.1 1.9 0 1.9 .2 2 .2 1.9 .4 1.9 .4 1.9 .6 1.9 .6 2 .8 1.9 .8 1.9 .9 1.9 1.1 1.9 1.1 1.9 1.2 1.9 1.3 1.9 1.3 1.9 1.5 1.9 1.5 1.9 1.6 1.8 1.6 1.9 1.7 1.9 1.8 1.8 1.8 1.9 1.8 1.8 1.9 1.9 1.9 1.8 1.9 1.9 2 1.8 2 1.8 1.9 1.9 2 1.8 2 1.8 2 1.8 1.9 1.8 1.9M78.7 290.4l1.9-2.3 1.8-2.2 1.9-2.2 1.8-2.1 1.9-2.2 1.9-2 1.8-2.1 1.9-2 1.9-2 1.9-1.9 1.8-1.8 1.9-1.8 1.9-1.7 1.9-1.6 1.9-1.5 1.9-1.5 1.9-1.3 1.9-1.3 2-1.2 1.9-1.1 1.9-1 1.9-.9 1.9-.8 2-.7 1.9-.6 1.9-.5 1.9-.3 2-.3 1.9-.2 1.9 0 2 0 1.9 .2 1.9 .2 1.9 .4 2 .4 1.9 .6 1.9 .7 1.9 .7 2 .9 1.9 .9 1.9 1.1 1.9 1.1 1.9 1.2 1.9 1.3 1.9 1.4 1.9 1.5 1.9 1.5 1.8 1.6 1.9 1.6 1.9 1.7 1.9 1.8 1.8 1.8 1.9 1.9 1.9 1.9 1.8 1.9 1.8 1.9 1.9 2 1.8 2 1.9 2 1.8 2 1.8 2 1.8 2 1.8 1.9 1.8 2M80 292.4l1.8-2.2 1.9-2.2 1.8-2.2 1.9-2.2 1.8-2.1 1.9-2.1 1.9-2 1.9-2 1.9-2 1.8-1.9 1.9-1.8 1.9-1.8 1.9-1.7 1.9-1.6 1.9-1.5 1.9-1.5 1.9-1.3 2-1.3 1.9-1.2 1.9-1.1 1.9-.9 1.9-.9 2-.8 1.9-.7 1.9-.6 2-.5 1.9-.3 1.9-.3 2-.2 1.9 0 1.9 0 2 .2 1.9 .3 1.9 .3 1.9 .5 2 .6 1.9 .7 1.9 .7 1.9 .9 1.9 1 2 1 1.9 1.2 1.9 1.2 1.9 1.3 1.9 1.4 1.9 1.5 1.9 1.5 1.8 1.6 1.9 1.7 1.9 1.7 1.9 1.8 1.8 1.8 1.9 1.9 1.9 1.9 1.8 1.9 1.8 2 1.9 2 1.8 2 1.9 2 1.8 2 1.8 2 1.8 2 1.8 2 1.8 1.9M81.2 294.5l1.9-2.2 1.8-2.2 1.9-2.2 1.8-2.2 1.9-2.1 1.9-2.1 1.9-2 1.8-2 1.9-2 1.9-1.9 1.9-1.8 1.9-1.7 1.9-1.7 1.9-1.6 1.9-1.6 1.9-1.4 2-1.4 1.9-1.2 1.9-1.2 1.9-1.1 1.9-.9 2-.9 1.9-.8 1.9-.7 2-.6 1.9-.4 1.9-.4 2-.2 1.9-.2 1.9 0 2 0 1.9 .2 1.9 .3 2 .4 1.9 .5 1.9 .5 2 .7 1.9 .8 1.9 .9 1.9 1 1.9 1 1.9 1.2 2 1.2 1.9 1.4 1.9 1.4 1.9 1.5 1.8 1.5 1.9 1.6 1.9 1.7 1.9 1.7 1.9 1.8 1.8 1.9 1.9 1.9 1.8 1.9 1.9 1.9 1.8 2 1.9 2 1.8 2.1 1.9 2 1.8 2 1.8 2 1.8 2 1.8 2 1.8 2M82.4 296.6l1.9-2.2 1.9-2.2 1.8-2.2 1.9-2.1 1.9-2.2 1.9-2 1.8-2.1 1.9-2 1.9-1.9 1.9-1.9 1.9-1.8 1.9-1.8 1.9-1.6 1.9-1.6 1.9-1.6 1.9-1.4 2-1.3 1.9-1.3 1.9-1.2 1.9-1 2-1 1.9-.9 1.9-.8 2-.6 1.9-.6 1.9-.4 2-.4 1.9-.2 2-.2 1.9 0 1.9 .1 2 .2 1.9 .2 1.9 .4 2 .5 1.9 .6 1.9 .7 2 .8 1.9 .9 1.9 1 1.9 1.1 1.9 1.2 1.9 1.2 1.9 1.4 1.9 1.4 1.9 1.5 1.9 1.5 1.9 1.7 1.9 1.7 1.9 1.7 1.9 1.8 1.8 1.9 1.9 1.9 1.8 1.9 1.9 2 1.8 2 1.9 2 1.8 2 1.8 2.1 1.9 2 1.8 2.1 1.8 2 1.8 2 1.8 2M83.7 298.7l1.9-2.2 1.8-2.2 1.9-2.1 1.9-2.2 1.8-2.1 1.9-2.1 1.9-2 1.9-2 1.9-1.9 1.9-1.9 1.9-1.8 1.9-1.8 1.9-1.6 1.9-1.6 1.9-1.5 1.9-1.5 2-1.3 1.9-1.3 1.9-1.1 1.9-1.1 2-.9 1.9-.9 2-.8 1.9-.6 1.9-.6 2-.4 1.9-.4 2-.2 1.9-.1 1.9-.1 2 .1 1.9 .2 2 .3 1.9 .4 1.9 .5 2 .6 1.9 .8 1.9 .8 1.9 .9 2 1 1.9 1.1 1.9 1.2 1.9 1.2 1.9 1.4 1.9 1.4 1.9 1.5 1.9 1.6 1.9 1.6 1.9 1.7 1.9 1.8 1.8 1.8 1.9 1.9 1.9 1.9 1.8 2 1.9 2 1.8 2 1.9 2 1.8 2.1 1.8 2 1.9 2.1 1.8 2 1.8 2.1 1.8 2 1.8 2M84.9 300.9l1.9-2.2 1.9-2.2 1.8-2.2 1.9-2.1 1.9-2.1 1.9-2.1 1.9-2 1.9-2 1.9-1.9 1.9-1.9 1.9-1.8 1.9-1.7 1.9-1.7 1.9-1.6 1.9-1.5 1.9-1.4 2-1.4 1.9-1.2 1.9-1.2 2-1 1.9-1 1.9-.8 2-.8 1.9-.6 2-.6 1.9-.4 2-.3 1.9-.3 1.9-.1 2 0 1.9 .1 2 .2 1.9 .3 1.9 .4 2 .5 1.9 .7 2 .7 1.9 .8 1.9 .9 1.9 1.1 2 1.1 1.9 1.2 1.9 1.2 1.9 1.4 1.9 1.5 1.9 1.5 1.9 1.6 1.9 1.6 1.9 1.8 1.9 1.7 1.8 1.9 1.9 1.9 1.9 1.9 1.8 2 1.9 2 1.8 2 1.9 2 1.8 2.1 1.8 2.1 1.9 2.1 1.8 2 1.8 2.1 1.8 2 1.8 2M86.2 303l1.9-2.2 1.8-2.1 1.9-2.2 1.9-2.1 1.9-2.1 1.9-2.1 1.8-2 1.9-2 1.9-1.9 1.9-1.9 2-1.8 1.9-1.7 1.9-1.7 1.9-1.6 1.9-1.5 1.9-1.4 2-1.3 1.9-1.2 1.9-1.2 2-1 1.9-1 2-.8 1.9-.8 1.9-.6 2-.5 1.9-.5 2-.3 1.9-.2 2-.1 1.9 0 2 .1 1.9 .2 2 .3 1.9 .4 1.9 .6 2 .6 1.9 .7 2 .9 1.9 .9 1.9 1 1.9 1.2 1.9 1.2 2 1.3 1.9 1.3 1.9 1.5 1.9 1.5 1.9 1.6 1.9 1.7 1.9 1.8 1.8 1.8 1.9 1.8 1.9 1.9 1.8 2 1.9 1.9 1.9 2.1 1.8 2 1.8 2.1 1.9 2.1 1.8 2 1.8 2.1 1.9 2.1 1.8 2.1 1.8 2 1.8 2.1M87.4 305.2l1.9-2.2 1.9-2.2 1.9-2.1 1.8-2.2 1.9-2.1 1.9-2 1.9-2 1.9-2 1.9-1.9 1.9-1.9 1.9-1.8 2-1.7 1.9-1.7 1.9-1.5 1.9-1.5 1.9-1.4 2-1.4 1.9-1.2 2-1.1 1.9-1.1 1.9-.9 2-.8 1.9-.8 2-.6 1.9-.5 2-.5 1.9-.3 2-.2 1.9-.1 2 0 1.9 .2 2 .2 1.9 .3 2 .5 1.9 .5 1.9 .6 2 .8 1.9 .8 1.9 1 2 1 1.9 1.2 1.9 1.2 1.9 1.3 1.9 1.4 2 1.5 1.9 1.5 1.9 1.6 1.8 1.7 1.9 1.8 1.9 1.8 1.9 1.9 1.9 1.9 1.8 1.9 1.9 2 1.8 2.1 1.9 2 1.8 2.1 1.9 2.1 1.8 2.1 1.8 2.1 1.8 2.1 1.9 2.1 1.8 2.1 1.8 2M88.7 307.3l1.9-2.2 1.8-2.1 1.9-2.2 1.9-2.1 1.9-2.1 1.9-2.1 1.9-2 1.9-1.9 1.9-1.9 1.9-1.9 1.9-1.8 1.9-1.7 2-1.7 1.9-1.5 1.9-1.5 1.9-1.4 2-1.3 1.9-1.2 2-1.2 1.9-1 2-.9 1.9-.9 2-.7 1.9-.6 2-.5 1.9-.5 2-.3 1.9-.2 2 0 1.9 0 2 .1 1.9 .2 2 .4 1.9 .4 2 .6 1.9 .7 1.9 .7 2 .9 1.9 .9 1.9 1.1 2 1.1 1.9 1.3 1.9 1.3 1.9 1.4 1.9 1.5 1.9 1.6 1.9 1.6 1.9 1.7 1.9 1.8 1.9 1.8 1.9 1.9 1.8 1.9 1.9 2 1.9 2 1.8 2 1.9 2.1 1.8 2.1 1.8 2.1 1.9 2.2 1.8 2.1 1.8 2.1 1.8 2.1 1.9 2.1 1.8 2M89.9 309.4l1.9-2.2 1.9-2.1 1.9-2.2 1.9-2.1 1.9-2.1 1.8-2 2-2 1.9-2 1.9-1.9 1.9-1.9 1.9-1.7 1.9-1.7 1.9-1.7 2-1.5 1.9-1.5 1.9-1.4 2-1.3 1.9-1.2 2-1.2 1.9-1 2-.9 1.9-.8 2-.8 1.9-.6 2-.5 1.9-.4 2-.3 1.9-.2 2 0 2 0 1.9 .1 2 .3 1.9 .3 2 .5 1.9 .6 2 .6 1.9 .8 1.9 .9 2 1 1.9 1 1.9 1.2 2 1.2 1.9 1.4 1.9 1.4 1.9 1.5 1.9 1.6 1.9 1.6 1.9 1.7 1.9 1.8 1.9 1.9 1.8 1.9 1.9 1.9 1.9 2 1.8 2 1.9 2.1 1.8 2.1 1.9 2.1 1.8 2.1 1.9 2.2 1.8 2.1 1.8 2.1 1.8 2.2 1.8 2.1 1.8 2M91.2 311.4l1.8-2.1 1.9-2.2 1.9-2.1 1.9-2.1 1.9-2.1 1.9-2.1 1.9-2 1.9-1.9 1.9-1.9 2-1.9 1.9-1.7 1.9-1.7 1.9-1.7 2-1.5 1.9-1.5 1.9-1.4 2-1.3 1.9-1.2 2-1.1 1.9-1 2-.9 1.9-.8 2-.8 1.9-.6 2-.5 2-.4 1.9-.2 2-.2 1.9-.1 2 .1 2 .1 1.9 .3 2 .3 1.9 .5 2 .6 1.9 .7 2 .8 1.9 .8 1.9 1 2 1.1 1.9 1.2 1.9 1.2 1.9 1.4 2 1.4 1.9 1.6 1.9 1.5 1.9 1.7 1.9 1.7 1.9 1.8 1.8 1.9 1.9 1.9 1.9 2 1.9 2 1.8 2 1.9 2.1 1.8 2.1 1.9 2.2 1.8 2.1 1.8 2.1 1.9 2.2 1.8 2.1 1.8 2.2 1.8 2.1 1.8 2.1M92.4 313.4l1.9-2.2 1.9-2.1 1.9-2.1 1.9-2.1 1.9-2.1 1.9-2 1.9-2 1.9-2 1.9-1.9 1.9-1.8 2-1.8 1.9-1.7 1.9-1.6 2-1.6 1.9-1.4 1.9-1.4 2-1.3 1.9-1.2 2-1.1 1.9-1 2-.9 2-.8 1.9-.7 2-.6 1.9-.5 2-.4 2-.3 1.9-.1 2-.1 1.9 .1 2 .1 2 .3 1.9 .4 2 .5 1.9 .6 2 .7 1.9 .8 2 .9 1.9 .9 1.9 1.1 2 1.2 1.9 1.3 1.9 1.4 1.9 1.4 1.9 1.6 1.9 1.6 1.9 1.6 1.9 1.8 1.9 1.8 1.9 1.9 1.9 1.9 1.9 2 1.8 2 1.9 2.1 1.9 2.1 1.8 2.1 1.8 2.1 1.9 2.2 1.8 2.2 1.8 2.1 1.9 2.2 1.8 2.1 1.8 2.2 1.8 2.1M34.9 290l1.2-1.9 1.1-1.8 1.1-1.8 1.1-1.6 1.1-1.6 1.2-1.6 1.1-1.4 1.1-1.3 1.2-1.2 1.1-1.2 1.2-1 1.1-.9 1.2-.8 1.2-.6 1.1-.5 1.2-.5 1.2-.2 1.2-.2 1.1 0 1.2 .1 1.2 .3 1.2 .3 1.2 .5 1.2 .7 1.2 .8 1.3 .8 1.2 1.1 1.2 1.1 1.2 1.2 1.3 1.4 1.2 1.5 1.2 1.5 1.3 1.7 1.2 1.7 1.2 1.9 1.3 1.9 1.2 2 1.3 2 1.2 2.1 1.2 2.1 1.3 2.1 1.2 2.2 1.3 2.1 1.2 2.2 1.3 2.1 1.2 2.1 1.3 2 1.2 2M36.6 287.5l1.1-1.8 1.1-1.8 1.2-1.8 1.1-1.6 1.1-1.6 1.2-1.5 1.1-1.5 1.1-1.3 1.2-1.2 1.1-1.1 1.2-1 1.2-.9 1.1-.8 1.2-.6 1.2-.6 1.1-.4 1.2-.3 1.2-.1 1.2 0 1.2 .1 1.2 .3 1.2 .3 1.2 .6 1.2 .6 1.2 .8 1.3 .9 1.2 1 1.2 1.1 1.2 1.3 1.3 1.4 1.2 1.4 1.2 1.6 1.3 1.7 1.2 1.7 1.3 1.9 1.2 1.9 1.3 1.9 1.2 2.1 1.3 2.1 1.2 2.1 1.3 2.1 1.2 2.2 1.3 2.1 1.2 2.2 1.3 2.1 1.2 2.1 1.2 2.1 1.3 1.9M38.2 285.1l1.2-1.8 1.1-1.8 1.1-1.8 1.2-1.6 1.1-1.6 1.1-1.5 1.2-1.4 1.1-1.4 1.2-1.2 1.2-1.1 1.1-1 1.2-.9 1.2-.7 1.1-.7 1.2-.5 1.2-.4 1.2-.3 1.2-.1 1.2 0 1.2 .1 1.2 .3 1.2 .4 1.2 .5 1.2 .6 1.2 .8 1.3 .9 1.2 1 1.2 1.2 1.3 1.2 1.2 1.4 1.2 1.5 1.3 1.6 1.2 1.6 1.3 1.8 1.2 1.8 1.3 2 1.2 1.9 1.3 2.1 1.2 2.1 1.3 2.1 1.2 2.1 1.3 2.2 1.2 2.2 1.3 2.1 1.2 2.2 1.3 2.1 1.2 2 1.3 2M39.9 282.7l1.1-1.8 1.2-1.8 1.1-1.8 1.1-1.6 1.2-1.6 1.1-1.5 1.2-1.4 1.1-1.3 1.2-1.2 1.2-1.1 1.1-1 1.2-.9 1.2-.8 1.2-.6 1.2-.5 1.1-.4 1.2-.3 1.2-.1 1.2 0 1.3 .1 1.2 .3 1.2 .4 1.2 .5 1.2 .7 1.2 .8 1.3 .9 1.2 1 1.2 1.2 1.3 1.2 1.2 1.4 1.3 1.5 1.2 1.6 1.3 1.6 1.2 1.8 1.3 1.8 1.2 2 1.3 1.9 1.2 2.1 1.3 2.1 1.2 2.1 1.3 2.2 1.2 2.1 1.3 2.2 1.3 2.2 1.2 2.1 1.3 2.1 1.2 2.1 1.3 2M41.5 280.3l1.2-1.8 1.1-1.8 1.2-1.7 1.1-1.7 1.2-1.5 1.1-1.5 1.2-1.4 1.2-1.3 1.1-1.2 1.2-1.1 1.2-1 1.1-.9 1.2-.7 1.2-.7 1.2-.5 1.2-.4 1.2-.2 1.2-.2 1.2 .1 1.2 .1 1.2 .3 1.3 .4 1.2 .5 1.2 .7 1.2 .7 1.3 1 1.2 1 1.3 1.1 1.2 1.3 1.2 1.4 1.3 1.5 1.2 1.6 1.3 1.6 1.3 1.8 1.2 1.9 1.3 1.9 1.2 2 1.3 2 1.2 2.1 1.3 2.2 1.3 2.1 1.2 2.2 1.3 2.2 1.2 2.1 1.3 2.2 1.3 2.1 1.2 2.1 1.3 2M43.2 278l1.2-1.9 1.1-1.7 1.2-1.7 1.1-1.7 1.2-1.6 1.1-1.4 1.2-1.4 1.2-1.3 1.1-1.2 1.2-1.1 1.2-1 1.2-.9 1.2-.7 1.2-.6 1.2-.5 1.2-.4 1.2-.3 1.2-.1 1.2 0 1.2 .2 1.2 .2 1.3 .4 1.2 .6 1.2 .6 1.3 .8 1.2 1 1.2 1 1.3 1.2 1.2 1.2 1.3 1.4 1.2 1.5 1.3 1.6 1.2 1.7 1.3 1.8 1.3 1.8 1.2 2 1.3 1.9 1.2 2.1 1.3 2.1 1.3 2.1 1.2 2.2 1.3 2.2 1.3 2.2 1.2 2.1 1.3 2.2 1.3 2.1 1.2 2.1 1.3 2M44.9 275.7l1.1-1.9 1.2-1.7 1.1-1.7 1.2-1.7 1.2-1.5 1.1-1.5 1.2-1.4 1.2-1.3 1.2-1.2 1.1-1.1 1.2-.9 1.2-.9 1.2-.7 1.2-.7 1.2-.5 1.2-.3 1.2-.3 1.3-.1 1.2 0 1.2 .2 1.2 .3 1.3 .4 1.2 .5 1.2 .7 1.3 .8 1.2 .9 1.3 1.1 1.2 1.1 1.3 1.3 1.2 1.4 1.3 1.5 1.2 1.6 1.3 1.7 1.3 1.8 1.2 1.8 1.3 2 1.3 2 1.2 2 1.3 2.1 1.3 2.2 1.2 2.1 1.3 2.2 1.3 2.2 1.2 2.2 1.3 2.1 1.2 2.2 1.3 2 1.3 2.1M46.5 273.4l1.2-1.8 1.2-1.8 1.1-1.7 1.2-1.6 1.2-1.6 1.1-1.5 1.2-1.3 1.2-1.3 1.2-1.2 1.2-1.1 1.2-.9 1.2-.9 1.2-.7 1.2-.7 1.2-.4 1.2-.4 1.2-.2 1.2-.2 1.3 .1 1.2 .1 1.2 .3 1.3 .4 1.2 .6 1.2 .7 1.3 .8 1.2 .9 1.3 1 1.2 1.2 1.3 1.3 1.3 1.4 1.2 1.5 1.3 1.6 1.2 1.7 1.3 1.8 1.3 1.8 1.3 2 1.2 2 1.3 2.1 1.3 2.1 1.2 2.1 1.3 2.2 1.3 2.2 1.2 2.2 1.3 2.2 1.3 2.1 1.3 2.2 1.2 2 1.3 2.1M48.2 271.1l1.2-1.8 1.1-1.7 1.2-1.7 1.2-1.6 1.2-1.6 1.2-1.5 1.1-1.3 1.2-1.3 1.2-1.2 1.2-1 1.2-1 1.2-.9 1.2-.7 1.2-.6 1.3-.5 1.2-.3 1.2-.3 1.2-.1 1.3 .1 1.2 .1 1.2 .3 1.3 .4 1.2 .6 1.3 .7 1.2 .8 1.3 .9 1.2 1.1 1.3 1.2 1.2 1.2 1.3 1.4 1.3 1.6 1.2 1.6 1.3 1.7 1.3 1.8 1.2 1.8 1.3 2 1.3 2 1.3 2.1 1.2 2.1 1.3 2.1 1.3 2.2 1.3 2.2 1.2 2.2 1.3 2.2 1.3 2.2 1.3 2.1 1.2 2.1 1.3 2M49.9 268.9l1.2-1.8 1.1-1.7 1.2-1.7 1.2-1.6 1.2-1.5 1.2-1.5 1.2-1.4 1.2-1.2 1.2-1.2 1.2-1.1 1.2-.9 1.2-.9 1.2-.7 1.2-.6 1.2-.5 1.3-.3 1.2-.2 1.2-.1 1.3 0 1.2 .2 1.2 .3 1.3 .4 1.2 .6 1.3 .6 1.2 .9 1.3 .9 1.3 1.1 1.2 1.2 1.3 1.2 1.3 1.5 1.2 1.5 1.3 1.6 1.3 1.7 1.2 1.8 1.3 1.9 1.3 1.9 1.3 2 1.3 2.1 1.2 2.1 1.3 2.2 1.3 2.2 1.3 2.2 1.2 2.2 1.3 2.2 1.3 2.2 1.3 2.1 1.2 2.1 1.3 2M52.7 265l1.2-1.7 1.2-1.7 1.2-1.6 1.2-1.5 1.2-1.5 1.2-1.3 1.2-1.3 1.2-1.2 1.2-1 1.2-1 1.2-.8 1.3-.7 1.2-.6 1.2-.5 1.2-.3 1.3-.3 1.2 0 1.2 0 1.3 .2 1.2 .3 1.3 .4 1.2 .6 1.3 .7 1.3 .8 1.2 .9 1.3 1.1 1.3 1.2 1.2 1.3 1.3 1.4 1.3 1.5 1.3 1.7 1.2 1.7 1.3 1.8 1.3 1.9 1.3 1.9 1.3 2 1.2 2.1 1.3 2.1 1.3 2.2 1.3 2.2 1.3 2.2 1.2 2.2 1.3 2.2 1.3 2.2 1.3 2.1 1.3 2.1 1.2 2.1M55.6 261.2l1.2-1.7 1.2-1.6 1.2-1.5 1.2-1.4 1.2-1.4 1.2-1.2 1.2-1.2 1.2-1 1.3-1 1.2-.8 1.2-.7 1.2-.6 1.3-.5 1.2-.3 1.3-.2 1.2-.1 1.3 .1 1.2 .1 1.3 .4 1.2 .4 1.3 .6 1.2 .7 1.3 .8 1.3 .9 1.2 1.1 1.3 1.2 1.3 1.3 1.3 1.4 1.2 1.6 1.3 1.6 1.3 1.7 1.3 1.8 1.3 1.9 1.3 2 1.2 2 1.3 2.1 1.3 2.1 1.3 2.2 1.3 2.2 1.3 2.2 1.3 2.2 1.2 2.2 1.3 2.2 1.3 2.2 1.3 2.1 1.3 2M57.3 259.2l1.2-1.6 1.2-1.6 1.2-1.6 1.2-1.4 1.2-1.3 1.3-1.3 1.2-1.1 1.2-1.1 1.2-.9 1.3-.8 1.2-.7 1.2-.6 1.3-.5 1.2-.3 1.3-.2 1.2-.1 1.3 .1 1.2 .2 1.3 .3 1.2 .4 1.3 .6 1.3 .7 1.2 .9 1.3 .9 1.3 1.1 1.3 1.2 1.2 1.3 1.3 1.4 1.3 1.6 1.3 1.6 1.3 1.7 1.3 1.8 1.3 1.9 1.2 2 1.3 2 1.3 2.1 1.3 2.2 1.3 2.1 1.3 2.2 1.3 2.3 1.3 2.2 1.3 2.2 1.2 2.2 1.3 2.2 1.3 2.1 1.3 2M59 257.3l1.2-1.7 1.2-1.6 1.3-1.5 1.2-1.4 1.2-1.3 1.2-1.3 1.2-1.1 1.3-1 1.2-1 1.2-.8 1.3-.7 1.2-.5 1.3-.5 1.2-.3 1.3-.2 1.2-.1 1.3 .1 1.2 .2 1.3 .3 1.3 .5 1.2 .5 1.3 .7 1.3 .9 1.3 1 1.2 1 1.3 1.2 1.3 1.4 1.3 1.4 1.3 1.5 1.3 1.7 1.3 1.7 1.2 1.8 1.3 1.9 1.3 2 1.3 2 1.3 2.1 1.3 2.2 1.3 2.2 1.3 2.2 1.3 2.2 1.3 2.2 1.3 2.2 1.3 2.2 1.2 2.2 1.3 2.1 1.3 2.1M61.9 253.8l1.3-1.6 1.2-1.5 1.2-1.4 1.2-1.3 1.3-1.3 1.2-1.1 1.2-1 1.3-1 1.2-.8 1.2-.6 1.3-.6 1.2-.5 1.3-.3 1.3-.2 1.2 0 1.3 0 1.2 .2 1.3 .4 1.3 .4 1.3 .6 1.2 .7 1.3 .9 1.3 1 1.3 1.1 1.3 1.2 1.3 1.3 1.3 1.4 1.3 1.6 1.2 1.6 1.3 1.8 1.3 1.8 1.3 1.9 1.3 2 1.3 2 1.3 2.1 1.3 2.2 1.3 2.2 1.3 2.2 1.3 2.2 1.3 2.2 1.3 2.3 1.3 2.2 1.3 2.2 1.3 2.1 1.3 2M64.9 250.4l1.2-1.5 1.2-1.4 1.3-1.3 1.2-1.2 1.2-1.1 1.3-1.1 1.2-.9 1.3-.8 1.2-.7 1.3-.5 1.2-.4 1.3-.4 1.3-.1 1.2-.1 1.3 .1 1.3 .2 1.2 .3 1.3 .5 1.3 .6 1.3 .7 1.3 .9 1.3 1 1.3 1.1 1.2 1.2 1.3 1.3 1.3 1.5 1.3 1.5 1.3 1.7 1.3 1.7 1.3 1.8 1.3 1.9 1.3 2 1.3 2.1 1.3 2.1 1.3 2.1 1.3 2.2 1.3 2.3 1.3 2.2 1.3 2.2 1.3 2.3 1.3 2.2 1.3 2.2 1.3 2.1 1.3 2.1M66.6 248.7l1.2-1.5 1.3-1.4 1.2-1.3 1.3-1.2 1.2-1.1 1.2-1 1.3-.9 1.3-.8 1.2-.7 1.3-.5 1.2-.5 1.3-.3 1.3-.1 1.2-.1 1.3 .1 1.3 .2 1.3 .4 1.3 .4 1.3 .6 1.2 .8 1.3 .8 1.3 1 1.3 1.1 1.3 1.3 1.3 1.3 1.3 1.5 1.3 1.5 1.3 1.7 1.3 1.7 1.3 1.9 1.3 1.9 1.3 2 1.3 2 1.3 2.1 1.3 2.2 1.3 2.2 1.3 2.2 1.3 2.3 1.3 2.2 1.3 2.3 1.3 2.2 1.3 2.2 1.3 2.1 1.3 2.1M68.3 247.1l1.3-1.5 1.2-1.4 1.3-1.3 1.2-1.2 1.3-1.1 1.2-1 1.3-.9 1.2-.8 1.3-.6 1.3-.6 1.2-.4 1.3-.3 1.3-.1 1.3-.1 1.2 .1 1.3 .2 1.3 .4 1.3 .5 1.3 .6 1.3 .7 1.3 .9 1.3 1 1.3 1.1 1.3 1.2 1.3 1.4 1.3 1.4 1.3 1.6 1.3 1.7 1.3 1.7 1.3 1.9 1.3 1.9 1.3 2 1.3 2.1 1.3 2.1 1.4 2.1 1.3 2.3 1.3 2.2 1.3 2.2 1.3 2.3 1.3 2.2 1.3 2.3 1.3 2.2 1.3 2.1 1.3 2.1M71.3 244.1l1.3-1.4 1.2-1.3 1.3-1.2 1.2-1.1 1.3-1 1.3-.8 1.2-.8 1.3-.7 1.3-.5 1.2-.4 1.3-.3 1.3-.2 1.3 0 1.3 .1 1.3 .2 1.3 .4 1.3 .5 1.2 .6 1.3 .8 1.3 .8 1.3 1 1.4 1.1 1.3 1.3 1.3 1.3 1.3 1.5 1.3 1.6 1.3 1.6 1.3 1.8 1.3 1.9 1.3 1.9 1.3 2 1.3 2.1 1.4 2.1 1.3 2.2 1.3 2.2 1.3 2.2 1.3 2.3 1.3 2.3 1.3 2.2 1.3 2.3 1.3 2.2 1.3 2.1 1.3 2.1M73.1 242.7l1.2-1.4 1.3-1.3 1.2-1.2 1.3-1.1 1.3-1 1.2-.8 1.3-.8 1.3-.6 1.3-.6 1.3-.4 1.2-.3 1.3-.1 1.3 0 1.3 .1 1.3 .2 1.3 .4 1.3 .5 1.3 .6 1.3 .8 1.3 .9 1.3 1 1.3 1.1 1.3 1.2 1.3 1.4 1.4 1.5 1.3 1.5 1.3 1.7 1.3 1.8 1.3 1.9 1.3 1.9 1.3 2 1.4 2.1 1.3 2.1 1.3 2.2 1.3 2.2 1.3 2.3 1.3 2.2 1.3 2.3 1.4 2.3 1.3 2.2 1.3 2.2 1.3 2.2 1.3 2.1M77.3 238.7l1.3-1.2 1.3-1.1 1.3-1 1.2-.8 1.3-.8 1.3-.6 1.3-.5 1.3-.4 1.3-.3 1.2-.1 1.3-.1 1.3 .2 1.3 .2 1.3 .4 1.3 .5 1.4 .6 1.3 .8 1.3 .9 1.3 1 1.3 1.1 1.3 1.3 1.3 1.3 1.3 1.5 1.4 1.6 1.3 1.7 1.3 1.8 1.3 1.8 1.3 2 1.4 2 1.3 2.1 1.3 2.1 1.3 2.2 1.3 2.3 1.3 2.2 1.4 2.3 1.3 2.3 1.3 2.2 1.3 2.3 1.3 2.2 1.3 2.2 1.3 2.1M79.1 237.4l1.3-1.1 1.3-1.1 1.2-1 1.3-.8 1.3-.8 1.3-.6 1.3-.5 1.3-.4 1.3-.3 1.3-.1 1.3 0 1.3 .1 1.3 .3 1.3 .4 1.3 .5 1.3 .6 1.3 .8 1.3 .9 1.4 1 1.3 1.1 1.3 1.3 1.3 1.4 1.3 1.5 1.4 1.6 1.3 1.7 1.3 1.7 1.3 1.9 1.4 2 1.3 2 1.3 2.1 1.3 2.2 1.3 2.2 1.4 2.2 1.3 2.3 1.3 2.2 1.3 2.3 1.3 2.3 1.4 2.3 1.3 2.2 1.3 2.2 1.3 2.1M82.2 235.1l1.2-1 1.3-1 1.3-.9 1.3-.7 1.3-.6 1.3-.5 1.3-.4 1.3-.2 1.3-.2 1.3 0 1.3 .2 1.3 .2 1.3 .4 1.4 .6 1.3 .6 1.3 .8 1.3 .9 1.3 1 1.4 1.2 1.3 1.2 1.3 1.4 1.3 1.5 1.4 1.6 1.3 1.7 1.3 1.8 1.3 1.9 1.4 2 1.3 2 1.3 2.1 1.3 2.2 1.4 2.2 1.3 2.2 1.3 2.3 1.3 2.3 1.4 2.3 1.3 2.3 1.3 2.2 1.3 2.3 1.3 2.2 1.4 2.1M85.2 233l1.3-.9 1.3-.9 1.3-.7 1.3-.6 1.3-.5 1.3-.4 1.3-.2 1.3-.1 1.3 0 1.4 .1 1.3 .3 1.3 .4 1.3 .5 1.3 .7 1.4 .8 1.3 .9 1.3 1 1.3 1.2 1.4 1.3 1.3 1.4 1.3 1.5 1.4 1.6 1.3 1.7 1.3 1.8 1.4 1.9 1.3 2 1.3 2 1.3 2.1 1.4 2.2 1.3 2.2 1.3 2.2 1.4 2.3 1.3 2.3 1.3 2.3 1.3 2.3 1.4 2.3 1.3 2.2 1.3 2.2 1.3 2.2M87 232.1l1.3-1 1.3-.8 1.3-.7 1.3-.6 1.3-.5 1.3-.4 1.4-.2 1.3-.1 1.3 0 1.3 .2 1.3 .3 1.4 .4 1.3 .5 1.3 .7 1.3 .8 1.4 .9 1.3 1.1 1.3 1.1 1.4 1.3 1.3 1.4 1.3 1.5 1.4 1.6 1.3 1.8 1.3 1.8 1.4 1.9 1.3 1.9 1.3 2.1 1.4 2.1 1.3 2.2 1.3 2.2 1.4 2.3 1.3 2.3 1.3 2.3 1.3 2.3 1.4 2.3 1.3 2.3 1.3 2.2 1.3 2.2 1.4 2.2M90.1 230.3l1.3-.8 1.3-.7 1.3-.6 1.3-.5 1.4-.3 1.3-.3 1.3-.1 1.3 .1 1.4 .1 1.3 .3 1.3 .4 1.3 .6 1.4 .7 1.3 .8 1.3 .9 1.4 1.1 1.3 1.1 1.4 1.3 1.3 1.4 1.3 1.6 1.4 1.6 1.3 1.7 1.3 1.8 1.4 1.9 1.3 2 1.4 2.1 1.3 2.1 1.3 2.2 1.4 2.2 1.3 2.3 1.3 2.3 1.4 2.3 1.3 2.4 1.3 2.3 1.4 2.3 1.3 2.2 1.3 2.2 1.3 2.2M91.9 229.6l1.3-.9 1.3-.6 1.4-.6 1.3-.5 1.3-.3 1.3-.2 1.3-.1 1.4 0 1.3 .2 1.3 .3 1.4 .4 1.3 .6 1.3 .7 1.4 .8 1.3 .9 1.4 1.1 1.3 1.2 1.3 1.3 1.4 1.4 1.3 1.5 1.4 1.7 1.3 1.7 1.4 1.8 1.3 1.9 1.3 2 1.4 2.1 1.3 2.1 1.4 2.2 1.3 2.3 1.3 2.3 1.4 2.3 1.3 2.3 1.3 2.3 1.4 2.3 1.3 2.3 1.3 2.3 1.4 2.2 1.3 2.2M95 228.1l1.3-.7 1.4-.5 1.3-.5 1.3-.3 1.4-.2 1.3-.1 1.3 .1 1.4 .1 1.3 .3 1.3 .5 1.4 .6 1.3 .6 1.4 .9 1.3 .9 1.4 1.1 1.3 1.2 1.3 1.3 1.4 1.4 1.3 1.6 1.4 1.6 1.3 1.8 1.4 1.8 1.3 1.9 1.4 2 1.3 2.1 1.3 2.2 1.4 2.2 1.3 2.2 1.4 2.3 1.3 2.3 1.4 2.4 1.3 2.3 1.3 2.3 1.4 2.3 1.3 2.3 1.3 2.3 1.4 2.1M98.2 226.9l1.3-.5 1.3-.5 1.4-.3 1.3-.2 1.3-.1 1.4 .1 1.3 .2 1.4 .3 1.3 .5 1.3 .5 1.4 .7 1.3 .9 1.4 .9 1.3 1.1 1.4 1.2 1.3 1.4 1.4 1.4 1.3 1.5 1.4 1.7 1.3 1.7 1.4 1.9 1.3 1.9 1.4 2 1.3 2.1 1.4 2.2 1.3 2.2 1.4 2.3 1.3 2.3 1.4 2.3 1.3 2.3 1.3 2.4 1.4 2.3 1.3 2.3 1.3 2.3 1.4 2.3 1.3 2.2M100 226.5l1.3-.6 1.4-.4 1.3-.3 1.3-.2 1.4 0 1.3 0 1.4 .2 1.3 .4 1.4 .4 1.3 .6 1.4 .7 1.3 .9 1.4 1 1.3 1.1 1.4 1.2 1.3 1.3 1.4 1.4 1.3 1.6 1.4 1.7 1.4 1.7 1.3 1.9 1.4 1.9 1.3 2.1 1.4 2.1 1.3 2.1 1.4 2.2 1.3 2.3 1.4 2.3 1.3 2.4 1.3 2.3 1.4 2.4 1.3 2.3 1.4 2.4 1.3 2.3 1.3 2.2 1.4 2.2M103.1 225.6l1.4-.4 1.3-.3 1.4-.2 1.3 0 1.4 .1 1.3 .2 1.4 .3 1.3 .5 1.4 .6 1.3 .7 1.4 .9 1.4 1 1.3 1.1 1.4 1.2 1.3 1.3 1.4 1.5 1.3 1.6 1.4 1.6 1.4 1.8 1.3 1.9 1.4 1.9 1.3 2.1 1.4 2.1 1.3 2.2 1.4 2.2 1.3 2.3 1.4 2.3 1.3 2.3 1.4 2.4 1.3 2.4 1.4 2.3 1.3 2.4 1.4 2.3 1.3 2.3 1.3 2.2M105 225.4l1.3-.4 1.4-.3 1.3-.1 1.4-.1 1.3 .1 1.4 .3 1.3 .3 1.4 .5 1.4 .6 1.3 .7 1.4 .9 1.3 1 1.4 1.1 1.4 1.2 1.3 1.4 1.4 1.5 1.4 1.5 1.3 1.7 1.4 1.8 1.3 1.9 1.4 2 1.4 2 1.3 2.1 1.4 2.2 1.3 2.2 1.4 2.3 1.3 2.4 1.4 2.3 1.3 2.4 1.4 2.4 1.3 2.4 1.4 2.3 1.3 2.3 1.4 2.3 1.3 2.2M109.5 224.6l1.4-.1 1.3 0 1.4 .1 1.3 .2 1.4 .4 1.4 .5 1.3 .6 1.4 .7 1.4 .9 1.3 1 1.4 1.1 1.4 1.3 1.3 1.4 1.4 1.4 1.4 1.6 1.3 1.7 1.4 1.8 1.4 1.9 1.3 2 1.4 2 1.3 2.2 1.4 2.2 1.4 2.2 1.3 2.3 1.4 2.4 1.3 2.3 1.4 2.4 1.3 2.4 1.4 2.4 1.3 2.3 1.4 2.4 1.3 2.3 1.4 2.2M111.3 224.7l1.4-.2 1.4 0 1.3 .1 1.4 .3 1.4 .3 1.3 .5 1.4 .7 1.4 .7 1.3 .9 1.4 1 1.4 1.2 1.4 1.2 1.3 1.4 1.4 1.5 1.4 1.6 1.3 1.7 1.4 1.8 1.4 1.9 1.3 2 1.4 2.1 1.4 2.1 1.3 2.2 1.4 2.3 1.3 2.3 1.4 2.3 1.4 2.4 1.3 2.4 1.4 2.4 1.3 2.4 1.4 2.4 1.3 2.3 1.4 2.3 1.3 2.3M113.2 224.8l1.3-.2 1.4 0 1.4 .2 1.4 .2 1.3 .4 1.4 .5 1.4 .7 1.3 .7 1.4 .9 1.4 1.1 1.4 1.1 1.3 1.3 1.4 1.4 1.4 1.5 1.4 1.6 1.3 1.7 1.4 1.8 1.4 1.9 1.4 2 1.3 2.1 1.4 2.2 1.3 2.2 1.4 2.2 1.4 2.4 1.3 2.3 1.4 2.4 1.3 2.4 1.4 2.4 1.4 2.5 1.3 2.3 1.4 2.4 1.3 2.3 1.4 2.3M115 225l1.4-.1 1.4 0 1.3 .1 1.4 .3 1.4 .4 1.4 .5 1.3 .7 1.4 .7 1.4 1 1.4 1 1.4 1.2 1.3 1.2 1.4 1.4 1.4 1.6 1.4 1.6 1.3 1.7 1.4 1.8 1.4 1.9 1.4 2.1 1.3 2 1.4 2.2 1.4 2.2 1.3 2.3 1.4 2.4 1.4 2.3 1.3 2.4 1.4 2.4 1.3 2.5 1.4 2.4 1.4 2.4 1.3 2.4 1.4 2.3 1.3 2.3M118.2 225.2l1.4 0 1.4 .2 1.4 .2 1.4 .4 1.3 .6 1.4 .7 1.4 .8 1.4 .9 1.4 1 1.4 1.2 1.3 1.3 1.4 1.4 1.4 1.5 1.4 1.7 1.4 1.7 1.3 1.8 1.4 2 1.4 2 1.4 2.1 1.3 2.2 1.4 2.2 1.4 2.3 1.3 2.3 1.4 2.4 1.4 2.4 1.3 2.5 1.4 2.4 1.3 2.4 1.4 2.5 1.4 2.3 1.3 2.4 1.4 2.3M120.1 225.6l1.4 0 1.3 .2 1.4 .3 1.4 .4 1.4 .6 1.4 .6 1.4 .8 1.4 1 1.4 1 1.3 1.2 1.4 1.3 1.4 1.5 1.4 1.5 1.4 1.6 1.4 1.8 1.3 1.8 1.4 2 1.4 2 1.4 2.1 1.3 2.2 1.4 2.3 1.4 2.3 1.4 2.3 1.3 2.4 1.4 2.5 1.4 2.4 1.3 2.4 1.4 2.5 1.3 2.4 1.4 2.4 1.4 2.4 1.3 2.3M123.3 226.1l1.4 .2 1.4 .3 1.4 .5 1.4 .5 1.4 .7 1.3 .8 1.4 1 1.4 1.1 1.4 1.2 1.4 1.3 1.4 1.4 1.4 1.6 1.4 1.6 1.4 1.8 1.3 1.8 1.4 2 1.4 2 1.4 2.2 1.4 2.2 1.3 2.2 1.4 2.3 1.4 2.4 1.4 2.4 1.3 2.5 1.4 2.4 1.4 2.5 1.3 2.4 1.4 2.5 1.3 2.4 1.4 2.3 1.4 2.4M125.1 226.7l1.4 .2 1.4 .4 1.4 .4 1.4 .6 1.4 .7 1.4 .8 1.4 1 1.4 1.1 1.4 1.2 1.4 1.3 1.4 1.5 1.4 1.5 1.4 1.7 1.4 1.8 1.3 1.8 1.4 2 1.4 2.1 1.4 2.1 1.4 2.2 1.4 2.3 1.3 2.3 1.4 2.4 1.4 2.4 1.3 2.5 1.4 2.4 1.4 2.5 1.3 2.5 1.4 2.4 1.4 2.5 1.3 2.3 1.4 2.3M128.4 227.6l1.4 .4 1.4 .4 1.4 .6 1.4 .8 1.4 .8 1.4 1 1.4 1.1 1.4 1.2 1.4 1.3 1.4 1.5 1.4 1.6 1.4 1.7 1.4 1.7 1.3 1.9 1.4 2 1.4 2.1 1.4 2.1 1.4 2.2 1.4 2.3 1.3 2.4 1.4 2.4 1.4 2.4 1.4 2.5 1.3 2.5 1.4 2.4 1.4 2.5 1.3 2.5 1.4 2.4 1.4 2.4 1.3 2.3M130.2 228.4l1.4 .4 1.4 .5 1.5 .6 1.4 .7 1.4 .9 1.4 .9 1.4 1.2 1.4 1.2 1.4 1.4 1.4 1.4 1.4 1.6 1.4 1.7 1.4 1.8 1.3 1.9 1.4 2 1.4 2.1 1.4 2.1 1.4 2.3 1.4 2.3 1.4 2.3 1.3 2.4 1.4 2.5 1.4 2.5 1.4 2.5 1.3 2.5 1.4 2.5 1.4 2.4 1.3 2.5 1.4 2.4 1.4 2.3M132.1 229.3l1.4 .4 1.4 .5 1.4 .6 1.4 .7 1.4 .9 1.4 1 1.4 1.1 1.4 1.3 1.4 1.4 1.5 1.4 1.4 1.6 1.4 1.7 1.3 1.9 1.4 1.9 1.4 2 1.4 2.1 1.4 2.1 1.4 2.3 1.4 2.3 1.4 2.4 1.3 2.4 1.4 2.5 1.4 2.5 1.4 2.5 1.3 2.5 1.4 2.5 1.4 2.5 1.4 2.4 1.3 2.4 1.4 2.4M135.3 230.7l1.5 .5 1.4 .6 1.4 .7 1.4 .9 1.4 1.1 1.4 1.1 1.4 1.3 1.4 1.3 1.4 1.5 1.4 1.6 1.4 1.8 1.4 1.8 1.4 1.9 1.4 2 1.4 2.1 1.4 2.2 1.4 2.3 1.4 2.3 1.4 2.4 1.4 2.4 1.3 2.5 1.4 2.5 1.4 2.5 1.4 2.6 1.3 2.5 1.4 2.5 1.4 2.5 1.3 2.4 1.4 2.4M137.2 231.7l1.4 .5 1.4 .7 1.4 .7 1.5 .9 1.4 1.1 1.4 1.1 1.4 1.3 1.4 1.4 1.4 1.5 1.4 1.6 1.4 1.8 1.4 1.8 1.4 2 1.4 2 1.4 2.1 1.4 2.2 1.4 2.3 1.4 2.3 1.4 2.4 1.4 2.5 1.3 2.5 1.4 2.5 1.4 2.5 1.4 2.5 1.3 2.6 1.4 2.5 1.4 2.5 1.4 2.4 1.3 2.4M140.5 233.4l1.4 .6 1.4 .8 1.4 .9 1.4 1.1 1.4 1.1 1.5 1.3 1.4 1.4 1.4 1.6 1.4 1.6 1.4 1.8 1.4 1.8 1.4 2 1.4 2 1.4 2.1 1.4 2.3 1.4 2.2 1.4 2.4 1.4 2.4 1.4 2.5 1.3 2.5 1.4 2.5 1.4 2.6 1.4 2.5 1.4 2.6 1.3 2.5 1.4 2.5 1.4 2.5 1.3 2.4M142.3 234.6l1.4 .7 1.5 .8 1.4 .9 1.4 1 1.4 1.2 1.4 1.3 1.4 1.5 1.5 1.5 1.4 1.6 1.4 1.8 1.4 1.9 1.4 1.9 1.4 2.1 1.4 2.2 1.4 2.2 1.4 2.3 1.4 2.4 1.4 2.4 1.4 2.5 1.3 2.5 1.4 2.5 1.4 2.6 1.4 2.5 1.4 2.6 1.3 2.6 1.4 2.5 1.4 2.4 1.3 2.5M144.1 235.9l1.5 .6 1.4 .9 1.4 .9 1.5 1.1 1.4 1.2 1.4 1.3 1.4 1.4 1.4 1.6 1.4 1.7 1.5 1.7 1.4 1.9 1.4 2 1.4 2.1 1.4 2.1 1.4 2.3 1.4 2.3 1.4 2.4 1.4 2.4 1.3 2.5 1.4 2.5 1.4 2.6 1.4 2.6 1.4 2.5 1.4 2.6 1.3 2.6 1.4 2.5 1.4 2.5 1.3 2.4M147.4 237.9l1.4 .8 1.5 1 1.4 1.1 1.4 1.2 1.5 1.3 1.4 1.5 1.4 1.6 1.4 1.6 1.4 1.8 1.4 1.9 1.4 2 1.5 2.1 1.4 2.2 1.4 2.2 1.4 2.4 1.3 2.4 1.4 2.4 1.4 2.5 1.4 2.6 1.4 2.5 1.4 2.6 1.4 2.6 1.3 2.6 1.4 2.6 1.4 2.5 1.4 2.5 1.3 2.5M147.8 238.6l1.5 .7M150.7 240.2l1.4 1 1.5 1.1 1.4 1.2 1.4 1.3 1.4 1.5 1.5 1.6 1.4 1.7 1.4 1.8 1.4 1.9 1.4 2 1.4 2.1 1.4 2.2 1.4 2.3 1.4 2.3 1.4 2.4 1.4 2.5 1.4 2.5 1.4 2.6 1.4 2.5 1.4 2.7 1.4 2.6 1.3 2.6 1.4 2.6 1.4 2.5 1.4 2.5 1.3 2.5M151.1 240.8l1.4 .9 1.5 1 1.4 1.1 1.4 1.2 1.5 1.4 1.4 1.5 1.4 1.6 1.4 1.7 1.5 1.8 1.4 1.9 1.4 2 1.4 2.2 1.4 2.2 1.4 2.2 1.4 2.4 1.4 2.4 1.4 2.5 1.4 2.5 1.4 2.6 1.4 2.6 1.4 2.6 1.3 2.7 1.4 2.6 1.4 2.6 1.4 2.6 1.3 2.5 1.4 2.5M154.4 243.2l1.4 1 1.4 1.1 1.5 1.3 1.4 1.4 1.4 1.5 1.5 1.6 1.4 1.7 1.4 1.8 1.4 2 1.4 2 1.5 2.2 1.4 2.2 1.4 2.3 1.4 2.4 1.4 2.4 1.4 2.5 1.4 2.5 1.4 2.6 1.3 2.6 1.4 2.7 1.4 2.6 1.4 2.7 1.4 2.6 1.3 2.6 1.4 2.5 1.4 2.5M156.2 244.8l1.4 1 1.5 1.2 1.4 1.2 1.5 1.4 1.4 1.5 1.4 1.7 1.4 1.7 1.5 1.9 1.4 1.9 1.4 2.1 1.4 2.1 1.4 2.2 1.4 2.4 1.4 2.4 1.4 2.4 1.4 2.5 1.4 2.6 1.4 2.6 1.4 2.6 1.4 2.7 1.4 2.6 1.4 2.7 1.3 2.6 1.4 2.6 1.4 2.6 1.4 2.5M156.6 245.5l1.4 .9 1.5 1.1 1.4 1.1 1.5 1.3 1.4 1.4 1.4 1.5 1.5 1.7 1.4 1.7 1.4 1.9 1.4 2 1.5 2 1.4 2.2 1.4 2.3 1.4 2.3 1.4 2.4 1.4 2.5 1.4 2.5 1.4 2.6 1.4 2.6 1.4 2.6 1.4 2.7 1.3 2.7 1.4 2.6 1.4 2.7 1.4 2.6 1.4 2.6 1.3 2.5M159.9 248.1l1.4 1 1.5 1.2 1.4 1.3 1.4 1.4 1.5 1.6 1.4 1.6 1.4 1.8 1.5 1.9 1.4 2 1.4 2.1 1.4 2.1 1.4 2.3 1.4 2.4 1.4 2.4 1.5 2.5 1.4 2.5 1.3 2.6 1.4 2.6 1.4 2.7 1.4 2.7 1.4 2.6 1.4 2.7 1.4 2.7 1.3 2.6 1.4 2.6 1.4 2.6M161.7 249.8l1.4 1.1 1.5 1.2 1.4 1.3 1.5 1.4 1.4 1.6 1.4 1.6 1.5 1.8 1.4 1.9 1.4 2 1.4 2.1 1.5 2.2 1.4 2.3 1.4 2.4 1.4 2.4 1.4 2.5 1.4 2.5 1.4 2.6 1.4 2.7 1.4 2.7 1.4 2.7 1.4 2.7 1.3 2.7 1.4 2.6 1.4 2.7 1.4 2.6 1.4 2.6M165 252.6l1.4 1.2 1.5 1.3 1.4 1.5 1.4 1.6 1.5 1.7 1.4 1.8 1.4 1.9 1.5 2 1.4 2.1 1.4 2.2 1.4 2.3 1.4 2.4 1.4 2.4 1.4 2.5 1.4 2.6 1.4 2.6 1.4 2.7 1.4 2.7 1.4 2.7 1.4 2.7 1.4 2.7 1.4 2.7 1.3 2.7 1.4 2.6 1.4 2.6M165.3 253.3l1.5 1.1 1.4 1.2 1.5 1.3 1.4 1.5 1.5 1.6 1.4 1.7 1.4 1.8 1.5 1.9 1.4 2.1 1.4 2.1 1.4 2.2 1.5 2.3 1.4 2.4 1.4 2.5 1.4 2.5 1.4 2.6 1.4 2.6 1.4 2.7 1.4 2.7 1.4 2.7 1.3 2.8 1.4 2.7 1.4 2.7 1.4 2.7 1.4 2.7 1.3 2.5M167.1 255l1.5 1.1 1.4 1.3 1.5 1.3 1.4 1.5 1.5 1.6 1.4 1.7 1.5 1.9 1.4 1.9 1.4 2.1 1.5 2.1 1.4 2.2 1.4 2.4 1.4 2.4 1.4 2.5 1.4 2.5 1.4 2.6 1.4 2.7 1.4 2.6 1.4 2.8 1.4 2.7 1.4 2.8 1.4 2.7 1.3 2.7 1.4 2.7 1.4 2.7 1.4 2.6M170.4 257.9l1.5 1.3 1.4 1.3 1.5 1.5 1.4 1.7 1.5 1.7 1.4 1.8 1.4 2 1.5 2.1 1.4 2.1 1.4 2.3 1.4 2.3 1.4 2.4 1.4 2.5 1.5 2.6 1.4 2.6 1.4 2.7 1.3 2.7 1.4 2.7 1.4 2.8 1.4 2.7 1.4 2.8 1.4 2.8 1.4 2.7 1.3 2.6 1.4 2.7M172.2 259.7l1.5 1.3 1.4 1.4 1.5 1.5 1.4 1.6 1.5 1.8 1.4 1.8 1.4 2 1.5 2.1 1.4 2.1 1.4 2.3 1.4 2.4 1.5 2.4 1.4 2.5 1.4 2.6 1.4 2.6 1.4 2.7 1.4 2.7 1.4 2.8 1.4 2.8 1.3 2.7 1.4 2.8 1.4 2.8 1.4 2.7 1.4 2.7 1.3 2.6M172.6 260.3l1.4 1.2 1.5 1.3 1.4 1.4 1.5 1.5 1.4 1.7 1.5 1.7 1.4 1.9 1.5 2 1.4 2.1 1.4 2.2 1.4 2.2 1.5 2.4 1.4 2.5 1.4 2.5 1.4 2.6 1.4 2.6 1.4 2.7 1.4 2.8 1.4 2.7 1.4 2.8 1.4 2.8 1.3 2.8 1.4 2.8 1.4 2.7 1.4 2.7 1.4 2.7M174.4 262.1l1.4 1.1 1.5 1.3 1.4 1.5 1.5 1.5 1.4 1.7 1.5 1.8 1.4 1.9 1.5 2 1.4 2.1 1.4 2.2 1.5 2.3 1.4 2.3 1.4 2.5 1.4 2.6 1.4 2.6 1.4 2.6 1.4 2.7 1.4 2.8 1.4 2.8 1.4 2.8 1.4 2.8 1.4 2.8 1.3 2.8 1.4 2.8 1.4 2.7 1.4 2.6M176.2 263.8l1.4 1.2 1.5 1.3 1.4 1.4 1.5 1.6 1.5 1.7 1.4 1.8 1.4 1.9 1.5 2 1.4 2.1 1.4 2.2 1.5 2.4 1.4 2.4 1.4 2.4 1.4 2.6 1.4 2.6 1.4 2.7 1.4 2.7 1.4 2.8 1.4 2.8 1.4 2.8 1.4 2.8 1.4 2.9 1.4 2.8 1.3 2.8 1.4 2.7 1.4 2.7M177.9 265.5l1.5 1.2 1.5 1.3 1.4 1.5 1.5 1.6 1.5 1.7 1.4 1.8 1.4 1.9 1.5 2 1.4 2.2 1.5 2.2 1.4 2.3 1.4 2.5 1.4 2.4 1.4 2.6 1.4 2.7 1.4 2.6 1.4 2.8 1.4 2.8 1.4 2.8 1.4 2.8 1.4 2.9 1.4 2.8 1.4 2.8 1.3 2.8 1.4 2.8 1.4 2.7" fill="none" stroke="#000" stroke-width="0.85" stroke-linejoin="round"/>
</g>
<path d="M34.7 289.8C36.1 287.2 39.9 279.6 43.5 274.1C47.0 268.6 51.3 262.3 56.0 256.7C60.7 251.2 66.5 245.2 71.8 241.0C77.0 236.8 82.3 234.2 87.5 231.6C92.8 229.1 98.1 227.1 103.3 225.9C108.6 224.7 113.8 224.3 119.0 224.6C124.3 224.9 129.6 225.9 134.8 227.8C140.1 229.8 145.4 232.5 150.6 236.3C155.9 240.1 161.1 245.0 166.3 250.5C171.5 256.0 176.8 262.1 182.0 269.4C187.3 276.7 193.6 287.6 197.7 294.4C201.9 301.2 204.3 304.9 207.2 310.1C210.0 315.3 213.7 323.2 215.1 325.8L214.3 326.2C212.5 323.9 207.2 316.8 203.7 312.0C200.2 307.1 197.6 303.8 193.3 297.1C189.1 290.5 183.2 279.4 178.3 272.0C173.4 264.7 168.7 258.5 163.8 252.9C159.0 247.2 154.2 242.1 149.2 238.2C144.3 234.3 139.2 231.5 134.2 229.6C129.1 227.7 123.9 226.9 118.9 226.8C113.9 226.7 108.9 227.5 104.0 228.9C99.0 230.3 94.1 232.5 89.2 235.2C84.3 237.8 79.5 240.5 74.6 244.6C69.7 248.7 64.4 254.7 59.7 259.9C55.0 265.2 50.6 271.0 46.6 276.1C42.5 281.1 37.3 287.9 35.4 290.2Z" fill="#000"/>
<text transform="translate(29.1 226.0) rotate(0.0) scale(0.96 1)" font-size="7.1" text-anchor="end">24.9</text>
<text transform="translate(29.9 249.5) rotate(0.0) scale(0.96 1)" font-size="7.1" text-anchor="end">23.625</text>
<text transform="translate(30.7 272.9) rotate(0.0) scale(0.96 1)" font-size="7.1" text-anchor="end">22.35</text>
<text transform="translate(31.5 296.4) rotate(0.0) scale(0.96 1)" font-size="7.1" text-anchor="end">21.075</text>
<text transform="translate(32.4 320.4) rotate(0.0) scale(0.96 1)" font-size="7.1" text-anchor="end">19.8</text>
<text transform="translate(6.5 288.0) rotate(-90) scale(1 .8)" font-size="9.4" text-anchor="middle"><tspan font-size="12">σ</tspan><tspan font-size="8" dy="2.2">ash</tspan><tspan dy="-2.2"> (%)</tspan></text>
<text transform="translate(27.8 351.5) rotate(0.0) scale(0.96 1)" font-size="7.1" text-anchor="middle">3.06</text>
<text transform="translate(41.8 362.9) rotate(0.0) scale(0.96 1)" font-size="7.1" text-anchor="middle">3.28</text>
<text transform="translate(56.2 373.8) rotate(0.0) scale(0.96 1)" font-size="7.1" text-anchor="middle">3.50</text>
<text transform="translate(70.9 384.5) rotate(0.0) scale(0.96 1)" font-size="7.1" text-anchor="middle">3.71</text>
<text transform="translate(84.8 395.8) rotate(0.0) scale(0.96 1)" font-size="7.1" text-anchor="middle">3.93</text>
<text transform="translate(103.8 395.8) rotate(0.0) scale(0.96 1)" font-size="7.1" text-anchor="middle">0.48</text>
<text transform="translate(132.8 389.0) rotate(0.0) scale(0.96 1)" font-size="7.1" text-anchor="middle">0.51</text>
<text transform="translate(163.2 382.4) rotate(0.0) scale(0.96 1)" font-size="7.1" text-anchor="middle">0.54</text>
<text transform="translate(193.5 375.6) rotate(0.0) scale(0.96 1)" font-size="7.1" text-anchor="middle">0.58</text>
<text transform="translate(222.7 368.8) rotate(0.0) scale(0.96 1)" font-size="7.1" text-anchor="middle">0.61</text>
<text transform="translate(42.6 381.8) rotate(38.6) scale(0.88 1)" font-size="9.9" text-anchor="middle">B: Pulsating frequency (Hz)</text>
<text transform="translate(161.1 393.0) rotate(-11.0) scale(0.88 1)" font-size="9.9" text-anchor="middle">C: Air velocity (m/s)</text>
<text transform="translate(188.5 248.4) rotate(0.0) scale(1.00 1)" font-size="21" text-anchor="middle">d</text>
<polygon points="258.3,219.1 373.6,209.0 372.9,326.5 262.7,345.4" class="w"/>
<polygon points="373.6,209.0 448.3,229.5 442.9,363.9 372.9,326.5" class="w"/>
<polygon points="262.7,345.4 372.9,326.5 442.9,363.9 322.4,391.3" class="w"/>
<clipPath id="fe"><polygon points="262.7,345.4 372.9,326.5 442.9,363.9 322.4,391.3"/></clipPath><g clip-path="url(#fe)">
<ellipse cx="348.7" cy="356.3" rx="57.8" ry="24.7" class="c" transform="rotate(-2.0 348.7 356.3)"/>
<ellipse cx="348.7" cy="356.3" rx="48.0" ry="19.6" class="c" transform="rotate(-2.0 348.7 356.3)"/>
<ellipse cx="348.7" cy="356.3" rx="36.6" ry="14.8" class="c" transform="rotate(-2.0 348.7 356.3)"/>
<ellipse cx="348.7" cy="356.3" rx="20.8" ry="8.5" class="c" transform="rotate(-2.0 348.7 356.3)"/>
</g>
<line x1="262.7" y1="345.4" x2="261.3" y2="346.5" class="t"/>
<line x1="277.6" y1="356.9" x2="276.2" y2="358.0" class="t"/>
<line x1="292.5" y1="368.4" x2="291.1" y2="369.4" class="t"/>
<line x1="307.5" y1="379.8" x2="306.0" y2="380.9" class="t"/>
<line x1="322.4" y1="391.3" x2="321.0" y2="392.4" class="t"/>
<line x1="322.4" y1="391.3" x2="322.8" y2="393.1" class="t"/>
<line x1="352.5" y1="384.4" x2="352.9" y2="386.2" class="t"/>
<line x1="382.6" y1="377.6" x2="383.0" y2="379.4" class="t"/>
<line x1="412.8" y1="370.8" x2="413.1" y2="372.6" class="t"/>
<line x1="442.9" y1="363.9" x2="443.3" y2="365.7" class="t"/>
<line x1="258.3" y1="219.5" x2="256.3" y2="219.5" class="t"/>
<line x1="259.2" y1="243.9" x2="257.2" y2="243.9" class="t"/>
<line x1="260.0" y1="267.4" x2="258.0" y2="267.4" class="t"/>
<line x1="260.8" y1="291.4" x2="258.8" y2="291.4" class="t"/>
<line x1="261.7" y1="315.8" x2="259.7" y2="315.8" class="t"/>
<clipPath id="cse"><path d="M261.0 304.0C262.3 301.4 265.4 294.4 268.8 288.4C272.2 282.4 276.6 274.8 281.3 268.0C286.0 261.2 291.8 253.2 297.0 247.6C302.2 242.0 307.5 238.1 312.7 234.5C317.9 230.9 323.2 228.3 328.4 226.3C333.6 224.3 338.8 222.9 344.0 222.5C349.2 222.1 354.5 222.6 359.7 224.1C364.9 225.6 370.2 227.9 375.4 231.3C380.6 234.7 385.8 239.2 391.0 244.5C396.2 249.8 401.5 256.2 406.7 263.3C411.9 270.4 417.2 278.5 422.4 286.8C427.6 295.1 434.6 307.1 438.0 313.4C441.4 319.7 442.0 322.6 442.8 324.4C440.4 321.5 433.7 312.4 428.7 307.2C423.7 302.0 418.2 296.9 413.0 293.0C407.8 289.1 402.0 285.8 397.3 283.7C392.6 281.6 388.5 280.9 384.8 280.5C381.1 280.1 379.6 280.4 375.4 281.5C371.2 282.6 364.9 283.8 359.7 286.8C354.5 289.8 349.2 294.1 344.0 299.3C338.8 304.5 332.3 312.7 328.4 318.2C324.5 323.7 321.8 329.9 320.5 332.3C318.1 328.1 310.8 314.6 306.4 307.2C302.0 299.8 297.5 292.1 293.9 287.7C290.2 283.2 287.1 281.5 284.5 280.5C281.9 279.5 280.8 279.9 278.2 281.5C275.6 283.1 271.7 286.2 268.8 290.0C265.9 293.8 262.3 301.7 261.0 304.0Z"/></clipPath>
<path d="M261.0 304.0C262.3 301.4 265.4 294.4 268.8 288.4C272.2 282.4 276.6 274.8 281.3 268.0C286.0 261.2 291.8 253.2 297.0 247.6C302.2 242.0 307.5 238.1 312.7 234.5C317.9 230.9 323.2 228.3 328.4 226.3C333.6 224.3 338.8 222.9 344.0 222.5C349.2 222.1 354.5 222.6 359.7 224.1C364.9 225.6 370.2 227.9 375.4 231.3C380.6 234.7 385.8 239.2 391.0 244.5C396.2 249.8 401.5 256.2 406.7 263.3C411.9 270.4 417.2 278.5 422.4 286.8C427.6 295.1 434.6 307.1 438.0 313.4C441.4 319.7 442.0 322.6 442.8 324.4C440.4 321.5 433.7 312.4 428.7 307.2C423.7 302.0 418.2 296.9 413.0 293.0C407.8 289.1 402.0 285.8 397.3 283.7C392.6 281.6 388.5 280.9 384.8 280.5C381.1 280.1 379.6 280.4 375.4 281.5C371.2 282.6 364.9 283.8 359.7 286.8C354.5 289.8 349.2 294.1 344.0 299.3C338.8 304.5 332.3 312.7 328.4 318.2C324.5 323.7 321.8 329.9 320.5 332.3C318.1 328.1 310.8 314.6 306.4 307.2C302.0 299.8 297.5 292.1 293.9 287.7C290.2 283.2 287.1 281.5 284.5 280.5C281.9 279.5 280.8 279.9 278.2 281.5C275.6 283.1 271.7 286.2 268.8 290.0C265.9 293.8 262.3 301.7 261.0 304.0Z" fill="#000"/>
<g clip-path="url(#cse)">
<path d="M366.2 269.5l6-6.8 7.1 8.3-6.1 6.6z" fill="#e900ff" stroke="#e900ff" stroke-width=".7"/>
<path d="M359.2 262.3l5.9-6.9 7.1 7.3-6 6.8z" fill="#ff00f3" stroke="#ff00f3" stroke-width=".7"/>
<path d="M372.2 262.7l6.1-5.3 7.1 8.5-6.1 5.1z" fill="#ff00f4" stroke="#ff00f4" stroke-width=".7"/>
<path d="M352.1 256.2l5.9-7.1 7.1 6.3-5.9 6.9z" fill="#ff00d6" stroke="#ff00d6" stroke-width=".7"/>
<path d="M365.1 255.4l6-5.4 7.2 7.4-6.1 5.3z" fill="#ff00d3" stroke="#ff00d3" stroke-width=".7"/>
<path d="M345 251.2l5.8-7.2 7.2 5.1-5.9 7.1z" fill="#ff00bd" stroke="#ff00bd" stroke-width=".7"/>
<path d="M378.3 257.4l6.1-3.3 7.1 8.6-6.1 3.2z" fill="#ff00db" stroke="#ff00db" stroke-width=".7"/>
<path d="M337.8 247.4l5.7-7.3 7.3 3.9-5.8 7.2z" fill="#ff00a9" stroke="#ff00a9" stroke-width=".7"/>
<path d="M358 249.1l5.9-5.5 7.2 6.4-6 5.4z" fill="#ff00b5" stroke="#ff00b5" stroke-width=".7"/>
<path d="M371.1 250l6-3.5 7.3 7.6-6.1 3.3z" fill="#ff00b9" stroke="#ff00b9" stroke-width=".7"/>
<path d="M330.7 244.9l5.6-7.5 7.2 2.7-5.7 7.3z" fill="#ff0099" stroke="#ff0099" stroke-width=".7"/>
<path d="M350.8 244l5.8-5.7 7.3 5.3-5.9 5.5z" fill="#ff009c" stroke="#ff009c" stroke-width=".7"/>
<path d="M384.4 254.1l6-1 7.3 8.7-6.2 .9z" fill="#ff00cb" stroke="#ff00cb" stroke-width=".7"/>
<path d="M323.5 243.8l5.5-7.7 7.3 1.3-5.6 7.5z" fill="#ff008f" stroke="#ff008f" stroke-width=".7"/>
<path d="M363.9 243.6l5.9-3.6 7.3 6.5-6 3.5z" fill="#ff009b" stroke="#ff009b" stroke-width=".7"/>
<path d="M343.5 240.1l5.8-5.9 7.3 4.1-5.8 5.7z" fill="#ff0087" stroke="#ff0087" stroke-width=".7"/>
<path d="M316.4 244.1l5.4-7.8 7.2-.2-5.5 7.7z" fill="#ff008a" stroke="#ff008a" stroke-width=".7"/>
<path d="M377.1 246.5l6-1.1 7.3 7.7-6 1z" fill="#ff00a9" stroke="#ff00a9" stroke-width=".7"/>
<path d="M336.3 237.4l5.6-5.9 7.4 2.7-5.8 5.9z" fill="#ff0078" stroke="#ff0078" stroke-width=".7"/>
<path d="M390.4 253.1l6.1 1.5 7.2 8.8-6-1.6z" fill="#ff00c4" stroke="#ff00c4" stroke-width=".7"/>
<path d="M356.6 238.3l5.9-3.7 7.3 5.4-5.9 3.6z" fill="#ff0082" stroke="#ff0082" stroke-width=".7"/>
<path d="M309.3 245.8l5.3-7.9 7.2-1.6-5.4 7.8z" fill="#ff008b" stroke="#ff008b" stroke-width=".7"/>
<path d="M302.2 249.2l5.2-8.1 7.2-3.2-5.3 7.9z" fill="#ff0092" stroke="#ff0092" stroke-width=".7"/>
<path d="M369.8 240l6-1.3 7.3 6.7-6 1.1z" fill="#ff008b" stroke="#ff008b" stroke-width=".7"/>
<path d="M329 236.1l5.6-6 7.3 1.4-5.6 5.9z" fill="#ff006d" stroke="#ff006d" stroke-width=".7"/>
<path d="M295.2 254.1l5.1-8.2 7.1-4.8-5.2 8.1z" fill="#000000" stroke="#000000" stroke-width=".7"/>
<path d="M349.3 234.2l5.8-3.8 7.4 4.2-5.9 3.7z" fill="#ff006d" stroke="#ff006d" stroke-width=".7"/>
<path d="M383.1 245.4l6 1.4 7.4 7.8-6.1-1.5z" fill="#330020" stroke="#330020" stroke-width=".7"/>
<path d="M288.2 260.6l5-8.2 7.1-6.5-5.1 8.2z" fill="#000000" stroke="#000000" stroke-width=".7"/>
<path d="M396.5 254.6l6 4 7.3 8.9-6.1-4.1z" fill="#000000" stroke="#000000" stroke-width=".7"/>
<path d="M321.8 236.3l5.5-6.2 7.3 0-5.6 6z" fill="#ff0068" stroke="#ff0068" stroke-width=".7"/>
<path d="M281.3 268.9l4.9-8.4 7-8.1-5 8.2z" fill="#000000" stroke="#000000" stroke-width=".7"/>
<path d="M261.3 304.2l4.5-8.7 6.7-13.4-4.7 8.5z" fill="#000000" stroke="#000000" stroke-width=".7"/>
<path d="M274.5 278.9l4.8-8.5 6.9-9.9-4.9 8.4z" fill="#000000" stroke="#000000" stroke-width=".7"/>
<path d="M267.8 290.6l4.7-8.5 6.8-11.7-4.8 8.5z" fill="#000000" stroke="#000000" stroke-width=".7"/>
<path d="M362.5 234.6l5.8-1.4 7.5 5.5-6 1.3z" fill="#ff0071" stroke="#ff0071" stroke-width=".7"/>
<path d="M341.9 231.5l5.7-4 7.5 2.9-5.8 3.8z" fill="#ff005d" stroke="#ff005d" stroke-width=".7"/>
<path d="M314.6 237.9l5.4-6.3 7.3-1.5-5.5 6.2z" fill="#ff0068" stroke="#ff0068" stroke-width=".7"/>
<path d="M375.8 238.7l5.9 1.3 7.4 6.8-6-1.4z" fill="#000000" stroke="#000000" stroke-width=".7"/>
<path d="M307.4 241.1l5.3-6.4 7.3-3.1-5.4 6.3z" fill="#ff006e" stroke="#ff006e" stroke-width=".7"/>
<path d="M389.1 246.8l6 3.9 7.4 7.9-6-4z" fill="#000000" stroke="#000000" stroke-width=".7"/>
<path d="M334.6 230.1l5.6-4.1 7.4 1.5-5.7 4z" fill="#ff0052" stroke="#ff0052" stroke-width=".7"/>
<path d="M402.5 258.6l5.9 6.4 7.3 8.9-5.9-6.4z" fill="#000000" stroke="#000000" stroke-width=".7"/>
<path d="M355.1 230.4l5.8-1.5 7.4 4.3-5.8 1.4z" fill="#ff005c" stroke="#ff005c" stroke-width=".7"/>
<path d="M300.3 245.9l5.1-6.5 7.3-4.7-5.3 6.4z" fill="#000000" stroke="#000000" stroke-width=".7"/>
<path d="M368.3 233.2l5.9 1.2 7.5 5.6-5.9-1.3z" fill="#000000" stroke="#000000" stroke-width=".7"/>
<path d="M293.2 252.4l5-6.7 7.2-6.3-5.1 6.5z" fill="#000000" stroke="#000000" stroke-width=".7"/>
<path d="M327.3 230.1l5.5-4.2 7.4 .1-5.6 4.1z" fill="#ff004c" stroke="#ff004c" stroke-width=".7"/>
<path d="M286.2 260.5l4.9-6.8 7.1-8-5 6.7z" fill="#000000" stroke="#000000" stroke-width=".7"/>
<path d="M347.6 227.5l5.8-1.6 7.5 3-5.8 1.5z" fill="#ff004b" stroke="#ff004b" stroke-width=".7"/>
<path d="M265.8 295.5l4.6-7.1 6.8-13.3-4.7 7z" fill="#000000" stroke="#000000" stroke-width=".7"/>
<path d="M279.3 270.4l4.8-6.9 7-9.8-4.9 6.8z" fill="#000000" stroke="#000000" stroke-width=".7"/>
<path d="M381.7 240l5.9 3.8 7.5 6.9-6-3.9z" fill="#000000" stroke="#000000" stroke-width=".7"/>
<path d="M272.5 282.1l4.7-7 6.9-11.6-4.8 6.9z" fill="#000000" stroke="#000000" stroke-width=".7"/>
<path d="M408.4 265l5.9 8.4 7.3 9-5.9-8.5z" fill="#000000" stroke="#000000" stroke-width=".7"/>
<path d="M395.1 250.7l5.9 6.3 7.4 8-5.9-6.4z" fill="#000000" stroke="#000000" stroke-width=".7"/>
<path d="M320 231.6l5.4-4.3 7.4-1.4-5.5 4.2z" fill="#000000" stroke="#000000" stroke-width=".7"/>
<path d="M360.9 228.9l5.8 1.1 7.5 4.4-5.9-1.2z" fill="#000000" stroke="#000000" stroke-width=".7"/>
<path d="M340.2 226l5.7-1.7 7.5 1.6-5.8 1.6z" fill="#000000" stroke="#000000" stroke-width=".7"/>
<path d="M312.7 234.7l5.3-4.4 7.4-3-5.4 4.3z" fill="#000000" stroke="#000000" stroke-width=".7"/>
<path d="M374.2 234.4l5.9 3.7 7.5 5.7-5.9-3.8z" fill="#000000" stroke="#000000" stroke-width=".7"/>
<path d="M414.3 273.4l5.8 10 7.3 9.1-5.8-10.1z" fill="#000000" stroke="#000000" stroke-width=".7"/>
<path d="M305.4 239.4l5.2-4.6 7.4-4.5-5.3 4.4z" fill="#000000" stroke="#000000" stroke-width=".7"/>
<path d="M387.6 243.8l5.9 6.2 7.5 7-5.9-6.3z" fill="#000000" stroke="#000000" stroke-width=".7"/>
<path d="M401 257l5.8 8.3 7.5 8.1-5.9-8.4z" fill="#000000" stroke="#000000" stroke-width=".7"/>
<path d="M332.8 225.9l5.5-1.8 7.6 .2-5.7 1.7z" fill="#000000" stroke="#000000" stroke-width=".7"/>
<path d="M353.4 225.9l5.7 1 7.6 3.1-5.8-1.1z" fill="#000000" stroke="#000000" stroke-width=".7"/>
<path d="M298.2 245.7l5.1-4.6 7.3-6.3-5.2 4.6z" fill="#000000" stroke="#000000" stroke-width=".7"/>
<path d="M291.1 253.7l5-4.7 7.2-7.9-5.1 4.6z" fill="#000000" stroke="#000000" stroke-width=".7"/>
<path d="M270.4 288.4l4.7-5 6.9-13.3-4.8 5z" fill="#000000" stroke="#000000" stroke-width=".7"/>
<path d="M284.1 263.5l4.9-4.8 7.1-9.7-5 4.7z" fill="#000000" stroke="#000000" stroke-width=".7"/>
<path d="M277.2 275.1l4.8-5 7-11.4-4.9 4.8z" fill="#000000" stroke="#000000" stroke-width=".7"/>
<path d="M366.7 230l5.8 3.6 7.6 4.5-5.9-3.7z" fill="#000000" stroke="#000000" stroke-width=".7"/>
<path d="M325.4 227.3l5.4-1.9 7.5-1.3-5.5 1.8z" fill="#000000" stroke="#000000" stroke-width=".7"/>
<path d="M420.1 283.4l5.7 10.8 7.3 9.2-5.7-10.9z" fill="#000000" stroke="#000000" stroke-width=".7"/>
<path d="M345.9 224.3l5.6 .8 7.6 1.8-5.7-1z" fill="#000000" stroke="#000000" stroke-width=".7"/>
<path d="M380.1 238.1l5.8 6.1 7.6 5.8-5.9-6.2z" fill="#000000" stroke="#000000" stroke-width=".7"/>
<path d="M406.8 265.3l5.8 9.9 7.5 8.2-5.8-10z" fill="#000000" stroke="#000000" stroke-width=".7"/>
<path d="M393.5 250l5.8 8.2 7.5 7.1-5.8-8.3z" fill="#000000" stroke="#000000" stroke-width=".7"/>
<path d="M318 230.3l5.3-2.1 7.5-2.8-5.4 1.9z" fill="#000000" stroke="#000000" stroke-width=".7"/>
<path d="M359.1 226.9l5.8 3.5 7.6 3.2-5.8-3.6z" fill="#000000" stroke="#000000" stroke-width=".7"/>
<path d="M338.3 224.1l5.6 .7 7.6 .3-5.6-.8z" fill="#000000" stroke="#000000" stroke-width=".7"/>
<path d="M310.6 234.8l5.3-2.1 7.4-4.5-5.3 2.1z" fill="#000000" stroke="#000000" stroke-width=".7"/>
<path d="M425.8 294.2l5.7 10.8 7.3 9.3-5.7-10.9z" fill="#000000" stroke="#000000" stroke-width=".7"/>
<path d="M372.5 233.6l5.8 6 7.6 4.6-5.8-6.1z" fill="#000000" stroke="#000000" stroke-width=".7"/>
<path d="M412.6 275.2l5.7 10.8 7.5 8.2-5.7-10.8z" fill="#000000" stroke="#000000" stroke-width=".7"/>
<path d="M303.3 241.1l5.2-2.3 7.4-6.1-5.3 2.1z" fill="#000000" stroke="#000000" stroke-width=".7"/>
<path d="M399.3 258.2l5.8 9.9 7.5 7.1-5.8-9.9z" fill="#000000" stroke="#000000" stroke-width=".7"/>
<path d="M385.9 244.2l5.8 8.1 7.6 5.9-5.8-8.2z" fill="#000000" stroke="#000000" stroke-width=".7"/>
<path d="M296.1 249l5.1-2.3 7.3-7.9-5.2 2.3z" fill="#000000" stroke="#000000" stroke-width=".7"/>
<path d="M330.8 225.4l5.5 .6 7.6-1.2-5.6-.7z" fill="#000000" stroke="#000000" stroke-width=".7"/>
<path d="M351.5 225.1l5.7 3.4 7.7 1.9-5.8-3.5z" fill="#000000" stroke="#000000" stroke-width=".7"/>
<path d="M289 258.7l5-2.5 7.2-9.5-5.1 2.3z" fill="#000000" stroke="#000000" stroke-width=".7"/>
<path d="M275.1 283.4l4.8-2.6 7-13.2-4.9 2.5z" fill="#000000" stroke="#000000" stroke-width=".7"/>
<path d="M282 270.1l4.9-2.5 7.1-11.4-5 2.5z" fill="#000000" stroke="#000000" stroke-width=".7"/>
<path d="M431.5 305l5.7 9.7 7.3 9.4-5.7-9.8z" fill="#000000" stroke="#000000" stroke-width=".7"/>
<path d="M323.3 228.2l5.4 .6 7.6-2.8-5.5-.6z" fill="#000000" stroke="#000000" stroke-width=".7"/>
<path d="M364.9 230.4l5.7 5.9 7.7 3.3-5.8-6z" fill="#000000" stroke="#000000" stroke-width=".7"/>
<path d="M418.3 286l5.7 10.7 7.5 8.3-5.7-10.8z" fill="#000000" stroke="#000000" stroke-width=".7"/>
<path d="M343.9 224.8l5.6 3.3 7.7 .4-5.7-3.4z" fill="#000000" stroke="#000000" stroke-width=".7"/>
<path d="M378.3 239.6l5.7 8.1 7.7 4.6-5.8-8.1z" fill="#ff0071" stroke="#ff0071" stroke-width=".7"/>
<path d="M405.1 268.1l5.7 10.7 7.5 7.2-5.7-10.8z" fill="#000000" stroke="#000000" stroke-width=".7"/>
<path d="M391.7 252.3l5.7 9.8 7.7 6-5.8-9.9z" fill="#ff009f" stroke="#ff009f" stroke-width=".7"/>
<path d="M315.9 232.7l5.3 .4 7.5-4.3-5.4-.6z" fill="#000000" stroke="#000000" stroke-width=".7"/>
<path d="M308.5 238.8l5.2 .4 7.5-6.1-5.3-.4z" fill="#ff004d" stroke="#ff004d" stroke-width=".7"/>
<path d="M357.2 228.5l5.7 5.8 7.7 2-5.7-5.9z" fill="#ff0041" stroke="#ff0041" stroke-width=".7"/>
<path d="M336.3 226l5.5 3.2 7.7-1.1-5.6-3.3z" fill="#ff002f" stroke="#ff002f" stroke-width=".7"/>
<path d="M301.2 246.7l5.1 .2 7.4-7.7-5.2-.4z" fill="#ff0062" stroke="#ff0062" stroke-width=".7"/>
<path d="M424 296.7l5.7 9.6 7.5 8.4-5.7-9.7z" fill="#000000" stroke="#000000" stroke-width=".7"/>
<path d="M370.6 236.3l5.7 8 7.7 3.4-5.7-8.1z" fill="#ff005f" stroke="#ff005f" stroke-width=".7"/>
<path d="M294 256.2l5 .2 7.3-9.5-5.1-.2z" fill="#ff007e" stroke="#ff007e" stroke-width=".7"/>
<path d="M410.8 278.8l5.7 10.6 7.5 7.3-5.7-10.7z" fill="#000000" stroke="#000000" stroke-width=".7"/>
<path d="M279.9 280.8l4.9 0 7-13.1-4.9-.1z" fill="#ff00c6" stroke="#ff00c6" stroke-width=".7"/>
<path d="M286.9 267.6l4.9 .1 7.2-11.3-5-.2z" fill="#ff009f" stroke="#ff009f" stroke-width=".7"/>
<path d="M384 247.7l5.7 9.6 7.7 4.8-5.7-9.8z" fill="#ff0089" stroke="#ff0089" stroke-width=".7"/>
<path d="M397.4 262.1l5.7 10.6 7.7 6.1-5.7-10.7z" fill="#ff00bb" stroke="#ff00bb" stroke-width=".7"/>
<path d="M328.7 228.8l5.5 3.1 7.6-2.7-5.5-3.2z" fill="#ff0033" stroke="#ff0033" stroke-width=".7"/>
<path d="M349.5 228.1l5.6 5.8 7.8 .4-5.7-5.8z" fill="#ff0039" stroke="#ff0039" stroke-width=".7"/>
<path d="M321.2 233.1l5.4 3.1 7.6-4.3-5.5-3.1z" fill="#ff003c" stroke="#ff003c" stroke-width=".7"/>
<path d="M362.9 234.3l5.6 8 7.8 2-5.7-8z" fill="#ff0052" stroke="#ff0052" stroke-width=".7"/>
<path d="M341.8 229.2l5.6 5.7 7.7-1-5.6-5.8z" fill="#ff0037" stroke="#ff0037" stroke-width=".7"/>
<path d="M376.3 244.3l5.6 9.5 7.8 3.5-5.7-9.6z" fill="#ff0077" stroke="#ff0077" stroke-width=".7"/>
<path d="M416.5 289.4l5.6 9.5 7.6 7.4-5.7-9.6z" fill="#000000" stroke="#000000" stroke-width=".7"/>
<path d="M313.7 239.2l5.3 2.9 7.6-5.9-5.4-3.1z" fill="#ff004b" stroke="#ff004b" stroke-width=".7"/>
<path d="M403.1 272.7l5.7 10.6 7.7 6.1-5.7-10.6z" fill="#ff00d8" stroke="#ff00d8" stroke-width=".7"/>
<path d="M389.7 257.3l5.7 10.5 7.7 4.9-5.7-10.6z" fill="#ff00a4" stroke="#ff00a4" stroke-width=".7"/>
<path d="M306.3 246.9l5.2 2.9 7.5-7.7-5.3-2.9z" fill="#ff0060" stroke="#ff0060" stroke-width=".7"/>
<path d="M299 256.4l5.1 2.8 7.4-9.4-5.2-2.9z" fill="#ff007a" stroke="#ff007a" stroke-width=".7"/>
<path d="M355.1 233.9l5.6 7.8 7.8 .6-5.6-8z" fill="#ff004a" stroke="#ff004a" stroke-width=".7"/>
<path d="M334.2 231.9l5.4 5.5 7.8-2.5-5.6-5.7z" fill="#ff003a" stroke="#ff003a" stroke-width=".7"/>
<path d="M284.8 280.8l4.9 2.6 7.2-13-5.1-2.7z" fill="#ff00c1" stroke="#ff00c1" stroke-width=".7"/>
<path d="M291.8 267.7l5.1 2.7 7.2-11.2-5.1-2.8z" fill="#ff009b" stroke="#ff009b" stroke-width=".7"/>
<path d="M368.5 242.3l5.6 9.5 7.8 2-5.6-9.5z" fill="#ff0069" stroke="#ff0069" stroke-width=".7"/>
<path d="M381.9 253.8l5.7 10.5 7.8 3.5-5.7-10.5z" fill="#ff0092" stroke="#ff0092" stroke-width=".7"/>
<path d="M326.6 236.2l5.4 5.5 7.6-4.3-5.4-5.5z" fill="#ff0043" stroke="#ff0043" stroke-width=".7"/>
<path d="M395.4 267.8l5.6 10.5 7.8 5-5.7-10.6z" fill="#ff00c1" stroke="#ff00c1" stroke-width=".7"/>
<path d="M408.8 283.3l5.6 9.4 7.7 6.2-5.6-9.5z" fill="#9e0096" stroke="#9e0096" stroke-width=".7"/>
<path d="M347.4 234.9l5.5 7.7 7.8-.9-5.6-7.8z" fill="#ff0047" stroke="#ff0047" stroke-width=".7"/>
<path d="M319 242.1l5.3 5.4 7.7-5.8-5.4-5.5z" fill="#ff0051" stroke="#ff0051" stroke-width=".7"/>
<path d="M360.7 241.7l5.6 9.4 7.8 .7-5.6-9.5z" fill="#ff0061" stroke="#ff0061" stroke-width=".7"/>
<path d="M311.5 249.8l5.3 5.3 7.5-7.6-5.3-5.4z" fill="#ff0065" stroke="#ff0065" stroke-width=".7"/>
<path d="M339.6 237.4l5.5 7.7 7.8-2.5-5.5-7.7z" fill="#ff004a" stroke="#ff004a" stroke-width=".7"/>
<path d="M374.1 251.8l5.6 10.3 7.9 2.2-5.7-10.5z" fill="#ff0084" stroke="#ff0084" stroke-width=".7"/>
<path d="M304.1 259.2l5.2 5.3 7.5-9.4-5.3-5.3z" fill="#ff007f" stroke="#ff007f" stroke-width=".7"/>
<path d="M289.7 283.4l5 5.1 7.3-12.9-5.1-5.2z" fill="#ff00c5" stroke="#ff00c5" stroke-width=".7"/>
<path d="M296.9 270.4l5.1 5.2 7.3-11.1-5.2-5.3z" fill="#ff009f" stroke="#ff009f" stroke-width=".7"/>
<path d="M387.6 264.3l5.6 10.4 7.8 3.6-5.6-10.5z" fill="#ff00ae" stroke="#ff00ae" stroke-width=".7"/>
<path d="M401 278.3l5.6 9.4 7.8 5-5.6-9.4z" fill="#ff00db" stroke="#ff00db" stroke-width=".7"/>
<path d="M332 241.7l5.4 7.5 7.7-4.1-5.5-7.7z" fill="#ff0052" stroke="#ff0052" stroke-width=".7"/>
<path d="M352.9 242.6l5.5 9.4 7.9-.9-5.6-9.4z" fill="#ff005e" stroke="#ff005e" stroke-width=".7"/>
<path d="M366.3 251.1l5.6 10.3 7.8 .7-5.6-10.3z" fill="#ff007b" stroke="#ff007b" stroke-width=".7"/>
<path d="M324.3 247.5l5.4 7.5 7.7-5.8-5.4-7.5z" fill="#ff0060" stroke="#ff0060" stroke-width=".7"/>
<path d="M345.1 245.1l5.5 9.3 7.8-2.4-5.5-9.4z" fill="#ff0060" stroke="#ff0060" stroke-width=".7"/>
<path d="M379.7 262.1l5.6 10.3 7.9 2.3-5.6-10.4z" fill="#ff00a0" stroke="#ff00a0" stroke-width=".7"/>
<path d="M316.8 255.1l5.3 7.5 7.6-7.6-5.4-7.5z" fill="#ff0073" stroke="#ff0073" stroke-width=".7"/>
<path d="M393.2 274.7l5.6 9.3 7.8 3.7-5.6-9.4z" fill="#ff00c8" stroke="#ff00c8" stroke-width=".7"/>
<path d="M309.3 264.5l5.2 7.3 7.6-9.2-5.3-7.5z" fill="#ff008c" stroke="#ff008c" stroke-width=".7"/>
<path d="M302 275.6l5.1 7.3 7.4-11.1-5.2-7.3z" fill="#ff00ab" stroke="#ff00ab" stroke-width=".7"/>
<path d="M294.7 288.5l5.2 7.3 7.2-12.9-5.1-7.3z" fill="#ff00d0" stroke="#ff00d0" stroke-width=".7"/>
<path d="M358.4 252l5.6 10.2 7.9-.8-5.6-10.3z" fill="#ff0078" stroke="#ff0078" stroke-width=".7"/>
<path d="M337.4 249.2l5.4 9.2 7.8-4-5.5-9.3z" fill="#ff0067" stroke="#ff0067" stroke-width=".7"/>
<path d="M371.9 261.4l5.5 10.2 7.9 .8-5.6-10.3z" fill="#ff0097" stroke="#ff0097" stroke-width=".7"/>
<path d="M329.7 255l5.4 9.2 7.7-5.8-5.4-9.2z" fill="#ff0074" stroke="#ff0074" stroke-width=".7"/>
<path d="M350.6 254.4l5.5 10.1 7.9-2.3-5.6-10.2z" fill="#ff0079" stroke="#ff0079" stroke-width=".7"/>
<path d="M385.3 272.4l5.6 9.2 7.9 2.4-5.6-9.3z" fill="#ff00b9" stroke="#ff00b9" stroke-width=".7"/>
<path d="M322.1 262.6l5.3 9 7.7-7.4-5.4-9.2z" fill="#ff0087" stroke="#ff0087" stroke-width=".7"/>
<path d="M314.5 271.8l5.3 9 7.6-9.2-5.3-9z" fill="#ff009f" stroke="#ff009f" stroke-width=".7"/>
<path d="M364 262.2l5.5 10.1 7.9-.7-5.5-10.2z" fill="#ff0092" stroke="#ff0092" stroke-width=".7"/>
<path d="M307.1 282.9l5.2 8.9 7.5-11-5.3-9z" fill="#ff00be" stroke="#ff00be" stroke-width=".7"/>
<path d="M342.8 258.4l5.4 10.1 7.9-4-5.5-10.1z" fill="#ff0080" stroke="#ff0080" stroke-width=".7"/>
<path d="M299.9 295.8l5.1 8.8 7.3-12.8-5.2-8.9z" fill="#ff00e1" stroke="#ff00e1" stroke-width=".7"/>
<path d="M377.4 271.6l5.5 9.1 8 .9-5.6-9.2z" fill="#ff00af" stroke="#ff00af" stroke-width=".7"/>
<path d="M335.1 264.2l5.3 9.9 7.8-5.6-5.4-10.1z" fill="#ff008c" stroke="#ff008c" stroke-width=".7"/>
<path d="M356.1 264.5l5.5 10.1 7.9-2.3-5.5-10.1z" fill="#ff0093" stroke="#ff0093" stroke-width=".7"/>
<path d="M327.4 271.6l5.3 9.9 7.7-7.4-5.3-9.9z" fill="#ff009e" stroke="#ff009e" stroke-width=".7"/>
<path d="M319.8 280.8l5.3 9.8 7.6-9.1-5.3-9.9z" fill="#ff00b6" stroke="#ff00b6" stroke-width=".7"/>
<path d="M369.5 272.3l5.5 9 7.9-.6-5.5-9.1z" fill="#ff00ab" stroke="#ff00ab" stroke-width=".7"/>
<path d="M348.2 268.5l5.5 10 7.9-3.9-5.5-10.1z" fill="#ff009a" stroke="#ff009a" stroke-width=".7"/>
<path d="M312.3 291.8l5.3 9.8 7.5-11-5.3-9.8z" fill="#ff00d4" stroke="#ff00d4" stroke-width=".7"/>
<path d="M305 304.6l5.2 9.7 7.4-12.7-5.3-9.8z" fill="#ff00f7" stroke="#ff00f7" stroke-width=".7"/>
<path d="M340.4 274.1l5.4 10 7.9-5.6-5.5-10z" fill="#ff00a6" stroke="#ff00a6" stroke-width=".7"/>
<path d="M361.6 274.6l5.4 8.9 8-2.2-5.5-9z" fill="#ff00ab" stroke="#ff00ab" stroke-width=".7"/>
<path d="M332.7 281.5l5.3 9.9 7.8-7.3-5.4-10z" fill="#ff00b7" stroke="#ff00b7" stroke-width=".7"/>
<path d="M325.1 290.6l5.3 9.8 7.6-9-5.3-9.9z" fill="#ff00ce" stroke="#ff00ce" stroke-width=".7"/>
<path d="M353.7 278.5l5.3 8.8 8-3.8-5.4-8.9z" fill="#ff00b1" stroke="#ff00b1" stroke-width=".7"/>
<path d="M317.6 301.6l5.2 9.7 7.6-10.9-5.3-9.8z" fill="#ff00ea" stroke="#ff00ea" stroke-width=".7"/>
<path d="M310.2 314.3l5.2 9.6 7.4-12.6-5.2-9.7z" fill="#f100ff" stroke="#f100ff" stroke-width=".7"/>
<path d="M345.8 284.1l5.4 8.7 7.8-5.5-5.3-8.8z" fill="#ff00bc" stroke="#ff00bc" stroke-width=".7"/>
<path d="M338 291.4l5.3 8.6 7.9-7.2-5.4-8.7z" fill="#ff00cd" stroke="#ff00cd" stroke-width=".7"/>
<path d="M330.4 300.4l5.2 8.5 7.7-8.9-5.3-8.6z" fill="#ff00e3" stroke="#ff00e3" stroke-width=".7"/>
<path d="M322.8 311.3l5.2 8.4 7.6-10.8-5.2-8.5z" fill="#ff00ff" stroke="#ff00ff" stroke-width=".7"/>
<path d="M315.4 323.9l5.1 8.4 7.5-12.6-5.2-8.4z" fill="#de00ff" stroke="#de00ff" stroke-width=".7"/>
<path d="M261.3 304.2l1.6-3.6 1.6-3.4 1.7-3.3 1.6-3.3 1.7-3.1 1.7-3 1.7-2.8 1.6-2.8M262.4 301.9l1.6-3.6 1.7-3.4 1.6-3.3 1.7-3.2 1.7-3.1 1.7-3 1.6-2.9 1.7-2.8 1.7-2.6M279.1 271.5l1.7-2.5M263.5 299.7l1.7-3.6 1.6-3.4 1.7-3.3 1.7-3.2 1.6-3.1 1.7-3 1.7-2.9 1.7-2.7 1.7-2.7 1.7-2.5 1.8-2.4M264.7 297.5l1.6-3.5 1.7-3.4 1.7-3.3 1.6-3.2 1.7-3.1 1.7-3 1.7-2.8 1.7-2.8 1.7-2.6 1.7-2.6 1.8-2.4 1.7-2.3M265.8 295.5l1.7-3.5 1.6-3.4 1.7-3.4 1.7-3.1 1.7-3.1 1.7-3 1.7-2.8 1.7-2.8 1.7-2.6 1.7-2.5 1.8-2.5 1.7-2.3 1.8-2.2M267 293.6l1.6-3.6 1.7-3.4 1.7-3.3 1.7-3.2 1.7-3 1.7-3 1.7-2.8 1.7-2.8 1.7-2.6 1.8-2.5 1.7-2.4 1.7-2.3 1.8-2.2 1.7-2.1 1.8-2M268.1 291.7l1.7-3.5 1.7-3.4 1.7-3.3 1.7-3.2 1.7-3 1.7-3 1.7-2.8 1.7-2.8 1.7-2.6 1.8-2.5 1.7-2.4 1.8-2.3 1.7-2.2 1.8-2.1 1.8-1.9 1.7-1.9 1.8-1.7M269.3 290l1.6-3.5 1.7-3.4 1.7-3.3 1.7-3.2 1.7-3 1.8-3 1.7-2.8 1.7-2.7 1.8-2.7 1.7-2.5 1.7-2.4 1.8-2.2 1.8-2.2 1.7-2.1 1.8-2 1.8-1.8 1.8-1.8 1.8-1.6M270.4 288.4l1.7-3.5 1.7-3.4 1.7-3.3 1.7-3.1 1.7-3.1 1.8-2.9 1.7-2.9 1.7-2.7 1.8-2.6 1.7-2.5 1.8-2.4 1.7-2.3 1.8-2.1 1.8-2.1 1.8-2 1.7-1.8 1.8-1.7 1.8-1.7 1.8-1.5M271.6 286.9l1.7-3.5 1.7-3.4 1.7-3.2 1.7-3.2 1.7-3 1.8-3 1.7-2.8 1.7-2.7 1.8-2.6 1.8-2.5 1.7-2.4 1.8-2.3 1.8-2.1 1.7-2.1 1.8-1.9 1.8-1.9 1.8-1.7 1.8-1.6 1.8-1.6 1.8-1.4 1.8-1.3 1.8-1.2M272.8 285.6l1.7-3.5 1.7-3.4 1.7-3.2 1.7-3.2 1.7-3 1.8-3 1.7-2.8 1.8-2.7 1.7-2.6 1.8-2.5 1.8-2.4 1.7-2.2 1.8-2.2 1.8-2 1.8-2 1.8-1.8 1.8-1.7 1.8-1.6 1.8-1.6 1.8-1.4 1.8-1.3 1.9-1.2M313.5 233.2l1.8-1 1.8-.9M273.9 284.4l1.7-3.5 1.8-3.3 1.7-3.3 1.7-3.2 1.7-3 1.8-2.9 1.7-2.8 1.8-2.7 1.8-2.6 1.7-2.5 1.8-2.4 1.8-2.2 1.8-2.2 1.8-2 1.8-2 1.8-1.8 1.8-1.7 1.8-1.6 1.8-1.5 1.8-1.4 1.8-1.3 1.9-1.2 1.8-1.1 1.8-1 1.9-.9M275.1 283.4l1.7-3.5 1.7-3.4 1.8-3.2 1.7-3.2 1.7-3 1.8-2.9 1.8-2.8 1.7-2.7 1.8-2.6 1.8-2.5 1.7-2.3 1.8-2.3 1.8-2.1 1.8-2.1 1.8-1.9 1.8-1.8 1.9-1.7 1.8-1.7 1.8-1.5 1.8-1.4 1.9-1.3 1.8-1.2 1.8-1 1.9-1 1.8-.9 1.9-.8 1.8-.7 1.9-.6M276.3 282.5l1.7-3.5 1.7-3.4 1.8-3.2 1.7-3.1 1.8-3.1 1.7-2.9 1.8-2.8 1.8-2.7 1.7-2.5 1.8-2.5 1.8-2.4 1.8-2.2 1.8-2.2 1.8-2 1.8-1.9 1.8-1.8 1.9-1.7 1.8-1.6 1.8-1.5 1.8-1.4 1.9-1.3 1.8-1.2 1.9-1.1 1.8-1 1.9-.9 1.8-.7 1.9-.7 1.8-.6 1.9-.5 1.8-.4M277.5 281.8l1.7-3.5 1.7-3.4 1.8-3.2 1.7-3.2 1.8-3 1.7-2.9 1.8-2.8 1.8-2.7 1.8-2.5 1.8-2.5 1.8-2.3 1.8-2.3 1.8-2.1 1.8-2 1.8-2 1.8-1.8 1.8-1.7 1.9-1.6 1.8-1.5 1.9-1.3 1.8-1.3 1.8-1.2 1.9-1.1 1.8-1 1.9-.8 1.9-.8 1.8-.7 1.9-.6 1.9-.5 1.8-.3 1.9-.3M278.7 281.2l1.7-3.5 1.8-3.3 1.7-3.3 1.7-3.1 1.8-3 1.8-2.9 1.8-2.8 1.7-2.7 1.8-2.6 1.8-2.4 1.8-2.4 1.8-2.2 1.8-2.1 1.9-2 1.8-1.9 1.8-1.8 1.8-1.7 1.9-1.6 1.8-1.5 1.9-1.4 1.8-1.3 1.9-1.2 1.8-1 1.9-1 1.9-.9 1.8-.7 1.9-.7 1.9-.6 1.8-.5 1.9-.3 1.9-.3 1.8-.2 1.9-.1 1.9 0M279.9 280.8l1.7-3.5 1.8-3.3 1.7-3.3 1.8-3.1 1.7-3 1.8-2.9 1.8-2.8 1.8-2.7 1.8-2.5 1.8-2.5 1.8-2.3 1.8-2.2 1.8-2.2 1.8-2 1.9-1.9 1.8-1.8 1.8-1.7 1.9-1.5 1.8-1.5 1.9-1.4 1.8-1.3 1.9-1.1 1.9-1.1 1.8-1 1.9-.8 1.9-.8 1.8-.7 1.9-.5 1.9-.5 1.9-.4 1.9-.2 1.8-.2 1.9-.1 1.9 0 1.9 .1 1.9 .2 1.8 .3 1.9 .3M281.1 280.5l1.7-3.4 1.8-3.4 1.7-3.2 1.8-3.1 1.8-3 1.8-2.9 1.7-2.8 1.8-2.7 1.8-2.5 1.8-2.5 1.9-2.3 1.8-2.2 1.8-2.1 1.8-2 1.9-1.9 1.8-1.8 1.9-1.7 1.8-1.6 1.9-1.5 1.8-1.3 1.9-1.3 1.8-1.2 1.9-1 1.9-1 1.9-.8 1.8-.8 1.9-.6 1.9-.6 1.9-.5 1.9-.3 1.8-.3 1.9-.2 1.9-.1 1.9 .1 1.9 .1 1.9 .2 1.9 .2 1.8 .4 1.9 .5 1.9 .5M282.3 280.5l1.8-3.5 1.7-3.3 1.8-3.3 1.7-3.1 1.8-3 1.8-2.9 1.8-2.7 1.8-2.7 1.8-2.5 1.8-2.5 1.8-2.3 1.9-2.2 1.8-2.1 1.8-2 1.9-1.9 1.8-1.8 1.9-1.7 1.8-1.6 1.9-1.4 1.8-1.4 1.9-1.3 1.9-1.1 1.9-1.1 1.8-.9 1.9-.9 1.9-.7 1.9-.7 1.9-.5 1.8-.5 1.9-.3 1.9-.3 1.9-.2 1.9-.1 1.9 .1 1.9 .1 1.9 .2 1.9 .3 1.9 .3 1.9 .5 1.8 .6 1.9 .6 1.9 .7M283.5 280.5l1.8-3.4 1.7-3.3 1.8-3.3 1.8-3.1 1.8-3 1.8-2.8 1.8-2.8 1.8-2.7 1.8-2.5 1.8-2.5 1.8-2.3 1.8-2.2 1.9-2.1 1.8-2 1.9-1.9 1.8-1.8 1.9-1.6 1.8-1.6 1.9-1.5 1.9-1.3 1.8-1.3 1.9-1.1 1.9-1.1 1.9-.9 1.9-.9 1.9-.7 1.8-.6 1.9-.6 1.9-.4 1.9-.4 1.9-.3 1.9-.1 1.9-.1 1.9 0 1.9 .2 1.9 .2 1.9 .3 1.9 .4 1.9 .4 1.9 .6 1.9 .6 1.9 .8 1.8 .8 1.9 .9 1.9 1 1.9 1M284.8 280.8l1.7-3.5 1.8-3.3 1.7-3.2 1.8-3.1 1.8-3 1.8-2.9 1.8-2.7 1.8-2.7 1.8-2.5 1.9-2.5 1.8-2.3 1.8-2.2 1.9-2.1 1.8-2 1.9-1.9 1.8-1.7 1.9-1.7 1.9-1.6 1.8-1.4 1.9-1.4 1.9-1.2 1.9-1.2 1.9-1 1.8-.9 1.9-.9 1.9-.7 1.9-.7 1.9-.5 1.9-.4 1.9-.4 1.9-.2 1.9-.2 1.9 0 1.9 0 1.9 .1 1.9 .2 1.9 .3 1.9 .4 1.9 .5 1.9 .6 1.9 .6 1.9 .8 1.9 .8 1.9 .9 1.9 1 1.9 1 1.8 1.2 1.9 1.2M286 281.2l1.7-3.4 1.8-3.4 1.8-3.2 1.8-3.1 1.8-3 1.8-2.8 1.8-2.8 1.8-2.6 1.8-2.6 1.8-2.4 1.9-2.3 1.8-2.2 1.9-2.1 1.8-2 1.9-1.9 1.8-1.7 1.9-1.7 1.9-1.5 1.9-1.5 1.8-1.3 1.9-1.3 1.9-1.1 1.9-1.1 1.9-.9 1.9-.8 1.9-.8 1.9-.6 1.9-.5 1.9-.5 1.9-.3 1.9-.2 1.9-.2 1.9-.1 1.9 .1 1.9 .1 1.9 .2 1.9 .3 1.9 .4 1.9 .5 1.9 .6 1.9 .7 1.9 .7 1.9 .8 1.9 .9 1.9 1 1.9 1.1 1.9 1.1 1.9 1.3 1.9 1.3 1.8 1.4 1.9 1.4 1.9 1.5M287.2 281.8l1.8-3.5 1.8-3.3 1.7-3.2 1.8-3.1 1.8-3 1.8-2.8 1.9-2.8 1.8-2.6 1.8-2.5 1.8-2.5 1.9-2.3 1.8-2.2 1.9-2.1 1.8-1.9 1.9-1.9 1.9-1.8 1.8-1.6 1.9-1.6 1.9-1.4 1.9-1.4 1.9-1.2 1.9-1.1 1.9-1.1 1.9-.9 1.9-.8 1.9-.7 1.9-.7 1.9-.5 1.9-.4 1.9-.4 1.9-.2 1.9-.2 1.9 0 1.9 0 1.9 .2 1.9 .2 2 .3 1.9 .4 1.9 .5 1.9 .6 1.9 .7 1.9 .7 1.9 .8 1.9 1 1.9 1 1.9 1 1.9 1.2 1.9 1.2 1.8 1.3 1.9 1.4 1.9 1.5 1.9 1.5 1.8 1.6M388.4 244.9l1.9 1.7M288.5 282.5l1.7-3.4 1.8-3.3 1.8-3.2 1.8-3.1 1.8-3 1.8-2.8 1.8-2.8 1.9-2.6 1.8-2.6 1.8-2.4 1.9-2.3 1.8-2.2 1.9-2.1 1.8-1.9 1.9-1.9 1.9-1.8 1.9-1.6 1.8-1.6 1.9-1.4 1.9-1.3 1.9-1.3 1.9-1.1 1.9-1 1.9-.9 1.9-.9 1.9-.7 1.9-.6 2-.5 1.9-.4 1.9-.4 1.9-.2 1.9-.1 1.9-.1 1.9 .1 2 .1 1.9 .2 1.9 .4 1.9 .4 1.9 .5 1.9 .6 1.9 .6 1.9 .8 1.9 .8 1.9 .9 1.9 1 1.9 1.1 1.9 1.2 1.9 1.2 1.9 1.3 1.9 1.4 1.9 1.5 1.8 1.5 1.9 1.6 1.9 1.7 1.9 1.8 1.8 1.8 1.9 1.8M289.7 283.4l1.8-3.4 1.8-3.3 1.8-3.2 1.8-3.1 1.8-3 1.8-2.8 1.8-2.8 1.8-2.6 1.9-2.5 1.8-2.4 1.9-2.3 1.8-2.2 1.9-2.1 1.9-2 1.8-1.8 1.9-1.8 1.9-1.6 1.9-1.6 1.9-1.4 1.9-1.3 1.9-1.3 1.9-1.1 1.9-1 1.9-.9 1.9-.8 1.9-.7 1.9-.7 1.9-.5 2-.4 1.9-.3 1.9-.2 1.9-.2 1.9 0 1.9 0 2 .2 1.9 .2 1.9 .3 1.9 .5 1.9 .5 2 .6 1.9 .6 1.9 .8 1.9 .8 1.9 1 1.9 1 1.9 1.1 1.9 1.1 1.9 1.3 1.9 1.3 1.9 1.4 1.8 1.5 1.9 1.5 1.9 1.6 1.9 1.7 1.8 1.8 1.9 1.8 1.9 1.9 1.8 1.9 1.8 2 1.9 2.1 1.8 2.1M291 284.5l1.7-3.4 1.8-3.4 1.8-3.1 1.8-3.1 1.8-3 1.9-2.8 1.8-2.8 1.8-2.6 1.9-2.5 1.8-2.4 1.9-2.3 1.8-2.2 1.9-2.1 1.9-1.9 1.9-1.9 1.8-1.7 1.9-1.7 1.9-1.5 1.9-1.5 1.9-1.3 1.9-1.2 1.9-1.1 1.9-1 1.9-.9 2-.9 1.9-.7 1.9-.6 1.9-.5 1.9-.4 2-.3 1.9-.2 1.9-.2 1.9 0 2 .1 1.9 .1 1.9 .3 1.9 .3 1.9 .4 2 .5 1.9 .6 1.9 .7 1.9 .8 1.9 .8 1.9 1 1.9 1 1.9 1.1 1.9 1.1 1.9 1.3 1.9 1.3 1.9 1.4 1.9 1.5 1.9 1.5 1.9 1.7 1.8 1.6 1.9 1.8 1.9 1.8 1.8 1.9 1.9 2 1.8 2 1.9 2.1 1.8 2.1 1.8 2.2 1.9 2.3 1.8 2.3M292.2 285.7l1.8-3.4 1.8-3.3 1.8-3.2 1.8-3.1 1.8-3 1.8-2.8 1.9-2.7 1.8-2.7 1.9-2.5 1.8-2.4 1.9-2.3 1.8-2.1 1.9-2.1 1.9-2 1.9-1.8 1.9-1.8 1.9-1.6 1.9-1.5 1.9-1.5 1.9-1.3 1.9-1.2 1.9-1.1 1.9-1 1.9-.9 1.9-.8 2-.7 1.9-.6 1.9-.5 1.9-.5 2-.3 1.9-.2 1.9-.1 1.9 0 2 0 1.9 .2 1.9 .2 1.9 .4 2 .4 1.9 .5 1.9 .6 1.9 .7 2 .8 1.9 .9 1.9 .9 1.9 1 1.9 1.1 1.9 1.2 1.9 1.2 1.9 1.4 1.9 1.4 1.9 1.5 1.9 1.5 1.8 1.6 1.9 1.7 1.9 1.8 1.9 1.8 1.8 1.9 1.9 2 1.8 2 1.9 2.1 1.8 2.1 1.8 2.2 1.9 2.3 1.8 2.3M293.5 287l1.8-3.4 1.8-3.3 1.8-3.2 1.8-3 1.8-3 1.8-2.8 1.9-2.8 1.8-2.6 1.9-2.5 1.8-2.4 1.9-2.3 1.9-2.1 1.8-2.1 1.9-2 1.9-1.8 1.9-1.7 1.9-1.7 1.9-1.5 1.9-1.4 1.9-1.3 1.9-1.2 1.9-1.1 2-1.1 1.9-.9 1.9-.8 1.9-.7 2-.6 1.9-.5 1.9-.4 1.9-.3 2-.2 1.9-.1 1.9 0 2 .1 1.9 .1 1.9 .3 2 .3 1.9 .5 1.9 .5 1.9 .6 2 .7 1.9 .8 1.9 .8 1.9 1 1.9 1 2 1.1 1.9 1.2 1.9 1.2 1.9 1.4 1.9 1.4 1.8 1.5 1.9 1.5 1.9 1.7 1.9 1.7 1.9 1.7 1.8 1.9 1.9 1.9 1.9 1.9 1.8 2.1 1.8 2.1 1.9 2.1 1.8 2.2 1.8 2.3 1.9 2.3M294.7 288.5l1.8-3.4 1.8-3.3 1.8-3.2 1.9-3 1.8-3 1.8-2.8 1.9-2.7 1.8-2.6 1.9-2.5 1.8-2.4 1.9-2.3 1.9-2.2 1.9-2 1.8-2 1.9-1.8 1.9-1.8 1.9-1.6 1.9-1.5 2-1.4 1.9-1.3 1.9-1.3 1.9-1.1 1.9-1 1.9-.9 2-.7 1.9-.7 1.9-.6 2-.5 1.9-.4 1.9-.3 2-.2 1.9-.1 1.9-.1 2 .1 1.9 .2 2 .2 1.9 .4 1.9 .4 1.9 .6 2 .6 1.9 .7 1.9 .8 1.9 .8 2 1 1.9 1 1.9 1.1 1.9 1.2 1.9 1.3 1.9 1.3 1.9 1.4 1.9 1.5 1.9 1.6 1.9 1.6 1.9 1.7 1.8 1.8 1.9 1.9 1.9 1.9 1.8 1.9 1.9 2.1 1.8 2.1 1.9 2.1 1.8 2.2 1.8 2.3 1.8 2.3M296 290.2l1.8-3.4 1.8-3.3 1.8-3.2 1.9-3.1 1.8-2.9 1.8-2.9 1.9-2.7 1.8-2.6 1.9-2.5 1.8-2.4 1.9-2.2 1.9-2.2 1.9-2.1 1.9-1.9 1.9-1.8 1.9-1.8 1.9-1.6 1.9-1.5 1.9-1.4 1.9-1.3 1.9-1.2 2-1.1 1.9-1 1.9-.9 1.9-.8 2-.7 1.9-.6 2-.5 1.9-.4 1.9-.3 2-.2 1.9-.1 2 0 1.9 .1 1.9 .2 2 .2 1.9 .4 1.9 .4 2 .6 1.9 .6 1.9 .7 2 .8 1.9 .9 1.9 .9 1.9 1.1 1.9 1.1 2 1.2 1.9 1.2 1.9 1.4 1.9 1.4 1.9 1.5 1.9 1.6 1.8 1.6 1.9 1.7 1.9 1.8 1.9 1.9 1.8 1.9 1.9 1.9 1.8 2.1 1.9 2.1 1.8 2.1 1.9 2.3 1.8 2.2 1.8 2.4M297.3 291.9l1.8-3.4 1.8-3.3 1.8-3.1 1.8-3.1 1.9-2.9 1.8-2.9 1.9-2.7 1.8-2.6 1.9-2.5 1.9-2.4 1.8-2.2 1.9-2.2 1.9-2.1 1.9-1.9 1.9-1.8 1.9-1.8 1.9-1.6 1.9-1.5 1.9-1.4 2-1.3 1.9-1.2 1.9-1.1 2-1 1.9-.8 1.9-.8 2-.7 1.9-.6 1.9-.5 2-.4 1.9-.3 2-.2 1.9-.1 2 0 1.9 .1 1.9 .2 2 .3 1.9 .3 2 .5 1.9 .5 1.9 .6 2 .7 1.9 .8 1.9 .9 1.9 1 2 1 1.9 1.1 1.9 1.2 1.9 1.3 1.9 1.4 1.9 1.4 1.9 1.5 1.9 1.6 1.9 1.6 1.9 1.8 1.9 1.7 1.8 1.9 1.9 1.9 1.9 2 1.8 2 1.9 2.1 1.8 2.2 1.8 2.2 1.9 2.3 1.8 2.3M298.6 293.8l1.8-3.4 1.8-3.3 1.8-3.2 1.8-3 1.9-2.9 1.8-2.9 1.9-2.7 1.8-2.6 1.9-2.5 1.9-2.4 1.9-2.2 1.8-2.2 1.9-2 1.9-2 1.9-1.8 1.9-1.7 2-1.6 1.9-1.5 1.9-1.4 1.9-1.3 2-1.2 1.9-1.1 1.9-1 2-.9 1.9-.7 1.9-.7 2-.6 1.9-.5 2-.4 1.9-.3 2-.2 1.9 0 2 0 1.9 0 1.9 .2 2 .3 1.9 .4 2 .4 1.9 .6 2 .6 1.9 .7 1.9 .8 2 .9 1.9 1 1.9 1 1.9 1.1 1.9 1.2 2 1.3 1.9 1.4 1.9 1.4 1.9 1.5 1.9 1.6 1.9 1.7 1.8 1.7 1.9 1.8 1.9 1.8 1.9 2 1.8 1.9 1.9 2.1 1.8 2.1 1.9 2.2 1.8 2.2 1.8 2.3 1.9 2.3M299.9 295.8l1.8-3.4 1.8-3.3 1.8-3.2 1.8-3 1.9-2.9 1.8-2.9 1.9-2.7 1.8-2.6 1.9-2.5 1.9-2.3 1.9-2.3 1.9-2.1 1.9-2.1 1.9-1.9 1.9-1.8 1.9-1.8 1.9-1.6 1.9-1.5 2-1.4 1.9-1.3 1.9-1.1 2-1.1 1.9-1 1.9-.9 2-.8 1.9-.6 2-.6 1.9-.5 2-.4 1.9-.2 2-.2 1.9-.1 2 0 1.9 .1 2 .2 1.9 .3 1.9 .3 2 .5 1.9 .5 2 .7 1.9 .7 2 .8 1.9 .9 1.9 1 1.9 1 2 1.1 1.9 1.3 1.9 1.2 1.9 1.4 1.9 1.4 1.9 1.6 1.9 1.5 1.9 1.7 1.9 1.7 1.9 1.8 1.8 1.9 1.9 1.9 1.9 2 1.8 2.1 1.9 2.1 1.8 2.2 1.9 2.2 1.8 2.3 1.8 2.3M301.1 297.9l1.8-3.4 1.9-3.3 1.8-3.2 1.8-3 1.9-2.9 1.8-2.9 1.9-2.7 1.9-2.6 1.8-2.4 1.9-2.4 1.9-2.3 1.9-2.1 1.9-2 1.9-2 1.9-1.8 1.9-1.7 2-1.6 1.9-1.5 1.9-1.4 1.9-1.3 2-1.2 1.9-1 2-1 1.9-.9 1.9-.8 2-.6 1.9-.6 2-.5 1.9-.3 2-.3 2-.2 1.9-.1 2 0 1.9 .1 2 .2 1.9 .3 2 .4 1.9 .4 2 .6 1.9 .6 1.9 .8 2 .8 1.9 .9 1.9 .9 2 1.1 1.9 1.1 1.9 1.3 1.9 1.3 1.9 1.3 2 1.5 1.9 1.5 1.9 1.6 1.9 1.6 1.8 1.8 1.9 1.8 1.9 1.8 1.9 2 1.8 2 1.9 2 1.8 2.2 1.9 2.1 1.8 2.3 1.9 2.3 1.8 2.3M302.4 300l1.8-3.4 1.9-3.2 1.8-3.2 1.8-3 1.9-2.9 1.8-2.9 1.9-2.7 1.9-2.5 1.9-2.5 1.8-2.4 1.9-2.2 1.9-2.2 1.9-2 1.9-1.9 2-1.9 1.9-1.7 1.9-1.6 1.9-1.5 2-1.3 1.9-1.3 1.9-1.2 2-1.1 1.9-.9 2-.9 1.9-.8 2-.6 1.9-.6 2-.5 1.9-.3 2-.3 1.9-.2 2-.1 2 0 1.9 .2 2 .2 1.9 .2 2 .4 1.9 .5 2 .6 1.9 .6 2 .7 1.9 .8 1.9 .9 2 1 1.9 1.1 1.9 1.1 2 1.3 1.9 1.3 1.9 1.3 1.9 1.5 1.9 1.5 1.9 1.6 1.9 1.7 1.9 1.7 1.9 1.8 1.8 1.9 1.9 1.9 1.9 2 1.8 2.1 1.9 2.1 1.8 2.2 1.9 2.2 1.8 2.3 1.8 2.4M303.7 302.3l1.8-3.4 1.9-3.3 1.8-3.1 1.8-3 1.9-3 1.8-2.8 1.9-2.7 1.9-2.6 1.9-2.4 1.9-2.4 1.9-2.2 1.9-2.2 1.9-2 1.9-1.9 1.9-1.8 1.9-1.7 1.9-1.6 2-1.5 1.9-1.4 2-1.3 1.9-1.1 1.9-1.1 2-1 1.9-.8 2-.8 2-.7 1.9-.5 2-.5 1.9-.4 2-.2 1.9-.2 2-.1 2 .1 1.9 .1 2 .2 1.9 .3 2 .4 1.9 .4 2 .6 1.9 .6 2 .8 1.9 .8 2 .9 1.9 1 1.9 1.1 2 1.1 1.9 1.2 1.9 1.3 1.9 1.4 1.9 1.5 1.9 1.5 1.9 1.6 1.9 1.7 1.9 1.7 1.9 1.8 1.9 1.9 1.9 1.9 1.8 2.1 1.9 2 1.8 2.2 1.9 2.1 1.8 2.3 1.8 2.3 1.9 2.4M305 304.6l1.8-3.4 1.9-3.2 1.8-3.2 1.8-3 1.9-2.9 1.9-2.8 1.8-2.7 1.9-2.6 1.9-2.5 1.9-2.3 1.9-2.3 1.9-2.1 1.9-2 1.9-1.9 1.9-1.8 2-1.7 1.9-1.6 1.9-1.5 2-1.4 1.9-1.3 2-1.1 1.9-1.1 2-1 1.9-.8 2-.8 1.9-.6 2-.6 1.9-.4 2-.4 2-.3 1.9-.1 2-.1 2 0 1.9 .1 2 .3 1.9 .3 2 .3 1.9 .5 2 .6 1.9 .6 2 .8 1.9 .8 2 .9 1.9 1 2 1.1 1.9 1.1 1.9 1.3 1.9 1.3 2 1.4 1.9 1.4 1.9 1.6 1.9 1.6 1.9 1.6 1.9 1.8 1.8 1.8 1.9 1.9 1.9 1.9 1.9 2 1.8 2.1 1.9 2.2 1.8 2.2 1.9 2.2 1.8 2.3 1.8 2.4M306.3 307l1.8-3.4 1.9-3.2 1.8-3.2 1.8-3 1.9-2.9 1.9-2.8 1.8-2.7 1.9-2.6 1.9-2.4 1.9-2.4 1.9-2.2 1.9-2.2 1.9-2 2-1.9 1.9-1.8 1.9-1.7 1.9-1.6 2-1.5 1.9-1.3 2-1.3 1.9-1.2 2-1 1.9-1 2-.8 1.9-.8 2-.6 2-.6 1.9-.4 2-.4 2-.2 1.9-.2 2-.1 2 .1 1.9 .1 2 .2 1.9 .3 2 .4 2 .5 1.9 .6 2 .6 1.9 .8 2 .8 1.9 .9 1.9 1 2 1.1 1.9 1.1 1.9 1.3 2 1.3 1.9 1.4 1.9 1.4 1.9 1.6 1.9 1.6 1.9 1.7 1.9 1.7 1.9 1.8 1.9 1.9 1.8 2 1.9 2 1.9 2.1 1.8 2.1 1.9 2.2 1.8 2.3 1.8 2.3 1.9 2.4M307.6 309.4l1.8-3.4 1.9-3.2 1.8-3.1 1.9-3.1 1.8-2.9 1.9-2.8 1.9-2.7 1.8-2.5 1.9-2.5 1.9-2.3 1.9-2.3 2-2.1 1.9-2 1.9-1.9 1.9-1.8 2-1.7 1.9-1.6 1.9-1.5 2-1.3 1.9-1.3 2-1.2 1.9-1 2-1 2-.8 1.9-.8 2-.6 1.9-.5 2-.5 2-.3 1.9-.3 2-.1 2-.1 1.9 0 2 .2 2 .2 1.9 .3 2 .4 2 .5 1.9 .6 2 .6 1.9 .8 2 .8 1.9 .9 2 1 1.9 1.1 1.9 1.2 2 1.2 1.9 1.3 1.9 1.4 1.9 1.5 1.9 1.5 1.9 1.7 1.9 1.6 1.9 1.8 1.9 1.8 1.9 1.9 1.9 2 1.8 2 1.9 2.1 1.8 2.1 1.9 2.2 1.8 2.3 1.9 2.3 1.8 2.4M308.9 311.9l1.8-3.4 1.9-3.3 1.8-3.1 1.9-3 1.8-2.9 1.9-2.8 1.9-2.7 1.9-2.6 1.9-2.4 1.9-2.3 1.9-2.3 1.9-2.1 1.9-2 1.9-1.9 2-1.8 1.9-1.7 1.9-1.6 2-1.4 1.9-1.4 2-1.3 1.9-1.1 2-1.1 2-.9 1.9-.8 2-.8 2-.6 1.9-.6 2-.4 2-.4 1.9-.2 2-.2 2 0 1.9 0 2 .2 2 .2 1.9 .3 2 .4 2 .5 1.9 .6 2 .7 1.9 .7 2 .8 1.9 1 2 1 1.9 1.1 1.9 1.1 2 1.3 1.9 1.3 1.9 1.4 1.9 1.5 2 1.5 1.9 1.6 1.9 1.7 1.9 1.8 1.8 1.8 1.9 1.9 1.9 2 1.9 2 1.8 2.1 1.9 2.2 1.8 2.2 1.9 2.2 1.8 2.4 1.8 2.3M310.2 314.3l1.8-3.3 1.9-3.3 1.8-3.1 1.9-3 1.8-2.9 1.9-2.8 1.9-2.7 1.9-2.6 1.9-2.4 1.9-2.3 1.9-2.3 1.9-2.1 1.9-2 2-1.9 1.9-1.8 1.9-1.7 2-1.5 1.9-1.5 2-1.4 1.9-1.2 2-1.2 2-1 1.9-.9 2-.9 2-.7 1.9-.7 2-.5 2-.4 1.9-.4 2-.2 2-.2 2 0 1.9 0 2 .2 2 .2 1.9 .3 2 .4 2 .5 1.9 .6 2 .7 1.9 .8 2 .8 1.9 .9 2 1 1.9 1.1 2 1.2 1.9 1.3 1.9 1.3 1.9 1.4 2 1.5 1.9 1.5 1.9 1.7 1.9 1.7 1.9 1.7 1.9 1.9 1.8 1.9 1.9 1.9 1.9 2.1 1.8 2 1.9 2.2 1.8 2.2 1.9 2.3 1.8 2.3 1.8 2.4M311.5 316.8l1.8-3.4 1.9-3.2 1.8-3.1 1.9-3.1 1.8-2.9 1.9-2.7 1.9-2.7 1.9-2.6 1.9-2.4 1.9-2.3 1.9-2.3 2-2.1 1.9-2 1.9-1.9 1.9-1.8 2-1.6 1.9-1.6 2-1.5 1.9-1.3 2-1.3 2-1.1 1.9-1 2-1 2-.8 1.9-.7 2-.7 2-.5 1.9-.4 2-.4 2-.2 2-.2 1.9 0 2 0 2 .2 2 .2 1.9 .3 2 .5 2 .5 1.9 .6 2 .6 1.9 .8 2 .9 1.9 .9 2 1 1.9 1.1 2 1.2 1.9 1.2 1.9 1.4 2 1.4 1.9 1.5 1.9 1.5 1.9 1.7 1.9 1.7 1.9 1.7 1.9 1.9 1.9 1.9 1.8 2 1.9 2 1.9 2.1 1.8 2.1 1.9 2.3 1.8 2.2 1.8 2.4 1.9 2.4M312.8 319.2l1.8-3.3 1.9-3.3 1.8-3.1 1.9-3 1.9-2.9 1.8-2.8 1.9-2.6 1.9-2.6 1.9-2.4 1.9-2.4 2-2.2 1.9-2.1 1.9-2 1.9-1.9 2-1.8 1.9-1.6 2-1.6 1.9-1.4 2-1.4 2-1.2 1.9-1.2 2-1 2-.9 1.9-.9 2-.7 2-.6 1.9-.5 2-.5 2-.3 2-.2 2-.2 1.9 0 2 0 2 .2 2 .2 1.9 .4 2 .4 2 .5 1.9 .6 2 .7 2 .7 1.9 .9 2 .9 1.9 1.1 1.9 1.1 2 1.1 1.9 1.3 2 1.3 1.9 1.5 1.9 1.5 1.9 1.5 1.9 1.7 1.9 1.7 1.9 1.7 1.9 1.9 1.9 1.9 1.9 2 1.8 2 1.9 2.1 1.8 2.2 1.9 2.2 1.8 2.3 1.9 2.3 1.8 2.4M314.1 321.6l1.8-3.3 1.9-3.3 1.8-3.1 1.9-3 1.9-2.9 1.9-2.8 1.8-2.6 1.9-2.6 2-2.4 1.9-2.3 1.9-2.2 1.9-2.1 1.9-2 2-1.9 1.9-1.8 2-1.7 1.9-1.5 2-1.5 1.9-1.3 2-1.2 2-1.2 1.9-1 2-.9 2-.9 2-.7 1.9-.6 2-.5 2-.4 2-.4 2-.2 1.9-.1 2-.1 2 .1 2 .1 1.9 .3 2 .3 2 .5 2 .5 1.9 .6 2 .7 2 .7 1.9 .9 2 .9 1.9 1.1 2 1.1 1.9 1.2 1.9 1.2 2 1.4 1.9 1.4 1.9 1.5 1.9 1.6 1.9 1.6 1.9 1.7 1.9 1.8 1.9 1.9 1.9 1.9 1.9 2 1.9 2 1.8 2.1 1.9 2.2 1.8 2.2 1.8 2.3 1.9 2.3 1.8 2.4M315.4 323.9l1.8-3.3 1.9-3.2 1.8-3.1 1.9-3 1.9-2.9 1.9-2.8 1.9-2.6 1.9-2.6 1.9-2.4 1.9-2.3 1.9-2.2 1.9-2.1 2-2 1.9-1.9 2-1.8 1.9-1.6 2-1.6 1.9-1.4 2-1.4 2-1.2 1.9-1.1 2-1.1 2-.9 2-.8 1.9-.7 2-.6 2-.6 2-.4 2-.3 1.9-.2 2-.1 2-.1 2 .1 2 .2 1.9 .2 2 .3 2 .5 2 .5 1.9 .6 2 .7 2 .8 1.9 .9 2 .9 1.9 1 2 1.2 1.9 1.1 1.9 1.3 2 1.4 1.9 1.4 1.9 1.5 1.9 1.6 2 1.6 1.9 1.7 1.9 1.8 1.8 1.9 1.9 1.9 1.9 2 1.9 2 1.8 2.1 1.9 2.2 1.8 2.3 1.9 2.2 1.8 2.4 1.8 2.4M316.7 326.2l1.8-3.3 1.9-3.3 1.8-3.1 1.9-3 1.9-2.8 1.9-2.8 1.9-2.7 1.9-2.5 1.9-2.4 1.9-2.3 1.9-2.2 2-2.1 1.9-2 2-1.9 1.9-1.7 2-1.7 1.9-1.5 2-1.5 1.9-1.3 2-1.2 2-1.2 2-1 1.9-.9 2-.8 2-.7 2-.6 2-.6 1.9-.4 2-.3 2-.2 2-.1 2 0 2 0 1.9 .2 2 .2 2 .4 2 .4 2 .6 1.9 .6 2 .7 2 .8 1.9 .8 2 1 1.9 1 2 1.2 1.9 1.1 2 1.3 1.9 1.4 1.9 1.4 1.9 1.5 2 1.6 1.9 1.7 1.9 1.7 1.9 1.8 1.9 1.8 1.8 2 1.9 1.9 1.9 2.1 1.9 2.1 1.8 2.2 1.8 2.2 1.9 2.3 1.8 2.4 1.8 2.4M317.9 328.4l1.9-3.4 1.8-3.2 1.9-3.1 1.9-3 1.9-2.9 1.9-2.7 1.9-2.7 1.9-2.5 1.9-2.4 1.9-2.3 2-2.2 1.9-2.1 1.9-2 2-1.8 1.9-1.8 2-1.7 2-1.5 1.9-1.4 2-1.4 2-1.2 1.9-1.1 2-1 2-.9 2-.8 2-.7 1.9-.6 2-.5 2-.5 2-.3 2-.2 2-.1 2 0 1.9 .1 2 .1 2 .3 2 .4 2 .4 1.9 .5 2 .6 2 .8 2 .7 1.9 .9 2 1 1.9 1 2 1.2 1.9 1.2 2 1.2 1.9 1.4 1.9 1.4 2 1.6 1.9 1.5 1.9 1.7 1.9 1.7 1.9 1.8 1.9 1.9 1.9 1.9 1.8 2 1.9 2.1 1.9 2.1 1.8 2.2 1.9 2.2 1.8 2.3 1.8 2.4 1.9 2.4M319.2 330.4l1.9-3.3 1.8-3.2 1.9-3.1 1.9-3 1.9-2.9 1.9-2.7 1.9-2.7 1.9-2.5 1.9-2.4 1.9-2.3 2-2.2 1.9-2.1 2-2 1.9-1.8 2-1.8 1.9-1.6 2-1.6 2-1.4 1.9-1.3 2-1.2 2-1.1 2-1.1 1.9-.9 2-.8 2-.7 2-.6 2-.5 2-.4 2-.3 2-.2 2-.1 1.9 0 2 .1 2 .2 2 .2 2 .4 2 .4 1.9 .6 2 .6 2 .7 2 .8 1.9 .9 2 1 1.9 1 2 1.2 1.9 1.2 2 1.3 1.9 1.3 1.9 1.5 2 1.5 1.9 1.6 1.9 1.6 1.9 1.8 1.9 1.8 1.9 1.8 1.9 2 1.9 2 1.8 2 1.9 2.2 1.8 2.2 1.9 2.2 1.8 2.3 1.9 2.4 1.8 2.4M320.5 332.3l1.9-3.3 1.8-3.2 1.9-3.1 1.9-3 1.9-2.9 1.9-2.7 1.9-2.6 1.9-2.6 1.9-2.4 1.9-2.3 2-2.2 1.9-2 2-2 1.9-1.9 2-1.7 2-1.6 1.9-1.6 2-1.4 2-1.3 1.9-1.2 2-1.1 2-1 2-.9 2-.8 2-.7 2-.6 2-.5 2-.4 1.9-.3 2-.2 2-.1 2 0 2 .1 2 .2 2 .2 2 .4 2 .5 1.9 .5 2 .6 2 .8 2 .8 1.9 .8 2 1 1.9 1.1 2 1.1 1.9 1.2 2 1.3 1.9 1.4 2 1.4 1.9 1.6 1.9 1.6 1.9 1.6 1.9 1.8 1.9 1.8 1.9 1.9 1.9 1.9 1.9 2 1.9 2.1 1.8 2.1 1.9 2.2 1.8 2.3 1.9 2.3 1.8 2.3 1.8 2.5M261.3 304.2l1.1-2.3 1.1-2.2 1.2-2.2 1.1-2 1.2-1.9 1.1-1.9 1.2-1.7 1.1-1.6 1.2-1.5 1.2-1.3 1.1-1.2 1.2-1 1.2-.9 1.2-.7 1.2-.6 1.2-.4 1.2-.3 1.2 0 1.2 0 1.3 .3 1.2 .4 1.2 .6 1.3 .7 1.2 .9 1.3 1.1 1.2 1.2 1.3 1.3 1.2 1.5 1.3 1.7 1.3 1.7 1.3 1.9 1.3 2 1.2 2.1 1.3 2.1 1.3 2.3 1.3 2.3 1.3 2.4 1.3 2.4 1.3 2.5 1.3 2.4 1.3 2.5 1.3 2.4 1.3 2.4 1.3 2.3 1.3 2.3 1.2 2.2 1.3 2 1.3 1.9M262.9 300.6l1.1-2.3 1.2-2.2 1.1-2.1 1.2-2 1.1-2 1.2-1.8 1.1-1.7 1.2-1.6 1.2-1.5 1.2-1.3 1.1-1.2 1.2-1 1.2-.9 1.2-.7 1.2-.6 1.2-.4 1.2-.2 1.3-.1 1.2 .1 1.2 .2 1.2 .5 1.3 .5 1.2 .8 1.3 .9 1.2 1.1 1.3 1.2 1.3 1.3 1.2 1.5 1.3 1.7 1.3 1.7 1.3 1.9 1.3 2 1.2 2.1 1.3 2.1 1.3 2.3 1.3 2.3 1.3 2.4 1.3 2.4 1.3 2.5 1.3 2.5 1.3 2.4 1.3 2.5 1.3 2.4 1.3 2.3 1.3 2.3 1.3 2.1 1.3 2.1 1.3 1.9M264.5 297.2l1.2-2.3 1.1-2.2 1.2-2.1 1.1-2 1.2-2 1.2-1.8 1.1-1.7 1.2-1.6 1.2-1.5 1.2-1.3 1.2-1.1 1.1-1.1 1.2-.9 1.2-.7 1.3-.5 1.2-.4 1.2-.3 1.2 0 1.2 .1 1.3 .2 1.2 .4 1.3 .6 1.2 .8 1.3 .9 1.2 1 1.3 1.3 1.3 1.3 1.2 1.5 1.3 1.7 1.3 1.7 1.3 1.9 1.3 2 1.3 2.1 1.3 2.2 1.3 2.2 1.3 2.4 1.3 2.4 1.3 2.4 1.3 2.4 1.3 2.5 1.3 2.5 1.3 2.4 1.3 2.4 1.3 2.4 1.3 2.2 1.2 2.2 1.3 2.1 1.3 1.9M266.2 293.9l1.1-2.3 1.2-2.2 1.2-2.1 1.1-2.1 1.2-1.9 1.2-1.8 1.1-1.7 1.2-1.6 1.2-1.4 1.2-1.3 1.2-1.2 1.2-1 1.2-.9 1.2-.7 1.2-.6 1.2-.4 1.2-.2 1.3-.1 1.2 .1 1.2 .3 1.3 .4 1.2 .6 1.3 .8 1.3 .9 1.2 1.1 1.3 1.2 1.3 1.3 1.2 1.5 1.3 1.7 1.3 1.8 1.3 1.8 1.3 2 1.3 2.1 1.3 2.2 1.3 2.3 1.3 2.3 1.3 2.4 1.3 2.5 1.3 2.4 1.3 2.5 1.3 2.5 1.3 2.4 1.3 2.4 1.3 2.4 1.3 2.2 1.3 2.2 1.3 2.1 1.3 1.9M267.8 290.6l1.2-2.2 1.2-2.2 1.1-2.1 1.2-2 1.2-2 1.2-1.8 1.1-1.7 1.2-1.5 1.2-1.5 1.2-1.3 1.2-1.2 1.2-1 1.2-.8 1.2-.8 1.2-.5 1.3-.4 1.2-.2 1.2-.1 1.3 .1 1.2 .3 1.3 .4 1.2 .6 1.3 .8 1.3 .9 1.2 1.1 1.3 1.2 1.3 1.4 1.3 1.5 1.3 1.6 1.2 1.8 1.3 1.9 1.3 2 1.3 2.1 1.3 2.2 1.3 2.3 1.3 2.3 1.3 2.4 1.4 2.4 1.3 2.5 1.3 2.5 1.3 2.4 1.3 2.5 1.3 2.4 1.3 2.4 1.3 2.2 1.3 2.2 1.3 2.1 1.3 1.9M269.5 287.5l1.2-2.2 1.1-2.2 1.2-2.1 1.2-2 1.2-1.9 1.2-1.8 1.1-1.7 1.2-1.6 1.2-1.4 1.2-1.3 1.2-1.2 1.2-1 1.3-.9 1.2-.7 1.2-.5 1.2-.4 1.3-.2 1.2-.1 1.3 .1 1.2 .3 1.3 .4 1.2 .6 1.3 .8 1.3 .9 1.2 1.1 1.3 1.2 1.3 1.4 1.3 1.5 1.3 1.7 1.3 1.8 1.3 1.9 1.3 2 1.3 2.1 1.3 2.2 1.3 2.2 1.3 2.4 1.3 2.4 1.3 2.4 1.3 2.5 1.3 2.5 1.3 2.4 1.4 2.5 1.3 2.4 1.3 2.4 1.3 2.3 1.3 2.1 1.3 2.1 1.3 1.9M271.2 284.5l1.2-2.2 1.1-2.2 1.2-2.1 1.2-2 1.2-1.9 1.2-1.8 1.2-1.7 1.2-1.5 1.2-1.5 1.2-1.3 1.2-1.1 1.2-1 1.2-.9 1.2-.7 1.3-.5 1.2-.4 1.3-.2 1.2-.1 1.3 .2 1.2 .2 1.3 .5 1.2 .6 1.3 .8 1.3 .9 1.3 1.1 1.2 1.2 1.3 1.4 1.3 1.5 1.3 1.6 1.3 1.8 1.3 1.9 1.3 2 1.3 2.1 1.3 2.2 1.3 2.3 1.4 2.4 1.3 2.4 1.3 2.4 1.3 2.5 1.3 2.5 1.3 2.5 1.3 2.4 1.4 2.4 1.3 2.4 1.3 2.3 1.3 2.2 1.3 2.1 1.3 1.9M272.9 281.7l1.1-2.3 1.2-2.2 1.2-2 1.2-2 1.2-1.9 1.2-1.8 1.2-1.7 1.2-1.6 1.2-1.4 1.2-1.3 1.2-1.1 1.3-1 1.2-.9 1.2-.7 1.3-.5 1.2-.4 1.2-.2 1.3 0 1.3 .1 1.2 .3 1.3 .4 1.3 .6 1.2 .8 1.3 .9 1.3 1.1 1.3 1.3 1.3 1.3 1.3 1.6 1.3 1.6 1.3 1.8 1.3 1.9 1.3 2 1.3 2.1 1.3 2.2 1.3 2.3 1.3 2.4 1.3 2.4 1.4 2.4 1.3 2.5 1.3 2.5 1.3 2.5 1.3 2.5 1.3 2.4 1.4 2.4 1.3 2.2 1.3 2.2 1.3 2.1 1.3 2M274.5 278.9l1.2-2.3 1.2-2.1 1.2-2.1 1.2-2 1.2-1.9 1.2-1.8 1.2-1.6 1.2-1.6 1.2-1.4 1.3-1.3 1.2-1.1 1.2-1 1.3-.9 1.2-.7 1.2-.5 1.3-.4 1.2-.2 1.3 0 1.3 .1 1.2 .3 1.3 .5 1.3 .6 1.3 .8 1.2 .9 1.3 1.1 1.3 1.2 1.3 1.4 1.3 1.6 1.3 1.6 1.3 1.8 1.3 1.9 1.3 2 1.4 2.1 1.3 2.3 1.3 2.2 1.3 2.4 1.3 2.4 1.3 2.5 1.4 2.4 1.3 2.5 1.3 2.5 1.3 2.5 1.3 2.4 1.4 2.4 1.3 2.3 1.3 2.2 1.3 2.1 1.3 1.9M277.4 274l1.2-2.2 1.2-2 1.2-2 1.2-1.9 1.2-1.8 1.3-1.7 1.2-1.5 1.2-1.4 1.2-1.3 1.3-1.1 1.2-1 1.2-.8 1.3-.7 1.2-.6 1.3-.3 1.2-.2 1.3 0 1.3 .1 1.2 .3 1.3 .4 1.3 .7 1.3 .7 1.3 1 1.3 1.1 1.3 1.2 1.3 1.4 1.3 1.6 1.3 1.6 1.3 1.8 1.3 1.9 1.3 2 1.3 2.2 1.4 2.2 1.3 2.3 1.3 2.3 1.3 2.5 1.3 2.4 1.4 2.5 1.3 2.5 1.3 2.5 1.3 2.5 1.4 2.4 1.3 2.4 1.3 2.3 1.3 2.2 1.3 2.1 1.3 1.9M279.1 271.5l1.2-2.2 1.2-2.1 1.2-1.9 1.3-1.9 1.2-1.8 1.2-1.7 1.2-1.5 1.3-1.4 1.2-1.3 1.2-1.1 1.3-1 1.2-.8 1.3-.7 1.2-.5 1.3-.4 1.2-.2 1.3 0 1.3 .1 1.3 .3 1.2 .5 1.3 .6 1.3 .8 1.3 1 1.3 1.1 1.3 1.2 1.3 1.4 1.3 1.6 1.3 1.6 1.4 1.8 1.3 1.9 1.3 2.1 1.3 2.1 1.3 2.2 1.4 2.3 1.3 2.4 1.3 2.4 1.3 2.5 1.4 2.5 1.3 2.5 1.3 2.5 1.3 2.4 1.4 2.5 1.3 2.4 1.3 2.3 1.3 2.2 1.3 2.1 1.3 1.9M282.1 266.9l1.2-2.1 1.2-2 1.2-1.8 1.2-1.8 1.2-1.7 1.3-1.5 1.2-1.4 1.3-1.3 1.2-1.1 1.2-.9 1.3-.9 1.3-.6 1.2-.6 1.3-.3 1.3-.2 1.2 0 1.3 .1 1.3 .3 1.3 .5 1.3 .6 1.3 .8 1.3 1 1.3 1.1 1.3 1.2 1.3 1.4 1.3 1.6 1.3 1.7 1.3 1.8 1.4 1.9 1.3 2 1.3 2.1 1.3 2.3 1.4 2.3 1.3 2.3 1.3 2.5 1.3 2.4 1.4 2.5 1.3 2.5 1.3 2.5 1.4 2.5 1.3 2.5 1.3 2.4 1.3 2.3 1.4 2.2 1.3 2.1 1.3 1.9M286.2 260.5l1.2-1.8 1.3-1.8 1.2-1.6 1.2-1.6 1.3-1.4 1.2-1.2 1.3-1.1 1.2-1 1.3-.8 1.3-.7 1.2-.5 1.3-.3 1.3-.2 1.3 0 1.2 .1 1.3 .3 1.3 .5 1.3 .6 1.3 .8 1.3 1 1.3 1.1 1.3 1.3 1.4 1.4 1.3 1.5 1.3 1.7 1.3 1.8 1.3 1.9 1.4 2.1 1.3 2.1 1.3 2.2 1.4 2.3 1.3 2.4 1.3 2.4 1.4 2.5 1.3 2.5 1.3 2.5 1.4 2.5 1.3 2.5 1.3 2.5 1.3 2.4 1.4 2.3 1.3 2.2 1.3 2.1 1.3 2M288 258.3l1.2-1.8 1.2-1.8 1.3-1.6 1.2-1.5 1.3-1.4 1.2-1.3 1.3-1.1 1.2-.9 1.3-.9 1.3-.6 1.2-.5 1.3-.4 1.3-.1 1.3 0 1.3 .1 1.3 .3 1.3 .5 1.3 .6 1.3 .8 1.3 1 1.3 1.1 1.3 1.3 1.3 1.4 1.4 1.6 1.3 1.6 1.3 1.8 1.3 2 1.4 2 1.3 2.2 1.3 2.2 1.4 2.3 1.3 2.4 1.3 2.4 1.4 2.5 1.3 2.5 1.3 2.5 1.4 2.5 1.3 2.5 1.3 2.5 1.4 2.4 1.3 2.3 1.3 2.2 1.4 2.1 1.3 2M290.9 254.4l1.3-1.8 1.2-1.6 1.3-1.5 1.2-1.4 1.3-1.2 1.3-1.1 1.2-1 1.3-.8 1.3-.6 1.3-.5 1.2-.4 1.3-.1 1.3 0 1.3 .1 1.3 .3 1.3 .5 1.3 .7 1.3 .8 1.4 .9 1.3 1.2 1.3 1.2 1.3 1.4 1.3 1.6 1.4 1.7 1.3 1.8 1.3 1.9 1.4 2.1 1.3 2.1 1.3 2.3 1.4 2.3 1.3 2.4 1.4 2.4 1.3 2.5 1.3 2.5 1.4 2.5 1.3 2.5 1.3 2.5 1.4 2.5 1.3 2.4 1.4 2.3 1.3 2.3 1.3 2.1 1.3 1.9M294 250.7l1.2-1.7 1.3-1.5 1.2-1.3 1.3-1.3 1.3-1.1 1.2-.9 1.3-.8 1.3-.7 1.3-.4 1.3-.4 1.3-.1 1.3 0 1.3 .1 1.3 .3 1.3 .5 1.3 .7 1.3 .8 1.3 1 1.4 1.1 1.3 1.3 1.3 1.4 1.3 1.6 1.4 1.7 1.3 1.8 1.3 1.9 1.4 2.1 1.3 2.1 1.4 2.2 1.3 2.4 1.3 2.4 1.4 2.4 1.3 2.5 1.4 2.5 1.3 2.5 1.3 2.5 1.4 2.5 1.3 2.5 1.4 2.4 1.3 2.4 1.3 2.2 1.4 2.1 1.3 2M295.7 248.8l1.3-1.6 1.2-1.5 1.3-1.4 1.3-1.2 1.3-1.1 1.2-.9 1.3-.8 1.3-.7 1.3-.4 1.3-.4 1.3-.1 1.3 0 1.3 .1 1.3 .4 1.3 .5 1.4 .6 1.3 .8 1.3 1 1.3 1.2 1.4 1.2 1.3 1.5 1.3 1.5 1.4 1.7 1.3 1.8 1.3 2 1.4 2 1.3 2.2 1.4 2.2 1.3 2.4 1.4 2.4 1.3 2.4 1.4 2.5 1.3 2.5 1.3 2.5 1.4 2.6 1.3 2.5 1.4 2.4 1.3 2.5 1.4 2.3 1.3 2.2 1.3 2.2 1.4 2M298.8 245.4l1.2-1.4 1.3-1.4 1.3-1.2 1.3-1.1 1.3-.9 1.3-.8 1.2-.7 1.3-.4 1.3-.4 1.4-.1 1.3 0 1.3 .2 1.3 .3 1.3 .5 1.3 .7 1.4 .8 1.3 1 1.3 1.1 1.4 1.3 1.3 1.4 1.3 1.6 1.4 1.7 1.3 1.8 1.4 2 1.3 2 1.4 2.2 1.3 2.2 1.3 2.4 1.4 2.4 1.3 2.4 1.4 2.5 1.3 2.5 1.4 2.6 1.3 2.5 1.4 2.5 1.3 2.5 1.4 2.4 1.3 2.4 1.4 2.2 1.3 2.1 1.3 2M300.6 243.8l1.2-1.5 1.3-1.3 1.3-1.2 1.3-1.1 1.3-1 1.3-.7 1.3-.7 1.3-.4 1.3-.3 1.3-.2 1.3 0 1.3 .2 1.4 .3 1.3 .6 1.3 .6 1.3 .8 1.4 1 1.3 1.2 1.4 1.3 1.3 1.4 1.3 1.6 1.4 1.7 1.3 1.8 1.4 2 1.3 2 1.4 2.2 1.3 2.2 1.4 2.4 1.3 2.4 1.4 2.4 1.3 2.5 1.4 2.6 1.3 2.5 1.4 2.5 1.3 2.6 1.4 2.4 1.3 2.5 1.4 2.3 1.3 2.3 1.4 2.1 1.3 2M303.6 240.8l1.3-1.4 1.3-1.2 1.3-1 1.3-1 1.3-.7 1.3-.7 1.3-.4 1.3-.3 1.4-.2 1.3 .1 1.3 .1 1.3 .4 1.4 .5 1.3 .7 1.3 .8 1.4 1 1.3 1.1 1.4 1.3 1.3 1.5 1.4 1.6 1.3 1.7 1.3 1.8 1.4 2 1.4 2 1.3 2.2 1.4 2.3 1.3 2.3 1.4 2.4 1.3 2.5 1.4 2.5 1.3 2.5 1.4 2.5 1.3 2.6 1.4 2.5 1.3 2.5 1.4 2.4 1.3 2.4 1.4 2.2 1.3 2.2 1.4 2M305.4 239.4l1.3-1.4 1.3-1.2 1.3-1 1.3-1 1.3-.7 1.4-.6 1.3-.5 1.3-.3 1.3-.1 1.3 0 1.4 .2 1.3 .3 1.3 .6 1.4 .6 1.3 .9 1.4 1 1.3 1.1 1.4 1.3 1.3 1.5 1.4 1.6 1.3 1.7 1.4 1.8 1.3 2 1.4 2 1.3 2.2 1.4 2.3 1.4 2.3 1.3 2.4 1.4 2.5 1.3 2.5 1.4 2.5 1.3 2.6 1.4 2.5 1.4 2.6 1.3 2.5 1.4 2.4 1.3 2.4 1.4 2.2 1.3 2.2 1.3 2M308.5 236.7l1.3-1.2 1.3-1 1.4-1 1.3-.7 1.3-.6 1.3-.5 1.3-.3 1.4-.1 1.3 0 1.3 .2 1.4 .4 1.3 .5 1.4 .7 1.3 .8 1.4 1 1.3 1.2 1.4 1.3 1.3 1.5 1.4 1.5 1.3 1.8 1.4 1.8 1.4 2 1.3 2.1 1.4 2.1 1.3 2.3 1.4 2.4 1.4 2.4 1.3 2.4 1.4 2.5 1.3 2.6 1.4 2.5 1.4 2.6 1.3 2.5 1.4 2.5 1.3 2.5 1.4 2.3 1.3 2.3 1.4 2.2 1.3 2M310.3 235.5l1.4-1.2 1.3-1 1.3-1 1.3-.7 1.3-.6 1.4-.5 1.3-.2 1.3-.2 1.4 .1 1.3 .2 1.4 .3 1.3 .6 1.4 .7 1.3 .8 1.4 1 1.3 1.2 1.4 1.3 1.3 1.5 1.4 1.5 1.4 1.8 1.3 1.8 1.4 2 1.4 2.1 1.3 2.2 1.4 2.2 1.3 2.4 1.4 2.4 1.4 2.5 1.3 2.5 1.4 2.5 1.4 2.6 1.3 2.6 1.4 2.5 1.3 2.5 1.4 2.4 1.4 2.4 1.3 2.3 1.4 2.1 1.3 2.1M313.5 233.2l1.3-1 1.3-.9 1.4-.8 1.3-.6 1.3-.4 1.4-.3 1.3-.1 1.4 0 1.3 .2 1.4 .4 1.3 .5 1.4 .7 1.3 .9 1.4 1 1.3 1.2 1.4 1.3 1.4 1.4 1.3 1.6 1.4 1.8 1.4 1.8 1.3 2 1.4 2.1 1.4 2.2 1.3 2.3 1.4 2.3 1.4 2.4 1.3 2.5 1.4 2.5 1.4 2.6 1.3 2.6 1.4 2.5 1.4 2.6 1.3 2.5 1.4 2.4 1.3 2.4 1.4 2.3 1.3 2.1 1.4 2.1M315.3 232.2l1.3-1 1.4-.9 1.3-.8 1.3-.6 1.4-.4 1.3-.3 1.4-.1 1.3 .1 1.4 .2 1.3 .4 1.4 .5 1.4 .7 1.3 .9 1.4 1 1.3 1.2 1.4 1.3 1.4 1.4 1.3 1.6 1.4 1.8 1.4 1.9 1.4 1.9 1.3 2.1 1.4 2.2 1.4 2.3 1.3 2.4 1.4 2.4 1.4 2.5 1.4 2.5 1.3 2.6 1.4 2.5 1.4 2.6 1.3 2.5 1.4 2.5 1.4 2.5 1.3 2.4 1.4 2.3 1.3 2.1 1.4 2.1M318.5 230.3l1.3-.9 1.4-.8 1.3-.5 1.4-.5 1.3-.2 1.4-.1 1.3 0 1.4 .2 1.3 .4 1.4 .6 1.4 .7 1.3 .8 1.4 1.1 1.4 1.1 1.3 1.4 1.4 1.4 1.4 1.7 1.3 1.7 1.4 1.9 1.4 2 1.4 2 1.3 2.2 1.4 2.3 1.4 2.4 1.4 2.4 1.3 2.5 1.4 2.5 1.4 2.6 1.4 2.6 1.3 2.6 1.4 2.5 1.4 2.5 1.3 2.5 1.4 2.4 1.4 2.3 1.3 2.1 1.4 2.1M320.3 229.5l1.4-.9 1.3-.7 1.4-.6 1.3-.4 1.4-.3 1.3-.1 1.4 .1 1.4 .2 1.3 .4 1.4 .5 1.4 .8 1.3 .8 1.4 1.1 1.4 1.1 1.4 1.4 1.3 1.4 1.4 1.7 1.4 1.7 1.4 1.9 1.3 2 1.4 2.1 1.4 2.2 1.4 2.3 1.4 2.3 1.3 2.5 1.4 2.5 1.4 2.5 1.4 2.6 1.3 2.5 1.4 2.6 1.4 2.6 1.3 2.5 1.4 2.5 1.4 2.4 1.3 2.3 1.4 2.1 1.4 2.1M323.5 227.9l1.4-.7 1.3-.6 1.4-.4 1.3-.3 1.4 0 1.4 0 1.3 .3 1.4 .3 1.4 .6 1.4 .7 1.3 .9 1.4 1 1.4 1.2 1.4 1.4 1.4 1.4 1.3 1.7 1.4 1.7 1.4 1.9 1.4 2 1.4 2.1 1.3 2.2 1.4 2.3 1.4 2.4 1.4 2.4 1.4 2.5 1.3 2.6 1.4 2.5 1.4 2.6 1.4 2.6 1.3 2.6 1.4 2.5 1.4 2.4 1.4 2.4 1.3 2.4 1.4 2.1 1.4 2.1M325.4 227.3l1.3-.7 1.4-.6 1.4-.4 1.3-.2 1.4-.1 1.4 .1 1.3 .2 1.4 .4 1.4 .6 1.4 .7 1.4 .9 1.3 1 1.4 1.2 1.4 1.4 1.4 1.4 1.4 1.7 1.4 1.7 1.3 1.9 1.4 2 1.4 2.1 1.4 2.2 1.4 2.3 1.4 2.4 1.3 2.5 1.4 2.5 1.4 2.5 1.4 2.6 1.4 2.6 1.3 2.6 1.4 2.5 1.4 2.6 1.4 2.4 1.3 2.4 1.4 2.3 1.4 2.2 1.4 2.1M327.2 226.8l1.4-.7 1.4-.6 1.3-.4 1.4-.2 1.4-.1 1.3 .1 1.4 .3 1.4 .4 1.4 .5 1.4 .8 1.4 .9 1.4 1 1.3 1.2 1.4 1.3 1.4 1.5 1.4 1.7 1.4 1.7 1.4 1.9 1.4 2 1.4 2.1 1.3 2.3 1.4 2.3 1.4 2.3 1.4 2.5 1.4 2.5 1.4 2.6 1.4 2.5 1.3 2.6 1.4 2.6 1.4 2.6 1.4 2.5 1.4 2.5 1.3 2.4 1.4 2.3 1.4 2.2 1.3 2.1M330.4 225.7l1.4-.5 1.4-.4 1.4-.3 1.4 0 1.3 .1 1.4 .2 1.4 .4 1.4 .6 1.4 .7 1.4 .9 1.4 1.1 1.4 1.2 1.4 1.3 1.3 1.5 1.4 1.7 1.4 1.7 1.4 1.9 1.4 2 1.4 2.2 1.4 2.2 1.4 2.3 1.4 2.4 1.4 2.4 1.4 2.6 1.3 2.5 1.4 2.6 1.4 2.6 1.4 2.6 1.4 2.6 1.4 2.5 1.3 2.5 1.4 2.4 1.4 2.3 1.4 2.2 1.3 2.1M332.3 225.4l1.4-.5 1.4-.4 1.4-.2 1.3-.1 1.4 .1 1.4 .2 1.4 .5 1.4 .6 1.4 .7 1.4 .9 1.4 1.1 1.4 1.2 1.4 1.3 1.4 1.5 1.4 1.7 1.4 1.7 1.4 1.9 1.4 2 1.4 2.2 1.4 2.2 1.3 2.3 1.4 2.4 1.4 2.5 1.4 2.5 1.4 2.6 1.4 2.5 1.4 2.6 1.4 2.6 1.4 2.6 1.3 2.6 1.4 2.5 1.4 2.4 1.4 2.3 1.4 2.2 1.3 2.1M335.6 224.7l1.3-.4 1.4-.2 1.4-.1 1.4 .1 1.4 .3 1.4 .4 1.4 .6 1.4 .7 1.4 1 1.4 1 1.4 1.2 1.4 1.4 1.4 1.5 1.4 1.7 1.4 1.7 1.4 1.9 1.4 2.1 1.4 2.1 1.4 2.2 1.4 2.3 1.4 2.4 1.4 2.5 1.4 2.5 1.4 2.6 1.4 2.6 1.4 2.6 1.3 2.6 1.4 2.6 1.4 2.5 1.4 2.5 1.4 2.5 1.4 2.3 1.3 2.2 1.4 2.1M338.8 224.2l1.4-.2 1.4-.1 1.4 .1 1.4 .3 1.4 .5 1.4 .5 1.4 .8 1.4 .9 1.4 1.1 1.4 1.2 1.4 1.4 1.4 1.5 1.4 1.6 1.5 1.8 1.4 1.9 1.4 2.1 1.4 2.1 1.4 2.2 1.4 2.3 1.4 2.5 1.4 2.4 1.4 2.6 1.3 2.5 1.4 2.6 1.4 2.6 1.4 2.6 1.4 2.6 1.4 2.6 1.4 2.5 1.4 2.4 1.3 2.4 1.4 2.2 1.4 2.1M340.7 224.2l1.4-.2 1.4 0 1.4 .1 1.4 .2 1.4 .5 1.4 .6 1.4 .7 1.4 1 1.4 1 1.5 1.3 1.4 1.3 1.4 1.6 1.4 1.6 1.4 1.8 1.4 1.9 1.4 2 1.4 2.2 1.4 2.2 1.4 2.4 1.4 2.4 1.4 2.4 1.4 2.6 1.4 2.6 1.4 2.6 1.4 2.6 1.4 2.6 1.4 2.6 1.4 2.5 1.4 2.6 1.3 2.4 1.4 2.3 1.4 2.3 1.4 2.1M342.6 224.3l1.4-.2 1.4 0 1.4 .1 1.4 .3 1.4 .4 1.4 .6 1.4 .8 1.5 .9 1.4 1.1 1.4 1.2 1.4 1.4 1.4 1.5 1.4 1.7 1.4 1.8 1.4 1.9 1.4 2 1.5 2.2 1.4 2.2 1.4 2.4 1.4 2.4 1.4 2.5 1.4 2.5 1.4 2.6 1.4 2.6 1.4 2.6 1.4 2.6 1.4 2.6 1.3 2.6 1.4 2.5 1.4 2.4 1.4 2.4 1.4 2.2 1.4 2.1M345.9 224.3l1.4 0 1.4 .1 1.4 .3 1.4 .4 1.4 .6 1.4 .8 1.5 .9 1.4 1.1 1.4 1.3 1.4 1.3 1.4 1.6 1.5 1.6 1.4 1.8 1.4 2 1.4 2 1.4 2.2 1.4 2.2 1.4 2.3 1.4 2.5 1.4 2.5 1.4 2.5 1.4 2.6 1.4 2.6 1.4 2.6 1.4 2.6 1.4 2.7 1.4 2.5 1.4 2.5 1.4 2.5 1.4 2.4 1.4 2.2 1.4 2.1M349.2 224.5l1.4 .2 1.4 .3 1.4 .4 1.4 .6 1.5 .8 1.4 1 1.4 1 1.4 1.3 1.4 1.4 1.5 1.5 1.4 1.7 1.4 1.8 1.4 1.9 1.4 2.1 1.4 2.1 1.5 2.3 1.4 2.3 1.4 2.5 1.4 2.4 1.4 2.6 1.4 2.6 1.4 2.6 1.4 2.6 1.4 2.7 1.4 2.6 1.4 2.6 1.4 2.5 1.4 2.4 1.4 2.4 1.4 2.2 1.4 2.2M349.6 224.9l1.4 0 1.5 .1 1.4 .4 1.4 .4 1.4 .6 1.5 .8 1.4 1 1.4 1.1 1.4 1.2 1.5 1.4 1.4 1.6 1.4 1.6 1.4 1.8 1.5 2 1.4 2 1.4 2.2 1.4 2.2 1.4 2.4 1.4 2.4 1.4 2.5 1.5 2.6 1.4 2.6 1.4 2.6 1.4 2.6 1.4 2.7 1.4 2.6 1.4 2.6 1.4 2.5 1.4 2.5 1.3 2.3 1.4 2.3 1.4 2.1M352.9 225.4l1.5 .1 1.4 .3 1.4 .5 1.4 .6 1.5 .8 1.4 1 1.4 1.1 1.5 1.2 1.4 1.4 1.4 1.6 1.4 1.7 1.5 1.8 1.4 1.9 1.4 2.1 1.4 2.1 1.5 2.3 1.4 2.4 1.4 2.4 1.4 2.5 1.4 2.6 1.4 2.6 1.4 2.6 1.4 2.6 1.4 2.7 1.4 2.6 1.4 2.6 1.4 2.5 1.4 2.5 1.4 2.3 1.4 2.3 1.4 2.1M354.8 225.9l1.4 .2 1.5 .3 1.4 .5 1.4 .6 1.5 .8 1.4 1 1.5 1.1 1.4 1.2 1.4 1.4 1.4 1.6 1.5 1.7 1.4 1.8 1.4 1.9 1.5 2.1 1.4 2.2 1.4 2.2 1.4 2.4 1.4 2.4 1.4 2.5 1.5 2.6 1.4 2.6 1.4 2.7 1.4 2.6 1.4 2.6 1.4 2.7 1.4 2.6 1.4 2.5 1.4 2.5 1.4 2.4 1.4 2.2 1.4 2.2M358.1 226.7l1.5 .3 1.4 .5 1.4 .7 1.5 .8 1.4 .9 1.5 1.1 1.4 1.3 1.4 1.4 1.5 1.6 1.4 1.7 1.4 1.8 1.5 1.9 1.4 2.1 1.4 2.2 1.4 2.3 1.5 2.3 1.4 2.5 1.4 2.5 1.4 2.6 1.4 2.6 1.4 2.6 1.4 2.7 1.4 2.6 1.5 2.6 1.4 2.6 1.4 2.6 1.4 2.5 1.4 2.3 1.4 2.3 1.4 2.2M360 227.4l1.5 .4 1.4 .5 1.4 .6 1.5 .8 1.4 1 1.5 1.1 1.4 1.3 1.5 1.4 1.4 1.6 1.4 1.7 1.5 1.8 1.4 1.9 1.4 2.1 1.5 2.2 1.4 2.3 1.4 2.3 1.4 2.5 1.4 2.5 1.5 2.6 1.4 2.6 1.4 2.6 1.4 2.7 1.4 2.7 1.4 2.6 1.4 2.6 1.4 2.6 1.4 2.4 1.4 2.4 1.4 2.3 1.4 2.1M361.9 228.2l1.4 .4 1.5 .5 1.4 .6 1.5 .8 1.4 1 1.5 1.1 1.4 1.3 1.5 1.5 1.4 1.5 1.4 1.7 1.5 1.9 1.4 1.9 1.5 2.1 1.4 2.2 1.4 2.3 1.4 2.3 1.5 2.5 1.4 2.5 1.4 2.6 1.4 2.6 1.4 2.7 1.4 2.6 1.4 2.7 1.5 2.6 1.4 2.6 1.4 2.6 1.4 2.5 1.4 2.4 1.4 2.3 1.4 2.1M365.2 229.5l1.5 .5 1.4 .6 1.5 .9 1.4 .9 1.5 1.2 1.4 1.3 1.5 1.4 1.4 1.6 1.5 1.7 1.4 1.8 1.4 2 1.5 2.1 1.4 2.2 1.4 2.2 1.5 2.4 1.4 2.5 1.4 2.5 1.4 2.6 1.5 2.6 1.4 2.7 1.4 2.6 1.4 2.7 1.4 2.7 1.4 2.6 1.4 2.5 1.4 2.5 1.4 2.4 1.4 2.3 1.4 2.2M367.1 230.5l1.5 .5 1.4 .6 1.5 .9 1.4 .9 1.5 1.2 1.4 1.3 1.5 1.4 1.4 1.6 1.5 1.7 1.4 1.9 1.5 1.9 1.4 2.1 1.4 2.2 1.5 2.3 1.4 2.4 1.4 2.5 1.5 2.5 1.4 2.6 1.4 2.6 1.4 2.7 1.4 2.6 1.4 2.7 1.4 2.7 1.5 2.6 1.4 2.6 1.4 2.5 1.4 2.4 1.4 2.3 1.4 2.1M370.5 232l1.4 .7 1.5 .8 1.4 1 1.5 1.2 1.4 1.3 1.5 1.4 1.5 1.6 1.4 1.7 1.4 1.9 1.5 1.9 1.4 2.1 1.5 2.2 1.4 2.3 1.4 2.4 1.5 2.5 1.4 2.5 1.4 2.6 1.4 2.7 1.4 2.6 1.5 2.7 1.4 2.7 1.4 2.6 1.4 2.7 1.4 2.5 1.4 2.5 1.4 2.5 1.4 2.3 1.4 2.1M370.9 232.6l1.4 .6 1.5 .6 1.5 .9 1.4 1 1.5 1.1 1.4 1.3 1.5 1.5 1.5 1.6 1.4 1.7 1.5 1.9 1.4 1.9 1.4 2.1 1.5 2.3 1.4 2.3 1.5 2.4 1.4 2.4 1.4 2.6 1.4 2.6 1.5 2.6 1.4 2.7 1.4 2.7 1.4 2.6 1.4 2.7 1.4 2.6 1.4 2.6 1.5 2.5 1.4 2.4 1.4 2.4 1.4 2.1M374.2 234.4l1.5 .7 1.5 .8 1.4 1 1.5 1.2 1.4 1.3 1.5 1.4 1.5 1.6 1.4 1.8 1.5 1.8 1.4 2 1.5 2.1 1.4 2.2 1.4 2.4 1.5 2.4 1.4 2.4 1.4 2.6 1.5 2.6 1.4 2.6 1.4 2.7 1.4 2.7 1.4 2.7 1.5 2.6 1.4 2.7 1.4 2.6 1.4 2.5 1.4 2.4 1.4 2.3 1.4 2.2M376.1 235.7l1.5 .7 1.4 .8 1.5 1 1.5 1.2 1.4 1.3 1.5 1.5 1.5 1.6 1.4 1.7 1.5 1.9 1.4 2 1.5 2.1 1.4 2.2 1.4 2.3 1.5 2.4 1.4 2.5 1.5 2.6 1.4 2.6 1.4 2.6 1.4 2.7 1.4 2.7 1.5 2.7 1.4 2.7 1.4 2.6 1.4 2.6 1.4 2.5 1.4 2.4 1.4 2.4 1.5 2.1M379.4 237.8l1.5 .8 1.5 1 1.5 1.2 1.4 1.3 1.5 1.5 1.5 1.6 1.4 1.7 1.5 1.9 1.4 2 1.5 2.1 1.4 2.2 1.5 2.4 1.4 2.4 1.4 2.5 1.5 2.5 1.4 2.6 1.4 2.7 1.4 2.7 1.5 2.7 1.4 2.7 1.4 2.7 1.4 2.6 1.4 2.6 1.4 2.5 1.5 2.5 1.4 2.3 1.4 2.2M381.3 239.2l1.5 .9 1.5 1 1.4 1.2 1.5 1.3 1.5 1.5 1.4 1.6 1.5 1.7 1.5 1.9 1.4 2 1.5 2.1 1.4 2.3 1.5 2.3 1.4 2.4 1.4 2.5 1.5 2.6 1.4 2.6 1.4 2.6 1.5 2.7 1.4 2.7 1.4 2.7 1.4 2.7 1.4 2.7 1.4 2.6 1.5 2.5 1.4 2.4 1.4 2.4 1.4 2.2M383.2 240.7l1.5 .9 1.4 1 1.5 1.2 1.5 1.3 1.5 1.5 1.4 1.6 1.5 1.8 1.5 1.9 1.4 2 1.5 2.1 1.4 2.2 1.5 2.4 1.4 2.4 1.4 2.5 1.5 2.6 1.4 2.6 1.4 2.7 1.5 2.6 1.4 2.8 1.4 2.7 1.4 2.7 1.4 2.6 1.5 2.6 1.4 2.6 1.4 2.4 1.4 2.3 1.4 2.2M386.5 243.2l1.5 1 1.5 1.2 1.5 1.4 1.4 1.4 1.5 1.7 1.5 1.7 1.4 1.9 1.5 2 1.5 2.2 1.4 2.2 1.5 2.3 1.4 2.5 1.4 2.5 1.5 2.5 1.4 2.7 1.4 2.6 1.5 2.7 1.4 2.8 1.4 2.7 1.4 2.7 1.4 2.6 1.5 2.6 1.4 2.6 1.4 2.4 1.4 2.4 1.4 2.2M388.4 244.9l1.5 1 1.5 1.2 1.4 1.3 1.5 1.5 1.5 1.7 1.5 1.7 1.4 1.9 1.5 2.1 1.4 2.1 1.5 2.2 1.4 2.4 1.5 2.4 1.4 2.5 1.5 2.6 1.4 2.6 1.4 2.7 1.5 2.7 1.4 2.7 1.4 2.7 1.4 2.7 1.4 2.7 1.5 2.6 1.4 2.6 1.4 2.4 1.4 2.4 1.4 2.2M390.3 246.6l1.5 1.1 1.4 1.2 1.5 1.3 1.5 1.5 1.5 1.6 1.4 1.8 1.5 1.9 1.5 2 1.4 2.2 1.5 2.2 1.4 2.4 1.5 2.4 1.4 2.5 1.4 2.6 1.5 2.6 1.4 2.7 1.4 2.7 1.5 2.8 1.4 2.7 1.4 2.7 1.4 2.7 1.4 2.6 1.5 2.5 1.4 2.5 1.4 2.3 1.4 2.3M392.1 248.4l1.5 1.1 1.5 1.2 1.5 1.3 1.5 1.5 1.4 1.7 1.5 1.8 1.5 1.9 1.4 2 1.5 2.1 1.4 2.3 1.5 2.3 1.4 2.5 1.5 2.5 1.4 2.6 1.5 2.6 1.4 2.7 1.4 2.7 1.4 2.8 1.5 2.7 1.4 2.7 1.4 2.7 1.4 2.6 1.4 2.6 1.5 2.4 1.4 2.4 1.4 2.2M395.5 251.3l1.5 1.3 1.4 1.3 1.5 1.5 1.5 1.7 1.5 1.8 1.4 1.9 1.5 2 1.5 2.2 1.4 2.2 1.5 2.4 1.4 2.4 1.5 2.5 1.4 2.6 1.4 2.7 1.5 2.7 1.4 2.7 1.4 2.7 1.4 2.8 1.5 2.7 1.4 2.7 1.4 2.6 1.4 2.5 1.4 2.5 1.5 2.4 1.4 2.2M397.3 253.3l1.5 1.2 1.5 1.4 1.5 1.5 1.5 1.6 1.4 1.8 1.5 1.9 1.5 2.1 1.4 2.1 1.5 2.3 1.4 2.4 1.5 2.4 1.4 2.6 1.5 2.5 1.4 2.7 1.4 2.7 1.5 2.7 1.4 2.8 1.4 2.7 1.4 2.7 1.5 2.7 1.4 2.6 1.4 2.6 1.4 2.5 1.4 2.3 1.5 2.3M399.2 255.3l1.4 1.2 1.5 1.4 1.5 1.5 1.5 1.7 1.5 1.8 1.4 1.9 1.5 2 1.5 2.2 1.4 2.3 1.5 2.3 1.4 2.5 1.5 2.5 1.4 2.6 1.5 2.7 1.4 2.7 1.4 2.7 1.4 2.7 1.5 2.8 1.4 2.7 1.4 2.7 1.4 2.6 1.5 2.6 1.4 2.5 1.4 2.4 1.4 2.2M402.5 258.6l1.5 1.4 1.5 1.5 1.4 1.7 1.5 1.8 1.5 1.9 1.5 2 1.4 2.2 1.5 2.3 1.4 2.4 1.5 2.4 1.4 2.6 1.5 2.6 1.4 2.6 1.4 2.7 1.5 2.8 1.4 2.7 1.4 2.7 1.4 2.8 1.5 2.7 1.4 2.6 1.4 2.6 1.4 2.5 1.4 2.4 1.5 2.2M404.3 260.7l1.5 1.4 1.5 1.5 1.5 1.7 1.5 1.8 1.4 1.9 1.5 2.1 1.5 2.2 1.4 2.3 1.5 2.3 1.4 2.5 1.5 2.5 1.4 2.7 1.5 2.6 1.4 2.7 1.4 2.8 1.4 2.7 1.5 2.8 1.4 2.7 1.4 2.7 1.4 2.7 1.4 2.5 1.5 2.5 1.4 2.4 1.4 2.3M407.6 264.3l1.5 1.5 1.5 1.7 1.5 1.8 1.5 2 1.4 2 1.5 2.2 1.5 2.3 1.4 2.4 1.5 2.4 1.4 2.6 1.5 2.6 1.4 2.7 1.4 2.7 1.5 2.7 1.4 2.8 1.4 2.7 1.4 2.8 1.4 2.7 1.5 2.6 1.4 2.6 1.4 2.5 1.4 2.4 1.5 2.3M409.5 266.6l1.5 1.5 1.4 1.7 1.5 1.8 1.5 1.9 1.5 2.1 1.4 2.2 1.5 2.3 1.5 2.4 1.4 2.4 1.4 2.6 1.5 2.6 1.4 2.7 1.5 2.7 1.4 2.8 1.4 2.7 1.4 2.8 1.5 2.7 1.4 2.7 1.4 2.7 1.4 2.6 1.4 2.5 1.5 2.4 1.4 2.2M411.3 268.9l1.5 1.5 1.5 1.7 1.4 1.8 1.5 2 1.5 2 1.5 2.2 1.4 2.3 1.5 2.4 1.4 2.5 1.5 2.6 1.4 2.6 1.5 2.7 1.4 2.7 1.4 2.7 1.4 2.8 1.5 2.8 1.4 2.7 1.4 2.7 1.4 2.7 1.4 2.6 1.5 2.5 1.4 2.4 1.4 2.3" fill="none" stroke="#000" stroke-width="0.85" stroke-linejoin="round"/>
</g>
<path d="M260.6 303.8C261.9 301.2 265.1 294.2 268.5 288.2C271.8 282.2 276.3 274.6 281.0 267.8C285.7 261.0 291.5 252.9 296.7 247.3C302.0 241.7 307.2 237.7 312.5 234.2C317.7 230.6 323.0 227.9 328.3 225.9C333.5 223.9 338.7 222.5 344.0 222.1C349.2 221.7 354.5 222.2 359.8 223.7C365.1 225.2 370.4 227.5 375.6 231.0C380.9 234.4 386.1 238.9 391.3 244.2C396.5 249.6 401.8 256.0 407.0 263.1C412.3 270.1 417.5 278.2 422.7 286.6C428.0 294.9 434.9 306.9 438.4 313.2C441.8 319.5 442.4 322.4 443.2 324.2L442.3 324.6C441.2 323.0 439.4 320.7 435.4 314.8C431.4 309.0 423.7 297.5 418.3 289.3C413.0 281.2 408.2 272.9 403.3 265.8C398.4 258.7 393.7 252.1 388.9 246.6C384.0 241.1 379.2 236.5 374.3 233.0C369.4 229.5 364.3 227.0 359.3 225.5C354.3 224.1 349.1 223.7 344.1 224.3C339.1 224.8 334.3 226.6 329.4 228.8C324.5 231.0 319.5 233.8 314.7 237.4C309.8 241.0 305.0 244.9 300.1 250.5C295.1 256.0 289.7 264.0 285.0 270.6C280.3 277.2 275.6 284.4 271.7 290.0C267.7 295.6 263.2 301.9 261.4 304.2Z" fill="#000"/>
<text transform="translate(254.9 225.7) rotate(0.0) scale(0.96 1)" font-size="7.1" text-anchor="end">24.8</text>
<text transform="translate(255.7 250.1) rotate(0.0) scale(0.96 1)" font-size="7.1" text-anchor="end">23.75</text>
<text transform="translate(256.6 273.6) rotate(0.0) scale(0.96 1)" font-size="7.1" text-anchor="end">22.7</text>
<text transform="translate(257.4 297.6) rotate(0.0) scale(0.96 1)" font-size="7.1" text-anchor="end">21.65</text>
<text transform="translate(258.2 322.0) rotate(0.0) scale(0.96 1)" font-size="7.1" text-anchor="end">20.6</text>
<text transform="translate(232.0 288.0) rotate(-90) scale(1 .8)" font-size="9.4" text-anchor="middle"><tspan font-size="12">σ</tspan><tspan font-size="8" dy="2.2">ash</tspan><tspan dy="-2.2"> (%)</tspan></text>
<text transform="translate(252.8 354.1) rotate(0.0) scale(0.96 1)" font-size="7.1" text-anchor="middle">3.06</text>
<text transform="translate(268.0 364.2) rotate(0.0) scale(0.96 1)" font-size="7.1" text-anchor="middle">3.28</text>
<text transform="translate(282.0 376.3) rotate(0.0) scale(0.96 1)" font-size="7.1" text-anchor="middle">3.50</text>
<text transform="translate(297.2 388.2) rotate(0.0) scale(0.96 1)" font-size="7.1" text-anchor="middle">3.71</text>
<text transform="translate(312.3 399.1) rotate(0.0) scale(0.96 1)" font-size="7.1" text-anchor="middle">3.93</text>
<text transform="translate(333.9 398.4) rotate(0.0) scale(0.96 1)" font-size="7.1" text-anchor="middle">60.00</text>
<text transform="translate(364.0 392.0) rotate(0.0) scale(0.96 1)" font-size="7.1" text-anchor="middle">70.00</text>
<text transform="translate(394.4 385.2) rotate(0.0) scale(0.96 1)" font-size="7.1" text-anchor="middle">80.00</text>
<text transform="translate(424.8 378.1) rotate(0.0) scale(0.96 1)" font-size="7.1" text-anchor="middle">90.00</text>
<text transform="translate(455.0 371.8) rotate(0.0) scale(0.96 1)" font-size="7.1" text-anchor="middle">100.00</text>
<text transform="translate(267.6 382.4) rotate(39.0) scale(0.88 1)" font-size="9.9" text-anchor="middle">B: Pulsating frequency (Hz)</text>
<text transform="translate(401.4 396.8) rotate(-14.0) scale(0.88 1)" font-size="9.9" text-anchor="middle">D: Bed height(mm)</text>
<text transform="translate(430.1 248.4) rotate(0.0) scale(1.00 1)" font-size="21.5" text-anchor="middle">e</text>
<polygon points="491.5,221.6 600.2,211.9 599.3,322.7 496.1,341.2" class="w"/>
<polygon points="600.2,211.9 670.2,230.6 665.8,358.2 599.3,322.7" class="w"/>
<polygon points="496.1,341.2 599.3,322.7 665.8,358.2 551.5,384.3" class="w"/>
<clipPath id="ff"><polygon points="496.1,341.2 599.3,322.7 665.8,358.2 551.5,384.3"/></clipPath><g clip-path="url(#ff)">
<ellipse cx="573.0" cy="350.0" rx="58.0" ry="23.0" class="c" transform="rotate(-2.0 573.0 350.0)"/>
<ellipse cx="573.0" cy="350.0" rx="49.6" ry="18.0" class="c" transform="rotate(-2.0 573.0 350.0)"/>
<ellipse cx="573.0" cy="350.0" rx="38.6" ry="13.5" class="c" transform="rotate(-2.0 573.0 350.0)"/>
<ellipse cx="573.0" cy="350.0" rx="23.4" ry="7.5" class="c" transform="rotate(-2.0 573.0 350.0)"/>
</g>
<line x1="496.1" y1="341.2" x2="494.7" y2="342.3" class="t"/>
<line x1="510.0" y1="352.0" x2="508.5" y2="353.1" class="t"/>
<line x1="523.8" y1="362.8" x2="522.4" y2="363.8" class="t"/>
<line x1="537.6" y1="373.5" x2="536.2" y2="374.6" class="t"/>
<line x1="551.5" y1="384.3" x2="550.1" y2="385.4" class="t"/>
<line x1="551.5" y1="384.3" x2="551.9" y2="386.1" class="t"/>
<line x1="580.1" y1="377.8" x2="580.4" y2="379.6" class="t"/>
<line x1="608.6" y1="371.2" x2="609.0" y2="373.1" class="t"/>
<line x1="637.2" y1="364.7" x2="637.6" y2="366.5" class="t"/>
<line x1="665.8" y1="358.2" x2="666.2" y2="360.0" class="t"/>
<line x1="491.5" y1="221.4" x2="489.5" y2="221.4" class="t"/>
<line x1="492.4" y1="244.5" x2="490.4" y2="244.5" class="t"/>
<line x1="493.3" y1="267.4" x2="491.3" y2="267.4" class="t"/>
<line x1="494.1" y1="290.2" x2="492.1" y2="290.2" class="t"/>
<line x1="495.0" y1="312.7" x2="493.0" y2="312.7" class="t"/>
<clipPath id="csf"><path d="M493.7 278.2C495.2 276.2 498.1 271.2 502.5 266.0C506.9 260.8 514.2 251.9 520.0 246.7C525.8 241.4 531.6 237.6 537.4 234.5C543.2 231.4 549.1 229.7 554.9 228.2C560.7 226.7 566.6 225.5 572.4 225.7C578.2 225.9 584.1 227.1 589.9 229.2C595.7 231.2 601.6 234.2 607.4 238.0C613.2 241.8 619.1 246.5 624.9 252.0C630.7 257.5 636.5 263.6 642.3 271.2C648.1 278.8 655.6 291.0 659.8 297.4C664.0 303.8 666.2 307.6 667.5 309.7C665.6 308.5 660.5 305.0 656.3 302.7C652.1 300.4 647.5 297.6 642.3 295.7C637.1 293.8 629.5 291.7 624.9 291.1C620.2 290.5 619.1 290.9 614.4 292.2C609.7 293.5 602.7 295.7 596.9 299.2C591.1 302.7 584.6 308.2 579.4 313.1C574.1 318.1 570.1 323.1 565.4 328.9C560.7 334.7 553.7 344.9 551.4 348.1C550.5 344.9 548.5 336.2 546.2 328.9C543.9 321.6 540.6 312.5 537.4 304.4C534.2 296.2 530.2 286.1 527.0 280.0C523.8 273.9 521.1 270.3 518.2 267.7C515.3 265.1 512.1 264.2 509.5 264.2C506.9 264.2 505.1 265.4 502.5 267.7C499.9 270.0 495.2 276.4 493.7 278.2Z"/></clipPath>
<path d="M493.7 278.2C495.2 276.2 498.1 271.2 502.5 266.0C506.9 260.8 514.2 251.9 520.0 246.7C525.8 241.4 531.6 237.6 537.4 234.5C543.2 231.4 549.1 229.7 554.9 228.2C560.7 226.7 566.6 225.5 572.4 225.7C578.2 225.9 584.1 227.1 589.9 229.2C595.7 231.2 601.6 234.2 607.4 238.0C613.2 241.8 619.1 246.5 624.9 252.0C630.7 257.5 636.5 263.6 642.3 271.2C648.1 278.8 655.6 291.0 659.8 297.4C664.0 303.8 666.2 307.6 667.5 309.7C665.6 308.5 660.5 305.0 656.3 302.7C652.1 300.4 647.5 297.6 642.3 295.7C637.1 293.8 629.5 291.7 624.9 291.1C620.2 290.5 619.1 290.9 614.4 292.2C609.7 293.5 602.7 295.7 596.9 299.2C591.1 302.7 584.6 308.2 579.4 313.1C574.1 318.1 570.1 323.1 565.4 328.9C560.7 334.7 553.7 344.9 551.4 348.1C550.5 344.9 548.5 336.2 546.2 328.9C543.9 321.6 540.6 312.5 537.4 304.4C534.2 296.2 530.2 286.1 527.0 280.0C523.8 273.9 521.1 270.3 518.2 267.7C515.3 265.1 512.1 264.2 509.5 264.2C506.9 264.2 505.1 265.4 502.5 267.7C499.9 270.0 495.2 276.4 493.7 278.2Z" fill="#000"/>
<g clip-path="url(#csf)">
<path d="M593.3 237.8l5.7 .2 6.7 3.3-5.7-.7z" fill="#000000" stroke="#000000" stroke-width=".7"/>
<path d="M586.6 235.2l5.6-.4 6.8 3.2-5.7-.2z" fill="#000000" stroke="#000000" stroke-width=".7"/>
<path d="M599 238l5.7 1.1 6.8 3.8-5.8-1.6z" fill="#000000" stroke="#000000" stroke-width=".7"/>
<path d="M579.8 233l5.7-.9 6.7 2.7-5.6 .4z" fill="#000000" stroke="#000000" stroke-width=".7"/>
<path d="M592.2 234.8l5.7 .6 6.8 3.7-5.7-1.1z" fill="#000000" stroke="#000000" stroke-width=".7"/>
<path d="M573.1 231.4l5.6-1.5 6.8 2.2-5.7 .9z" fill="#000000" stroke="#000000" stroke-width=".7"/>
<path d="M604.7 239.1l5.7 2.2 6.9 4.2-5.8-2.6z" fill="#000000" stroke="#000000" stroke-width=".7"/>
<path d="M566.3 230.4l5.5-2 6.9 1.5-5.6 1.5z" fill="#000000" stroke="#000000" stroke-width=".7"/>
<path d="M585.5 232.1l5.6 .1 6.8 3.2-5.7-.6z" fill="#000000" stroke="#000000" stroke-width=".7"/>
<path d="M597.9 235.4l5.7 1.8 6.8 4.1-5.7-2.2z" fill="#000000" stroke="#000000" stroke-width=".7"/>
<path d="M559.6 230.2l5.4-2.5 6.8 .7-5.5 2z" fill="#000000" stroke="#000000" stroke-width=".7"/>
<path d="M578.7 229.9l5.5-.4 6.9 2.7-5.6-.1z" fill="#000000" stroke="#000000" stroke-width=".7"/>
<path d="M610.4 241.3l5.7 3.3 6.9 4.7-5.7-3.8z" fill="#000000" stroke="#000000" stroke-width=".7"/>
<path d="M552.8 230.9l5.4-3 6.8-.2-5.4 2.5z" fill="#000000" stroke="#000000" stroke-width=".7"/>
<path d="M591.1 232.2l5.6 1.3 6.9 3.7-5.7-1.8z" fill="#000000" stroke="#000000" stroke-width=".7"/>
<path d="M571.8 228.4l5.6-.8 6.8 1.9-5.5 .4z" fill="#000000" stroke="#000000" stroke-width=".7"/>
<path d="M546.1 232.6l5.3-3.5 6.8-1.2-5.4 3z" fill="#000000" stroke="#000000" stroke-width=".7"/>
<path d="M603.6 237.2l5.7 3 6.8 4.4-5.7-3.3z" fill="#000000" stroke="#000000" stroke-width=".7"/>
<path d="M616.1 244.6l5.7 4.6 6.9 4.9-5.7-4.8z" fill="#000000" stroke="#000000" stroke-width=".7"/>
<path d="M584.2 229.5l5.6 1 6.9 3-5.6-1.3z" fill="#000000" stroke="#000000" stroke-width=".7"/>
<path d="M565 227.7l5.5-1.3 6.9 1.2-5.6 .8z" fill="#000000" stroke="#000000" stroke-width=".7"/>
<path d="M539.4 235.2l5.2-4 6.8-2.1-5.3 3.5z" fill="#000000" stroke="#000000" stroke-width=".7"/>
<path d="M596.7 233.5l5.7 2.7 6.9 4-5.7-3z" fill="#000000" stroke="#000000" stroke-width=".7"/>
<path d="M532.7 238.8l5.1-4.4 6.8-3.2-5.2 4z" fill="#000000" stroke="#000000" stroke-width=".7"/>
<path d="M558.2 227.9l5.4-1.7 6.9 .2-5.5 1.3z" fill="#000000" stroke="#000000" stroke-width=".7"/>
<path d="M577.4 227.6l5.5 .5 6.9 2.4-5.6-1z" fill="#000000" stroke="#000000" stroke-width=".7"/>
<path d="M609.3 240.2l5.6 4.3 6.9 4.7-5.7-4.6z" fill="#000000" stroke="#000000" stroke-width=".7"/>
<path d="M526.1 243.4l5-4.8 6.7-4.2-5.1 4.4z" fill="#000000" stroke="#000000" stroke-width=".7"/>
<path d="M621.8 249.2l5.6 5.8 6.9 5.1-5.6-6z" fill="#000000" stroke="#000000" stroke-width=".7"/>
<path d="M551.4 229.1l5.3-2.1 6.9-.8-5.4 1.7z" fill="#000000" stroke="#000000" stroke-width=".7"/>
<path d="M519.5 248.9l4.9-5.2 6.7-5.1-5 4.8z" fill="#000000" stroke="#000000" stroke-width=".7"/>
<path d="M589.8 230.5l5.6 2.3 7 3.4-5.7-2.7z" fill="#000000" stroke="#000000" stroke-width=".7"/>
<path d="M570.5 226.4l5.5 .2 6.9 1.5-5.5-.5z" fill="#000000" stroke="#000000" stroke-width=".7"/>
<path d="M513 255.3l4.8-5.6 6.6-6-4.9 5.2z" fill="#000000" stroke="#000000" stroke-width=".7"/>
<path d="M506.5 262.4l4.7-6 6.6-6.7-4.8 5.6z" fill="#000000" stroke="#000000" stroke-width=".7"/>
<path d="M544.6 231.2l5.2-2.4 6.9-1.8-5.3 2.1z" fill="#000000" stroke="#000000" stroke-width=".7"/>
<path d="M602.4 236.2l5.6 4.1 6.9 4.2-5.6-4.3z" fill="#000000" stroke="#000000" stroke-width=".7"/>
<path d="M500 270.1l4.6-6.3 6.6-7.4-4.7 6z" fill="#000000" stroke="#000000" stroke-width=".7"/>
<path d="M614.9 244.5l5.6 5.6 6.9 4.9-5.6-5.8z" fill="#000000" stroke="#000000" stroke-width=".7"/>
<path d="M493.7 278.2l4.4-6.7 6.5-7.7-4.6 6.3z" fill="#000000" stroke="#000000" stroke-width=".7"/>
<path d="M582.9 228.1l5.6 2.1 6.9 2.6-5.6-2.3z" fill="#000000" stroke="#000000" stroke-width=".7"/>
<path d="M563.6 226.2l5.4-.1 7 .5-5.5-.2z" fill="#000000" stroke="#000000" stroke-width=".7"/>
<path d="M537.8 234.4l5.2-2.8 6.8-2.8-5.2 2.4z" fill="#000000" stroke="#000000" stroke-width=".7"/>
<path d="M627.4 255l5.6 6.9 7 5.2-5.7-7z" fill="#000000" stroke="#000000" stroke-width=".7"/>
<path d="M531.1 238.6l5.1-3.2 6.8-3.8-5.2 2.8z" fill="#000000" stroke="#000000" stroke-width=".7"/>
<path d="M595.4 232.8l5.6 3.9 7 3.6-5.6-4.1z" fill="#000000" stroke="#000000" stroke-width=".7"/>
<path d="M556.7 227l5.4-.5 6.9-.4-5.4 .1z" fill="#000000" stroke="#000000" stroke-width=".7"/>
<path d="M576 226.6l5.5 1.8 7 1.8-5.6-2.1z" fill="#000000" stroke="#000000" stroke-width=".7"/>
<path d="M608 240.3l5.5 5.4 7 4.4-5.6-5.6z" fill="#000000" stroke="#000000" stroke-width=".7"/>
<path d="M524.4 243.7l5-3.5 6.8-4.8-5.1 3.2z" fill="#000000" stroke="#000000" stroke-width=".7"/>
<path d="M620.5 250.1l5.6 6.8 6.9 5-5.6-6.9z" fill="#000000" stroke="#000000" stroke-width=".7"/>
<path d="M517.8 249.7l4.9-3.8 6.7-5.7-5 3.5z" fill="#000000" stroke="#000000" stroke-width=".7"/>
<path d="M633 261.9l5.6 7.8 6.9 5.3-5.5-7.9z" fill="#000000" stroke="#000000" stroke-width=".7"/>
<path d="M549.8 228.8l5.3-.8 7-1.5-5.4 .5z" fill="#000000" stroke="#000000" stroke-width=".7"/>
<path d="M588.5 230.2l5.5 3.6 7 2.9-5.6-3.9z" fill="#000000" stroke="#000000" stroke-width=".7"/>
<path d="M511.2 256.4l4.8-4 6.7-6.5-4.9 3.8z" fill="#000000" stroke="#000000" stroke-width=".7"/>
<path d="M569 226.1l5.5 1.5 7 .8-5.5-1.8z" fill="#000000" stroke="#000000" stroke-width=".7"/>
<path d="M504.6 263.8l4.7-4.3 6.7-7.1-4.8 4z" fill="#000000" stroke="#000000" stroke-width=".7"/>
<path d="M543 231.6l5.2-1 6.9-2.6-5.3 .8z" fill="#000000" stroke="#000000" stroke-width=".7"/>
<path d="M601 236.7l5.5 5.2 7 3.8-5.5-5.4z" fill="#000000" stroke="#000000" stroke-width=".7"/>
<path d="M498.1 271.5l4.6-4.5 6.6-7.5-4.7 4.3z" fill="#000000" stroke="#000000" stroke-width=".7"/>
<path d="M613.5 245.7l5.6 6.7 7 4.5-5.6-6.8z" fill="#000000" stroke="#000000" stroke-width=".7"/>
<path d="M581.5 228.4l5.5 3.4 7 2-5.5-3.6z" fill="#000000" stroke="#000000" stroke-width=".7"/>
<path d="M562.1 226.5l5.4 1.3 7-.2-5.5-1.5z" fill="#000000" stroke="#000000" stroke-width=".7"/>
<path d="M626.1 256.9l5.5 7.8 7 5-5.6-7.8z" fill="#000000" stroke="#000000" stroke-width=".7"/>
<path d="M536.2 235.4l5.1-1.2 6.9-3.6-5.2 1z" fill="#000000" stroke="#000000" stroke-width=".7"/>
<path d="M638.6 269.7l5.5 8.6 7 5.2-5.6-8.5z" fill="#000000" stroke="#000000" stroke-width=".7"/>
<path d="M529.4 240.2l5.1-1.5 6.8-4.5-5.1 1.2z" fill="#000000" stroke="#000000" stroke-width=".7"/>
<path d="M594 233.8l5.5 5.1 7 3-5.5-5.2z" fill="#000000" stroke="#000000" stroke-width=".7"/>
<path d="M555.1 228l5.4 1.1 7-1.3-5.4-1.3z" fill="#000000" stroke="#000000" stroke-width=".7"/>
<path d="M574.5 227.6l5.4 3.2 7.1 1-5.5-3.4z" fill="#000000" stroke="#000000" stroke-width=".7"/>
<path d="M522.7 245.9l5-1.7 6.8-5.5-5.1 1.5z" fill="#000000" stroke="#000000" stroke-width=".7"/>
<path d="M606.5 241.9l5.5 6.6 7.1 3.9-5.6-6.7z" fill="#000000" stroke="#000000" stroke-width=".7"/>
<path d="M619.1 252.4l5.5 7.8 7 4.5-5.5-7.8z" fill="#000000" stroke="#000000" stroke-width=".7"/>
<path d="M516 252.4l4.9-2 6.8-6.2-5 1.7z" fill="#000000" stroke="#000000" stroke-width=".7"/>
<path d="M631.6 264.7l5.5 8.6 7 5-5.5-8.6z" fill="#000000" stroke="#000000" stroke-width=".7"/>
<path d="M644.1 278.3l5.5 9 6.9 5.1-5.4-8.9z" fill="#000000" stroke="#000000" stroke-width=".7"/>
<path d="M548.2 230.6l5.3 .9 7-2.4-5.4-1.1z" fill="#000000" stroke="#000000" stroke-width=".7"/>
<path d="M587 231.8l5.4 5 7.1 2.1-5.5-5.1z" fill="#000000" stroke="#000000" stroke-width=".7"/>
<path d="M509.3 259.5l4.8-2.2 6.8-6.9-4.9 2z" fill="#000000" stroke="#000000" stroke-width=".7"/>
<path d="M567.5 227.8l5.4 3.1 7-.1-5.4-3.2z" fill="#000000" stroke="#000000" stroke-width=".7"/>
<path d="M502.7 267l4.8-2.3 6.6-7.4-4.8 2.2z" fill="#000000" stroke="#000000" stroke-width=".7"/>
<path d="M541.3 234.2l5.2 .7 7-3.4-5.3-.9z" fill="#000000" stroke="#000000" stroke-width=".7"/>
<path d="M599.5 238.9l5.5 6.6 7 3-5.5-6.6z" fill="#ff0076" stroke="#ff0076" stroke-width=".7"/>
<path d="M612 248.5l5.5 7.8 7.1 3.9-5.5-7.8z" fill="#ff00a5" stroke="#ff00a5" stroke-width=".7"/>
<path d="M534.5 238.7l5.1 .6 6.9-4.4-5.2-.7z" fill="#000000" stroke="#000000" stroke-width=".7"/>
<path d="M560.5 229.1l5.3 2.9 7.1-1.1-5.4-3.1z" fill="#ff0036" stroke="#ff0036" stroke-width=".7"/>
<path d="M579.9 230.8l5.4 4.9 7.1 1.1-5.4-5z" fill="#ff0047" stroke="#ff0047" stroke-width=".7"/>
<path d="M624.6 260.2l5.4 8.7 7.1 4.4-5.5-8.6z" fill="#ff00db" stroke="#ff00db" stroke-width=".7"/>
<path d="M637.1 273.3l5.4 9.2 7.1 4.8-5.5-9z" fill="#e700ff" stroke="#e700ff" stroke-width=".7"/>
<path d="M649.6 287.3l5.4 9.1 7 4.9-5.5-8.9z" fill="#000000" stroke="#000000" stroke-width=".7"/>
<path d="M527.7 244.2l5 .4 6.9-5.3-5.1-.6z" fill="#ff0069" stroke="#ff0069" stroke-width=".7"/>
<path d="M592.4 236.8l5.5 6.5 7.1 2.2-5.5-6.6z" fill="#ff0065" stroke="#ff0065" stroke-width=".7"/>
<path d="M553.5 231.5l5.3 2.8 7-2.3-5.3-2.9z" fill="#ff003a" stroke="#ff003a" stroke-width=".7"/>
<path d="M520.9 250.4l4.9 .3 6.9-6.1-5-.4z" fill="#ff0080" stroke="#ff0080" stroke-width=".7"/>
<path d="M572.9 230.9l5.4 4.8 7 0-5.4-4.9z" fill="#ff0040" stroke="#ff0040" stroke-width=".7"/>
<path d="M605 245.5l5.4 7.8 7.1 3-5.5-7.8z" fill="#ff008f" stroke="#ff008f" stroke-width=".7"/>
<path d="M514.1 257.3l4.9 .2 6.8-6.8-4.9-.3z" fill="#ff009b" stroke="#ff009b" stroke-width=".7"/>
<path d="M617.5 256.3l5.4 8.8 7.1 3.8-5.4-8.7z" fill="#ff00c2" stroke="#ff00c2" stroke-width=".7"/>
<path d="M546.5 234.9l5.3 2.7 7-3.3-5.3-2.8z" fill="#ff0044" stroke="#ff0044" stroke-width=".7"/>
<path d="M630 268.9l5.4 9.3 7.1 4.3-5.4-9.2z" fill="#ff00fb" stroke="#ff00fb" stroke-width=".7"/>
<path d="M642.5 282.5l5.4 9.3 7.1 4.6-5.4-9.1z" fill="#c700ff" stroke="#c700ff" stroke-width=".7"/>
<path d="M507.5 264.7l4.8 .1 6.7-7.3-4.9-.2z" fill="#ff00b9" stroke="#ff00b9" stroke-width=".7"/>
<path d="M655 296.4l5.4 8.7 7.1 4.6-5.5-8.4z" fill="#0c0016" stroke="#0c0016" stroke-width=".7"/>
<path d="M585.3 235.7l5.5 6.6 7.1 1-5.5-6.5z" fill="#ff0059" stroke="#ff0059" stroke-width=".7"/>
<path d="M565.8 232l5.4 4.8 7.1-1.1-5.4-4.8z" fill="#ff003f" stroke="#ff003f" stroke-width=".7"/>
<path d="M539.6 239.3l5.2 2.6 7-4.3-5.3-2.7z" fill="#ff0052" stroke="#ff0052" stroke-width=".7"/>
<path d="M597.9 243.3l5.4 8 7.1 2-5.4-7.8z" fill="#ff007e" stroke="#ff007e" stroke-width=".7"/>
<path d="M610.4 253.3l5.4 9 7.1 2.8-5.4-8.8z" fill="#ff00ad" stroke="#ff00ad" stroke-width=".7"/>
<path d="M532.7 244.6l5.1 2.6 7-5.3-5.2-2.6z" fill="#ff0065" stroke="#ff0065" stroke-width=".7"/>
<path d="M558.8 234.3l5.3 4.7 7.1-2.2-5.4-4.8z" fill="#ff0043" stroke="#ff0043" stroke-width=".7"/>
<path d="M578.3 235.7l5.3 6.6 7.2 0-5.5-6.6z" fill="#ff0052" stroke="#ff0052" stroke-width=".7"/>
<path d="M622.9 265.1l5.4 9.6 7.1 3.5-5.4-9.3z" fill="#ff00e3" stroke="#ff00e3" stroke-width=".7"/>
<path d="M635.4 278.2l5.4 9.6 7.1 4-5.4-9.3z" fill="#e100ff" stroke="#e100ff" stroke-width=".7"/>
<path d="M525.8 250.7l5.1 2.7 6.9-6.2-5.1-2.6z" fill="#ff007c" stroke="#ff007c" stroke-width=".7"/>
<path d="M647.9 291.8l5.4 9.1 7.1 4.2-5.4-8.7z" fill="#a800ff" stroke="#a800ff" stroke-width=".7"/>
<path d="M590.8 242.3l5.3 8 7.2 1-5.4-8z" fill="#ff0072" stroke="#ff0072" stroke-width=".7"/>
<path d="M551.8 237.6l5.2 4.8 7.1-3.4-5.3-4.7z" fill="#ff004c" stroke="#ff004c" stroke-width=".7"/>
<path d="M519 257.5l5 2.6 6.9-6.7-5.1-2.7z" fill="#ff0097" stroke="#ff0097" stroke-width=".7"/>
<path d="M571.2 236.8l5.3 6.6 7.1-1.1-5.3-6.6z" fill="#ff0051" stroke="#ff0051" stroke-width=".7"/>
<path d="M603.3 251.3l5.3 9.1 7.2 1.9-5.4-9z" fill="#ff009d" stroke="#ff009d" stroke-width=".7"/>
<path d="M512.3 264.8l4.8 2.6 6.9-7.3-5-2.6z" fill="#ff00b4" stroke="#ff00b4" stroke-width=".7"/>
<path d="M544.8 241.9l5.1 4.8 7.1-4.3-5.2-4.8z" fill="#ff005a" stroke="#ff005a" stroke-width=".7"/>
<path d="M615.8 262.3l5.4 9.7 7.1 2.7-5.4-9.6z" fill="#ff00cf" stroke="#ff00cf" stroke-width=".7"/>
<path d="M628.3 274.7l5.4 9.8 7.1 3.3-5.4-9.6z" fill="#f900ff" stroke="#f900ff" stroke-width=".7"/>
<path d="M583.6 242.3l5.4 8.1 7.1-.1-5.3-8z" fill="#ff006b" stroke="#ff006b" stroke-width=".7"/>
<path d="M640.8 287.8l5.4 9.4 7.1 3.7-5.4-9.1z" fill="#c100ff" stroke="#c100ff" stroke-width=".7"/>
<path d="M564.1 239l5.2 6.7 7.2-2.3-5.3-6.6z" fill="#ff0054" stroke="#ff0054" stroke-width=".7"/>
<path d="M537.8 247.2l5.1 4.9 7-5.4-5.1-4.8z" fill="#ff006d" stroke="#ff006d" stroke-width=".7"/>
<path d="M596.1 250.3l5.4 9.2 7.1 .9-5.3-9.1z" fill="#ff0091" stroke="#ff0091" stroke-width=".7"/>
<path d="M530.9 253.4l5 4.9 7-6.2-5.1-4.9z" fill="#ff0083" stroke="#ff0083" stroke-width=".7"/>
<path d="M557 242.4l5.2 6.7 7.1-3.4-5.2-6.7z" fill="#ff005d" stroke="#ff005d" stroke-width=".7"/>
<path d="M608.6 260.4l5.4 9.9 7.2 1.7-5.4-9.7z" fill="#ff00bf" stroke="#ff00bf" stroke-width=".7"/>
<path d="M576.5 243.4l5.3 8.3 7.2-1.3-5.4-8.1z" fill="#ff006a" stroke="#ff006a" stroke-width=".7"/>
<path d="M524 260.1l5 5.1 6.9-6.9-5-4.9z" fill="#ff009d" stroke="#ff009d" stroke-width=".7"/>
<path d="M621.2 272l5.3 10.2 7.2 2.3-5.4-9.8z" fill="#ff00f2" stroke="#ff00f2" stroke-width=".7"/>
<path d="M633.7 284.5l5.3 9.8 7.2 2.9-5.4-9.4z" fill="#d700ff" stroke="#d700ff" stroke-width=".7"/>
<path d="M517.1 267.4l4.9 5.2 7-7.4-5-5.1z" fill="#ff00ba" stroke="#ff00ba" stroke-width=".7"/>
<path d="M549.9 246.7l5.2 6.9 7.1-4.5-5.2-6.7z" fill="#ff006b" stroke="#ff006b" stroke-width=".7"/>
<path d="M589 250.4l5.2 9.5 7.3-.4-5.4-9.2z" fill="#ff008a" stroke="#ff008a" stroke-width=".7"/>
<path d="M569.3 245.7l5.3 8.4 7.2-2.4-5.3-8.3z" fill="#ff006e" stroke="#ff006e" stroke-width=".7"/>
<path d="M601.5 259.5l5.2 10.3 7.3 .5-5.4-9.9z" fill="#ff00b4" stroke="#ff00b4" stroke-width=".7"/>
<path d="M542.9 252.1l5.1 7 7.1-5.5-5.2-6.9z" fill="#ff007e" stroke="#ff007e" stroke-width=".7"/>
<path d="M614 270.3l5.2 10.6 7.3 1.3-5.3-10.2z" fill="#ff00e3" stroke="#ff00e3" stroke-width=".7"/>
<path d="M581.8 251.7l5.2 9.7 7.2-1.5-5.2-9.5z" fill="#ff0089" stroke="#ff0089" stroke-width=".7"/>
<path d="M562.2 249.1l5.2 8.6 7.2-3.6-5.3-8.4z" fill="#ff0077" stroke="#ff0077" stroke-width=".7"/>
<path d="M535.9 258.3l5.1 7.2 7-6.4-5.1-7z" fill="#ff0094" stroke="#ff0094" stroke-width=".7"/>
<path d="M626.5 282.2l5.2 10.2 7.3 1.9-5.3-9.8z" fill="#e900ff" stroke="#e900ff" stroke-width=".7"/>
<path d="M529 265.2l5 7.3 7-7-5.1-7.2z" fill="#ff00ae" stroke="#ff00ae" stroke-width=".7"/>
<path d="M594.2 259.9l5.3 10.5 7.2-.6-5.2-10.3z" fill="#ff00ae" stroke="#ff00ae" stroke-width=".7"/>
<path d="M555.1 253.6l5.2 8.8 7.1-4.7-5.2-8.6z" fill="#ff0085" stroke="#ff0085" stroke-width=".7"/>
<path d="M522 272.6l5 7.6 7-7.7-5-7.3z" fill="#ff00cb" stroke="#ff00cb" stroke-width=".7"/>
<path d="M574.6 254.1l5.2 10 7.2-2.7-5.2-9.7z" fill="#ff008e" stroke="#ff008e" stroke-width=".7"/>
<path d="M606.7 269.8l5.3 10.9 7.2 .2-5.2-10.6z" fill="#ff00d9" stroke="#ff00d9" stroke-width=".7"/>
<path d="M548 259.1l5.1 9.1 7.2-5.8-5.2-8.8z" fill="#ff0098" stroke="#ff0098" stroke-width=".7"/>
<path d="M619.2 280.9l5.3 10.6 7.2 .9-5.2-10.2z" fill="#f600ff" stroke="#f600ff" stroke-width=".7"/>
<path d="M587 261.4l5.2 10.9 7.3-1.9-5.3-10.5z" fill="#ff00ae" stroke="#ff00ae" stroke-width=".7"/>
<path d="M567.4 257.7l5.2 10.3 7.2-3.9-5.2-10z" fill="#ff0097" stroke="#ff0097" stroke-width=".7"/>
<path d="M541 265.5l5 9.3 7.1-6.6-5.1-9.1z" fill="#ff00af" stroke="#ff00af" stroke-width=".7"/>
<path d="M599.5 270.4l5.2 11.3 7.3-1-5.3-10.9z" fill="#ff00d5" stroke="#ff00d5" stroke-width=".7"/>
<path d="M534 272.5l5 9.7 7-7.4-5-9.3z" fill="#ff00c9" stroke="#ff00c9" stroke-width=".7"/>
<path d="M560.3 262.4l5.1 10.6 7.2-5-5.2-10.3z" fill="#ff00a6" stroke="#ff00a6" stroke-width=".7"/>
<path d="M579.8 264.1l5.2 11.2 7.2-3-5.2-10.9z" fill="#ff00b3" stroke="#ff00b3" stroke-width=".7"/>
<path d="M612 280.7l5.2 11 7.3-.2-5.3-10.6z" fill="#fe00ff" stroke="#fe00ff" stroke-width=".7"/>
<path d="M527 280.2l4.9 9.9 7.1-7.9-5-9.7z" fill="#ff00e6" stroke="#ff00e6" stroke-width=".7"/>
<path d="M553.1 268.2l5.1 10.9 7.2-6.1-5.1-10.6z" fill="#ff00ba" stroke="#ff00ba" stroke-width=".7"/>
<path d="M592.2 272.3l5.2 11.7 7.3-2.3-5.2-11.3z" fill="#ff00d6" stroke="#ff00d6" stroke-width=".7"/>
<path d="M572.6 268l5.1 11.6 7.3-4.3-5.2-11.2z" fill="#ff00be" stroke="#ff00be" stroke-width=".7"/>
<path d="M546 274.8l5.1 11.3 7.1-7-5.1-10.9z" fill="#ff00d2" stroke="#ff00d2" stroke-width=".7"/>
<path d="M604.7 281.7l5.1 11.6 7.4-1.6-5.2-11z" fill="#ff00fd" stroke="#ff00fd" stroke-width=".7"/>
<path d="M539 282.2l5 11.6 7.1-7.7-5.1-11.3z" fill="#ff00ed" stroke="#ff00ed" stroke-width=".7"/>
<path d="M565.4 273l5.1 12 7.2-5.4-5.1-11.6z" fill="#ff00ce" stroke="#ff00ce" stroke-width=".7"/>
<path d="M585 275.3l5.1 12.2 7.3-3.5-5.2-11.7z" fill="#ff00dd" stroke="#ff00dd" stroke-width=".7"/>
<path d="M531.9 290.1l5 12 7.1-8.3-5-11.6z" fill="#f300ff" stroke="#f300ff" stroke-width=".7"/>
<path d="M558.2 279.1l5.1 12.5 7.2-6.6-5.1-12z" fill="#ff00e3" stroke="#ff00e3" stroke-width=".7"/>
<path d="M597.4 284l5.1 12 7.3-2.7-5.1-11.6z" fill="#fe00ff" stroke="#fe00ff" stroke-width=".7"/>
<path d="M577.7 279.6l5.1 12.7 7.3-4.8-5.1-12.2z" fill="#ff00e9" stroke="#ff00e9" stroke-width=".7"/>
<path d="M551.1 286.1l5 12.9 7.2-7.4-5.1-12.5z" fill="#ff00fc" stroke="#ff00fc" stroke-width=".7"/>
<path d="M544 293.8l4.9 13.4 7.2-8.2-5-12.9z" fill="#e600ff" stroke="#e600ff" stroke-width=".7"/>
<path d="M570.5 285l5 13.2 7.3-5.9-5.1-12.7z" fill="#ff00fa" stroke="#ff00fa" stroke-width=".7"/>
<path d="M590.1 287.5l5.1 12.6 7.3-4.1-5.1-12z" fill="#f600ff" stroke="#f600ff" stroke-width=".7"/>
<path d="M536.9 302.1l4.9 14 7.1-8.9-4.9-13.4z" fill="#c700ff" stroke="#c700ff" stroke-width=".7"/>
<path d="M563.3 291.6l4.9 13.6 7.3-7-5-13.2z" fill="#ee00ff" stroke="#ee00ff" stroke-width=".7"/>
<path d="M582.8 292.3l5 13.2 7.4-5.4-5.1-12.6z" fill="#e800ff" stroke="#e800ff" stroke-width=".7"/>
<path d="M556.1 299l4.9 14.3 7.2-8.1-4.9-13.6z" fill="#d300ff" stroke="#d300ff" stroke-width=".7"/>
<path d="M548.9 307.2l4.9 14.9 7.2-8.8-4.9-14.3z" fill="#b500ff" stroke="#b500ff" stroke-width=".7"/>
<path d="M575.5 298.2l5 13.8 7.3-6.5-5-13.2z" fill="#d500ff" stroke="#d500ff" stroke-width=".7"/>
<path d="M541.8 316.1l4.8 15.4 7.2-9.4-4.9-14.9z" fill="#9400ff" stroke="#9400ff" stroke-width=".7"/>
<path d="M568.2 305.2l5 14.5 7.3-7.7-5-13.8z" fill="#bc00ff" stroke="#bc00ff" stroke-width=".7"/>
<path d="M561 313.3l4.9 15.1 7.3-8.7-5-14.5z" fill="#a000ff" stroke="#a000ff" stroke-width=".7"/>
<path d="M553.8 322.1l4.8 15.8 7.3-9.5-4.9-15.1z" fill="#8000ff" stroke="#8000ff" stroke-width=".7"/>
<path d="M546.6 331.5l4.8 16.6 7.2-10.2-4.8-15.8z" fill="#5c00ff" stroke="#5c00ff" stroke-width=".7"/>
<path d="M493.7 278.2l1.6-2.1 1.6-2 1.6-2 1.5-2 1.6-2 1.7-1.9M494.8 276.4l1.6-2.1 1.6-2 1.6-2 1.6-2 1.6-1.9 1.6-1.9 1.6-1.9 1.6-1.9 1.7-1.8M510.9 257.1l1.6-1.7M514.1 253.7l1.7-1.6M517.4 250.5l1.7-1.5 1.6-1.5M495.9 274.6l1.6-2 1.6-2 1.6-2 1.6-1.9 1.6-1.9 1.7-1.9 1.6-1.9 1.6-1.8 1.6-1.8 1.7-1.8 1.6-1.7 1.6-1.6 1.7-1.6 1.6-1.6 1.7-1.5 1.6-1.5 1.7-1.4 1.7-1.4 1.6-1.3 1.7-1.2 1.6-1.2M497 273l1.6-2 1.6-2 1.7-1.9 1.6-1.9 1.6-1.9 1.6-1.9 1.7-1.9 1.6-1.8 1.6-1.7 1.7-1.8 1.6-1.6 1.7-1.7 1.6-1.6 1.7-1.5 1.6-1.5 1.7-1.4 1.6-1.4 1.7-1.4 1.7-1.2 1.6-1.3 1.7-1.1 1.7-1.1 1.7-1.1 1.6-.9M498.1 271.5l1.7-1.9 1.6-2 1.6-1.9 1.6-1.9 1.7-1.9 1.6-1.9 1.6-1.8 1.7-1.8 1.6-1.7 1.7-1.7 1.6-1.7 1.7-1.6 1.6-1.6 1.7-1.5 1.6-1.5 1.7-1.4 1.7-1.4 1.6-1.3 1.7-1.2 1.7-1.2 1.7-1.1 1.7-1.1 1.6-1 1.7-1 1.7-.9 1.7-.8M499.3 270.2l1.6-2 1.6-1.9 1.7-1.9 1.6-1.9 1.6-1.9 1.7-1.8 1.6-1.8 1.7-1.8 1.6-1.7 1.7-1.7 1.6-1.6 1.7-1.6 1.6-1.6 1.7-1.5 1.7-1.4 1.6-1.4 1.7-1.4 1.7-1.3 1.7-1.2 1.7-1.2 1.6-1.1 1.7-1 1.7-1 1.7-.9 1.7-.9 1.7-.8 1.7-.8 1.7-.6 1.7-.6 1.7-.6M500.4 269l1.7-2 1.6-1.9 1.6-1.9 1.7-1.9 1.6-1.8 1.7-1.8 1.6-1.8 1.7-1.8 1.6-1.7 1.7-1.6 1.6-1.7 1.7-1.5 1.7-1.6 1.6-1.5 1.7-1.4 1.7-1.4 1.7-1.3 1.7-1.2 1.6-1.3 1.7-1.1 1.7-1.1 1.7-1 1.7-1 1.7-.9 1.7-.8 1.7-.8 1.7-.7 1.7-.7 1.7-.6 1.7-.5 1.7-.5M554 227.8l1.8-.3M501.6 267.9l1.6-1.9 1.7-1.9 1.6-1.9 1.7-1.9 1.6-1.8 1.7-1.8 1.6-1.8 1.7-1.7 1.6-1.7 1.7-1.7 1.7-1.6 1.6-1.5 1.7-1.5 1.7-1.5 1.7-1.4 1.6-1.4 1.7-1.3 1.7-1.2 1.7-1.2 1.7-1.1 1.7-1.1 1.7-1 1.7-1 1.7-.8 1.7-.9 1.7-.7 1.7-.7 1.7-.7 1.7-.5 1.8-.5 1.7-.5 1.7-.3 1.7-.4 1.7-.2 1.7-.2M562.2 226.5l1.8-.1M502.7 267l1.7-1.9 1.6-1.9 1.7-1.9 1.6-1.8 1.7-1.9 1.7-1.8 1.6-1.7 1.7-1.7 1.6-1.7 1.7-1.6 1.7-1.6 1.7-1.6 1.6-1.5 1.7-1.4 1.7-1.4 1.7-1.4 1.7-1.2 1.7-1.3 1.7-1.1 1.7-1.2 1.7-1 1.7-1 1.7-.9 1.7-.9 1.7-.8 1.7-.7 1.7-.7 1.7-.6 1.8-.6 1.7-.4 1.7-.5 1.7-.3 1.7-.3 1.8-.2 1.7-.2 1.7-.1 1.7 0 1.7 0 1.8 .1M503.9 266.2l1.7-1.9 1.6-1.9 1.7-1.9 1.6-1.8 1.7-1.8 1.7-1.8 1.6-1.7 1.7-1.7 1.7-1.7 1.6-1.6 1.7-1.6 1.7-1.5 1.7-1.5 1.7-1.4 1.7-1.4 1.7-1.3 1.7-1.3 1.7-1.2 1.7-1.2 1.7-1.1 1.7-1 1.7-1 1.7-.9 1.7-.8 1.7-.8 1.7-.7 1.8-.7 1.7-.6 1.7-.5 1.7-.5 1.7-.3 1.8-.4 1.7-.2 1.7-.2 1.7-.2 1.8-.1 1.7 0 1.7 .1 1.7 .1M571.9 226.3l1.7 .3 1.7 .2M505.1 265.5l1.6-1.8 1.7-1.9 1.7-1.9 1.6-1.8 1.7-1.8 1.7-1.7 1.6-1.8 1.7-1.7 1.7-1.6 1.7-1.6 1.7-1.6 1.7-1.5 1.6-1.5 1.7-1.4 1.7-1.4 1.7-1.3 1.7-1.2 1.7-1.2 1.7-1.2 1.8-1 1.7-1.1 1.7-.9 1.7-.9 1.7-.8 1.7-.8 1.7-.7 1.8-.6 1.7-.6 1.7-.5 1.7-.5 1.8-.3 1.7-.3 1.7-.3 1.8-.2 1.7-.1 1.7 0 1.7 0 1.8 0 1.7 .2 1.7 .1 1.8 .3 1.7 .3 1.7 .4 1.7 .4 1.8 .4M506.3 265l1.6-1.8 1.7-1.9 1.7-1.8 1.6-1.9 1.7-1.7 1.7-1.8 1.7-1.7 1.6-1.7 1.7-1.6 1.7-1.6 1.7-1.6 1.7-1.5 1.7-1.4 1.7-1.4 1.7-1.4 1.7-1.3 1.7-1.2 1.7-1.2 1.7-1.1 1.7-1.1 1.8-1 1.7-.9 1.7-.9 1.7-.8 1.7-.8 1.8-.7 1.7-.6 1.7-.5 1.7-.5 1.8-.5 1.7-.3 1.7-.3 1.8-.2 1.7-.2 1.7-.1 1.8 0 1.7 0 1.7 .1 1.8 .1 1.7 .2 1.7 .3 1.8 .3 1.7 .4 1.7 .5 1.8 .4 1.7 .6 1.7 .6 1.7 .6 1.8 .7 1.7 .7M612.4 242.7l1.7 1 1.7 1.1M507.5 264.7l1.6-1.9 1.7-1.8 1.7-1.9 1.6-1.8 1.7-1.7 1.7-1.8 1.7-1.7 1.7-1.7 1.7-1.6 1.7-1.6 1.7-1.5 1.7-1.5 1.7-1.5 1.7-1.3 1.7-1.4 1.7-1.3 1.7-1.2 1.7-1.2 1.7-1.1 1.7-1 1.8-1 1.7-.9 1.7-.9 1.7-.8 1.8-.7 1.7-.7 1.7-.6 1.7-.6 1.8-.4 1.7-.4 1.7-.4 1.8-.3 1.7-.2 1.8-.1 1.7-.1 1.7 0 1.8 0 1.7 .1 1.7 .2 1.8 .2 1.7 .3 1.7 .4 1.8 .4 1.7 .4 1.7 .5 1.8 .6 1.7 .6 1.7 .7 1.8 .7 1.7 .7 1.7 .8 1.7 .8 1.8 .9 1.7 .9 1.7 .9 1.7 1 1.7 1 1.7 1 1.7 1 1.7 1.1 1.8 1 1.7 1.1 1.7 1.1 1.7 1M508.6 264.5l1.7-1.9 1.7-1.8 1.7-1.8 1.7-1.8 1.6-1.8 1.7-1.7 1.7-1.7 1.7-1.7 1.7-1.6 1.7-1.6 1.7-1.5 1.7-1.5 1.7-1.4 1.7-1.4 1.7-1.4 1.8-1.2 1.7-1.3 1.7-1.1 1.7-1.1 1.7-1 1.8-1 1.7-.9 1.7-.9 1.7-.8 1.8-.7 1.7-.7 1.7-.5 1.8-.6 1.7-.4 1.8-.4 1.7-.3 1.7-.3 1.8-.2 1.7-.1 1.7-.1 1.8 0 1.7 .1 1.8 .1 1.7 .2 1.7 .2 1.8 .3 1.7 .4 1.8 .4 1.7 .5 1.7 .5 1.8 .6 1.7 .7 1.7 .6 1.8 .8 1.7 .7 1.7 .8 1.7 .9 1.8 .9 1.7 .9 1.7 .9 1.7 1 1.7 1 1.8 1.1 1.7 1 1.7 1.1 1.7 1.1 1.7 1.1 1.7 1.1 1.7 1.1M509.8 264.5l1.7-1.9 1.7-1.9 1.7-1.8 1.7-1.8 1.7-1.7 1.7-1.7 1.7-1.7 1.7-1.7 1.7-1.6 1.7-1.6 1.7-1.5 1.7-1.5 1.7-1.4 1.7-1.4 1.7-1.3 1.7-1.3 1.8-1.2 1.7-1.1 1.7-1.1 1.7-1 1.8-1 1.7-.9 1.7-.8 1.8-.8 1.7-.7 1.7-.7 1.8-.5 1.7-.6 1.7-.4 1.8-.4 1.7-.3 1.8-.2 1.7-.2 1.8-.1 1.7-.1 1.7 0 1.8 .1 1.7 .2 1.8 .2 1.7 .2 1.8 .4 1.7 .3 1.7 .5 1.8 .5 1.7 .5 1.8 .6 1.7 .7 1.7 .7 1.8 .7 1.7 .8 1.7 .8 1.7 .9 1.8 .9 1.7 1 1.7 .9 1.7 1 1.8 1.1 1.7 1 1.7 1.1 1.7 1.1 1.7 1.1 1.7 1.1 1.7 1.1 1.7 1.2M511 264.6l1.7-1.9 1.7-1.8 1.7-1.8 1.7-1.8 1.7-1.8 1.7-1.7 1.7-1.7 1.7-1.7 1.7-1.6 1.7-1.5 1.7-1.5 1.7-1.5 1.7-1.4 1.8-1.4 1.7-1.3 1.7-1.3 1.7-1.2 1.8-1.1 1.7-1.1 1.7-1 1.8-1 1.7-.9 1.7-.8 1.8-.7 1.7-.7 1.8-.7 1.7-.5 1.7-.5 1.8-.5 1.7-.3 1.8-.3 1.7-.3 1.8-.1 1.7-.1 1.8-.1 1.7 .1 1.8 .1 1.7 .1 1.8 .2 1.7 .3 1.7 .4 1.8 .4 1.7 .4 1.8 .5 1.7 .6 1.7 .6 1.8 .7 1.7 .7 1.8 .8 1.7 .8 1.7 .8 1.8 .9 1.7 1 1.7 .9 1.7 1 1.8 1 1.7 1.1 1.7 1.1 1.7 1.1 1.7 1.1 1.7 1.1 1.7 1.1 1.7 1.2 1.8 1.1M512.3 264.8l1.6-1.8 1.7-1.9 1.7-1.8 1.7-1.8 1.7-1.7 1.7-1.7 1.7-1.7 1.7-1.7 1.8-1.6 1.7-1.5 1.7-1.5 1.7-1.5 1.7-1.4 1.7-1.4 1.8-1.3 1.7-1.2 1.7-1.2 1.8-1.2 1.7-1 1.7-1 1.8-1 1.7-.9 1.7-.8 1.8-.7 1.7-.7 1.8-.7 1.7-.5 1.8-.5 1.7-.4 1.8-.4 1.7-.3 1.8-.2 1.7-.1 1.8-.1 1.7 0 1.8 0 1.7 .1 1.8 .2 1.7 .2 1.8 .3 1.7 .4 1.8 .4 1.7 .5 1.8 .5 1.7 .6 1.7 .6 1.8 .7 1.7 .7 1.8 .8 1.7 .8 1.7 .9 1.8 .9 1.7 1 1.7 1 1.7 1 1.8 1 1.7 1.1 1.7 1.1 1.7 1.1 1.7 1.1 1.8 1.2 1.7 1.1 1.7 1.2 1.7 1.2M513.5 265.2l1.7-1.8 1.7-1.8 1.7-1.9 1.7-1.7 1.7-1.8 1.7-1.7 1.7-1.7 1.7-1.6 1.7-1.6 1.7-1.6 1.7-1.5 1.8-1.4 1.7-1.5 1.7-1.3 1.8-1.3 1.7-1.3 1.7-1.1 1.8-1.2 1.7-1 1.7-1 1.8-1 1.7-.9 1.8-.8 1.7-.7 1.8-.7 1.7-.6 1.8-.6 1.7-.4 1.8-.5 1.7-.3 1.8-.3 1.7-.2 1.8-.1 1.7-.1 1.8 0 1.7 .1 1.8 .1 1.7 .2 1.8 .2 1.7 .3 1.8 .4 1.7 .4 1.8 .5 1.7 .6 1.8 .6 1.7 .6 1.8 .7 1.7 .8 1.8 .8 1.7 .8 1.7 .9 1.8 .9 1.7 1 1.7 1 1.8 1 1.7 1.1 1.7 1.1 1.7 1.1 1.7 1.1 1.8 1.2 1.7 1.1 1.7 1.2 1.7 1.2 1.7 1.2M514.7 265.8l1.7-1.8 1.7-1.9 1.7-1.8 1.7-1.8 1.7-1.7 1.7-1.7 1.7-1.7 1.7-1.6 1.8-1.6 1.7-1.6 1.7-1.5 1.7-1.5 1.8-1.4 1.7-1.3 1.7-1.3 1.8-1.3 1.7-1.1 1.8-1.2 1.7-1 1.7-1 1.8-1 1.7-.8 1.8-.8 1.7-.8 1.8-.7 1.7-.6 1.8-.5 1.7-.5 1.8-.4 1.8-.3 1.7-.3 1.8-.2 1.7-.1 1.8-.1 1.7 0 1.8 .1 1.8 .1 1.7 .2 1.8 .3 1.7 .3 1.8 .4 1.7 .4 1.8 .5 1.7 .6 1.8 .6 1.7 .7 1.8 .7 1.7 .8 1.7 .8 1.8 .8 1.7 .9 1.8 1 1.7 1 1.7 1 1.8 1 1.7 1.1 1.7 1.1 1.7 1.1 1.8 1.2 1.7 1.2 1.7 1.2 1.7 1.1 1.7 1.3 1.7 1.2M515.9 266.6l1.7-1.9 1.7-1.8 1.7-1.8 1.7-1.8 1.7-1.8 1.8-1.7 1.7-1.7 1.7-1.6 1.7-1.6 1.8-1.6 1.7-1.5 1.7-1.4 1.7-1.4 1.8-1.4 1.7-1.3 1.8-1.2 1.7-1.2 1.8-1.1 1.7-1.1 1.7-1 1.8-.9 1.7-.9 1.8-.8 1.8-.7 1.7-.7 1.8-.6 1.7-.5 1.8-.5 1.7-.4 1.8-.3 1.8-.3 1.7-.1 1.8-.2 1.7 0 1.8 0 1.8 .1 1.7 .1 1.8 .2 1.7 .3 1.8 .3 1.7 .4 1.8 .5 1.8 .5 1.7 .6 1.8 .6 1.7 .7 1.8 .7 1.7 .8 1.7 .8 1.8 .9 1.7 .9 1.8 .9 1.7 1 1.7 1.1 1.8 1 1.7 1.1 1.7 1.2 1.8 1.1 1.7 1.2 1.7 1.2 1.7 1.2 1.7 1.2 1.7 1.2 1.8 1.2M517.1 267.4l1.7-1.8 1.7-1.9 1.8-1.8 1.7-1.8 1.7-1.7 1.7-1.7 1.7-1.7 1.8-1.6 1.7-1.6 1.7-1.6 1.8-1.5 1.7-1.5 1.7-1.4 1.8-1.3 1.7-1.3 1.8-1.3 1.7-1.1 1.7-1.2 1.8-1 1.8-1 1.7-.9 1.8-.9 1.7-.8 1.8-.7 1.7-.7 1.8-.6 1.8-.5 1.7-.5 1.8-.4 1.7-.3 1.8-.2 1.8-.2 1.7-.1 1.8-.1 1.8 0 1.7 .1 1.8 .2 1.7 .2 1.8 .3 1.8 .3 1.7 .4 1.8 .5 1.7 .5 1.8 .6 1.7 .6 1.8 .7 1.7 .8 1.8 .8 1.7 .8 1.8 .9 1.7 .9 1.8 1 1.7 1 1.7 1 1.8 1.1 1.7 1.1 1.7 1.2 1.8 1.1 1.7 1.2 1.7 1.2 1.7 1.2 1.7 1.3 1.8 1.2 1.7 1.2M518.4 268.5l1.7-1.9 1.7-1.8 1.7-1.8 1.7-1.8 1.7-1.8 1.8-1.7 1.7-1.7 1.7-1.6 1.8-1.6 1.7-1.6 1.7-1.5 1.8-1.5 1.7-1.4 1.8-1.3 1.7-1.3 1.7-1.3 1.8-1.1 1.8-1.2 1.7-1 1.8-1 1.7-.9 1.8-.9 1.7-.8 1.8-.7 1.8-.7 1.7-.6 1.8-.5 1.7-.4 1.8-.4 1.8-.3 1.7-.3 1.8-.2 1.8-.1 1.7 0 1.8 0 1.8 .1 1.7 .2 1.8 .2 1.8 .3 1.7 .3 1.8 .4 1.7 .5 1.8 .5 1.8 .6 1.7 .7 1.8 .7 1.7 .7 1.8 .8 1.7 .9 1.8 .9 1.7 .9 1.8 1 1.7 1 1.7 1.1 1.8 1.1 1.7 1.1 1.7 1.2 1.8 1.1 1.7 1.2 1.7 1.2 1.7 1.3 1.8 1.2 1.7 1.3 1.7 1.2M519.6 269.7l1.7-1.9 1.7-1.8 1.7-1.8 1.8-1.8 1.7-1.8 1.7-1.7 1.8-1.7 1.7-1.7 1.7-1.6 1.8-1.5 1.7-1.6 1.7-1.4 1.8-1.4 1.7-1.4 1.8-1.3 1.7-1.2 1.8-1.2 1.8-1.1 1.7-1.1 1.8-1 1.7-.9 1.8-.9 1.8-.8 1.7-.7 1.8-.6 1.8-.6 1.7-.5 1.8-.5 1.8-.4 1.7-.3 1.8-.2 1.8-.2 1.7-.1 1.8-.1 1.8 .1 1.7 .1 1.8 .1 1.8 .3 1.7 .3 1.8 .3 1.8 .4 1.7 .5 1.8 .6 1.7 .6 1.8 .6 1.8 .7 1.7 .8 1.8 .8 1.7 .9 1.8 .9 1.7 .9 1.8 1 1.7 1.1 1.7 1 1.8 1.1 1.7 1.2 1.7 1.1 1.8 1.2 1.7 1.2 1.7 1.3 1.8 1.2 1.7 1.3 1.7 1.2 1.7 1.3M520.8 271.1l1.7-1.9 1.8-1.9 1.7-1.8 1.7-1.8 1.7-1.8 1.8-1.7 1.7-1.7 1.7-1.7 1.8-1.6 1.7-1.5 1.8-1.6 1.7-1.4 1.8-1.4 1.7-1.4 1.8-1.3 1.7-1.2 1.8-1.2 1.8-1.2 1.7-1 1.8-1 1.7-.9 1.8-.9 1.8-.8 1.7-.7 1.8-.7 1.8-.6 1.7-.5 1.8-.4 1.8-.4 1.8-.3 1.7-.3 1.8-.2 1.8-.1 1.7 0 1.8 0 1.8 .2 1.8 .1 1.7 .3 1.8 .3 1.8 .3 1.7 .4 1.8 .5 1.8 .6 1.7 .6 1.8 .7 1.7 .7 1.8 .7 1.8 .9 1.7 .8 1.8 1 1.7 .9 1.7 1 1.8 1.1 1.7 1 1.8 1.2 1.7 1.1 1.7 1.2 1.8 1.2 1.7 1.2 1.7 1.2 1.8 1.3 1.7 1.3 1.7 1.2 1.7 1.3M522 272.6l1.8-1.9 1.7-1.9 1.7-1.8 1.8-1.8 1.7-1.8 1.7-1.8 1.8-1.7 1.7-1.6 1.8-1.6 1.7-1.6 1.8-1.5 1.7-1.5 1.8-1.4 1.7-1.4 1.8-1.3 1.7-1.3 1.8-1.1 1.8-1.2 1.7-1 1.8-1 1.8-1 1.7-.8 1.8-.8 1.8-.8 1.7-.6 1.8-.6 1.8-.5 1.8-.5 1.7-.4 1.8-.3 1.8-.2 1.8-.2 1.7-.1 1.8 0 1.8 0 1.7 .1 1.8 .2 1.8 .2 1.8 .3 1.7 .4 1.8 .4 1.8 .5 1.7 .6 1.8 .6 1.8 .7 1.7 .7 1.8 .8 1.7 .8 1.8 .9 1.7 .9 1.8 1 1.7 1 1.8 1 1.7 1.1 1.8 1.2 1.7 1.1 1.7 1.2 1.8 1.2 1.7 1.2 1.7 1.3 1.8 1.3 1.7 1.2 1.7 1.3 1.7 1.3M523.3 274.2l1.7-1.9 1.7-1.8 1.8-1.9 1.7-1.8 1.8-1.8 1.7-1.7 1.7-1.8 1.8-1.6 1.7-1.7 1.8-1.5 1.7-1.6 1.8-1.5 1.7-1.4 1.8-1.4 1.8-1.3 1.7-1.2 1.8-1.2 1.8-1.1 1.7-1.1 1.8-1 1.8-1 1.7-.8 1.8-.8 1.8-.8 1.8-.6 1.7-.6 1.8-.5 1.8-.5 1.8-.4 1.7-.3 1.8-.2 1.8-.2 1.8-.1 1.7 0 1.8 0 1.8 .1 1.8 .2 1.7 .2 1.8 .3 1.8 .4 1.8 .4 1.7 .5 1.8 .6 1.8 .6 1.7 .7 1.8 .7 1.8 .8 1.7 .8 1.8 .9 1.7 1 1.8 .9 1.7 1 1.8 1.1 1.7 1.1 1.8 1.1 1.7 1.2 1.7 1.2 1.8 1.2 1.7 1.3 1.7 1.2 1.8 1.3 1.7 1.3 1.7 1.3 1.7 1.3M524.5 276.1l1.8-1.9 1.7-1.9 1.7-1.9 1.8-1.8 1.7-1.8 1.8-1.8 1.7-1.7 1.7-1.7 1.8-1.6 1.8-1.6 1.7-1.6 1.8-1.5 1.7-1.4 1.8-1.4 1.8-1.3 1.7-1.3 1.8-1.2 1.8-1.1 1.7-1.1 1.8-1 1.8-.9 1.7-.9 1.8-.8 1.8-.7 1.8-.7 1.8-.6 1.7-.5 1.8-.5 1.8-.4 1.8-.3 1.8-.2 1.7-.2 1.8-.1 1.8 0 1.8 0 1.8 .1 1.7 .2 1.8 .2 1.8 .3 1.8 .4 1.7 .4 1.8 .5 1.8 .6 1.7 .6 1.8 .7 1.8 .7 1.7 .8 1.8 .8 1.8 .9 1.7 1 1.8 1 1.7 1 1.8 1 1.7 1.1 1.8 1.2 1.7 1.2 1.7 1.2 1.8 1.2 1.7 1.2 1.7 1.3 1.8 1.3 1.7 1.3 1.7 1.3 1.7 1.3M525.8 278l1.7-1.9 1.7-1.9 1.8-1.9 1.7-1.8 1.8-1.8 1.7-1.8 1.8-1.7 1.7-1.7 1.8-1.7 1.7-1.6 1.8-1.5 1.7-1.5 1.8-1.5 1.8-1.4 1.7-1.3 1.8-1.3 1.8-1.2 1.8-1.1 1.7-1.1 1.8-1 1.8-1 1.8-.9 1.7-.8 1.8-.7 1.8-.7 1.8-.6 1.8-.5 1.7-.5 1.8-.4 1.8-.3 1.8-.2 1.8-.2 1.8-.1 1.7-.1 1.8 .1 1.8 .1 1.8 .2 1.8 .2 1.7 .3 1.8 .4 1.8 .4 1.8 .5 1.7 .6 1.8 .6 1.8 .7 1.7 .7 1.8 .8 1.8 .8 1.7 .9 1.8 1 1.7 1 1.8 1 1.7 1.1 1.8 1.1 1.7 1.1 1.8 1.2 1.7 1.2 1.8 1.2 1.7 1.3 1.7 1.3 1.8 1.2 1.7 1.4 1.7 1.3 1.8 1.3M527 280.2l1.7-2 1.8-1.9 1.7-1.9 1.8-1.9 1.7-1.8 1.8-1.8 1.7-1.7 1.8-1.7 1.7-1.7 1.8-1.6 1.8-1.6 1.7-1.5 1.8-1.4 1.8-1.4 1.7-1.4 1.8-1.3 1.8-1.2 1.8-1.2 1.7-1 1.8-1.1 1.8-.9 1.8-.9 1.8-.8 1.7-.8 1.8-.7 1.8-.6 1.8-.5 1.8-.5 1.8-.4 1.7-.3 1.8-.3 1.8-.1 1.8-.1 1.8-.1 1.8 .1 1.8 .1 1.7 .1 1.8 .3 1.8 .3 1.8 .3 1.8 .5 1.7 .5 1.8 .5 1.8 .7 1.7 .6 1.8 .8 1.8 .8 1.7 .8 1.8 .9 1.8 .9 1.7 1 1.8 1.1 1.7 1 1.8 1.2 1.7 1.1 1.8 1.2 1.7 1.2 1.8 1.2 1.7 1.3 1.7 1.3 1.8 1.3 1.7 1.3 1.7 1.3 1.8 1.3M528.2 282.4l1.8-1.9 1.7-2 1.8-1.9 1.7-1.9 1.8-1.8 1.7-1.8 1.8-1.8 1.7-1.7 1.8-1.7 1.8-1.6 1.7-1.6 1.8-1.5 1.8-1.5 1.7-1.4 1.8-1.3 1.8-1.3 1.8-1.3 1.8-1.1 1.7-1.1 1.8-1.1 1.8-1 1.8-.9 1.8-.8 1.8-.7 1.7-.7 1.8-.7 1.8-.5 1.8-.5 1.8-.4 1.8-.3 1.8-.3 1.8-.1 1.7-.2 1.8 0 1.8 0 1.8 .1 1.8 .2 1.8 .2 1.7 .3 1.8 .4 1.8 .4 1.8 .5 1.8 .6 1.7 .6 1.8 .7 1.8 .7 1.7 .8 1.8 .9 1.8 .9 1.7 .9 1.8 1 1.8 1 1.7 1.1 1.8 1.1 1.7 1.2 1.8 1.1 1.7 1.3 1.7 1.2 1.8 1.3 1.7 1.2 1.8 1.4 1.7 1.3 1.7 1.3 1.7 1.3M529.5 284.8l1.7-1.9 1.8-2 1.7-1.9 1.8-1.9 1.7-1.9 1.8-1.8 1.7-1.8 1.8-1.7 1.8-1.7 1.7-1.7 1.8-1.6 1.8-1.5 1.8-1.5 1.7-1.4 1.8-1.4 1.8-1.3 1.8-1.2 1.8-1.2 1.7-1.1 1.8-1.1 1.8-1 1.8-.9 1.8-.8 1.8-.8 1.8-.7 1.7-.6 1.8-.6 1.8-.5 1.8-.4 1.8-.3 1.8-.3 1.8-.2 1.8-.1 1.8 0 1.8 0 1.7 .1 1.8 .1 1.8 .3 1.8 .3 1.8 .3 1.8 .5 1.7 .5 1.8 .5 1.8 .6 1.8 .7 1.7 .7 1.8 .8 1.8 .9 1.7 .9 1.8 .9 1.8 1 1.7 1 1.8 1.1 1.7 1.1 1.8 1.2 1.7 1.2 1.8 1.2 1.7 1.2 1.8 1.3 1.7 1.3 1.7 1.3 1.8 1.3 1.7 1.3 1.7 1.4M530.7 287.4l1.8-2 1.7-2 1.8-1.9 1.7-1.9 1.8-1.9 1.7-1.9 1.8-1.8 1.8-1.7 1.7-1.7 1.8-1.7 1.8-1.6 1.8-1.6 1.7-1.5 1.8-1.4 1.8-1.4 1.8-1.3 1.8-1.3 1.7-1.2 1.8-1.1 1.8-1.1 1.8-1 1.8-.9 1.8-.9 1.8-.7 1.8-.7 1.8-.7 1.8-.6 1.7-.4 1.8-.5 1.8-.3 1.8-.3 1.8-.2 1.8-.1 1.8-.1 1.8 0 1.8 .1 1.8 .2 1.8 .2 1.7 .3 1.8 .4 1.8 .4 1.8 .5 1.8 .5 1.8 .6 1.7 .7 1.8 .7 1.8 .8 1.7 .9 1.8 .9 1.8 .9 1.7 1 1.8 1 1.8 1.1 1.7 1.1 1.8 1.2 1.7 1.2 1.8 1.2 1.7 1.2 1.8 1.3 1.7 1.3 1.7 1.3 1.8 1.3 1.7 1.3 1.7 1.4M531.9 290.1l1.8-2 1.8-2 1.7-2 1.8-1.9 1.7-1.9 1.8-1.9 1.8-1.8 1.7-1.8 1.8-1.7 1.8-1.7 1.8-1.6 1.7-1.6 1.8-1.5 1.8-1.5 1.8-1.4 1.8-1.4 1.8-1.2 1.7-1.2 1.8-1.2 1.8-1.1 1.8-1 1.8-.9 1.8-.9 1.8-.8 1.8-.7 1.8-.7 1.8-.5 1.8-.5 1.8-.5 1.8-.3 1.8-.3 1.8-.2 1.7-.2 1.8 0 1.8 0 1.8 .1 1.8 .1 1.8 .2 1.8 .3 1.8 .4 1.8 .4 1.7 .5 1.8 .5 1.8 .6 1.8 .7 1.8 .7 1.7 .8 1.8 .8 1.8 .9 1.7 1 1.8 .9 1.8 1.1 1.7 1 1.8 1.2 1.7 1.1 1.8 1.2 1.7 1.2 1.8 1.3 1.7 1.2 1.8 1.3 1.7 1.3 1.8 1.3 1.7 1.4 1.7 1.3M533.2 292.9l1.7-2 1.8-2.1 1.8-1.9 1.7-2 1.8-1.9 1.8-1.9 1.7-1.9 1.8-1.8 1.8-1.7 1.7-1.7 1.8-1.7 1.8-1.6 1.8-1.5 1.8-1.5 1.8-1.4 1.7-1.4 1.8-1.3 1.8-1.2 1.8-1.2 1.8-1 1.8-1.1 1.8-.9 1.8-.9 1.8-.8 1.8-.8 1.8-.6 1.8-.6 1.8-.5 1.8-.5 1.8-.4 1.8-.2 1.8-.3 1.8-.1 1.8-.1 1.8 0 1.8 .1 1.8 .1 1.7 .2 1.8 .3 1.8 .3 1.8 .4 1.8 .5 1.8 .6 1.8 .6 1.7 .6 1.8 .7 1.8 .8 1.8 .9 1.7 .8 1.8 1 1.8 1 1.7 1 1.8 1 1.8 1.2 1.7 1.1 1.8 1.2 1.7 1.2 1.8 1.2 1.7 1.3 1.8 1.3 1.7 1.3 1.7 1.3 1.8 1.4 1.7 1.3M534.4 295.9l1.8-2.1 1.7-2.1 1.8-2 1.8-2 1.7-1.9 1.8-1.9 1.8-1.9 1.8-1.8 1.7-1.8 1.8-1.7 1.8-1.7 1.8-1.6 1.8-1.5 1.8-1.6 1.7-1.4 1.8-1.4 1.8-1.3 1.8-1.2 1.8-1.2 1.8-1.1 1.8-1.1 1.8-.9 1.8-.9 1.8-.9 1.8-.7 1.8-.7 1.8-.6 1.8-.5 1.8-.5 1.8-.4 1.8-.3 1.8-.2 1.8-.2 1.8-.1 1.8 0 1.8 0 1.8 .2 1.8 .2 1.8 .2 1.8 .4 1.8 .4 1.7 .4 1.8 .6 1.8 .6 1.8 .6 1.8 .7 1.8 .8 1.7 .8 1.8 .9 1.8 .9 1.7 1 1.8 1 1.8 1.1 1.7 1.1 1.8 1.1 1.7 1.2 1.8 1.2 1.7 1.3 1.8 1.2 1.7 1.3 1.8 1.3 1.7 1.3 1.8 1.4 1.7 1.3M535.6 298.9l1.8-2.1 1.8-2 1.7-2.1 1.8-2 1.8-1.9 1.8-2 1.7-1.9 1.8-1.8 1.8-1.8 1.8-1.8 1.8-1.7 1.7-1.6 1.8-1.6 1.8-1.5 1.8-1.5 1.8-1.4 1.8-1.3 1.8-1.3 1.8-1.2 1.8-1.1 1.8-1.1 1.8-1 1.8-.9 1.8-.8 1.8-.8 1.8-.7 1.8-.6 1.8-.6 1.8-.5 1.8-.4 1.8-.3 1.8-.2 1.8-.2 1.8-.1 1.8 0 1.8 0 1.8 .1 1.8 .2 1.8 .3 1.8 .3 1.8 .4 1.8 .4 1.8 .6 1.8 .5 1.7 .7 1.8 .7 1.8 .7 1.8 .9 1.8 .8 1.7 1 1.8 .9 1.8 1 1.7 1.1 1.8 1.1 1.8 1.1 1.7 1.2 1.8 1.2 1.7 1.2 1.8 1.3 1.7 1.3 1.8 1.3 1.7 1.3 1.7 1.3 1.8 1.4M536.9 302.1l1.7-2.1 1.8-2.1 1.8-2 1.8-2.1 1.7-2 1.8-1.9 1.8-2 1.8-1.8 1.8-1.9 1.7-1.7 1.8-1.8 1.8-1.6 1.8-1.6 1.8-1.6 1.8-1.5 1.8-1.4 1.8-1.3 1.8-1.3 1.8-1.3 1.8-1.1 1.8-1.1 1.8-1 1.8-.9 1.8-.9 1.8-.8 1.8-.7 1.8-.7 1.8-.5 1.8-.5 1.8-.4 1.8-.4 1.8-.2 1.8-.2 1.9-.2 1.8 0 1.8 0 1.8 .1 1.8 .2 1.7 .2 1.8 .4 1.8 .3 1.8 .5 1.8 .5 1.8 .6 1.8 .6 1.8 .7 1.8 .7 1.7 .8 1.8 .9 1.8 .9 1.8 1 1.7 1 1.8 1 1.8 1.1 1.7 1.2 1.8 1.1 1.7 1.2 1.8 1.2 1.7 1.3 1.8 1.3 1.7 1.3 1.8 1.3 1.7 1.3 1.8 1.3M538.1 305.5l1.8-2.2 1.7-2.1 1.8-2.1 1.8-2.1 1.8-2 1.8-2 1.7-1.9 1.8-1.9 1.8-1.9 1.8-1.8 1.8-1.7 1.8-1.7 1.8-1.7 1.8-1.5 1.8-1.6 1.8-1.4 1.8-1.4 1.8-1.3 1.8-1.2 1.8-1.2 1.8-1.1 1.8-1.1 1.8-.9 1.8-.9 1.8-.8 1.8-.8 1.8-.6 1.8-.6 1.8-.5 1.8-.5 1.9-.3 1.8-.3 1.8-.2 1.8-.1 1.8-.1 1.8 0 1.8 .1 1.8 .2 1.8 .2 1.8 .3 1.8 .3 1.8 .5 1.8 .5 1.7 .5 1.8 .7 1.8 .6 1.8 .8 1.8 .8 1.8 .8 1.7 .9 1.8 1 1.8 1 1.8 1 1.7 1.1 1.8 1.1 1.7 1.2 1.8 1.2 1.8 1.2 1.7 1.2 1.8 1.3 1.7 1.3 1.7 1.3 1.8 1.3 1.7 1.3M539.3 308.9l1.8-2.2 1.8-2.1 1.8-2.2 1.7-2.1 1.8-2 1.8-2.1 1.8-1.9 1.8-2 1.8-1.8 1.7-1.9 1.8-1.7 1.8-1.8 1.8-1.6 1.8-1.6 1.8-1.6 1.8-1.4 1.8-1.4 1.8-1.4 1.9-1.2 1.8-1.3 1.8-1.1 1.8-1 1.8-1 1.8-.9 1.8-.9 1.8-.7 1.8-.7 1.8-.6 1.8-.5 1.9-.5 1.8-.4 1.8-.3 1.8-.2 1.8-.2 1.8 0 1.8 0 1.8 0 1.8 .2 1.8 .2 1.8 .3 1.8 .3 1.8 .4 1.8 .5 1.8 .5 1.8 .7 1.8 .6 1.7 .8 1.8 .7 1.8 .9 1.8 .9 1.8 .9 1.7 1 1.8 1 1.8 1.1 1.7 1.1 1.8 1.2 1.8 1.1 1.7 1.3 1.8 1.2 1.7 1.3 1.8 1.2 1.7 1.3 1.8 1.3 1.7 1.4M540.6 312.4l1.7-2.2 1.8-2.2 1.8-2.1 1.8-2.2 1.7-2.1 1.8-2 1.8-2 1.8-2 1.8-1.9 1.8-1.8 1.8-1.8 1.8-1.8 1.8-1.7 1.8-1.6 1.8-1.6 1.8-1.5 1.8-1.4 1.8-1.4 1.8-1.3 1.8-1.2 1.8-1.2 1.9-1 1.8-1 1.8-1 1.8-.8 1.8-.8 1.8-.7 1.8-.7 1.8-.5 1.9-.5 1.8-.4 1.8-.3 1.8-.3 1.8-.1 1.8-.1 1.8-.1 1.8 .1 1.8 .1 1.8 .2 1.8 .3 1.8 .3 1.8 .4 1.8 .5 1.8 .5 1.8 .6 1.8 .7 1.8 .7 1.8 .7 1.8 .9 1.7 .8 1.8 1 1.8 .9 1.8 1.1 1.7 1 1.8 1.1 1.8 1.2 1.7 1.1 1.8 1.2 1.7 1.3 1.8 1.2 1.7 1.3 1.8 1.3 1.7 1.3 1.8 1.3M541.8 316.1l1.8-2.3 1.7-2.2 1.8-2.2 1.8-2.2 1.8-2.1 1.8-2.1 1.8-2 1.8-2 1.8-1.9 1.8-1.9 1.8-1.9 1.8-1.7 1.8-1.8 1.8-1.6 1.8-1.6 1.8-1.6 1.8-1.4 1.8-1.4 1.8-1.3 1.8-1.3 1.8-1.2 1.8-1.1 1.9-1 1.8-1 1.8-.9 1.8-.8 1.8-.7 1.8-.6 1.8-.6 1.9-.5 1.8-.4 1.8-.4 1.8-.3 1.8-.2 1.8-.1 1.8 0 1.8 0 1.8 .1 1.9 .2 1.8 .2 1.8 .4 1.8 .3 1.8 .5 1.8 .5 1.7 .6 1.8 .6 1.8 .7 1.8 .8 1.8 .8 1.8 .8 1.8 1 1.7 .9 1.8 1 1.8 1.1 1.8 1.1 1.7 1.1 1.8 1.1 1.7 1.2 1.8 1.3 1.8 1.2 1.7 1.3 1.8 1.2 1.7 1.3 1.7 1.3M543 319.8l1.8-2.3 1.8-2.2 1.7-2.3 1.8-2.2 1.8-2.1 1.8-2.1 1.8-2.1 1.8-2 1.8-2 1.8-1.9 1.8-1.9 1.8-1.8 1.8-1.8 1.8-1.7 1.8-1.6 1.8-1.6 1.8-1.4 1.9-1.5 1.8-1.3 1.8-1.3 1.8-1.2 1.8-1.2 1.8-1 1.9-1 1.8-.9 1.8-.8 1.8-.8 1.8-.7 1.8-.6 1.9-.5 1.8-.5 1.8-.3 1.8-.3 1.8-.2 1.8-.2 1.8 0 1.9 0 1.8 .1 1.8 .1 1.8 .2 1.8 .3 1.8 .4 1.8 .4 1.8 .5 1.8 .6 1.8 .6 1.8 .7 1.8 .7 1.7 .8 1.8 .9 1.8 .9 1.8 .9 1.8 1 1.7 1 1.8 1.1 1.8 1.1 1.7 1.2 1.8 1.1 1.8 1.2 1.7 1.3 1.8 1.2 1.7 1.3 1.8 1.3 1.7 1.3M544.2 323.6l1.8-2.3 1.8-2.3 1.8-2.3 1.7-2.2 1.8-2.2 1.8-2.1 1.8-2.2 1.8-2 1.8-2 1.8-2 1.8-1.9 1.9-1.8 1.8-1.8 1.8-1.7 1.8-1.7 1.8-1.6 1.8-1.5 1.8-1.5 1.8-1.4 1.9-1.3 1.8-1.2 1.8-1.2 1.8-1.1 1.8-1 1.9-.9 1.8-.9 1.8-.8 1.8-.7 1.8-.6 1.9-.5 1.8-.5 1.8-.4 1.8-.3 1.8-.3 1.8-.1 1.9-.1 1.8 0 1.8 0 1.8 .2 1.8 .2 1.8 .2 1.8 .4 1.8 .4 1.8 .5 1.8 .5 1.8 .6 1.8 .7 1.8 .7 1.8 .8 1.8 .8 1.7 .9 1.8 .9 1.8 1 1.8 1 1.8 1.1 1.7 1.1 1.8 1.1 1.8 1.1 1.7 1.2 1.8 1.3 1.7 1.2 1.8 1.2 1.7 1.3 1.8 1.3M545.4 327.6l1.8-2.4 1.8-2.4 1.8-2.3 1.8-2.2 1.8-2.3 1.8-2.2 1.8-2.1 1.8-2.1 1.8-2.1 1.8-2 1.8-1.9 1.8-1.9 1.8-1.8 1.8-1.8 1.8-1.6 1.9-1.7 1.8-1.5 1.8-1.5 1.8-1.4 1.8-1.4 1.8-1.3 1.9-1.2 1.8-1.1 1.8-1 1.8-1 1.9-.9 1.8-.8 1.8-.7 1.8-.7 1.9-.6 1.8-.5 1.8-.4 1.8-.3 1.8-.3 1.8-.2 1.9-.1 1.8 0 1.8 0 1.8 .1 1.8 .2 1.8 .3 1.8 .3 1.8 .4 1.8 .4 1.8 .5 1.8 .6 1.8 .7 1.8 .7 1.8 .7 1.8 .8 1.8 .9 1.8 .9 1.7 1 1.8 1 1.8 1 1.8 1.1 1.7 1.1 1.8 1.2 1.8 1.1 1.7 1.2 1.8 1.2 1.7 1.3 1.8 1.2 1.7 1.3M546.6 331.5l1.8-2.4 1.8-2.4 1.8-2.3 1.8-2.3 1.8-2.3 1.8-2.2 1.8-2.2 1.8-2.1 1.8-2.1 1.8-2.1 1.8-1.9 1.8-2 1.9-1.8 1.8-1.8 1.8-1.7 1.8-1.7 1.8-1.6 1.8-1.5 1.9-1.5 1.8-1.3 1.8-1.4 1.8-1.2 1.9-1.1 1.8-1.1 1.8-1 1.8-.9 1.9-.9 1.8-.7 1.8-.7 1.8-.6 1.9-.6 1.8-.4 1.8-.4 1.8-.3 1.9-.2 1.8-.1 1.8-.1 1.8 0 1.8 .1 1.8 .2 1.8 .2 1.8 .3 1.9 .4 1.8 .4 1.8 .5 1.8 .5 1.8 .7 1.8 .6 1.7 .8 1.8 .8 1.8 .8 1.8 .9 1.8 .9 1.8 1 1.7 1.1 1.8 1 1.8 1.1 1.8 1.1 1.7 1.2 1.8 1.2 1.7 1.2 1.8 1.2 1.8 1.2 1.7 1.3M547.8 335.6l1.8-2.5 1.8-2.4 1.8-2.4 1.8-2.3 1.8-2.3 1.8-2.3 1.8-2.2 1.8-2.2 1.8-2.2 1.8-2 1.9-2 1.8-2 1.8-1.9 1.8-1.8 1.8-1.8 1.9-1.7 1.8-1.6 1.8-1.6 1.8-1.5 1.8-1.4 1.9-1.3 1.8-1.3 1.8-1.2 1.9-1.1 1.8-1 1.8-1 1.8-.8 1.9-.8 1.8-.8 1.8-.6 1.9-.5 1.8-.5 1.8-.4 1.8-.3 1.9-.3 1.8-.2 1.8-.1 1.8 0 1.8 .1 1.8 .1 1.9 .2 1.8 .3 1.8 .3 1.8 .4 1.8 .5 1.8 .6 1.8 .6 1.8 .6 1.8 .7 1.8 .8 1.8 .8 1.7 .9 1.8 .9 1.8 1 1.8 1 1.8 1 1.7 1.1 1.8 1.1 1.8 1.2 1.7 1.1 1.8 1.2 1.8 1.2 1.7 1.2 1.8 1.3M549 339.7l1.8-2.5 1.8-2.5 1.8-2.4 1.8-2.4 1.8-2.3 1.8-2.4 1.8-2.2 1.8-2.3 1.9-2.1 1.8-2.1 1.8-2.1 1.8-2 1.8-1.9 1.8-1.9 1.9-1.8 1.8-1.7 1.8-1.7 1.8-1.6 1.9-1.5 1.8-1.5 1.8-1.4 1.9-1.3 1.8-1.2 1.8-1.1 1.9-1.1 1.8-1 1.8-.9 1.9-.8 1.8-.8 1.8-.6 1.8-.6 1.9-.5 1.8-.5 1.8-.3 1.8-.3 1.9-.2 1.8-.1 1.8-.1 1.8 .1 1.9 .1 1.8 .2 1.8 .2 1.8 .3 1.8 .4 1.8 .5 1.8 .5 1.8 .5 1.8 .7 1.8 .7 1.8 .7 1.8 .8 1.8 .9 1.8 .9 1.8 .9 1.7 1 1.8 1 1.8 1.1 1.8 1.1 1.7 1.1 1.8 1.1 1.8 1.2 1.7 1.2 1.8 1.2 1.7 1.2M550.2 343.9l1.8-2.6 1.8-2.5 1.8-2.5 1.8-2.4 1.8-2.4 1.8-2.4 1.8-2.3 1.9-2.2 1.8-2.3 1.8-2.1 1.8-2.1 1.8-2.1 1.9-1.9 1.8-1.9 1.8-1.9 1.8-1.8 1.9-1.7 1.8-1.6 1.8-1.6 1.9-1.5 1.8-1.4 1.8-1.3 1.9-1.3 1.8-1.2 1.8-1.1 1.9-1 1.8-.9 1.8-.9 1.9-.8 1.8-.7 1.8-.6 1.9-.5 1.8-.5 1.8-.4 1.8-.3 1.9-.2 1.8-.2 1.8 0 1.8 0 1.9 0 1.8 .2 1.8 .2 1.8 .3 1.8 .3 1.8 .5 1.8 .5 1.8 .5 1.8 .6 1.8 .7 1.8 .7 1.8 .8 1.8 .8 1.8 .9 1.8 .9 1.8 1 1.8 1 1.7 1 1.8 1.1 1.8 1.1 1.8 1.1 1.7 1.1 1.8 1.2 1.7 1.2 1.8 1.2M551.4 348.1l1.8-2.6 1.8-2.6 1.8-2.5 1.8-2.5 1.8-2.4 1.8-2.4 1.9-2.4 1.8-2.3 1.8-2.3 1.8-2.2 1.8-2.1 1.9-2.1 1.8-2 1.8-2 1.8-1.9 1.9-1.8 1.8-1.7 1.8-1.7 1.9-1.6 1.8-1.5 1.8-1.5 1.9-1.4 1.8-1.3 1.9-1.2 1.8-1.1 1.8-1.1 1.9-1 1.8-.9 1.8-.8 1.9-.7 1.8-.7 1.8-.5 1.9-.5 1.8-.5 1.8-.3 1.9-.3 1.8-.1 1.8-.1 1.8-.1 1.9 .1 1.8 .1 1.8 .2 1.8 .2 1.8 .4 1.8 .4 1.9 .4 1.8 .5 1.8 .6 1.8 .7 1.8 .7 1.8 .7 1.8 .8 1.7 .9 1.8 .9 1.8 .9 1.8 1 1.8 1 1.8 1 1.7 1.1 1.8 1.1 1.8 1.1 1.7 1.2 1.8 1.1 1.8 1.2M493.7 278.2l1.1-1.8 1.1-1.8 1.1-1.6 1.1-1.5 1.2-1.3 1.1-1.2 1.2-1.1 1.1-.9 1.2-.8 1.2-.7 1.2-.5 1.2-.3 1.1-.2 1.2 0 1.2 .1 1.3 .2 1.2 .4 1.2 .6 1.2 .8 1.2 .8 1.3 1.1 1.2 1.2 1.2 1.4 1.2 1.5 1.3 1.6 1.2 1.9 1.3 1.9 1.2 2.2 1.2 2.2 1.3 2.4 1.2 2.6 1.2 2.7 1.3 2.8 1.2 3 1.2 3 1.3 3.2 1.2 3.4 1.2 3.4 1.3 3.5 1.2 3.7 1.2 3.7 1.2 3.8 1.2 4 1.2 3.9 1.2 4.1 1.2 4.1 1.2 4.2 1.2 4.2M495.3 276.1l1.1-1.8 1.1-1.7 1.1-1.6 1.2-1.4 1.1-1.4 1.2-1.2 1.1-1 1.2-.9 1.2-.8 1.1-.6 1.2-.5 1.2-.4 1.2-.2 1.2 0 1.2 .1 1.2 .3 1.3 .4 1.2 .6 1.2 .7 1.2 .9 1.3 1 1.2 1.2 1.2 1.4 1.3 1.5 1.2 1.6 1.3 1.9 1.2 1.9 1.2 2.1 1.3 2.3 1.2 2.4 1.3 2.5 1.2 2.7 1.2 2.8 1.3 2.9 1.2 3 1.2 3.2 1.3 3.3 1.2 3.4 1.2 3.5 1.3 3.6 1.2 3.7 1.2 3.8 1.2 3.9 1.2 3.9 1.2 4 1.2 4.1 1.2 4.1 1.2 4.2M496.9 274.1l1.1-1.8 1.1-1.7 1.1-1.6 1.2-1.4 1.1-1.3 1.2-1.2 1.2-1 1.1-.9 1.2-.8 1.2-.6 1.2-.5 1.2-.3 1.2-.2 1.2-.1 1.2 .2 1.2 .2 1.3 .5 1.2 .5 1.2 .8 1.2 .8 1.3 1.1 1.2 1.2 1.3 1.3 1.2 1.5 1.2 1.7 1.3 1.8 1.2 1.9 1.3 2.1 1.2 2.2 1.3 2.4 1.2 2.5 1.3 2.7 1.2 2.7 1.2 2.9 1.3 3.1 1.2 3.1 1.2 3.3 1.3 3.4 1.2 3.4 1.2 3.6 1.3 3.7 1.2 3.7 1.2 3.8 1.2 3.9 1.2 4 1.2 4 1.2 4.1 1.2 4.1M498.5 272.1l1.1-1.8 1.1-1.7 1.2-1.5 1.1-1.4 1.2-1.3 1.1-1.2 1.2-1 1.2-.9 1.2-.8 1.2-.6 1.2-.4 1.2-.4 1.2-.1 1.2-.1 1.2 .2 1.2 .2 1.3 .4 1.2 .6 1.2 .8 1.3 .8 1.2 1.1 1.2 1.2 1.3 1.3 1.2 1.5 1.3 1.6 1.2 1.8 1.3 1.9 1.2 2.1 1.3 2.2 1.2 2.4 1.3 2.5 1.2 2.6 1.3 2.8 1.2 2.8 1.2 3 1.3 3.2 1.2 3.2 1.3 3.3 1.2 3.5 1.2 3.5 1.2 3.6 1.3 3.7 1.2 3.8 1.2 3.9 1.2 3.9 1.2 4 1.2 4 1.2 4.1M500 270.1l1.2-1.8 1.1-1.6 1.2-1.5 1.1-1.4 1.2-1.3 1.2-1.2 1.2-1 1.1-.8 1.2-.8 1.2-.6 1.2-.5 1.2-.3 1.3-.1 1.2-.1 1.2 .2 1.2 .2 1.3 .5 1.2 .5 1.2 .8 1.3 .8 1.2 1.1 1.3 1.2 1.2 1.3 1.3 1.5 1.2 1.6 1.3 1.8 1.2 1.9 1.3 2 1.2 2.2 1.3 2.4 1.2 2.5 1.3 2.6 1.2 2.7 1.3 2.8 1.2 3 1.3 3.1 1.2 3.2 1.2 3.3 1.3 3.4 1.2 3.5 1.2 3.6 1.2 3.7 1.3 3.8 1.2 3.8 1.2 3.9 1.2 3.9 1.2 4 1.2 4M501.6 268.1l1.2-1.7 1.1-1.6 1.2-1.5 1.2-1.4 1.1-1.3 1.2-1.1 1.2-1 1.2-.9 1.2-.7 1.2-.6 1.2-.4 1.2-.3 1.2-.2 1.3 0 1.2 .1 1.2 .3 1.3 .4 1.2 .6 1.2 .7 1.3 .9 1.2 1 1.3 1.2 1.2 1.3 1.3 1.5 1.3 1.6 1.2 1.8 1.3 1.9 1.2 2 1.3 2.2 1.2 2.3 1.3 2.5 1.2 2.6 1.3 2.7 1.2 2.8 1.3 3 1.2 3 1.3 3.2 1.2 3.3 1.2 3.3 1.3 3.5 1.2 3.6 1.2 3.6 1.3 3.7 1.2 3.8 1.2 3.9 1.2 3.9 1.2 3.9 1.2 4M504.4 264.5l1.2-1.6 1.1-1.5 1.2-1.4 1.2-1.2 1.2-1.1 1.2-1 1.2-.9 1.2-.7 1.2-.5 1.2-.5 1.2-.3 1.2-.1 1.3 0 1.2 .1 1.2 .3 1.3 .4 1.2 .6 1.3 .7 1.2 .9 1.3 1 1.2 1.2 1.3 1.3 1.2 1.4 1.3 1.7 1.3 1.7 1.2 1.9 1.3 2 1.2 2.2 1.3 2.3 1.2 2.4 1.3 2.6 1.3 2.7 1.2 2.8 1.3 2.9 1.2 3.1 1.3 3.1 1.2 3.2 1.2 3.4 1.3 3.4 1.2 3.6 1.2 3.6 1.3 3.6 1.2 3.8 1.2 3.8 1.2 3.8 1.2 3.9 1.2 4M504.9 264.3l1.1-1.7 1.2-1.6 1.2-1.5 1.1-1.3 1.2-1.2 1.2-1.1 1.2-1 1.2-.8 1.2-.7 1.2-.6 1.3-.4 1.2-.3 1.2-.1 1.3 0 1.2 .1 1.2 .3 1.3 .4 1.2 .6 1.3 .7 1.2 .9 1.3 1 1.3 1.2 1.2 1.3 1.3 1.4 1.2 1.6 1.3 1.8 1.3 1.9 1.2 2 1.3 2.1 1.2 2.3 1.3 2.4 1.3 2.6 1.2 2.6 1.3 2.8 1.2 2.9 1.3 3 1.2 3.2 1.3 3.2 1.2 3.3 1.3 3.4 1.2 3.5 1.2 3.5 1.3 3.7 1.2 3.7 1.2 3.8 1.2 3.8 1.2 3.8 1.3 3.9M507.6 260.7l1.2-1.5 1.2-1.5 1.2-1.3 1.2-1.2 1.2-1.1 1.2-.9 1.2-.8 1.2-.7 1.2-.6 1.2-.4 1.3-.3 1.2-.1 1.3 0 1.2 .1 1.2 .3 1.3 .5 1.2 .6 1.3 .7 1.3 .9 1.2 1 1.3 1.1 1.2 1.3 1.3 1.5 1.3 1.6 1.2 1.7 1.3 1.9 1.3 2 1.2 2.1 1.3 2.3 1.3 2.4 1.2 2.5 1.3 2.6 1.3 2.8 1.2 2.9 1.3 3 1.2 3.1 1.3 3.1 1.2 3.3 1.3 3.4 1.2 3.5 1.2 3.5 1.3 3.6 1.2 3.7 1.2 3.7 1.2 3.7 1.3 3.9 1.2 3.8M508.1 260.5l1.2-1.6 1.1-1.5 1.2-1.4 1.2-1.3 1.2-1.2 1.2-1.1 1.2-.9 1.2-.8 1.3-.7 1.2-.5 1.2-.4 1.3-.3 1.2-.1 1.3 0 1.2 .1 1.3 .3 1.2 .5 1.3 .6 1.2 .7 1.3 .9 1.3 1 1.2 1.1 1.3 1.3 1.3 1.5 1.2 1.5 1.3 1.8 1.3 1.8 1.2 2 1.3 2.1 1.3 2.3 1.2 2.4 1.3 2.5 1.3 2.6 1.2 2.7 1.3 2.9 1.3 2.9 1.2 3.1 1.3 3.2 1.2 3.2 1.3 3.4 1.2 3.4 1.2 3.5 1.3 3.5 1.2 3.7 1.2 3.6 1.3 3.8 1.2 3.7 1.2 3.8M510.9 257.1l1.2-1.5 1.2-1.4 1.2-1.2 1.2-1.2 1.2-1 1.2-1 1.2-.7 1.2-.7 1.3-.5 1.2-.4 1.3-.3 1.2-.1 1.3 0 1.2 .2 1.3 .3 1.2 .4 1.3 .6 1.3 .7 1.2 .9 1.3 1 1.3 1.2 1.2 1.3 1.3 1.4 1.3 1.6 1.3 1.7 1.2 1.8 1.3 2 1.3 2.1 1.2 2.2 1.3 2.4 1.3 2.5 1.2 2.6 1.3 2.7 1.3 2.8 1.2 3 1.3 3 1.2 3.1 1.3 3.3 1.3 3.3 1.2 3.4 1.2 3.4 1.3 3.5 1.2 3.6 1.2 3.7 1.3 3.7 1.2 3.7 1.2 3.7M511.3 257l1.2-1.6 1.2-1.5 1.2-1.3 1.2-1.3 1.2-1.1 1.2-1.1 1.3-.9 1.2-.7 1.2-.7 1.3-.5 1.2-.4 1.3-.2 1.2-.1 1.3 0 1.2 .2 1.3 .3 1.2 .4 1.3 .6 1.3 .7 1.3 .9 1.2 1 1.3 1.1 1.3 1.3 1.3 1.5 1.2 1.5 1.3 1.7 1.3 1.9 1.3 1.9 1.2 2.1 1.3 2.2 1.3 2.4 1.3 2.5 1.2 2.5 1.3 2.7 1.3 2.8 1.2 2.9 1.3 3.1 1.2 3.1 1.3 3.2 1.3 3.2 1.2 3.4 1.2 3.4 1.3 3.5 1.2 3.6 1.3 3.6 1.2 3.6 1.2 3.7 1.2 3.7M514.1 253.7l1.2-1.4 1.3-1.4 1.2-1.2 1.2-1.1 1.2-1 1.2-.9 1.3-.8 1.2-.6 1.3-.5 1.2-.4 1.3-.2 1.2-.1 1.3 0 1.2 .2 1.3 .3 1.3 .5 1.2 .5 1.3 .8 1.3 .8 1.3 1 1.2 1.2 1.3 1.3 1.3 1.4 1.3 1.5 1.3 1.7 1.2 1.9 1.3 1.9 1.3 2.1 1.3 2.2 1.3 2.3 1.2 2.5 1.3 2.5 1.3 2.7 1.2 2.8 1.3 2.9 1.3 3 1.2 3 1.3 3.2 1.3 3.3 1.2 3.3 1.3 3.4 1.2 3.4 1.2 3.5 1.3 3.6 1.2 3.6 1.2 3.6 1.3 3.7M515.8 252.1l1.2-1.4 1.2-1.4 1.2-1.2 1.2-1.1 1.3-1 1.2-.8 1.2-.8 1.3-.6 1.2-.5 1.3-.3 1.3-.3 1.2 0 1.3 0 1.2 .2 1.3 .3 1.3 .4 1.3 .6 1.2 .8 1.3 .8 1.3 1 1.3 1.2 1.3 1.3 1.3 1.4 1.2 1.5 1.3 1.7 1.3 1.8 1.3 2 1.3 2 1.3 2.2 1.2 2.3 1.3 2.5 1.3 2.5 1.3 2.7 1.2 2.7 1.3 2.9 1.3 2.9 1.2 3.1 1.3 3.1 1.3 3.2 1.2 3.3 1.3 3.4 1.2 3.4 1.3 3.5 1.2 3.5 1.2 3.6 1.3 3.6 1.2 3.6M518.6 249.1l1.3-1.3 1.2-1.2 1.2-1.1 1.2-1 1.3-.8 1.2-.7 1.3-.6 1.2-.5 1.3-.3 1.3-.2 1.2-.1 1.3 0 1.3 .2 1.2 .3 1.3 .5 1.3 .6 1.3 .7 1.3 .9 1.3 1 1.2 1.1 1.3 1.3 1.3 1.4 1.3 1.5 1.3 1.7 1.3 1.8 1.3 2 1.2 2 1.3 2.2 1.3 2.3 1.3 2.4 1.3 2.5 1.3 2.6 1.2 2.8 1.3 2.8 1.3 3 1.2 3 1.3 3.1 1.3 3.2 1.2 3.2 1.3 3.4 1.2 3.3 1.3 3.5 1.2 3.5 1.2 3.5 1.3 3.6 1.2 3.5M519.1 249l1.2-1.4 1.2-1.3 1.2-1.2 1.3-1 1.2-1 1.3-.8 1.2-.7 1.3-.6 1.2-.5 1.3-.3 1.3-.2 1.2-.1 1.3 .1 1.3 .2 1.3 .3 1.3 .5 1.2 .6 1.3 .7 1.3 .9 1.3 1 1.3 1.1 1.3 1.3 1.3 1.4 1.3 1.5 1.3 1.7 1.2 1.8 1.3 1.9 1.3 2.1 1.3 2.1 1.3 2.3 1.3 2.4 1.3 2.5 1.2 2.6 1.3 2.7 1.3 2.8 1.3 2.9 1.2 3 1.3 3.1 1.3 3.2 1.2 3.2 1.3 3.3 1.2 3.4 1.3 3.4 1.2 3.4 1.3 3.5 1.2 3.5 1.2 3.5M521.9 246.1l1.3-1.2 1.2-1.2 1.2-1 1.3-1 1.2-.8 1.3-.7 1.3-.5 1.2-.5 1.3-.3 1.3-.2 1.3 0 1.2 0 1.3 .2 1.3 .4 1.3 .4 1.3 .6 1.3 .8 1.3 .8 1.2 1 1.3 1.2 1.3 1.3 1.3 1.3 1.3 1.6 1.3 1.6 1.3 1.8 1.3 1.9 1.3 2.1 1.3 2.1 1.3 2.3 1.3 2.3 1.2 2.5 1.3 2.6 1.3 2.7 1.3 2.8 1.3 2.9 1.2 3 1.3 3 1.3 3.1 1.2 3.2 1.3 3.3 1.3 3.3 1.2 3.4 1.3 3.4 1.2 3.5 1.2 3.4 1.3 3.5M522.4 246l1.2-1.3 1.2-1.2 1.3-1.2 1.2-1 1.3-.9 1.2-.8 1.3-.6 1.3-.6 1.2-.4 1.3-.3 1.3-.2 1.3-.1 1.3 .1 1.2 .2 1.3 .4 1.3 .5 1.3 .6 1.3 .7 1.3 .9 1.3 1 1.3 1.1 1.3 1.3 1.3 1.4 1.3 1.5 1.3 1.6 1.3 1.8 1.3 1.9 1.3 2 1.3 2.2 1.3 2.2 1.3 2.4 1.2 2.4 1.3 2.6 1.3 2.7 1.3 2.8 1.3 2.8 1.2 3 1.3 3 1.3 3.1 1.2 3.2 1.3 3.2 1.3 3.3 1.2 3.3 1.3 3.4 1.2 3.4 1.3 3.4 1.2 3.5M524 244.7l1.3-1.4 1.2-1.2 1.2-1.1 1.3-1 1.3-.8 1.2-.8 1.3-.7 1.3-.5 1.2-.4 1.3-.3 1.3-.2 1.3 0 1.3 .1 1.3 .2 1.3 .3 1.3 .5 1.3 .6 1.3 .8 1.2 .8 1.4 1 1.3 1.2 1.3 1.2 1.3 1.4 1.3 1.6 1.3 1.6 1.3 1.8 1.3 1.8 1.3 2.1 1.3 2.1 1.2 2.2 1.3 2.4 1.3 2.4 1.3 2.6 1.3 2.6 1.3 2.8 1.3 2.8 1.2 2.9 1.3 3 1.3 3.1 1.3 3.1 1.2 3.2 1.3 3.3 1.2 3.3 1.3 3.3 1.2 3.4 1.3 3.4 1.2 3.4M526.9 242l1.3-1.1 1.2-1.1 1.3-1 1.2-.9 1.3-.7 1.3-.6 1.3-.6 1.2-.4 1.3-.2 1.3-.2 1.3 0 1.3 .1 1.3 .2 1.3 .4 1.3 .5 1.3 .6 1.3 .7 1.3 .9 1.3 1 1.3 1.1 1.3 1.3 1.3 1.4 1.3 1.5 1.3 1.6 1.3 1.8 1.3 1.9 1.3 2 1.3 2.1 1.3 2.2 1.3 2.3 1.3 2.4 1.3 2.6 1.3 2.6 1.3 2.7 1.3 2.9 1.3 2.9 1.2 2.9 1.3 3.1 1.3 3.1 1.2 3.1 1.3 3.3 1.3 3.2 1.2 3.3 1.3 3.4 1.2 3.3 1.3 3.4M528.6 240.8l1.2-1.2 1.3-1 1.3-1 1.2-.8 1.3-.7 1.3-.7 1.3-.5 1.3-.3 1.2-.3 1.3-.1 1.3 0 1.3 .1 1.3 .2 1.3 .4 1.3 .5 1.3 .6 1.3 .7 1.4 .9 1.3 1 1.3 1.1 1.3 1.3 1.3 1.4 1.3 1.5 1.3 1.6 1.3 1.8 1.3 1.8 1.3 2 1.3 2.1 1.3 2.2 1.3 2.3 1.3 2.5 1.3 2.5 1.3 2.6 1.3 2.7 1.3 2.8 1.3 2.8 1.2 3 1.3 3 1.3 3.1 1.3 3.1 1.2 3.2 1.3 3.3 1.2 3.2 1.3 3.3 1.3 3.3 1.2 3.4M531.5 238.5l1.3-1 1.2-1 1.3-.8 1.3-.7 1.3-.6 1.3-.5 1.3-.4 1.3-.2 1.3-.1 1.3 0 1.3 .1 1.3 .2 1.3 .4 1.3 .5 1.3 .6 1.3 .8 1.3 .9 1.3 1 1.3 1.1 1.3 1.3 1.4 1.3 1.3 1.5 1.3 1.7 1.3 1.7 1.3 1.9 1.3 1.9 1.3 2.1 1.3 2.2 1.3 2.3 1.3 2.4 1.3 2.5 1.3 2.6 1.3 2.7 1.3 2.8 1.3 2.8 1.2 2.9 1.3 3 1.3 3.1 1.3 3.1 1.2 3.1 1.3 3.2 1.3 3.3 1.2 3.2 1.3 3.3 1.2 3.3M531.9 238.5l1.3-1.1 1.3-1 1.2-.9 1.3-.8 1.3-.7 1.3-.6 1.3-.5 1.3-.3 1.3-.2 1.3-.1 1.3 0 1.3 .1 1.3 .2 1.3 .4 1.3 .5 1.3 .7 1.3 .7 1.4 .9 1.3 1 1.3 1.1 1.3 1.3 1.3 1.4 1.3 1.5 1.3 1.6 1.4 1.7 1.3 1.9 1.3 1.9 1.3 2.1 1.3 2.2 1.3 2.3 1.3 2.4 1.3 2.5 1.3 2.5 1.3 2.7 1.3 2.7 1.3 2.9 1.3 2.9 1.2 2.9 1.3 3 1.3 3.1 1.3 3.1 1.2 3.2 1.3 3.2 1.3 3.2 1.2 3.3 1.3 3.2M533.6 237.4l1.3-1.1 1.2-.9 1.3-.9 1.3-.8 1.3-.7 1.3-.5 1.3-.5 1.3-.3 1.3-.2 1.3-.1 1.3 0 1.3 .2 1.3 .2 1.3 .4 1.4 .5 1.3 .7 1.3 .7 1.3 .9 1.3 1 1.4 1.1 1.3 1.3 1.3 1.4 1.3 1.5 1.3 1.6 1.3 1.7 1.4 1.9 1.3 1.9 1.3 2.1 1.3 2.1 1.3 2.3 1.3 2.4 1.3 2.5 1.3 2.5 1.3 2.7 1.3 2.7 1.3 2.8 1.3 2.9 1.3 2.9 1.2 3 1.3 3 1.3 3.1 1.3 3.2 1.2 3.1 1.3 3.2 1.3 3.2 1.2 3.2M536.5 235.4l1.3-1 1.3-.8 1.3-.8 1.3-.6 1.3-.6 1.3-.4 1.3-.3 1.3-.2 1.3-.1 1.3 0 1.4 .2 1.3 .3 1.3 .4 1.3 .5 1.3 .6 1.4 .8 1.3 .9 1.3 1 1.3 1.1 1.3 1.3 1.4 1.3 1.3 1.5 1.3 1.7 1.3 1.7 1.3 1.8 1.4 2 1.3 2 1.3 2.2 1.3 2.2 1.3 2.4 1.3 2.4 1.3 2.6 1.3 2.6 1.3 2.7 1.3 2.8 1.3 2.8 1.3 2.9 1.3 3 1.2 3 1.3 3.1 1.3 3.1 1.3 3.1 1.2 3.2 1.3 3.1 1.3 3.2M538.2 234.5l1.3-1 1.3-.8 1.3-.7 1.3-.7 1.3-.5 1.3-.4 1.3-.3 1.3-.2 1.4 0 1.3 0 1.3 .2 1.3 .3 1.3 .4 1.4 .5 1.3 .6 1.3 .8 1.3 .9 1.4 1 1.3 1.2 1.3 1.2 1.3 1.4 1.4 1.5 1.3 1.6 1.3 1.7 1.3 1.8 1.3 2 1.4 2 1.3 2.2 1.3 2.2 1.3 2.3 1.3 2.5 1.3 2.5 1.3 2.6 1.3 2.7 1.3 2.7 1.3 2.9 1.3 2.8 1.3 3 1.3 3 1.2 3 1.3 3.1 1.3 3.1 1.3 3.1 1.2 3.1 1.3 3.2M541.2 232.7l1.3-.8 1.3-.7 1.3-.6 1.3-.5 1.3-.4 1.3-.3 1.4-.2 1.3 0 1.3 0 1.3 .2 1.4 .3 1.3 .4 1.3 .6 1.3 .6 1.4 .8 1.3 .9 1.3 1 1.4 1.2 1.3 1.2 1.3 1.4 1.3 1.5 1.4 1.6 1.3 1.7 1.3 1.8 1.3 1.9 1.3 2.1 1.4 2.1 1.3 2.2 1.3 2.4 1.3 2.4 1.3 2.5 1.3 2.6 1.3 2.6 1.3 2.8 1.3 2.8 1.3 2.8 1.3 3 1.3 2.9 1.3 3 1.2 3.1 1.3 3 1.3 3.1 1.3 3.1 1.2 3.1M544.2 231.1l1.3-.6 1.3-.6 1.3-.5 1.4-.4 1.3-.2 1.3-.2 1.3 0 1.3 .1 1.4 .2 1.3 .3 1.3 .4 1.4 .5 1.3 .7 1.3 .8 1.4 .9 1.3 1 1.3 1.2 1.3 1.2 1.4 1.4 1.3 1.5 1.3 1.6 1.4 1.7 1.3 1.8 1.3 1.9 1.3 2 1.4 2.1 1.3 2.3 1.3 2.3 1.3 2.4 1.3 2.5 1.3 2.5 1.3 2.7 1.3 2.7 1.3 2.8 1.3 2.8 1.3 2.9 1.3 2.9 1.3 3 1.3 3 1.2 3.1 1.3 3 1.3 3.1 1.3 3M544.6 231.2l1.3-.7 1.3-.7 1.3-.6 1.3-.4 1.4-.4 1.3-.2 1.3-.1 1.3-.1 1.4 .1 1.3 .2 1.3 .4 1.4 .4 1.3 .6 1.3 .6 1.4 .8 1.3 .9 1.3 1.1 1.4 1.1 1.3 1.3 1.4 1.3 1.3 1.5 1.3 1.6 1.3 1.7 1.4 1.8 1.3 1.9 1.3 2 1.3 2.2 1.4 2.2 1.3 2.3 1.3 2.4 1.3 2.4 1.3 2.6 1.3 2.6 1.3 2.7 1.3 2.7 1.3 2.9 1.3 2.8 1.3 2.9 1.3 3 1.3 3 1.3 3 1.3 3 1.2 3 1.3 3M546.3 230.6l1.3-.7 1.3-.7 1.3-.5 1.4-.5 1.3-.3 1.3-.2 1.3-.1 1.4 0 1.3 .1 1.3 .2 1.4 .3 1.3 .5 1.4 .5 1.3 .7 1.3 .8 1.4 .9 1.3 1.1 1.4 1.1 1.3 1.3 1.3 1.3 1.4 1.5 1.3 1.6 1.3 1.7 1.4 1.8 1.3 1.9 1.3 2 1.3 2.1 1.4 2.2 1.3 2.3 1.3 2.4 1.3 2.4 1.3 2.6 1.3 2.6 1.3 2.7 1.3 2.7 1.3 2.8 1.3 2.8 1.3 2.9 1.3 2.9 1.3 3 1.3 2.9 1.3 3 1.3 3 1.2 3M549.3 229.3l1.3-.6 1.4-.5 1.3-.4 1.3-.4 1.3-.2 1.4-.1 1.3 .1 1.4 .1 1.3 .2 1.3 .4 1.4 .4 1.3 .6 1.4 .7 1.3 .8 1.3 .9 1.4 1.1 1.3 1.1 1.4 1.3 1.3 1.3 1.3 1.5 1.4 1.6 1.3 1.7 1.3 1.8 1.4 1.9 1.3 2 1.3 2.1 1.4 2.2 1.3 2.2 1.3 2.4 1.3 2.4 1.3 2.6 1.3 2.5 1.4 2.7 1.3 2.7 1.3 2.8 1.3 2.8 1.3 2.9 1.3 2.8 1.2 3 1.3 2.9 1.3 3 1.3 2.9 1.3 3M552.3 228.2l1.4-.5 1.3-.4 1.3-.2 1.4-.2 1.3-.1 1.3 0 1.4 .2 1.3 .2 1.4 .4 1.3 .4 1.4 .6 1.3 .7 1.4 .8 1.3 1 1.3 1 1.4 1.2 1.3 1.2 1.4 1.4 1.3 1.5 1.4 1.6 1.3 1.7 1.3 1.7 1.4 1.9 1.3 2 1.3 2.1 1.4 2.2 1.3 2.3 1.3 2.3 1.3 2.4 1.3 2.5 1.4 2.6 1.3 2.6 1.3 2.7 1.3 2.8 1.3 2.7 1.3 2.9 1.3 2.8 1.3 2.9 1.3 3 1.2 2.9 1.3 2.9 1.3 2.9M554 227.8l1.4-.4 1.3-.4 1.4-.3 1.3-.1 1.3-.1 1.4 0 1.3 .2 1.4 .3 1.3 .3 1.4 .5 1.3 .6 1.4 .7 1.3 .9 1.4 .9 1.3 1 1.4 1.2 1.3 1.2 1.4 1.4 1.3 1.5 1.3 1.6 1.4 1.7 1.3 1.8 1.4 1.9 1.3 1.9 1.3 2.1 1.4 2.2 1.3 2.2 1.3 2.4 1.3 2.4 1.3 2.5 1.4 2.5 1.3 2.6 1.3 2.7 1.3 2.7 1.3 2.8 1.3 2.8 1.3 2.8 1.3 2.9 1.3 2.9 1.3 2.9 1.3 2.9 1.2 2.9M557.1 227l1.3-.3 1.4-.2 1.3-.2 1.4 0 1.3 0 1.4 .2 1.3 .3 1.4 .4 1.3 .5 1.4 .6 1.3 .7 1.4 .8 1.3 1 1.4 1 1.3 1.2 1.4 1.2 1.3 1.4 1.4 1.5 1.3 1.6 1.4 1.7 1.3 1.8 1.3 1.8 1.4 2 1.3 2.1 1.3 2.1 1.4 2.3 1.3 2.3 1.3 2.4 1.3 2.5 1.4 2.5 1.3 2.6 1.3 2.6 1.3 2.7 1.3 2.8 1.3 2.8 1.3 2.8 1.3 2.8 1.3 2.9 1.3 2.8 1.3 2.9 1.3 2.9M558.8 226.8l1.4-.3 1.3-.2 1.4-.2 1.3 0 1.4 .1 1.3 .2 1.4 .3 1.3 .4 1.4 .5 1.3 .6 1.4 .7 1.3 .9 1.4 .9 1.3 1.1 1.4 1.1 1.3 1.3 1.4 1.4 1.3 1.5 1.4 1.6 1.3 1.6 1.4 1.8 1.3 1.9 1.4 2 1.3 2 1.3 2.2 1.4 2.2 1.3 2.3 1.3 2.4 1.4 2.4 1.3 2.6 1.3 2.5 1.3 2.7 1.3 2.6 1.3 2.8 1.3 2.7 1.3 2.8 1.3 2.8 1.3 2.9 1.3 2.8 1.3 2.8 1.3 2.8M560.5 226.6l1.4-.3 1.3-.2 1.4-.1 1.3 0 1.4 .1 1.3 .2 1.4 .3 1.4 .4 1.3 .6 1.4 .6 1.3 .7 1.4 .9 1.4 .9 1.3 1.1 1.4 1.2 1.3 1.2 1.4 1.4 1.3 1.5 1.4 1.6 1.3 1.7 1.4 1.8 1.3 1.8 1.4 2 1.3 2 1.3 2.2 1.4 2.2 1.3 2.3 1.3 2.4 1.4 2.4 1.3 2.5 1.3 2.6 1.3 2.6 1.3 2.6 1.3 2.7 1.3 2.8 1.3 2.7 1.4 2.8 1.3 2.8 1.2 2.8 1.3 2.8 1.3 2.8M562.2 226.5l1.4-.3 1.4-.2 1.3 0 1.4 0 1.3 .1 1.4 .2 1.3 .3 1.4 .5 1.4 .5 1.3 .7 1.4 .7 1.4 .9 1.3 .9 1.4 1.1 1.3 1.2 1.4 1.3 1.3 1.3 1.4 1.5 1.4 1.6 1.3 1.7 1.4 1.8 1.3 1.8 1.3 2 1.4 2 1.3 2.2 1.4 2.2 1.3 2.2 1.3 2.4 1.4 2.4 1.3 2.5 1.3 2.6 1.3 2.5 1.3 2.7 1.3 2.7 1.4 2.7 1.3 2.7 1.3 2.8 1.3 2.7 1.3 2.8 1.3 2.8 1.3 2.7M565.3 226.2l1.4-.2 1.3 0 1.4 0 1.4 .1 1.3 .3 1.4 .3 1.4 .5 1.3 .5 1.4 .7 1.4 .7 1.3 .9 1.4 1 1.3 1.1 1.4 1.1 1.4 1.3 1.3 1.4 1.4 1.5 1.3 1.6 1.4 1.7 1.3 1.7 1.4 1.9 1.3 1.9 1.4 2.1 1.3 2.1 1.4 2.2 1.3 2.3 1.3 2.3 1.4 2.4 1.3 2.5 1.3 2.5 1.3 2.6 1.3 2.6 1.4 2.7 1.3 2.7 1.3 2.7 1.3 2.7 1.3 2.7 1.3 2.8 1.3 2.7 1.3 2.8M567 226.2l1.4-.1 1.4-.1 1.3 .1 1.4 .1 1.4 .3 1.3 .4 1.4 .4 1.4 .6 1.3 .7 1.4 .7 1.4 .9 1.3 1 1.4 1.1 1.4 1.2 1.3 1.3 1.4 1.3 1.3 1.5 1.4 1.6 1.4 1.7 1.3 1.8 1.4 1.8 1.3 2 1.4 2 1.3 2.1 1.3 2.2 1.4 2.3 1.3 2.3 1.4 2.4 1.3 2.5 1.3 2.5 1.3 2.5 1.3 2.6 1.4 2.7 1.3 2.6 1.3 2.7 1.3 2.7 1.3 2.7 1.3 2.7 1.3 2.8 1.3 2.7M568.8 226.3l1.3-.1 1.4 0 1.4 0 1.3 .2 1.4 .3 1.4 .4 1.4 .4 1.3 .6 1.4 .7 1.4 .8 1.3 .9 1.4 1 1.4 1.1 1.3 1.2 1.4 1.3 1.4 1.3 1.3 1.5 1.4 1.6 1.3 1.7 1.4 1.8 1.3 1.8 1.4 2 1.3 2 1.4 2.1 1.3 2.2 1.4 2.2 1.3 2.4 1.3 2.3 1.4 2.5 1.3 2.5 1.3 2.5 1.4 2.6 1.3 2.6 1.3 2.7 1.3 2.6 1.3 2.7 1.3 2.7 1.3 2.7 1.3 2.7 1.3 2.6M571.9 226.3l1.3 0 1.4 .1 1.4 .2 1.3 .3 1.4 .4 1.4 .5 1.4 .6 1.3 .7 1.4 .8 1.4 .9 1.4 1 1.3 1.1 1.4 1.2 1.4 1.3 1.3 1.4 1.4 1.5 1.4 1.6 1.3 1.7 1.4 1.7 1.3 1.9 1.4 1.9 1.3 2.1 1.4 2.1 1.3 2.1 1.4 2.3 1.3 2.3 1.3 2.4 1.4 2.4 1.3 2.5 1.3 2.5 1.4 2.5 1.3 2.6 1.3 2.7 1.3 2.6 1.3 2.7 1.3 2.6 1.4 2.7 1.3 2.6 1.3 2.7M573.6 226.6l1.4 0 1.3 .1 1.4 .2 1.4 .3 1.4 .5 1.3 .5 1.4 .6 1.4 .7 1.4 .8 1.3 .9 1.4 1 1.4 1.1 1.4 1.2 1.3 1.3 1.4 1.4 1.4 1.5 1.3 1.6 1.4 1.7 1.4 1.8 1.3 1.8 1.4 2 1.3 2 1.4 2.1 1.3 2.1 1.4 2.3 1.3 2.3 1.3 2.3 1.4 2.4 1.3 2.5 1.3 2.5 1.4 2.6 1.3 2.5 1.3 2.6 1.3 2.7 1.3 2.6 1.4 2.6 1.3 2.7 1.3 2.6 1.3 2.6M575.3 226.8l1.4 .1 1.4 .1 1.3 .3 1.4 .3 1.4 .4 1.4 .6 1.4 .6 1.3 .7 1.4 .8 1.4 1 1.4 1 1.3 1.1 1.4 1.2 1.4 1.3 1.4 1.4 1.3 1.5 1.4 1.6 1.4 1.7 1.3 1.8 1.4 1.8 1.3 2 1.4 2 1.3 2.1 1.4 2.1 1.3 2.2 1.4 2.3 1.3 2.4 1.4 2.4 1.3 2.4 1.3 2.5 1.4 2.5 1.3 2.6 1.3 2.6 1.3 2.6 1.3 2.6 1.4 2.6 1.3 2.6 1.3 2.6 1.3 2.6M577 227.2l1.4 .1 1.4 .1 1.4 .3 1.4 .3 1.3 .5 1.4 .5 1.4 .7 1.4 .7 1.4 .8 1.4 1 1.3 1 1.4 1.1 1.4 1.3 1.4 1.3 1.3 1.4 1.4 1.5 1.4 1.6 1.3 1.7 1.4 1.7 1.4 1.9 1.3 1.9 1.4 2 1.3 2.1 1.4 2.2 1.3 2.2 1.4 2.3 1.3 2.3 1.4 2.4 1.3 2.4 1.3 2.5 1.4 2.5 1.3 2.5 1.3 2.6 1.3 2.6 1.4 2.6 1.3 2.5 1.3 2.6 1.3 2.6 1.3 2.5M580.1 227.7l1.4 .2 1.4 .2 1.4 .4 1.4 .5 1.4 .5 1.4 .7 1.3 .8 1.4 .8 1.4 1 1.4 1 1.4 1.1 1.3 1.3 1.4 1.3 1.4 1.4 1.4 1.5 1.3 1.6 1.4 1.7 1.4 1.8 1.3 1.8 1.4 1.9 1.4 2 1.3 2.1 1.4 2.2 1.3 2.2 1.4 2.2 1.3 2.4 1.3 2.3 1.4 2.4 1.3 2.5 1.4 2.5 1.3 2.5 1.3 2.6 1.3 2.5 1.4 2.6 1.3 2.5 1.3 2.6 1.3 2.5 1.3 2.6M581.9 228.1l1.4 .2 1.3 .3 1.4 .4 1.4 .5 1.4 .6 1.4 .7 1.4 .8 1.4 .8 1.4 1 1.3 1 1.4 1.2 1.4 1.2 1.4 1.4 1.4 1.4 1.3 1.5 1.4 1.6 1.4 1.7 1.3 1.7 1.4 1.9 1.4 1.9 1.3 2 1.4 2.1 1.3 2.1 1.4 2.2 1.3 2.3 1.4 2.3 1.3 2.4 1.4 2.4 1.3 2.4 1.3 2.5 1.4 2.5 1.3 2.5 1.3 2.5 1.4 2.6 1.3 2.5 1.3 2.6 1.3 2.5 1.3 2.5M585 228.9l1.4 .3 1.4 .4 1.4 .5 1.3 .6 1.4 .7 1.4 .8 1.4 .9 1.4 1 1.4 1 1.4 1.2 1.4 1.2 1.3 1.4 1.4 1.4 1.4 1.5 1.4 1.6 1.3 1.7 1.4 1.8 1.4 1.8 1.3 1.9 1.4 2 1.4 2.1 1.3 2.1 1.4 2.2 1.3 2.3 1.4 2.3 1.3 2.3 1.4 2.4 1.3 2.5 1.3 2.4 1.4 2.5 1.3 2.5 1.3 2.5 1.4 2.5 1.3 2.6 1.3 2.5 1.3 2.5 1.4 2.4M585.3 229.2l1.4 .3 1.4 .3 1.4 .5 1.4 .5 1.4 .6 1.4 .7 1.4 .8 1.4 .9 1.4 1 1.3 1.1 1.4 1.1 1.4 1.3 1.4 1.3 1.4 1.5 1.4 1.5 1.3 1.6 1.4 1.7 1.4 1.8 1.3 1.8 1.4 1.9 1.4 2 1.3 2.1 1.4 2.1 1.4 2.2 1.3 2.2 1.4 2.3 1.3 2.4 1.3 2.4 1.4 2.4 1.3 2.4 1.4 2.5 1.3 2.5 1.3 2.5 1.4 2.5 1.3 2.5 1.3 2.4 1.3 2.5 1.4 2.4M587 229.8l1.4 .3 1.4 .4 1.4 .4 1.4 .6 1.4 .6 1.4 .7 1.4 .9 1.4 .9 1.4 1 1.4 1.1 1.4 1.1 1.4 1.3 1.4 1.4 1.3 1.4 1.4 1.5 1.4 1.6 1.4 1.7 1.3 1.8 1.4 1.9 1.4 1.9 1.3 2 1.4 2 1.4 2.2 1.3 2.1 1.4 2.3 1.3 2.2 1.4 2.4 1.3 2.3 1.4 2.4 1.3 2.5 1.4 2.4 1.3 2.5 1.3 2.5 1.4 2.4 1.3 2.5 1.3 2.5 1.3 2.4 1.4 2.4M590.2 230.8l1.4 .4 1.4 .5 1.4 .5 1.4 .7 1.4 .7 1.4 .9 1.3 .9 1.4 1 1.4 1.1 1.4 1.2 1.4 1.3 1.4 1.3 1.4 1.5 1.4 1.5 1.4 1.6 1.3 1.7 1.4 1.8 1.4 1.9 1.3 1.9 1.4 2 1.4 2 1.3 2.1 1.4 2.2 1.4 2.2 1.3 2.3 1.4 2.3 1.3 2.4 1.4 2.4 1.3 2.4 1.3 2.4 1.4 2.5 1.3 2.4 1.3 2.5 1.4 2.4 1.3 2.5 1.3 2.4 1.4 2.4M591.9 231.5l1.4 .4 1.4 .5 1.4 .6 1.4 .7 1.4 .7 1.4 .9 1.4 .9 1.4 1.1 1.4 1.1 1.4 1.2 1.4 1.3 1.4 1.4 1.3 1.4 1.4 1.6 1.4 1.6 1.4 1.7 1.4 1.7 1.3 1.9 1.4 1.9 1.4 2 1.3 2.1 1.4 2.1 1.4 2.1 1.3 2.3 1.4 2.2 1.3 2.3 1.4 2.4 1.3 2.3 1.4 2.4 1.3 2.5 1.4 2.4 1.3 2.4 1.3 2.5 1.4 2.4 1.3 2.4 1.3 2.4 1.4 2.4M593.6 232.3l1.4 .4 1.4 .5 1.4 .6 1.4 .7 1.4 .8 1.4 .9 1.4 .9 1.4 1.1 1.4 1.1 1.4 1.2 1.4 1.3 1.4 1.4 1.4 1.5 1.4 1.5 1.4 1.7 1.3 1.7 1.4 1.7 1.4 1.9 1.4 1.9 1.3 2 1.4 2 1.4 2.2 1.3 2.1 1.4 2.2 1.4 2.3 1.3 2.3 1.4 2.3 1.3 2.4 1.4 2.4 1.3 2.4 1.3 2.4 1.4 2.4 1.3 2.4 1.4 2.4 1.3 2.4 1.3 2.4 1.4 2.3M595.3 233.1l1.4 .4 1.4 .6 1.4 .6 1.5 .7 1.4 .8 1.4 .9 1.4 1 1.4 1 1.4 1.2 1.4 1.2 1.4 1.3 1.3 1.4 1.4 1.5 1.4 1.5 1.4 1.7 1.4 1.7 1.4 1.8 1.4 1.8 1.3 1.9 1.4 2 1.4 2.1 1.3 2.1 1.4 2.1 1.4 2.2 1.3 2.3 1.4 2.3 1.3 2.3 1.4 2.3 1.3 2.4 1.4 2.4 1.3 2.4 1.4 2.4 1.3 2.4 1.3 2.4 1.4 2.4 1.3 2.3 1.4 2.3M598.5 234.4l1.4 .6 1.4 .6 1.4 .8 1.4 .8 1.4 .9 1.4 1 1.4 1 1.4 1.2 1.4 1.2 1.4 1.4 1.4 1.4 1.4 1.4 1.4 1.6 1.4 1.6 1.3 1.8 1.4 1.7 1.4 1.9 1.4 1.9 1.4 2 1.3 2 1.4 2.1 1.4 2.2 1.3 2.2 1.4 2.2 1.4 2.3 1.3 2.3 1.4 2.4 1.3 2.3 1.4 2.4 1.3 2.4 1.3 2.4 1.4 2.3 1.3 2.4 1.4 2.4 1.3 2.3 1.3 2.3M600.2 235.3l1.4 .6 1.4 .7 1.4 .7 1.4 .9 1.4 .9 1.4 1 1.4 1.1 1.4 1.1 1.4 1.3 1.4 1.3 1.4 1.4 1.4 1.5 1.4 1.6 1.4 1.6 1.4 1.8 1.4 1.8 1.4 1.8 1.3 1.9 1.4 2 1.4 2.1 1.4 2.1 1.3 2.1 1.4 2.2 1.4 2.2 1.3 2.3 1.4 2.3 1.3 2.3 1.4 2.4 1.3 2.3 1.4 2.4 1.3 2.4 1.4 2.3 1.3 2.4 1.4 2.3 1.3 2.3 1.3 2.3M600.5 235.7l1.4 .5 1.4 .6 1.4 .7 1.4 .8 1.4 .9 1.5 .9 1.4 1 1.4 1.1 1.4 1.2 1.4 1.3 1.4 1.3 1.4 1.5 1.4 1.5 1.4 1.5 1.4 1.7 1.3 1.7 1.4 1.8 1.4 1.9 1.4 1.9 1.4 2 1.3 2 1.4 2.1 1.4 2.1 1.4 2.2 1.3 2.3 1.4 2.2 1.3 2.3 1.4 2.3 1.4 2.4 1.3 2.3 1.4 2.4 1.3 2.3 1.3 2.4 1.4 2.3 1.3 2.3 1.4 2.3 1.3 2.2M603.6 237.2l1.4 .6 1.4 .7 1.5 .8 1.4 .9 1.4 1 1.4 1 1.4 1.1 1.4 1.2 1.4 1.3 1.4 1.4 1.4 1.4 1.4 1.5 1.4 1.6 1.4 1.7 1.4 1.7 1.4 1.8 1.4 1.8 1.3 2 1.4 2 1.4 2 1.4 2.1 1.3 2.1 1.4 2.2 1.4 2.2 1.3 2.3 1.4 2.3 1.4 2.3 1.3 2.3 1.4 2.3 1.3 2.4 1.4 2.3 1.3 2.3 1.4 2.3 1.3 2.3 1.4 2.3 1.3 2.2M605.3 238.2l1.4 .6 1.5 .8 1.4 .8 1.4 .9 1.4 1 1.4 1 1.4 1.2 1.4 1.2 1.4 1.3 1.4 1.3 1.4 1.5 1.4 1.5 1.4 1.6 1.4 1.7 1.4 1.7 1.4 1.8 1.4 1.9 1.4 1.9 1.4 2 1.3 2 1.4 2.1 1.4 2.1 1.4 2.2 1.3 2.2 1.4 2.3 1.4 2.2 1.3 2.3 1.4 2.3 1.3 2.4 1.4 2.3 1.3 2.3 1.4 2.3 1.3 2.3 1.4 2.3 1.3 2.2 1.4 2.2M608.5 239.9l1.4 .7 1.4 .9 1.4 .9 1.4 1 1.4 1 1.5 1.2 1.4 1.2 1.4 1.3 1.4 1.4 1.4 1.5 1.4 1.5 1.4 1.6 1.4 1.7 1.4 1.7 1.4 1.8 1.3 1.9 1.4 1.9 1.4 2 1.4 2.1 1.4 2 1.3 2.2 1.4 2.1 1.4 2.2 1.4 2.3 1.3 2.3 1.4 2.2 1.3 2.3 1.4 2.3 1.4 2.3 1.3 2.4 1.4 2.2 1.3 2.3 1.4 2.3 1.3 2.2 1.4 2.1M607.3 239.6l1.4 .6 1.5 .7 1.4 .8 1.4 .9 1.4 .9 1.4 1 1.5 1.1 1.4 1.2 1.4 1.2 1.4 1.3 1.4 1.4 1.4 1.5 1.4 1.5 1.4 1.7 1.4 1.6 1.4 1.8 1.4 1.8 1.4 1.9 1.4 1.9 1.4 2 1.3 2 1.4 2.1 1.4 2.1 1.4 2.2 1.3 2.2 1.4 2.2 1.4 2.3 1.3 2.3 1.4 2.3 1.4 2.2 1.3 2.3 1.4 2.3 1.3 2.3 1.4 2.3 1.3 2.2 1.4 2.2 1.3 2.1M610.4 241.3l1.5 .7 1.4 .8 1.4 .9 1.4 .9 1.5 1.1 1.4 1.1 1.4 1.2 1.4 1.2 1.4 1.3 1.4 1.5 1.4 1.4 1.4 1.6 1.4 1.6 1.4 1.7 1.4 1.8 1.4 1.8 1.4 1.8 1.4 2 1.4 2 1.4 2 1.4 2.1 1.3 2.1 1.4 2.2 1.4 2.2 1.4 2.2 1.3 2.3 1.4 2.2 1.4 2.3 1.3 2.3 1.4 2.3 1.3 2.2 1.4 2.3 1.3 2.2 1.4 2.2 1.4 2.2 1.3 2.1M610.7 241.6l1.5 .7 1.4 .8 1.4 .8 1.4 .9 1.5 1 1.4 1 1.4 1.2 1.4 1.2 1.4 1.2 1.4 1.4 1.5 1.4 1.4 1.5 1.4 1.6 1.4 1.6 1.4 1.7 1.4 1.7 1.4 1.9 1.4 1.9 1.3 1.9 1.4 2 1.4 2 1.4 2.1 1.4 2.1 1.4 2.2 1.3 2.2 1.4 2.2 1.4 2.2 1.3 2.3 1.4 2.3 1.4 2.2 1.3 2.3 1.4 2.2 1.3 2.3 1.4 2.2 1.4 2.2 1.3 2.1 1.4 2.1M613.9 243.4l1.4 .8 1.4 .8 1.4 .9 1.5 1 1.4 1.1 1.4 1.1 1.4 1.3 1.4 1.3 1.5 1.3 1.4 1.5 1.4 1.5 1.4 1.5 1.4 1.7 1.4 1.7 1.4 1.8 1.4 1.8 1.4 1.9 1.4 1.9 1.4 2 1.4 2 1.3 2.1 1.4 2.1 1.4 2.2 1.4 2.2 1.3 2.2 1.4 2.2 1.4 2.3 1.4 2.2 1.3 2.3 1.4 2.2 1.3 2.3 1.4 2.2 1.4 2.2 1.3 2.2 1.4 2.1 1.3 2.1M614.1 243.7l1.5 .8 1.4 .8 1.4 .8 1.4 1 1.5 1 1.4 1.1 1.4 1.2 1.4 1.2 1.5 1.3 1.4 1.4 1.4 1.4 1.4 1.5 1.4 1.6 1.4 1.7 1.4 1.7 1.4 1.8 1.4 1.8 1.4 1.9 1.4 1.9 1.4 2 1.4 2.1 1.4 2.1 1.4 2.1 1.3 2.1 1.4 2.2 1.4 2.2 1.4 2.2 1.3 2.3 1.4 2.2 1.4 2.3 1.3 2.2 1.4 2.2 1.4 2.2 1.3 2.2 1.4 2.2 1.3 2.1 1.4 2M615.8 244.8l1.5 .7 1.4 .9 1.4 .9 1.5 .9 1.4 1.1 1.4 1.1 1.4 1.2 1.5 1.2 1.4 1.3 1.4 1.4 1.4 1.5 1.4 1.5 1.4 1.6 1.4 1.7 1.4 1.7 1.5 1.8 1.4 1.8 1.3 1.9 1.4 2 1.4 2 1.4 2 1.4 2.1 1.4 2.1 1.4 2.2 1.4 2.1 1.3 2.2 1.4 2.3 1.4 2.2 1.3 2.2 1.4 2.3 1.4 2.2 1.3 2.2 1.4 2.2 1.4 2.2 1.3 2.1 1.4 2.1 1.4 2" fill="none" stroke="#000" stroke-width="0.85" stroke-linejoin="round"/>
</g>
<path d="M493.4 278.0C494.8 275.9 497.8 271.0 502.2 265.7C506.6 260.5 513.9 251.7 519.7 246.4C525.6 241.1 531.4 237.2 537.2 234.1C543.1 231.0 548.9 229.3 554.8 227.8C560.7 226.3 566.5 225.1 572.4 225.3C578.3 225.5 584.2 226.8 590.0 228.8C595.9 230.9 601.8 233.9 607.6 237.7C613.5 241.5 619.3 246.2 625.2 251.7C631.0 257.3 636.8 263.4 642.6 271.0C648.4 278.5 655.9 290.8 660.1 297.2C664.3 303.6 666.6 307.4 667.8 309.5L667.1 310.0C665.6 308.1 662.5 304.8 658.0 298.6C653.4 292.4 645.7 280.5 639.9 273.0C634.2 265.5 628.9 259.2 623.4 253.6C617.8 248.0 612.2 243.1 606.6 239.3C600.9 235.4 595.2 232.4 589.5 230.4C583.8 228.4 578.0 227.2 572.4 227.2C566.7 227.2 561.0 228.6 555.4 230.1C549.8 231.7 544.2 233.6 538.6 236.7C533.0 239.8 527.6 243.7 521.9 248.8C516.1 253.9 508.7 262.3 504.0 267.3C499.4 272.2 495.8 276.6 494.1 278.5Z" fill="#000"/>
<text transform="translate(488.1 227.6) rotate(0.0) scale(0.96 1)" font-size="7.1" text-anchor="end">24.9</text>
<text transform="translate(489.0 250.7) rotate(0.0) scale(0.96 1)" font-size="7.1" text-anchor="end">23.55</text>
<text transform="translate(489.8 273.6) rotate(0.0) scale(0.96 1)" font-size="7.1" text-anchor="end">22.2</text>
<text transform="translate(490.7 296.4) rotate(0.0) scale(0.96 1)" font-size="7.1" text-anchor="end">20.85</text>
<text transform="translate(491.6 318.9) rotate(0.0) scale(0.96 1)" font-size="7.1" text-anchor="end">19.5</text>
<text transform="translate(469.2 284.8) rotate(-90) scale(1 .8)" font-size="9.4" text-anchor="middle"><tspan font-size="12">σ</tspan><tspan font-size="8" dy="2.2">ash</tspan><tspan dy="-2.2"> (%)</tspan></text>
<text transform="translate(485.4 348.2) rotate(0.0) scale(0.96 1)" font-size="7.1" text-anchor="middle">0.48</text>
<text transform="translate(500.0 359.1) rotate(0.0) scale(0.96 1)" font-size="7.1" text-anchor="middle">0.51</text>
<text transform="translate(514.5 370.0) rotate(0.0) scale(0.96 1)" font-size="7.1" text-anchor="middle">0.54</text>
<text transform="translate(528.4 380.7) rotate(0.0) scale(0.96 1)" font-size="7.1" text-anchor="middle">0.58</text>
<text transform="translate(542.3 392.0) rotate(0.0) scale(0.96 1)" font-size="7.1" text-anchor="middle">0.61</text>
<text transform="translate(563.9 392.0) rotate(0.0) scale(0.96 1)" font-size="7.1" text-anchor="middle">60.00</text>
<text transform="translate(590.5 385.2) rotate(0.0) scale(0.96 1)" font-size="7.1" text-anchor="middle">70.00</text>
<text transform="translate(619.6 378.9) rotate(0.0) scale(0.96 1)" font-size="7.1" text-anchor="middle">80.00</text>
<text transform="translate(648.7 372.5) rotate(0.0) scale(0.96 1)" font-size="7.1" text-anchor="middle">90.00</text>
<text transform="translate(677.8 366.2) rotate(0.0) scale(0.96 1)" font-size="7.1" text-anchor="middle">100.00</text>
<text transform="translate(498.9 379.9) rotate(38.8) scale(0.88 1)" font-size="9.9" text-anchor="middle">C: Air velocity (m/s)</text>
<text transform="translate(618.3 390.5) rotate(-14.0) scale(0.88 1)" font-size="9.9" text-anchor="middle">D: Bed height(mm)</text>
<text transform="translate(649.2 248.4) rotate(0.0) scale(1.00 1)" font-size="21" text-anchor="middle">f</text>
</svg></body></html>
